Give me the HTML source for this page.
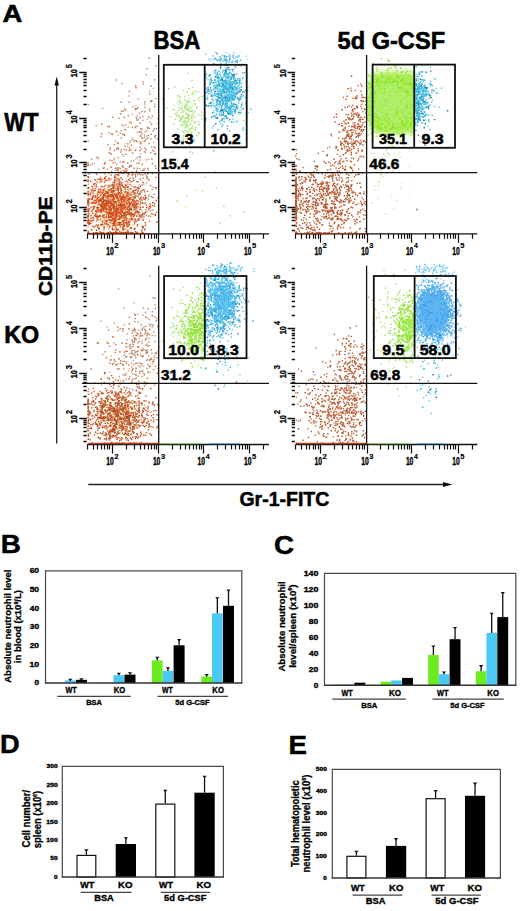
<!DOCTYPE html>
<html><head><meta charset="utf-8"><style>
html,body{margin:0;padding:0;background:#fff;overflow:hidden;}
svg{display:block;}
text{font-family:"Liberation Sans",sans-serif;font-weight:bold;fill:#000;}
</style></head><body>
<svg width="520" height="911" viewBox="0 0 520 911">
<rect width="520" height="911" fill="#fff"/>
<defs><radialGradient id="cr"><stop offset="0" stop-color="#f8e2b0"/><stop offset="0.6" stop-color="#faeccc" stop-opacity="0.8"/><stop offset="1" stop-color="#fff" stop-opacity="0"/></radialGradient></defs>
<ellipse cx="115" cy="207" rx="32" ry="30" fill="url(#cr)"/>
<ellipse cx="118" cy="415" rx="30" ry="26" fill="url(#cr)" opacity="0.55"/>
<filter id="gb" x="-0.5" y="-0.5" width="2" height="2"><feGaussianBlur stdDeviation="3"/></filter>
<clipPath id="c2"><rect x="367.5" y="60" width="46.7" height="100"/></clipPath>
<g clip-path="url(#c2)"><rect x="370" y="73" width="50" height="60" rx="10" fill="#9ce832" filter="url(#gb)"/></g>
<clipPath id="c4"><rect x="415.4" y="270" width="60" height="100"/></clipPath>
<g clip-path="url(#c4)"><ellipse cx="434" cy="312" rx="13" ry="17" fill="#52aaf0" filter="url(#gb)"/></g>
<filter id="bl" x="0" y="0" width="1" height="1"><feGaussianBlur stdDeviation="0.45"/></filter>
<g fill="none" stroke-width="1.4" stroke-linecap="square" filter="url(#bl)"><path stroke="#f0a060" d="M92.2 229.5h0M113.8 210.6h0M87.9 191.6h0M89.1 233h0M113.9 194.8h0M122.6 193.1h0M127 230.5h0M113.4 204h0M127.5 205h0M88.4 221.7h0M128.5 232.7h0M93.2 202.8h0M130.2 208.1h0M98.6 216.4h0M132.9 220.3h0M117.9 232.7h0M114.6 186.4h0M149.4 216.1h0M118.6 223.5h0M126.8 212.8h0M113.3 181.7h0M143.1 219h0M108.9 229.2h0M122.8 215.7h0M125.6 229h0M94.2 185.9h0M104.8 224.2h0M103.6 203.6h0M101.8 181.2h0M118.8 175.5h0M89 213.4h0M130.6 220.6h0M128.9 191.9h0M123.6 210.4h0M111.3 175h0M101.3 232.8h0M107.8 226.8h0M89.2 222.4h0M118.8 185h0M129.6 224.9h0M132.8 203.6h0M116.9 213.4h0M113.6 223.2h0M99.9 199.6h0M119.3 184.1h0M101.6 197.8h0M149.4 206.6h0M119.5 202h0M116.1 186.7h0M105.8 185.1h0M132.7 174h0M88 216.3h0M103.2 198.2h0M127.9 193.2h0M110.2 198.8h0M110.4 195.8h0M115.3 232.7h0M141.9 210.3h0M129.9 206.3h0M96.1 197.6h0M137.1 226.3h0M119.6 185.4h0M104.2 205h0M118.3 171.1h0M132.7 204.7h0M127.8 182.2h0M125.5 222.8h0M111 216.4h0M125.9 206.7h0M108.1 212.3h0M142.2 217.6h0M104.8 220.5h0M101.7 224h0M134.1 224.8h0M132.4 196.6h0M106.3 220.8h0M120.9 193.2h0M115.8 190.2h0M136 205.5h0M111.8 205.6h0M109.5 195.4h0M116.4 196h0M116.9 217.1h0M87.9 227h0M120 205.3h0M96.5 184.2h0M150.8 216.3h0M115.9 210.8h0M124.4 195h0M112.7 217.7h0M103 217.5h0M109.5 217.4h0M123.1 201.4h0M122.4 202.6h0M115.3 195.6h0M101 232.8h0M88.4 194.5h0M136.7 210.2h0M127.5 223.7h0M94.9 232.9h0M133.9 202.5h0M134.5 206.8h0M105.3 211.6h0M112.8 195.3h0M110.5 205.8h0M96.4 203.2h0M137.1 205h0M125.4 203.5h0M99.8 182.5h0M122.2 201.9h0M135.8 188.1h0M113 201.4h0M104.2 190.3h0M104.5 174h0M130.2 192.5h0M102.7 232.5h0M113.2 192.2h0M98.9 210.5h0M103.8 220.3h0M88.1 191.8h0M100.2 177.3h0M296.1 187.3h0M296.5 219.2h0M296.1 195.4h0M295.8 225.8h0M295.7 212h0M296.2 197.2h0M296.1 211.8h0"/><path stroke="#b85a30" d="M135.2 205.2h0M130.5 227.6h0M102.8 198h0M112.5 194.2h0M95.6 196.9h0M127 207.1h0M109.9 231.7h0M88.2 193.2h0M144.6 213h0M119.8 184.4h0M96.6 174.3h0M115.7 220.4h0M125.2 205.8h0M132.4 214.8h0M119.8 192.8h0M128.8 189.5h0M133.9 206.1h0M117.9 219.5h0M114.5 225.5h0M128.3 213h0M128.2 232.5h0M147.5 191.4h0M114.8 221.7h0M94.1 227.3h0M118.6 208.9h0M119.5 216h0M114.8 180h0M135.3 197.8h0M136.6 203.4h0M134.7 214.7h0M117.2 198.8h0M121.7 216.2h0M132.7 201.1h0M88.6 203.3h0M88 176.7h0M99.4 204.5h0M122 198.1h0M111 201.7h0M98.1 211.5h0M95 188.9h0M93.5 233.2h0M111 197h0M133.8 205.1h0M123.9 224.9h0M120.2 186h0M112 212.5h0M93.5 208.9h0M108.5 196.2h0M88 215.6h0M88.3 165.3h0M90.6 181.3h0M128.5 226.1h0M134.2 194h0M99.5 200.1h0M112.3 196.3h0M111.1 213.9h0M104.9 206.8h0M109.7 213.3h0M114.5 218h0M122.8 206.8h0M114.6 210.1h0M127.9 176h0M126.9 191.9h0M125.9 185.2h0M104 217h0M121.5 204.2h0M115.1 215.8h0M144.9 229.2h0M116.7 214.2h0M104.4 209.4h0M126.3 232.6h0M103 201.6h0M116.6 233.2h0M101 205.3h0M124.9 216.6h0M142.5 214.8h0M106.1 222.1h0M101 211.9h0M114.1 198h0M112.7 184.4h0M131.2 208.2h0M113.5 225.1h0M145.1 199.5h0M120.1 213.7h0M105 203.4h0M87.9 165.6h0M125.2 207.1h0M88.5 222.7h0M135.3 231.7h0M118.5 225h0M124.2 217.7h0M97 212.9h0M140.3 204.5h0M122.6 220.7h0M111.3 201.3h0M114.8 221.8h0M111.7 188.8h0M110.4 201.1h0M99.9 231.9h0M116.8 209.4h0M150 203.8h0M130.3 213.8h0M111.5 171.9h0M133.9 191.5h0M132.1 213.6h0M104.1 167.9h0M135.3 208.1h0M110.9 216.5h0M125.2 191.7h0M130.3 198.4h0M114.1 199.5h0M143.9 198.8h0M91.1 190h0M107.9 209.3h0M125.8 172.5h0M116.7 216.7h0M128.1 198.6h0M118.5 175h0M119.5 182.7h0M148.8 209.9h0M89.1 222.9h0M113 190.7h0M90.8 193.3h0M296.1 201.4h0M295.8 189.1h0M296 210.4h0M295.7 218h0M296.3 183.6h0M295.8 218.5h0M296 184.7h0M310.1 392.7h0M363.6 415.3h0M349 385.9h0M354.4 405.7h0M325.5 412.1h0M342.1 429.6h0M341.8 412.6h0M364.6 418.6h0M337 440h0M340.7 429h0M313.3 414.5h0M349.1 381.6h0M343 424.5h0M321.4 419.4h0M338.1 405.7h0M321.2 406.4h0M339.1 415.2h0M353.6 398.6h0M305.2 392.8h0M337.9 424h0M332.9 407.1h0M309.2 394.4h0M335.5 428.6h0M342.6 426h0M333.2 442.7h0M361.3 383h0M352.7 413h0M332.9 380.2h0M355.1 443.7h0M351.6 413.5h0M327.9 433.7h0M308.7 380.2h0M338.4 403.5h0M319.9 427.5h0M351 398.6h0M335 392.9h0M352.3 407.6h0M366.2 369.2h0M348.5 402.7h0M331.3 420.3h0M364.7 364.7h0M318.8 396.3h0M353.8 393.8h0M360.4 413.2h0M297.6 392.7h0M366.4 375.7h0M340.5 417.9h0M358.6 411.6h0M349.1 396.3h0M355.7 398.5h0M365.3 402.8h0M363.4 412.6h0M351.7 431.7h0M328.1 414.4h0M336.9 389.6h0M315.6 404.1h0M351.8 412h0M339.5 440.9h0M341.6 398.2h0M312.7 399.2h0M320.4 443.5h0M352.9 396.3h0M325.1 401.5h0M358.2 392.5h0M312.8 379.4h0M335.4 415.8h0M356.3 399.7h0M352.5 438h0M337.4 432.2h0M336.1 393.5h0M300.9 406.2h0M339.8 397.3h0M326.5 395.6h0M310.6 413.1h0M321 416.3h0M348.7 415.6h0M356.3 382.2h0M353.8 441.4h0M322 402h0M313.5 371.7h0M356.5 435.3h0M344.7 388.2h0M342.5 360.6h0M347.2 365h0M339.3 376h0M358.6 369.5h0M349 393.2h0M354.8 362.8h0M346.1 338.5h0M349.3 367.3h0M349.7 399.4h0M347.1 339.4h0M332.6 355.1h0M363.8 358.6h0M339.8 370.4h0M352.4 353.2h0M334.3 334.5h0M361.9 386h0M342.4 388.8h0M352.8 377.4h0M365.4 365.1h0M346.2 343.5h0M340.3 369.6h0M335.1 373.9h0M344.3 391.8h0M358.2 366.8h0M352.8 376h0M363.5 379.4h0M353.4 373.9h0M344.8 346.6h0M353.9 346.8h0M347.9 369.4h0M351 371.4h0M325.6 382.7h0M358 365.6h0M356.3 326.1h0"/><path stroke="#e8703a" d="M101.1 189.9h0M129.4 213h0M122.2 203.1h0M93.5 207.2h0M128.3 210.8h0M123.7 170.6h0M119.1 232.5h0M96.5 220.8h0M125.4 184.4h0M103.8 195.6h0M113.2 223.5h0M109.2 209.6h0M120.8 212.3h0M111.1 199.5h0M127.6 212.4h0M116.4 213.8h0M133.5 214.8h0M102.6 207.2h0M88.1 220.9h0M95.3 197.6h0M100.9 206.7h0M113.9 187.7h0M130 203.7h0M135.4 212.7h0M121.1 218.6h0M105.5 191.2h0M126 211.8h0M99.6 201.5h0M88.4 184.1h0M100.6 180.8h0M109 212.2h0M96.2 211h0M116.2 219.2h0M125.1 192.6h0M127.7 226.3h0M131 215.9h0M118.1 208.7h0M102.9 208.8h0M113.4 185.3h0M120.7 213h0M97.7 197.1h0M88.4 191.6h0M91.8 190.6h0M120.3 217.2h0M140.6 197.7h0M121.8 210.4h0M116.2 220.8h0M103.7 207.8h0M97.2 195.8h0M99.3 197.4h0M149.6 221.2h0M118.3 222.8h0M123.6 214.7h0M137.2 212.7h0M128.4 221.3h0M88.4 219.4h0M126.1 233.1h0M88.6 232.3h0M94.7 216h0M104.4 215h0M131.9 202.1h0M96.7 220.4h0M101.1 194.5h0M117.4 174.6h0M88.3 204.2h0M141.7 232.9h0M121.6 222.1h0M105.5 200.1h0M129.3 195.1h0M122 232.8h0M127.8 189.2h0M135.3 196.1h0M125.4 169.2h0M131.4 219h0M110.6 215.1h0M118 224.7h0M119.2 207.5h0M93.6 193.5h0M130.3 227.9h0M136.6 232.5h0M88.2 195.6h0M111.9 201.5h0M108.5 200h0M111.9 232.8h0M134 190.1h0M150.4 206.2h0M119 203.9h0M148.4 216.1h0M133.5 199.3h0M104.9 207h0M117.4 188h0M131.3 219.1h0M106.4 223.5h0M105.9 205.3h0M95.3 190.3h0M108.7 187.3h0M94.1 208h0M122.9 197.4h0M124.6 199.1h0M88.3 216.3h0M135.7 202h0M119.3 232.6h0M88.7 214.5h0M107.1 204.7h0M123.6 203.5h0M117.6 194h0M134.6 220h0M128 229.9h0M108.1 205.8h0M113.9 191.5h0M104.2 218.1h0M112.7 214.2h0M144.2 214.6h0M128.6 223.8h0M128.1 207.1h0M123.3 216.3h0M116.6 205.6h0M100 190.7h0M101.6 232.6h0M127 200.7h0M124.8 217.4h0M136.1 233.2h0M119.7 224.9h0M127.8 225.6h0M93.3 190.4h0M111 189h0M124.8 207.4h0M296.3 192h0M296 193.6h0M295.9 181.3h0M295.6 213h0M296.4 207.4h0M296 194.4h0M296 203.5h0"/><path stroke="#e83010" d="M110.9 210.3h0M93.1 220.5h0M94.9 203.2h0M112.9 195.6h0M124.9 213.7h0M119.8 196.3h0M130.7 212.7h0M129.2 203h0M99.6 200.2h0M118.2 209.2h0M145.4 222.7h0M121.3 193.1h0M90.4 220.7h0M101.1 205.5h0M112.4 207.9h0M109.5 227h0M130.8 188.7h0M89.6 223.5h0M133.9 207.6h0M123.5 232.7h0M101.7 206.8h0M119.2 208.8h0M127.1 226.9h0M118.1 229.1h0M135 204.6h0M128.4 206.6h0M102.2 206.3h0M94 190.7h0M112.9 219.8h0M104.4 200.5h0M106.1 206.8h0M136.7 208.1h0M104.1 204.1h0M111.4 232.9h0M104.9 193.8h0M103.1 199h0M145.5 225.3h0M100 210.6h0M101.2 200.8h0M107.4 203.7h0M98.1 225.3h0M106.4 193.1h0M95.7 225.9h0M108.9 213.6h0M130.9 194.8h0M107.3 192.3h0M121.2 196.6h0M128.5 199.7h0M103.6 197h0M97.9 216.4h0M101.9 209.9h0M91 218.2h0M122 209.9h0M120.4 222.7h0M110.3 232.8h0M118.5 211.2h0M114.7 182.8h0M145.5 197.7h0M121.7 211.3h0M102.3 198.5h0M109.7 206.5h0M117.4 197.1h0M88.2 188.3h0M137.6 211.8h0M98.3 207.8h0M96.4 187.1h0M125.3 209.6h0M120.2 213.6h0M93.1 217.7h0M123.4 208h0M142.9 203.3h0M127.2 193.2h0M134.9 207.1h0M108.7 201.9h0M88.1 211.2h0M110.6 217.2h0M116 224.1h0M146.6 207.6h0M110.2 201.4h0M119.1 205.3h0M121.9 212.2h0M108 192.8h0M109.5 209.1h0M130.1 199.6h0M107.9 194.9h0M138.6 212h0M108.8 196.7h0M112.1 203.7h0M124.9 208h0M123.3 208h0M120.2 188h0M108.3 202.9h0M119.1 198.2h0M106.7 233.2h0M116.1 215.9h0M89.1 224.5h0M94.9 183.5h0M107 195.8h0M109 216.7h0M123.5 223.4h0M116.3 212.8h0M128.1 193.2h0M88.5 204.4h0M111.5 202.4h0M110.8 205.4h0M138.2 203.9h0M139.6 216.1h0M115.3 214.3h0M116.5 229.3h0M108.1 232.7h0M106.2 221h0M108.9 178.4h0M111.9 217.5h0M106.2 217.5h0M113.2 207h0M114.8 177.8h0M88.6 220.3h0M93 209.6h0M87.9 202h0M117.5 209.2h0M123.9 232.6h0M127.2 208.8h0M114.4 232.8h0M116.7 209h0M113.4 233h0M99.7 179.4h0M95.3 195.9h0M126.6 232.5h0M101.5 192h0M127.4 193h0M90.6 223.4h0M126.6 195.8h0M122.7 227.1h0M118.8 219.4h0M127 204h0M149 208.4h0M121.1 178h0M138.8 188.3h0M93.9 201.1h0M116.1 196.2h0M118.7 186h0M106.6 180.6h0M113.7 188.7h0M156.4 200.5h0M92.4 197.1h0M104.5 223.1h0M117.8 169.7h0M115.4 218.2h0M295.9 212.5h0M296.2 186.6h0M296.2 203.6h0M296.1 197.8h0M296.4 208.5h0M295.8 214h0M295.7 181h0M295.9 201.9h0"/><path stroke="#f06028" d="M103.1 189.4h0M125.4 232.5h0M152.6 209.9h0M137.4 232.7h0M110.2 222.7h0M99.7 232.9h0M126 216.4h0M141 215.2h0M128.1 232.8h0M105.9 207.5h0M135.8 212.5h0M88.5 199.3h0M132 217.5h0M138.3 196.9h0M115.8 210.8h0M119.5 205.3h0M121.6 232.5h0M134.9 192.8h0M118.6 199.5h0M116.2 194.2h0M114.2 229.4h0M119.7 200.5h0M96.5 225h0M97.7 208.8h0M118.5 213h0M95.9 233h0M108.1 224.6h0M106.1 197.4h0M101.4 207.9h0M154.5 203.5h0M100.5 199.6h0M97.1 201h0M130.5 198.2h0M106.8 196h0M97.9 194.5h0M133.3 201.3h0M92.7 213.3h0M111.5 202.2h0M88.9 194.1h0M146.6 215.1h0M106.6 217.6h0M137.1 210.9h0M121.9 205.7h0M95 179.8h0M131.4 215.1h0M150.6 207.6h0M126.9 193.6h0M125.8 198.5h0M124.2 232.7h0M97 218.3h0M153.4 187.4h0M116.2 212.1h0M123.3 205.6h0M92.7 188.5h0M121.4 211.4h0M152.8 197.5h0M126.7 225.1h0M123.4 208.2h0M110.9 179.1h0M106.2 202.4h0M108.5 203.4h0M109.8 210.4h0M88.4 203.1h0M108.2 185.8h0M102.7 222.2h0M120.9 188.5h0M88.7 220.3h0M107.4 197.5h0M127.4 209.4h0M138.1 206.8h0M104.6 189h0M113.8 206.8h0M105.5 180.3h0M131.3 219.6h0M127.1 200.4h0M134 186.8h0M129.6 205.9h0M103.9 230h0M114.1 232.5h0M116.8 197h0M113.5 191.6h0M116.3 215.9h0M119.2 182h0M124.2 197.5h0M134.3 213.4h0M118.7 202.4h0M96.6 233h0M125.8 214.6h0M109.7 185.4h0M122.1 216.3h0M136.5 221.2h0M88.2 194.1h0M131.2 215.1h0M129.9 194.2h0M120.5 211.2h0M129 202.2h0M112.3 228.5h0M113.1 192.8h0M116.4 178.5h0M100.5 224.5h0M124.5 220.5h0M125.8 217.7h0M132.5 218.9h0M119.7 231.5h0M111.2 167.2h0M130.2 232.6h0M107.5 169.1h0M105.8 197.3h0M98.9 192h0M111.6 221.3h0M108.6 214.5h0M97.3 193.6h0M135.5 211.3h0M88.1 181.2h0M126.1 196.6h0M108.8 203.9h0M128.1 232.9h0M118.1 225h0M97.2 182h0M107.7 205.6h0M116.5 232.5h0M131 216.2h0M104.6 209.4h0M118.2 211.5h0M88.9 210.7h0M110.2 211.9h0M296.1 186.3h0M295.7 213.8h0M295.7 206.8h0M296.3 193.9h0M295.6 195.6h0"/><path stroke="#e85020" d="M120.8 199.3h0M116 215.5h0M123.6 228.2h0M116.6 184.7h0M100.5 195.5h0M97.9 197.6h0M115 202.3h0M98 233.1h0M140.8 198.3h0M88.5 200.4h0M104.2 226.7h0M92.3 198.9h0M106.1 205.8h0M122.5 204.6h0M121.3 199.2h0M95.2 197h0M141.8 216.6h0M123.5 173.4h0M88.2 206.2h0M88.2 210.8h0M98.3 189.4h0M112.5 233.2h0M125.9 222.4h0M118.1 187.3h0M118.9 207.1h0M109 190.4h0M95.8 200.9h0M114.9 176.5h0M128.3 173.2h0M120.5 208.8h0M111.6 195.5h0M89.3 199.2h0M98.7 210.3h0M110.1 213.1h0M143.4 220.3h0M125.9 197.7h0M121.3 224.9h0M110.3 212h0M144 216.6h0M139.9 215.1h0M108.8 192h0M118.4 194.7h0M133.1 203.7h0M109.5 208.7h0M112.2 223.4h0M104.4 204.2h0M120.2 183.9h0M113.9 213.5h0M119.6 207.5h0M118.6 212.3h0M92.1 202.7h0M118.7 189.1h0M127.2 214.2h0M117.6 232.9h0M143.1 182.5h0M98 219.6h0M119.9 207.6h0M114.7 208.6h0M143.4 197.6h0M118.2 179.3h0M112.9 212.7h0M112.6 187h0M135.2 193.4h0M114.4 204.1h0M116 231.7h0M98.5 200h0M91.3 229.8h0M110.4 195.2h0M100.8 179h0M110.8 203.5h0M117.6 189.6h0M113.1 205.5h0M98.1 179h0M103.2 190.8h0M121.5 190.5h0M112.6 199h0M118.2 189.5h0M103.9 210.7h0M121 204.6h0M138.4 188.5h0M88.3 210.1h0M106.1 192.5h0M99.8 215.9h0M136.9 181.8h0M123.9 198.7h0M137.3 193h0M135.5 195.4h0M104.8 177.8h0M88.3 213.9h0M111.7 214.8h0M123.2 194.7h0M102.4 216.4h0M132.4 204.2h0M87.9 222.4h0M102.1 201.8h0M130.9 181.7h0M128.2 198.3h0M121.3 209.5h0M128.1 206.9h0M133.5 192h0M120.5 210.7h0M103.1 203.1h0M111.1 209.7h0M100.5 198.9h0M124.1 225h0M125.4 189.5h0M100.2 204.6h0M104.2 204.7h0M107.3 224h0M111.3 205.1h0M108.8 217.7h0M145.6 212.4h0M140.4 202h0M124.5 201.1h0M133.1 190.9h0M106.2 224.1h0M112.7 200h0M295.8 206.9h0M295.8 225h0M296.3 191.8h0M295.7 201.5h0M295.7 211.4h0M296.3 223h0M296.1 216.7h0M295.8 166.4h0M296.1 209.2h0M295.7 200.3h0"/><path stroke="#e04018" d="M129.4 198h0M114 211.1h0M124.2 226.4h0M142.6 207.1h0M135.3 219.3h0M97.3 198.4h0M102.3 221.4h0M89.4 208.6h0M119.3 172.8h0M94.8 200.3h0M101.9 211.7h0M120 218.4h0M110.6 214.3h0M128 214.3h0M114.6 218.7h0M123.8 229.3h0M132.9 205.7h0M124.6 233h0M106.5 204h0M114.1 202h0M119.6 212.9h0M137.4 200.4h0M136.9 204h0M88 223.2h0M112.6 219.6h0M129 209.7h0M134.4 215.1h0M129.6 204.3h0M104.3 200.5h0M107.7 220.5h0M99.9 215.5h0M106 212h0M123.8 200.5h0M110.7 211h0M87.9 216.5h0M117 214.3h0M112.9 196.1h0M122.5 199.2h0M133.6 205h0M145.2 195.3h0M115.8 225.7h0M123.6 205.3h0M149.7 206.1h0M100.1 192.8h0M114.7 176.1h0M102.5 205.1h0M99.1 228.6h0M116.2 202h0M138 201.2h0M132.6 205.7h0M96.1 185.6h0M109.5 196.3h0M113 213.8h0M88.1 204.3h0M126.3 220.3h0M124 213.3h0M114.7 180.4h0M87.9 201.7h0M110.4 194.7h0M128.7 174.2h0M120.2 194.7h0M104.6 186.1h0M152.6 205.6h0M124.2 218.2h0M124.1 204.7h0M106.6 191.6h0M97.3 217.3h0M102.9 205.5h0M123.8 225.7h0M134.4 229.2h0M134.9 202.3h0M92.1 186.5h0M126.1 185.5h0M107.5 213h0M88.2 203.9h0M130.6 197.9h0M113.8 222.5h0M114.4 223.2h0M130.2 184.4h0M108.9 202.6h0M88.2 211.8h0M115.8 208.3h0M114 219h0M144.6 229.9h0M97.4 207.5h0M126.2 215.6h0M119.5 218h0M100.5 209.9h0M87.9 181.2h0M103.7 201h0M130.3 209.6h0M112.8 219.4h0M113.6 206.2h0M136 206.3h0M116.8 180.9h0M124.1 222.5h0M109.1 172.9h0M88 221.2h0M126.9 203.1h0M113.9 203.7h0M133.9 198.2h0M126.8 222.2h0M92.2 199.3h0M124.5 207.7h0M134.6 203.6h0M88.6 201.6h0M102.5 193.1h0M117.4 208.1h0M104.6 203.8h0M110.8 217.3h0M105.2 203.5h0M93.5 233h0M146.4 205h0M93.3 195.7h0M129.6 222h0M88.3 203.6h0M106.2 202h0M113.7 221.1h0M141.4 230.1h0M123.9 213.6h0M112.8 229.8h0M140.4 179.4h0M135.2 190.3h0M106.6 214.8h0M115.8 195.4h0M134.5 204.2h0M110.7 205.9h0M126.8 224.2h0M115.8 196.8h0M109.3 195.5h0M101.3 224.7h0M124.9 197h0M131.8 214.5h0M142.2 226.5h0M104.7 194.5h0M119.3 184.6h0M120.6 204.8h0M296.4 189.8h0"/><path stroke="#a04818" d="M107.5 198.1h0M156.9 222.2h0M127.4 187.2h0M92.4 192.1h0M95.3 214.1h0M120 216.4h0M116.1 232.6h0M108.4 232.7h0M122.5 209h0M114 223.4h0M112.5 215h0M113 185.4h0M108.2 200.9h0M128.1 186.8h0M111 220.4h0M127.6 200.8h0M125.1 187.3h0M121 232.6h0M103.5 208.4h0M134.8 228.5h0M103.3 210.4h0M119.5 207.7h0M139.9 193.3h0M103.3 233.1h0M95.7 211.3h0M98.5 216.9h0M108.5 206h0M123.2 196.3h0M98.7 228.5h0M88 232.6h0M126.5 223.2h0M101.5 233h0M102.6 224.7h0M125.1 205.9h0M103.1 196.9h0M103.1 215.2h0M103.3 194.8h0M115.1 210.7h0M90.9 215.6h0M143 213.5h0M104.4 200.9h0M129.6 214.5h0M99.8 216.4h0M104 206.9h0M113.8 197.7h0M129.8 208.3h0M139.1 188.4h0M116.3 206.4h0M113.3 196h0M130.5 204.2h0M117.7 198.1h0M110 206.9h0M113.3 190.6h0M96.9 216.3h0M118.2 190.7h0M93.7 184.2h0M116.5 204h0M142.6 232.9h0M134.8 197.3h0M137.6 224.8h0M109 207.1h0M120.9 205.7h0M98.3 192.3h0M106.5 200.9h0M120.3 226.6h0M110.5 220h0M132.6 199.9h0M142.9 228h0M107.7 193.2h0M115.5 201.7h0M88 201.3h0M121.5 207h0M111.8 191.5h0M109.7 213h0M109.4 201.8h0M145.1 203h0M124.4 215.3h0M114.1 201.7h0M112.6 204.8h0M125.1 213h0M111.4 220.4h0M136.8 216h0M96.6 230.3h0M122.9 224.9h0M141.8 215h0M97.7 227h0M106.1 200h0M152.8 202.7h0M122.2 215.7h0M131.5 228h0M111.3 208.2h0M106.2 208.7h0M133.9 180.4h0M128.6 222h0M110.3 210.5h0M126.9 218.7h0M92.2 203h0M111.5 203.8h0M142 200h0M114.4 207.7h0M102.5 201.8h0M140.3 209.2h0M103 198.5h0M119.3 224.2h0M88.2 216.3h0M125 217.4h0M129.2 224.5h0M117.8 208.7h0M123.5 186.9h0M96.2 232.7h0M134.8 209.4h0M125.3 232.6h0M117.2 174.6h0M120.4 205.6h0M105.5 208.2h0M114 211.7h0M131.8 219h0M101.1 200.7h0M139.1 218.8h0M118.6 205.1h0M140.4 186.5h0M131.3 232.4h0M129.4 224.7h0M129.3 206.3h0M117.3 195.9h0M143.6 226.8h0M123.6 220.5h0M128.3 232.8h0M117.5 230h0M119.4 222.5h0M104.8 195.9h0M117.9 200.8h0M144.6 191.9h0M114.8 180.9h0M131 233.1h0M120.4 204h0M103.5 203.3h0M137.3 232.5h0M135.7 187.2h0M113.1 187.9h0M110 189.9h0M107 203.5h0M131.4 209.7h0M88.5 187.7h0M155.3 215.2h0M118.8 192.8h0M122.5 197.1h0M295.9 209.9h0M295.8 194.2h0M296 201.4h0M296.4 200h0M295.7 213.4h0"/><path stroke="#d84818" d="M127.6 212h0M136.2 200.9h0M104.5 182.3h0M113.5 200.4h0M136.6 204.1h0M119.4 219.3h0M123.5 198.4h0M101.3 204h0M121.2 197.4h0M103 202.3h0M102 205h0M119.1 180.2h0M97 207.8h0M108.2 190.1h0M105 204.8h0M117.8 212.7h0M114.5 198.6h0M104.1 195.6h0M127.1 172.7h0M118.6 208.6h0M105.4 178.4h0M118.1 205.7h0M110.9 192.1h0M147.6 173.7h0M134.7 202.6h0M137.6 187.9h0M90.1 194.8h0M98.7 200.8h0M88.7 177.2h0M106.8 211.8h0M120.9 189.5h0M88.1 200.3h0M121.5 185.4h0M109.9 226.1h0M121.5 214.7h0M133.7 216.5h0M123.3 229.6h0M127 180.9h0M113.9 204.8h0M91.2 199.2h0M96.8 199.6h0M125.3 212.8h0M88.1 194.1h0M97.3 232.9h0M134.6 222.8h0M115.3 220.7h0M101.1 186.4h0M117 197.8h0M109.2 180h0M96.3 202.2h0M116.7 208.1h0M113.4 209.4h0M139.6 199h0M95.9 214.7h0M96.2 211.5h0M100.1 189.2h0M118.7 193h0M104.3 205.6h0M109.4 219.7h0M112.2 212.7h0M130.8 213.2h0M107.8 201.5h0M94.6 206.4h0M108.4 215.1h0M100.3 211.9h0M113.8 191.3h0M135.4 174.7h0M114.2 206.1h0M133.4 206.9h0M114.3 224.1h0M128 231.5h0M124.3 232.5h0M114.7 220.3h0M106 176.4h0M137.8 219.8h0M121.3 232.5h0M104.5 178.9h0M113.1 197.1h0M93 203h0M121.4 209.2h0M106.5 216.9h0M122.7 186.3h0M112.1 233.1h0M121.7 232.7h0M93 226.3h0M109.5 207.6h0M121.2 199.3h0M112 184.6h0M124.1 232.9h0M114.2 205.3h0M95.1 203.1h0M91.8 211h0M100.7 210.7h0M124.1 232.5h0M88.4 191.4h0M124.8 201.8h0M134.3 200.7h0M126.5 202.7h0M93.5 206.6h0M118 188.6h0M124.3 232.6h0M128.1 209.8h0M100.7 209.8h0M110.4 189.5h0M103.3 232.7h0M108.9 212.4h0M123.8 186.8h0M118.1 215.8h0M156.6 212.4h0M100.2 209.4h0M155.5 214.4h0M118.3 222.7h0M116.9 209.3h0M106.4 209.7h0M138.4 220.3h0M128.4 232.9h0M125 200h0M129.8 202.8h0M113.3 233h0M103.2 192.1h0M88 202.1h0M112.9 218.4h0M113.5 216h0M112.2 204.4h0M112.5 228.5h0M91.1 207.1h0M296.4 190.1h0M296 232.7h0M295.8 196.4h0M296.1 190.6h0M296.1 201.8h0M295.8 201.3h0"/><path stroke="#c85020" d="M113.7 186.2h0M113.9 190.6h0M117.2 211.3h0M121.9 217.4h0M88.8 202.7h0M92.8 197.2h0M97.5 216.1h0M115.1 221.4h0M123.5 202h0M112.1 191.9h0M111.4 194.5h0M88.2 179.9h0M131.4 214.9h0M104.5 163.8h0M115.6 193.9h0M112.5 226h0M143.2 233h0M114.6 194.6h0M113.7 207.7h0M121.5 182.7h0M140.4 207.3h0M115.9 168.2h0M120.6 224.3h0M101.5 199.7h0M132.9 232.6h0M154.5 206h0M115.3 213.2h0M109.3 203.5h0M118.5 200.3h0M108.4 224.6h0M126.4 218.7h0M116 209h0M100.5 219.5h0M124.5 207.6h0M121 191.4h0M139.4 216h0M102 208.3h0M98.6 202.3h0M116.1 188.9h0M95.3 216h0M122.4 227.9h0M109.1 216.2h0M88.2 231.1h0M104.3 233.1h0M98.5 191.5h0M110.7 209.8h0M129.4 219h0M138.1 191h0M135.2 221.4h0M101.9 209.8h0M136.3 207h0M108.2 209.5h0M100.9 199.6h0M88.5 220.9h0M115.9 230.9h0M108.2 212.9h0M101.6 203.8h0M140.2 194.2h0M111.2 203.2h0M129.5 213.9h0M140.2 216.9h0M115.4 202.2h0M87.8 218.1h0M108.9 200h0M106.5 201.4h0M129.3 213.9h0M114.1 206.2h0M88.2 201.5h0M101 232.4h0M123.2 212.9h0M140.3 207.4h0M105 207.3h0M116.9 211.2h0M89.1 174.1h0M126.8 212.4h0M132.5 174.8h0M129.1 206.4h0M91.6 221.1h0M118 185.6h0M142.2 202.8h0M110.6 232.9h0M121.1 198.8h0M88.5 210.4h0M119.9 181.3h0M113.9 185.4h0M138.7 213.9h0M121.6 206.5h0M137.4 211.8h0M127.4 195.2h0M128.8 201.4h0M113.8 224.1h0M129.4 211.4h0M120.2 208h0M114.2 221.5h0M122.6 212h0M102.9 206.6h0M113.4 196.4h0M115.9 227.6h0M116.4 210.8h0M117.3 232.9h0M98.2 204.5h0M122.8 229.9h0M127.9 196.4h0M115.7 217h0M113.2 215.7h0M88 208.9h0M121.6 200.8h0M134 197.2h0M123.1 221.9h0M88.4 198.7h0M123.8 161.8h0M88.6 199.7h0M116.1 222.9h0M114.8 194h0M131.3 202.9h0M129.3 204.7h0M104.1 228h0M128.7 179.7h0M97.3 209.9h0M121.1 202h0M296.2 226h0M296.5 206.6h0M296.6 232.8h0M296.2 197.1h0"/><path stroke="#d0a080" d="M146.4 182.7h0M145.7 152.5h0M132.3 137.9h0M135.9 159.1h0M115.3 140.9h0M123.6 202.5h0M114 210.4h0M119 198.2h0M147.4 119h0M99.5 231.4h0M109.8 150h0M125.5 124.8h0M127.3 146.4h0M138.3 99h0M139.7 157.4h0M114.2 159.7h0M107.6 126.5h0M135.9 105.9h0M124.2 216.9h0M115.2 162.1h0M118.8 167.8h0M118.9 180.5h0M134.9 140.7h0M129.1 146.9h0M148.6 196.5h0M149.6 91.1h0M154.9 104.3h0M121.8 124.6h0M148.6 159.5h0M123.7 156.4h0M153.6 142.1h0M114.4 158.2h0M155 138h0M124.8 143.9h0M119.4 208.3h0M129.6 122.5h0M117.9 135.4h0M137.6 126.6h0M117.9 147.4h0M132.9 177.5h0M153.5 88.4h0M141 153.9h0M125.6 110.1h0M94.1 163.2h0M98.7 169.2h0M122.3 83.5h0M121.5 110.9h0M118.5 185.2h0M144 184.1h0M127 201.2h0M145.2 168.5h0M107.6 180.2h0M139.8 160.3h0M147.6 207.1h0M140.4 200h0M135.6 187h0M140.9 191.4h0M133 197.3h0M128.6 189.6h0M156.7 173h0M147.2 332.9h0M120.8 380.6h0M129.2 369.1h0M125.9 351.1h0M113.7 337.4h0M144.1 400.8h0M145.1 340.1h0M152.3 363.8h0M140 367.4h0M111.2 355.9h0M134.3 303.1h0M151.2 324.4h0M136.1 368.6h0M137 396h0M131.8 367h0M109.7 372.1h0M143 366.4h0M140 353.9h0M138.6 366h0M139.1 362.8h0M124.4 324.7h0M144.1 326.7h0M138.3 350.7h0M101 321.3h0M128.2 371.1h0M147.7 372h0M136.3 339.5h0M149.2 402.7h0M125.2 375.6h0M149.6 335h0M149.5 334.3h0M144.8 405.5h0M144 350h0M137.7 314.4h0M140.9 365.2h0M126.8 343.7h0M122.9 382.9h0M142.7 370.5h0M124.5 355.2h0M134.9 339.2h0M131.6 347.5h0M107.3 326.9h0M124.3 352.6h0M135 331.7h0M138.4 405.9h0M113.9 395h0M152.4 335.5h0M156.6 351.9h0M118.6 289h0M145.8 330.3h0M132.5 353.6h0M131.2 401.8h0M131.8 350.6h0M146 326h0M101.5 384.9h0M143.3 356.6h0M113.1 385.5h0M133.3 360.5h0M127.3 333.6h0"/><path stroke="#b88060" d="M130 180.5h0M127.8 143.7h0M122.1 165.6h0M146.6 130.9h0M151.7 147.1h0M135.2 127.5h0M130.1 178.2h0M153.2 130.8h0M143.9 172.6h0M147 68.8h0M137.7 107.8h0M88.2 204.2h0M137.1 141.6h0M131.3 166.2h0M101.8 133.7h0M132.1 174.9h0M88.2 202.9h0M158.2 123.2h0M145.8 149.7h0M150.7 152.6h0M139.9 156.5h0M88.1 162.6h0M154.6 106.8h0M121.2 102.3h0M152.4 173.7h0M152.8 150.3h0M109 152.9h0M88.2 104.5h0M142 133.8h0M135.3 150.6h0M102.9 186.5h0M118.9 118.3h0M124.5 135.2h0M130.8 150.4h0M121.2 130.6h0M132.6 153.3h0M123.6 111.1h0M148.6 135.4h0M133.7 160.9h0M147.6 127.3h0M120.9 152h0M123.1 166.9h0M143.2 189.7h0M144.4 189.9h0M126.6 168.4h0M113.7 204.3h0M155.6 153.8h0M142 192.1h0M148.1 168.4h0M137 196.3h0M150.5 185.8h0M138 189h0M145.5 196h0M122.2 184.2h0M88.1 199.2h0M149 194.7h0M117.7 193.2h0M135.5 176.7h0M141.2 215.6h0M158.1 197.8h0M155.8 187.7h0M142.9 178.2h0M132.5 191.4h0M146 198.3h0M107.9 200.4h0M134.1 168.3h0M115.7 174.8h0M139.8 212.4h0M141.3 196.6h0M135.9 368h0M126.2 361.6h0M134 338.4h0M139.9 336.2h0M112.6 336.8h0M157.5 373.1h0M155 298.3h0M134.6 329.3h0M136 335.5h0M149.4 319.6h0M142.8 348.8h0M107.9 343.3h0M146.7 351.3h0M148.9 338.4h0M139.3 393.1h0M142.2 340.9h0M136 351.7h0M142.2 356.6h0M128.8 328.8h0M135.8 358h0M115.8 350h0M115.9 344.8h0M123.1 361.4h0M114 342.9h0M141.1 388.9h0M147.8 364.7h0M145.9 317.4h0M148.4 372h0M132.3 330.5h0M146.4 382.8h0M146.7 360.4h0M118.9 358.5h0M131.3 395.6h0M135.1 338.7h0M147.6 352.2h0M142.2 376.4h0M126.7 363.4h0M150.7 359h0M105.2 351.7h0M132.3 332.8h0M145.6 330.7h0"/><path stroke="#b87a58" d="M156 168.4h0M149.3 58.3h0M136.1 126.4h0M137.9 190.9h0M125 146.1h0M137.5 168.3h0M144.5 137.1h0M149.4 128.3h0M146.3 175.9h0M139.7 131.7h0M148.8 116.7h0M122.5 179.5h0M116.6 131.5h0M98.1 158.2h0M107.9 198.2h0M155.6 135.8h0M141.5 129.2h0M110.3 153.1h0M149.5 110.9h0M135.2 109.6h0M118.3 143.4h0M142.7 174.8h0M112.6 134.2h0M150.6 100.7h0M145.9 139.5h0M150.9 138.9h0M114.4 150.5h0M120.5 113.8h0M116.2 131.1h0M129.6 166h0M135.7 86h0M141.1 149.1h0M117.4 142.9h0M142.2 164.5h0M154.7 153.8h0M117.8 148.9h0M130.3 165.6h0M109.2 126.4h0M110.7 201.9h0M109.7 160.1h0M114.1 144.6h0M140.5 135.8h0M142.5 138.2h0M114.1 185.8h0M153 214.2h0M127.7 163.3h0M124.7 171.2h0M152.3 189.4h0M140.8 174.8h0M110.9 186h0M136.3 141h0M147.9 169.9h0M142.6 170.5h0M151.3 196.5h0M144.1 170.4h0M127.8 195.3h0M153.9 194.4h0M139.1 173.6h0M129.3 211.9h0M134.2 186.7h0M142.2 185h0M134.4 193.3h0M142 231.3h0M125.3 181.6h0M126.8 171h0M145.8 209.9h0M155.5 366.1h0M126.1 343.2h0M138.7 381.5h0M129 401.9h0M155.4 308.5h0M139.9 371.2h0M134.4 350.4h0M153.8 359.7h0M153.5 369.5h0M158.8 347.1h0M149.5 366.7h0M119.8 351.7h0M156.4 320.8h0M119.1 369h0M152.3 315.7h0M139.2 386.8h0M150.2 366.3h0M121 388.9h0M98.4 342.7h0M122.1 343.3h0M151.4 349.8h0M120.4 363.3h0M148.2 308.8h0M117.7 364.1h0M133.3 344.6h0M112.8 377.9h0M105.2 403.3h0M107.2 342.1h0M149.4 345.6h0M129.1 405h0M115.8 395.6h0M136.7 384.7h0M137.2 387.3h0M110.2 403.9h0M134.9 378.8h0M137.7 395.4h0M149.8 329.2h0M156.6 353.4h0M132 353.6h0M133.7 354.5h0M135.5 315.3h0M146.3 345h0M142.1 350.1h0M134.3 328.4h0M109.2 379.2h0M142.5 329.1h0M106.5 357.8h0M141.1 324.8h0M143.4 308.1h0M138.6 376.1h0M149.8 360.9h0M107.5 378h0M130.2 348.6h0"/><path stroke="#c89070" d="M133 106.6h0M87.9 165.3h0M144.4 151.7h0M156.2 65.7h0M143.3 84h0M131.2 123.1h0M145.1 131.9h0M137.3 157.5h0M96.2 125.6h0M87.9 163.7h0M129 96h0M134.1 141.2h0M101.9 187.1h0M148 179.5h0M138.5 119.7h0M128.1 127.1h0M116.7 178h0M146.2 74.7h0M144.6 104h0M136.2 117.4h0M146.9 136.1h0M131.3 165.5h0M117.9 143h0M102.6 108.4h0M150.1 122.5h0M129 102.2h0M128.3 115.7h0M155 147.7h0M139.9 168.6h0M137.5 116h0M123.2 125.7h0M149.6 109h0M137.2 120.2h0M120.2 133.3h0M132.3 113.9h0M142.9 116.6h0M140.1 147.3h0M130.7 140.6h0M136.5 170.2h0M143 81.8h0M137.4 193.8h0M146.8 211.7h0M129 223.8h0M151.5 213.7h0M127 170.1h0M132.1 194.6h0M140.7 215.6h0M153.9 151.2h0M125.5 210.1h0M124 219.1h0M133.8 209.1h0M128.9 195.2h0M143.7 168.9h0M122.7 162h0M150.8 211h0M111.2 175.1h0M127.9 184.1h0M118.4 183.2h0M139.2 338.9h0M152.4 326.7h0M136.2 351.7h0M151.9 353.3h0M135.4 330h0M108.5 343.6h0M148.6 355.9h0M107.4 389.9h0M119.5 376.5h0M126.6 346.9h0M131.4 371.9h0M137.8 355.2h0M129.3 378.6h0M158.2 326.4h0M145.8 407.4h0M136.2 375.2h0M137.8 386.6h0M126.9 356.5h0M138.9 330.3h0M137.8 342.9h0M130.9 357h0M146.9 344.2h0M151.4 358.5h0M141.7 413.7h0M150.3 372.6h0M119.1 408.2h0M143 355.6h0M114.4 323.3h0M132.5 369.5h0M133 368.8h0M145.6 384.2h0M115.2 361.3h0M130.8 357.5h0M153.9 332h0M136.4 377.7h0M142 336.1h0M154.8 355.2h0M132.9 342.9h0M117 394.5h0M126.3 379.5h0M123.1 374.8h0M109.6 346.2h0M131.5 352.2h0M147.4 359.5h0M152.8 361.5h0M140.9 355.6h0M144.6 329.2h0M137.4 354.3h0M118.9 359h0M123 331.2h0M154.9 305h0M132.7 374h0M147.1 383.1h0M139.6 373.2h0M147.6 318.4h0M154.6 385.3h0"/><path stroke="#a89080" d="M143.1 120.4h0M122.7 134.2h0M110.3 148h0M103.1 168.3h0M116 170.3h0M136.6 118.8h0M102.6 204.5h0M156.3 128.8h0M137.5 174.5h0M150.8 118.1h0M102.1 179.2h0M120.2 168.5h0M133.5 210.1h0M152.4 116.3h0M147.7 138.2h0M144.5 135.1h0M101 136.5h0M154.8 136.2h0M144.9 101.8h0M95.5 180.2h0M121.2 138h0M129.1 167.3h0M158 118.6h0M116.4 164.2h0M147.5 128.3h0M137 163.1h0M131.3 161.2h0M114.2 184.2h0M118.2 157.7h0M111.4 154.2h0M152.5 163.7h0M139.5 113.2h0M121.1 149.8h0M154.3 128.8h0M92.3 163.9h0M96.8 157.3h0M93.7 219.3h0M132.9 139.6h0M112.6 186.3h0M135.3 108.5h0M91.6 159.2h0M116.8 183.7h0M148.5 199.1h0M113 182.8h0M117.2 193.7h0M138.3 181.6h0M146.7 197.6h0M133.7 197.4h0M112.5 192.3h0M131.9 192.8h0M134.3 206.2h0M143.2 207.2h0M132.2 206.2h0M132.3 172h0M132.4 181.4h0M122.4 154.7h0M156.1 187.8h0M136.4 189.5h0M137.6 181.5h0M131 357.3h0M145.8 317.1h0M145.8 339.4h0M124.4 355.4h0M155.4 353h0M129.7 376.9h0M127.1 339.9h0M120.2 328.8h0M131.9 363h0M129.5 346.2h0M155 335.7h0M129 379.4h0M128.8 395.6h0M145.1 334.1h0M135.5 363.5h0M130.3 356.9h0M132.7 389.8h0M158.5 350h0M124.9 374.9h0M138.1 322.1h0M136.7 333.1h0M149.3 324.4h0M135.1 353h0M135.8 371.3h0M110.4 360.2h0M114.7 391.9h0M146.2 338.2h0M140.8 335.3h0M152.3 311.7h0M136.2 382.6h0M150 276.1h0M104.8 372.5h0M145.5 350.1h0M141.9 363.6h0M145.4 332.5h0M157.7 326.5h0M129.8 353.6h0M146.1 352.5h0M139.1 411.7h0M143.8 373.2h0M150.3 326h0M137.4 351.6h0M129.9 346.8h0M137.1 384.5h0M129.5 388.8h0M142 330h0M109.5 378.2h0M138.9 384.3h0"/><path stroke="#c87850" d="M154.6 79.9h0M122 185.5h0M144.4 141.4h0M140.4 136.4h0M108 144.8h0M157.5 138.8h0M112.7 117.3h0M129.4 91.3h0M140 123h0M132.3 127.5h0M101.7 124h0M141.8 111.5h0M135.7 150.3h0M111.5 134h0M152 100.6h0M90.6 165.1h0M139.8 117.7h0M136.1 87.8h0M88.5 204.8h0M152 159.3h0M109.2 132.9h0M109 206.8h0M151.1 134.3h0M116.5 149h0M151.6 124.3h0M116.4 80h0M124.3 117.5h0M149.7 93.8h0M158.6 88.8h0M144.9 148.1h0M129.7 148.7h0M136.7 108.7h0M88.1 141.1h0M149 143.6h0M145 111.7h0M116.2 184.4h0M125.1 171.8h0M142.9 190.2h0M101.3 181.7h0M133.4 206.9h0M155.8 188.6h0M111.1 190.3h0M146.8 178.3h0M138.7 163.3h0M134.2 203.1h0M131.4 199.6h0M108.9 187.1h0M145.1 173.7h0M138.8 194.8h0M132.7 379.1h0M148.2 333.9h0M144.3 386h0M127.1 351.4h0M146.6 353.5h0M135.1 355.7h0M142 371.5h0M129.5 393.5h0M132.6 341.1h0M145.4 312.3h0M114.2 359.7h0M155 341.6h0M129.4 323.8h0M115.1 352.4h0M127.2 351.3h0M151 359.3h0M136.9 335.5h0M124.6 361.4h0M153.6 361.5h0M117.8 327h0M148.8 342.1h0M125.8 357.2h0M133.6 364.9h0M124.2 308.1h0M125.9 393.9h0M147.1 335.8h0M122.2 364.5h0M157.1 373.6h0M110 363.2h0M137.9 334h0M123.2 328.7h0M133.4 335.9h0M128.9 365h0M97.4 343.2h0M134.5 342.1h0M153.3 297.7h0M150.9 412h0M120.7 360.8h0M114.2 363.1h0M108.6 330.3h0M142.6 335.1h0M122.8 328.8h0M134.6 314.3h0M132.1 340.2h0M156.7 357.7h0"/><path stroke="#d07840" d="M139.4 173.4h0M117.7 194.1h0M146.2 159.9h0M125.8 154.2h0M154.2 147.3h0M131.5 145.3h0M112 160.5h0M151.1 86h0M126.3 150h0M124.3 149.4h0M155.3 166h0M140.9 142h0M120.3 161.9h0M144.6 141.3h0M137.9 132.4h0M156 98.6h0M142 137.8h0M140 142.1h0M125.2 129.7h0M140.8 143.8h0M118.6 148.9h0M123.1 167h0M105.2 162.5h0M145 107.1h0M136.5 171.8h0M121.6 111.5h0M141 132.1h0M129.1 150.6h0M151.4 101.6h0M147.1 177h0M117.9 168.1h0M131 122.5h0M124.8 109.3h0M121 173h0M121 171.4h0M139.8 150.7h0M133.3 178.6h0M124 134.5h0M109.4 126.8h0M130 142.4h0M141 128.7h0M113.2 162.8h0M155.9 177.4h0M148.9 179.7h0M127.7 199.2h0M134.5 203.7h0M125.2 188.3h0M119.1 179.2h0M139 185.1h0M139.1 194.2h0M131.6 186.1h0M118.2 201.1h0M140.7 190.9h0M131.8 381h0M140.5 333.3h0M134.8 338.2h0M154.1 357.4h0M132.9 346.4h0M101.3 378.9h0M134.9 321.6h0M146 400.7h0M154.8 316.8h0M142.4 350.8h0M123.9 368.9h0M135.4 396.3h0M139.1 341.6h0M141.1 350.1h0M144.4 375h0M129.5 317.3h0M119.2 425.7h0M144.4 382h0M108.3 443.5h0M123.5 365h0M118.3 330.5h0M125.1 351.6h0M110.9 359.7h0M126.4 346.9h0M147.4 349.9h0M113.2 388h0M136.9 363.3h0M142.9 315.1h0M123 413h0M135.3 374.5h0M140.9 363.5h0M135.3 318.6h0M126.2 373.5h0M133.7 330.2h0M117.6 368.7h0M147.2 333.8h0M131.6 357.2h0M138.6 347h0M137.7 346.8h0M149.3 359.9h0M142.2 343.1h0M132.3 370.3h0M131.8 350.4h0M119.6 411h0M158 368.4h0M147.4 378.3h0M156.9 318.5h0M142.4 328.1h0M102.6 354.6h0M130.3 344.7h0M109.1 392.7h0M153.2 325h0M147.1 368.5h0M134.4 340.8h0M147.8 346.3h0"/><path stroke="#98d85c" d="M187.2 117h0M191.7 128.2h0M179 116.3h0M173.9 124.4h0M190.7 136h0M179.8 121.1h0M190.7 108h0M184.8 106.4h0M186.1 125.9h0M183.6 139.8h0M190.9 111.2h0M195.9 127.4h0M186.7 91.6h0M191.5 117.4h0M183.5 111.7h0M180.2 101.8h0M192.4 110.8h0M187.9 114.4h0M198.8 125h0M196.6 135.6h0M168.6 88.8h0M194.1 100.8h0M186 121.9h0M187.5 109.9h0M186.2 123.7h0M182.5 131.5h0M188 114.9h0M198.3 91.6h0M176.6 115.7h0M188.5 110.4h0M193.7 128.3h0M179 110.2h0M189.7 130.7h0M181.9 106.6h0M182.3 125.1h0M179.2 100.6h0M190.6 124.2h0M187.7 131.9h0M198.8 132.7h0M188.8 116.1h0M204.5 99.3h0M177.4 201.2h0M220.2 223.5h0M194.6 316.9h0M200.7 325h0M182.7 303.4h0M184.2 354.2h0M187.9 336h0M201 356.8h0M196.5 315.5h0M183.4 350.5h0M202.6 303h0M180.7 357.1h0M192.7 332.9h0M194.4 317.5h0M196.7 341h0M202.4 320.5h0M188.6 329.2h0M184.6 326h0M186.5 312.8h0M199.1 324.6h0M191.6 334h0M188.9 332.8h0M192.8 342.6h0M191.6 322.4h0M179.7 348.9h0M193.6 332.8h0M185.7 329.1h0M182.1 321.2h0M191.2 363.3h0M172.4 307.5h0M177.1 341.9h0M191.9 336.6h0M202.8 312.3h0M195.1 312.4h0M181.8 326.8h0M184.5 316.4h0M189.6 334.5h0M204.2 356.8h0M202.7 325.3h0M204 359.2h0M194.2 324.4h0M187.4 332.6h0M201.2 358.6h0M201.8 297.4h0M185.6 316.3h0M192.1 339.2h0M198.5 337.9h0M188.4 322.1h0M180 303.5h0M184.2 343.2h0M192.8 302.5h0M200.6 308.5h0M201.7 293.3h0M390.7 309.6h0M410.8 376.8h0M397.7 300.1h0M399.9 298.1h0M397 319.8h0M399 309.8h0M403.5 355.3h0M404.9 348.3h0M376.3 317.7h0M403.1 318h0M374.9 337.4h0M387.9 297.4h0M393.2 307.6h0M409 320.4h0M389.4 342.7h0M368.6 297.3h0M391 324.4h0M403.8 329.8h0M392.4 377.4h0M398.8 340.8h0M387.6 352.6h0M397.7 389.2h0M372.7 324.5h0M393.7 274.6h0M396.7 299.3h0M395.3 383.6h0M387.5 383.7h0M385.5 288.1h0M404.8 349.5h0M399.1 292.7h0M399.4 308.8h0M394.2 329.2h0M390.4 309h0M389.3 343.4h0M388.7 333.3h0M396.3 284.4h0M394.9 328.9h0M396.2 302.4h0M413.9 319.8h0"/><path stroke="#b4e68c" d="M193.9 100.4h0M199.1 122.1h0M182.9 111.5h0M177.6 96.1h0M186.4 102.5h0M187.3 101.3h0M194.2 130.4h0M179.6 120.5h0M180.5 113.4h0M188.6 109.5h0M184.7 124.7h0M185.9 109.6h0M189.2 128.2h0M191.7 134.8h0M199 114.7h0M183.2 135.8h0M192.7 92.7h0M181 119.5h0M177.3 102.5h0M186.9 109.2h0M186.1 107.7h0M183.8 122.5h0M195.7 91.7h0M191.2 134.2h0M194.6 104.2h0M184.7 131.4h0M191.9 120.2h0M191.3 81.1h0M188.6 109.1h0M188.8 108.8h0M191.4 132.3h0M184.8 96.9h0M175.2 119h0M185 108.2h0M188.5 120.1h0M179.3 98.4h0M190.4 129.2h0M199.5 97.4h0M178.3 115h0M192.9 94.6h0M191 136.9h0M182.3 125h0M191.8 133.5h0M175.9 115.1h0M182.2 112h0M184.3 147.6h0M172.6 151.7h0M188 124.6h0M184.2 130.8h0M184 124.9h0M188.9 98.4h0M184.7 107h0M187.3 103.4h0M183.4 90.5h0M183.3 112h0M187.3 131.2h0M182.3 116.4h0M182.4 103.7h0M173.9 109.5h0M166.7 107.7h0M170.3 116.8h0M202.1 119.3h0M204.4 93.4h0M196.6 190.1h0M202.1 191h0M215.2 171.8h0M216.4 187.7h0M189 349.5h0M180.8 300h0M194.8 343.1h0M183.2 287.3h0M180.1 342.5h0M197.2 304.6h0M180.4 329.7h0M181.4 345.4h0M190.9 321.7h0M185 341.8h0M201 296.3h0M199.8 333h0M170.8 327.5h0M176.7 315.7h0M198.1 335h0M190.6 341h0M193 353.7h0M189.2 328.8h0M177.7 310.8h0M181.3 331.4h0M202.7 330.8h0M182.5 330.5h0M196.7 352.5h0M173.4 336.6h0M192.9 333.2h0M201.4 320.3h0M187.7 333.6h0M179.5 339.9h0M195.1 307.1h0M197.9 309.1h0M192 328.8h0M189.4 341.8h0M198.5 348.2h0M188.4 313.1h0M188 342.1h0M199.8 321.7h0M187.4 345.1h0M180.2 317h0M190.6 332.4h0M181.6 325.5h0M195.5 307.7h0M190.2 345.9h0M200.4 338.9h0M198.2 345.6h0M195.1 300.5h0M173.5 323.9h0M191.8 315h0M172.9 332.7h0M180.6 333h0M202.3 302.5h0M204.3 297.9h0M200.3 314.4h0M203.3 314.5h0M203.4 309h0M400 290.8h0M372.7 331.6h0M403.6 346.1h0M403.3 348.9h0M413.6 341.1h0M390.6 330.6h0M398.7 325.1h0M384 305h0M381.1 351.2h0M385.3 327.8h0M404.3 355h0M395.3 333.6h0M408.5 314h0M406.2 337h0M386.8 345.3h0M398.3 331.9h0M386.2 354.2h0M402.1 326.6h0M410.3 301h0M376.3 330.7h0M400 336.8h0M383 355.8h0M387.3 317.5h0M372.4 300.3h0M387.1 354.6h0M385.3 274.2h0M384.1 270.5h0M413.2 332.2h0M389.5 361.5h0M408.4 332.6h0M404.3 321.6h0M398.6 396.3h0"/><path stroke="#a4de6c" d="M179 107.4h0M194.9 111.1h0M188.8 115.4h0M192.1 115.3h0M175.6 113.7h0M181.9 118h0M182.9 116.9h0M187 142.8h0M194.9 117h0M181.4 119h0M188.4 95.1h0M181.2 125.5h0M187.3 131.1h0M192.5 87.4h0M186.3 104.6h0M181.8 109.3h0M174.7 86.8h0M193.9 139h0M179.6 104.1h0M195.1 122.2h0M196.7 106.2h0M187.5 121.5h0M188.5 101.8h0M188.3 133.1h0M195.7 129.5h0M202 96.6h0M183.3 116.1h0M190.1 101.7h0M189.8 111.6h0M187.8 126.2h0M182.1 122.1h0M195 123h0M184.1 122.4h0M186.6 113.2h0M187.8 105.7h0M184.9 99.7h0M184.9 118.2h0M188.9 88.8h0M198.6 133.8h0M180.1 96.4h0M187.8 100.8h0M187.9 109h0M194.5 141.2h0M185.4 118h0M162.2 99.1h0M179.9 117.9h0M192.9 93.1h0M196.9 108.2h0M194.9 103.7h0M186.2 127.2h0M177.2 112.1h0M189.4 115.6h0M201.6 115.1h0M192.8 153.3h0M185 121h0M188.4 73.5h0M178.4 95.8h0M188.7 118.1h0M177.8 128.9h0M174.6 135.3h0M190.3 152h0M186.1 106h0M187.1 196h0M223.9 206h0M230.1 215.7h0M244 212.3h0M204.8 177.4h0M178.1 316.2h0M180.2 290.4h0M199.6 318.3h0M182.7 323.5h0M178 333.4h0M192.5 346.3h0M196.3 333h0M173.6 289h0M192.3 347.6h0M186.1 337.7h0M192.4 312.5h0M173 326.5h0M194.8 361.1h0M194.8 339.7h0M188.5 308.9h0M192.6 335.2h0M184.6 325.6h0M179.7 342.3h0M200.7 317.7h0M178.3 342.7h0M202.5 336.3h0M196.4 335.3h0M195.1 325h0M196 353h0M204.3 303.2h0M203.5 347.5h0M187.5 330.5h0M203.4 333.4h0M194.2 339.4h0M200.8 327.9h0M190.6 351.3h0M179.1 335.4h0M174 326.4h0M202.8 325.2h0M190.5 299.8h0M179.1 354.2h0M182.2 333.6h0M191.6 330.3h0M193 333.5h0M184.3 324.4h0M203.5 316.6h0M196.2 304.1h0M184.4 346.2h0M195.5 353.5h0M191.1 301h0M186.1 320.8h0M194.5 337.3h0M174.2 331.7h0M185.1 312.5h0M186.3 309.7h0M176.9 328.2h0M203.1 295.4h0M199.1 288.3h0M204.7 309.9h0M204.2 313.4h0M204.6 312.9h0M200.4 305.5h0M388 293.6h0M405 269.9h0M395.8 360.5h0M379 312.9h0M387.8 304.3h0M406.5 366.7h0M386.7 299.9h0M381.3 363.6h0M409.2 309.1h0M395.7 335.5h0M384 326.1h0M412.7 354.4h0M382.9 374.9h0M395.9 358h0M397.7 352.4h0M389.7 352.8h0M390.3 333.4h0M402.9 355.6h0M382.7 311.4h0M404.2 312.4h0M389.5 331h0M375.8 309.4h0M404.4 330.6h0M387.8 306.5h0M390.9 317.7h0M380.2 299.8h0M399.3 300.5h0M379.4 317.1h0M385.4 335.3h0M389.6 370.8h0M406.1 386.7h0M409.9 361.8h0M370.3 349.9h0M394.6 354.4h0"/><path stroke="#c0eca0" d="M172.1 110.2h0M184.9 96.2h0M190.2 107h0M194.2 90.9h0M190.8 121.9h0M193.1 128.2h0M189.3 129.7h0M189.7 118.9h0M192 93.5h0M192.8 80.2h0M191.6 115h0M201.7 112.1h0M184.9 104.5h0M183.6 132.8h0M198 121.6h0M193.7 113.2h0M173.8 110.3h0M188.6 121.9h0M184 118.7h0M179.2 107.5h0M188.3 108.9h0M186.8 105.6h0M193.1 112.6h0M185.8 113.7h0M180.6 108.4h0M187.6 137.3h0M192.4 125.8h0M198.3 98.5h0M193.5 121.8h0M183.1 137.7h0M193 105.5h0M188.6 119.9h0M183.7 120.6h0M187.1 118.6h0M185.2 104.8h0M184.2 110.9h0M186.6 104.4h0M192 118.8h0M199.1 100.3h0M192.6 114.6h0M184.9 127.8h0M180.2 102.4h0M174.2 105.2h0M192.7 116.8h0M199.9 100.8h0M185.7 206.8h0M182.2 326.9h0M183.1 313.5h0M195.7 331.5h0M177.6 313.3h0M181.2 342.9h0M178 332.8h0M201.2 328.9h0M198.4 342.4h0M187.6 331.8h0M187.9 319.2h0M203.7 361h0M189.3 320.9h0M193.7 318.2h0M171.7 322.9h0M191.5 329.9h0M183.5 346.7h0M194 349.1h0M185.5 310.3h0M182.3 318h0M202.6 325.8h0M173.6 343.4h0M185.8 344.4h0M176.6 330.1h0M183.5 334.9h0M196.1 334.4h0M191 329.7h0M199.3 308h0M191.2 349.6h0M203.2 342.3h0M189.5 322.9h0M195.4 316.3h0M196.1 306.6h0M174.1 319.7h0M189.4 339.4h0M181.9 323.7h0M172.1 332.9h0M202.2 343.7h0M169.9 358.1h0M170.8 335.1h0M201.7 342.5h0M162.2 341.2h0M199.5 334.6h0M190.2 319.8h0M190.4 321.3h0M193.9 310.7h0M183.6 318.4h0M201 277.6h0M198 290.3h0M201.2 283h0M201.1 305.4h0M201.8 272.6h0M204.6 301.4h0M198.6 295.7h0M201.4 300.3h0M407.9 337.3h0M409.9 290.1h0M381.5 327.3h0M410.2 317.9h0M411.9 357.1h0M403.3 323.8h0M385.2 323.4h0M413.6 337.3h0M388.9 347.9h0M385.8 318.9h0M397.6 345.2h0M387.8 291.2h0M409.4 341.4h0M388.9 331.2h0M380.3 322.4h0M386.4 350.4h0M393.3 368.5h0M398.9 330.2h0M392.7 352.9h0M400.7 335.4h0M381.8 326.6h0M372.7 340h0M393.1 338.9h0M388.2 312h0M412.4 320.7h0M395.9 345.7h0M394.6 316.3h0M398.6 334.7h0M403 348.3h0M406.4 335.9h0M396.6 318.3h0M377.8 350.4h0M389.8 359.3h0M392.9 312.6h0M381.2 378.4h0M393.8 367.1h0"/><path stroke="#28a4cc" d="M205.1 120.9h0M211 82.2h0M221.5 93.5h0M232.3 93.5h0M235.9 84.2h0M216.4 85.1h0M230.1 88.2h0M212.6 112.8h0M227.7 87.6h0M223.9 87h0M233.7 93.1h0M236.3 104.9h0M217 102.1h0M224.9 92.6h0M239.7 98.1h0M239.5 82.7h0M213.8 89.9h0M225.8 103.1h0M227.2 126.1h0M226.6 56.6h0M240.8 113h0M222.8 96.9h0M239.6 89.9h0M235.1 97.1h0M234 92.3h0M236.4 94.4h0M234.5 99.1h0M221.7 95.6h0M220.2 89h0M209.3 103.4h0M239.3 80.2h0M215.9 99.7h0M216 82.7h0M226.4 84.2h0M230.3 98.1h0M219.9 74.5h0M231.9 92.6h0M218.3 93.8h0M226.8 105.2h0M211.6 90.5h0M235.4 61.8h0M231 84.2h0M220.5 104.6h0M230.1 85.7h0M232.8 96.6h0M231.9 95h0M221.9 77.6h0M224.7 105.6h0M216.9 104.8h0M224.3 91h0M228.1 76.9h0M228.9 67.5h0M222.7 85.9h0M214.8 94.9h0M226.3 96h0M218.2 84.9h0M206.7 92.5h0M227.9 98.9h0M233.5 95h0M225.7 60.1h0M230.9 106.3h0M225.9 116h0M230.4 108.9h0M229.6 72.7h0M237.4 97.7h0M229.4 110.5h0M234 87.9h0M225.4 99.2h0M244.5 72.7h0M217.4 94h0M222.9 82.3h0M226.8 102.4h0M233.9 81.7h0M215.2 91.4h0M213.8 63.7h0M225.5 82.5h0M233 98.4h0M225.5 98.9h0M217.4 109.2h0M229.6 69.6h0M221.7 100.4h0M223.1 90.1h0M229.8 92.6h0M228.9 87.9h0M216.5 114.5h0M219.5 91.2h0M217.8 85.9h0M217.7 96.7h0M230.4 101.2h0M231.7 86.3h0M224.3 121.7h0M229.2 108.6h0M228.8 86.8h0M219.2 96.3h0M237.3 88.1h0M226.1 86.4h0M226.1 110h0M245.4 90.1h0M228.9 95h0M232.2 99.6h0M223.1 103.1h0M229.5 130.9h0M210.2 74.8h0M229.2 91.5h0M223.2 70.8h0M231.2 83.8h0M223.2 86.6h0M239.2 99h0M217 104.3h0M214.2 85.7h0M234.9 78.8h0M235.8 109.1h0M424.3 85.8h0M419.8 104.2h0M416.4 97.8h0M421.6 99.4h0M419.4 98.2h0M415.8 83.8h0M417.7 86.9h0M430.8 84.2h0M416.9 91.5h0M428.6 120h0M414.5 85.3h0M415 109.7h0M428.6 108.9h0M418.3 88.4h0M418.5 90h0M434.1 90.7h0M417.3 125.5h0M428.6 93.7h0M420.3 103.2h0M416.3 86h0M415.8 94.9h0M417.3 92.5h0M421.6 106h0M415.8 106.8h0M415.8 130.1h0M421.6 113.1h0M417.1 111.2h0M424.9 80.3h0M423 113.8h0M418.8 112.6h0M419.1 83.8h0M420.9 89.9h0M414.6 108.4h0M418 109.5h0M432.2 85.4h0M417.3 76.2h0M417.7 101.2h0M423.9 88.9h0M419.9 107.2h0M415.8 89.3h0M418.2 92.2h0M414.4 80.9h0M417.2 112.3h0M421.9 99.7h0M416.7 113.8h0M425.6 102h0M423.1 117.4h0M418.6 115h0M414.6 74.9h0M421.3 109h0M417.1 94.7h0M420.3 98h0M426.7 106.8h0M425.6 93.2h0M419.7 84.3h0M419.8 73.7h0M419.6 98h0M416.4 108.4h0M418.5 92.5h0M416.1 96.7h0M422 122.8h0M415.8 95.5h0M420 99.3h0M419.8 86.1h0M416.6 80.8h0M417.9 109.9h0M425 145.2h0M214.6 318.5h0M206.7 319.8h0M207.2 351.5h0M205.6 315.1h0M209.5 333.4h0M213.1 336.5h0M224.1 326.8h0M210 335.7h0M210.5 331.2h0M208.2 334.6h0M206.2 331h0M206.1 368.1h0M217.5 363.5h0M233.3 358.3h0M215.1 385.2h0M219.9 361.4h0M236.7 357.2h0M226.5 351.6h0M235.1 345.1h0M428.4 381.3h0M424 368.8h0M429.4 386.9h0M422.7 361.6h0M436.3 391.2h0M436.2 388.9h0"/><path stroke="#1c7aa0" d="M206.2 105.2h0M230.8 77.6h0M215.8 123.7h0M227.8 96h0M222.1 83.1h0M216.6 118.2h0M227.8 74.6h0M210.9 102.1h0M222.8 85.3h0M228.3 111.6h0M232.8 87.9h0M225.4 71.4h0M232.7 89.2h0M220.4 68.1h0M226.2 104.1h0M233.5 78h0M211.4 96h0M223.3 89h0M217.6 75.3h0M218.7 98.1h0M241.1 90.6h0M211.9 117.3h0M219.2 85.6h0M231.4 78.3h0M221.2 92.2h0M232.5 81.6h0M217 53.5h0M226 88.5h0M207.8 90.9h0M243.1 108.6h0M232.1 74.8h0M221.7 107.3h0M235.6 66.9h0M233.4 75.2h0M226.4 111.4h0M226.5 68.8h0M231.5 93.2h0M233.3 96h0M221.5 83.5h0M222.8 80.8h0M222.1 118.7h0M230.2 113.7h0M233.4 109.3h0M226.1 97.5h0M232.2 76.6h0M218.8 83.2h0M227.7 77.3h0M231.3 82.6h0M225.9 56.9h0M229.6 82.1h0M232.9 115.6h0M233.7 100h0M225.2 100.9h0M227.5 65.1h0M225.3 92.4h0M208.6 89.5h0M238.4 99h0M216.4 86.6h0M227.4 88h0M221.8 80.1h0M221.4 108.9h0M232 82.6h0M236.1 80.7h0M232.4 98.8h0M236.6 107h0M215.7 70.4h0M230 91.4h0M222.6 98.8h0M236.3 93.2h0M235.3 104.6h0M210.5 79.8h0M239.4 88.2h0M222.5 110.9h0M215 93.1h0M223.7 103.2h0M229.7 59h0M212.3 99.3h0M217.6 117.7h0M217.7 65.2h0M226.6 117.9h0M228.6 89.4h0M225.3 80.3h0M233.6 87.6h0M224.6 97.4h0M235.3 97.3h0M220.6 67h0M231.8 103.3h0M233.1 89.8h0M223.5 114.5h0M227.6 67.7h0M227.3 97.7h0M220.8 79.7h0M222.6 102.5h0M234.8 111.4h0M242.8 92.4h0M225.3 86.8h0M225.1 100.7h0M241.7 104.7h0M241.4 94.8h0M220.5 110.5h0M220.9 94.1h0M230.1 80.3h0M232.7 106.1h0M232.4 69.7h0M217.4 109.5h0M237 108.2h0M215.3 80.1h0M222.8 83h0M225.4 96.9h0M226.5 83.5h0M234.9 80.2h0M223.4 112.5h0M217.3 78h0M226.2 85.2h0M228.4 114.1h0M222.4 79.6h0M242.8 78.1h0M222.7 109.9h0M225.2 86.1h0M231.2 107.9h0M229.1 69.9h0M224.5 97.2h0M230.5 84.3h0M237.6 93h0M210.8 105.5h0M228.9 87.8h0M232.7 99.1h0M225.8 71.7h0M229.8 99.1h0M221.3 93.3h0M226.5 80.8h0M208.6 105.8h0M420.6 108h0M422.9 109.5h0M420.5 98.5h0M425.6 91h0M418.4 104.5h0M421.6 96.4h0M414.3 112h0M415 118.4h0M418.9 85.6h0M418.6 105.1h0M414.6 98.3h0M418.8 104.7h0M415.6 123.8h0M421 97.7h0M416.9 105.4h0M424 101.6h0M425.5 87.9h0M416 98.4h0M414.5 111.5h0M423.7 120.2h0M417.9 113.9h0M415.2 110.4h0M447.6 110.8h0M414.5 77h0M419.3 92.1h0M416.7 98.8h0M416.8 111.3h0M418.9 110.2h0M415.9 111.7h0M417.7 94.4h0M418.4 103.9h0M425.2 102.4h0M434.7 119.6h0M418 102.2h0M421.3 85.8h0M417.7 122.4h0M424.3 102.7h0M421.3 89.4h0M424 91.2h0M422.3 94.5h0M418.7 92.5h0M416.4 79.5h0M423.7 94.8h0M428.3 107.8h0M421 103.9h0M423 99.6h0M425.7 88.8h0M422.3 91.5h0M423.1 100.5h0M418.1 107.8h0M422.1 113.5h0M432.1 90.1h0M425.3 123.7h0M430.4 96h0M423.7 120.3h0M416 109.9h0M431.2 97.6h0M429.6 95.3h0M425.6 107.6h0M414.9 109.3h0M428.2 106.5h0M415.2 98h0M426 72.3h0M430.7 71.1h0M426.5 95h0M426.2 87.5h0M414.8 105.1h0M415.4 94.9h0M423.2 96.7h0M420.6 104.4h0M414.9 105.4h0M424.2 127.7h0M416.9 209.5h0M210.7 349.5h0M207.6 319.6h0M206.6 320.9h0M209.8 340.5h0M204.9 326.7h0M210.4 331.2h0M209.7 315.4h0M206 320.4h0M236.5 382.2h0M224.8 356h0M217.2 371.7h0M218.4 389h0M447.7 376h0M428.4 392.2h0M430.8 389h0M428.8 348.5h0M436.2 397.2h0M433.1 374.8h0"/><path stroke="#7ad4ee" d="M207.6 98h0M228.1 88h0M224.9 101.7h0M237.5 83.4h0M226.1 69.1h0M216.4 94.1h0M232.2 110.1h0M225.1 86.4h0M215.1 107.5h0M238.5 84.2h0M220.3 61.4h0M237.7 121.1h0M207.6 89.3h0M224 94.2h0M234.9 78.2h0M228.8 87h0M218.4 103.7h0M216.2 75.1h0M214.1 112.6h0M241.3 110.2h0M217.6 106.2h0M228.9 120.5h0M219.8 120.8h0M226.8 90.7h0M232.2 111.8h0M211 79.9h0M216 107.4h0M238.2 80.6h0M220.4 116.1h0M225.2 95h0M236.7 105.6h0M227.2 92.2h0M207 99.2h0M223 82.3h0M225.7 89.3h0M220.7 99.7h0M226.6 67.8h0M215 58.2h0M224.6 95.2h0M218.2 78.9h0M219.6 71.5h0M221.5 112.1h0M229.6 86.1h0M231.9 93.3h0M216.3 93.7h0M224.6 89h0M225.2 83.9h0M216.5 96.4h0M218 71.3h0M227.9 84.9h0M218.3 80.3h0M227.9 92.3h0M228.5 95.7h0M226.5 83.2h0M219.5 78h0M222.4 87.4h0M229.6 85.6h0M243.8 120.6h0M224.6 90.3h0M232.7 94.3h0M207.1 96.1h0M230.4 91.8h0M226.8 81.5h0M225.8 93.2h0M220.9 111.1h0M225.9 78.8h0M213.4 103h0M234.8 91.7h0M224.1 82.9h0M219.2 82.7h0M247.9 87.6h0M228.8 75.2h0M236.1 74.1h0M228.3 80.8h0M220.4 76.2h0M236.9 109.2h0M233.5 99.5h0M220.7 123.8h0M229.7 76.3h0M241.9 104h0M237.3 79.7h0M235 66.1h0M238.7 65.3h0M242.9 91.6h0M231.1 83.8h0M207.6 87.4h0M236.5 96.5h0M236.6 90.3h0M226.5 104.7h0M239.3 88.3h0M226.7 81.9h0M216.4 75h0M212.9 97h0M233.5 82.5h0M209.5 85.8h0M227.8 106.6h0M218.9 83.8h0M228.7 95.4h0M230.6 93.7h0M232 81.7h0M216.5 113.9h0M225.7 52.6h0M221.3 94.4h0M231 78.9h0M229.8 85.5h0M236.4 88.9h0M220.2 102.7h0M239.1 109.6h0M232 100.7h0M226.8 103.2h0M231.8 84h0M232.9 82.1h0M208.4 75.8h0M229.2 82.5h0M235.1 96h0M231.9 62h0M230.6 101.6h0M214.2 87h0M218.8 71.1h0M238.9 103.4h0M214.8 80.2h0M226.5 90.3h0M228.5 100.5h0M239.8 100.3h0M218.6 77.8h0M226.2 95.6h0M218.9 113.4h0M235.9 94.3h0M231.2 107.5h0M240.7 66.1h0M225.9 75.1h0M242.2 96.6h0M225.5 76.9h0M215.2 93.8h0M213.5 94.7h0M217.1 105.5h0M235.5 112.4h0M223.8 119.3h0M238.9 112.2h0M223.5 84.9h0M221.6 82.9h0M232.8 119.2h0M242.1 102.7h0M233.5 82.8h0M227.2 112.4h0M224 64.6h0M415.8 97.1h0M414.4 100.2h0M414.7 122.1h0M429 93.9h0M415.3 95.5h0M422.3 79.8h0M414.9 100.7h0M414.9 104.3h0M414.2 86.5h0M432.5 89.7h0M416.5 74.2h0M415.1 125.7h0M426.7 93.4h0M415.9 111.4h0M432.5 100h0M422.1 108.9h0M415 102.3h0M414.7 98h0M424.5 80.7h0M414.9 84.6h0M415.6 100.8h0M414.8 110h0M420 101.1h0M416.9 116.2h0M420.7 99.1h0M416.2 102.8h0M417.5 100h0M415.2 117.5h0M414.4 95.3h0M420.7 107.5h0M429.1 83.6h0M422.1 105.5h0M427 99.1h0M424.8 93.9h0M418.8 74.8h0M422.6 106.3h0M421 84.3h0M419.6 141.4h0M416.8 78.7h0M416.6 99.5h0M422.7 106.8h0M416.4 101.7h0M423.3 89.9h0M430.6 67.5h0M421.5 104.3h0M425.8 91.1h0M414.3 86.8h0M415.4 84.7h0M416 122h0M429.1 93.1h0M422.2 65.4h0M425.1 106.1h0M420 102.4h0M420.7 108.7h0M425.9 99.7h0M421.5 89.5h0M418.9 85.8h0M423 90.8h0M415 96.2h0M414.4 80.2h0M419.5 106.8h0M212.1 337.9h0M207.3 354.8h0M206 342.4h0M212.4 313.1h0M210.1 319.9h0M205.4 336.9h0M214.7 349.6h0M213.8 328.7h0M205.9 354.4h0M215 314.4h0M205.7 328.5h0M210.5 330.4h0M204.9 343.9h0M215.3 330.8h0M212.1 329.3h0M224.7 384.9h0M248.3 358h0M223.5 374.9h0M247.7 380.6h0M218.8 356.7h0M216.3 369.8h0M224.1 386.8h0M417.2 390.5h0M435.4 394.3h0M436.1 368.2h0"/><path stroke="#2090b8" d="M234.1 83.1h0M222.3 98.8h0M217 100.6h0M224.6 86.6h0M221.2 58.8h0M232.5 84h0M229.3 99.2h0M225.9 83.8h0M221.3 100.1h0M218.8 101.1h0M226.3 70.7h0M224.1 133.8h0M209.6 91.4h0M224 92h0M229.3 113.4h0M210.1 84.3h0M214 116.3h0M230.8 96h0M234.4 74.5h0M224.8 98h0M218 91.6h0M221.4 86.6h0M228.3 87.6h0M238.3 91.3h0M223.8 89.9h0M225.9 107.1h0M220 101.8h0M218.4 94.7h0M236.5 88.7h0M219.8 59.5h0M231.1 79.3h0M224 109.8h0M232.6 84.6h0M234.6 86.2h0M210.9 103.2h0M223.7 87.7h0M224.8 116.1h0M230.2 77.5h0M229.1 112.9h0M232.5 96.4h0M233.8 74.5h0M220.6 79.8h0M221.5 114.8h0M220.1 103h0M222.1 78.2h0M218 93.9h0M221.5 110.7h0M215.4 91.4h0M231.3 88h0M223.7 85.4h0M236 84.2h0M223.9 74.7h0M220.8 94.2h0M219.4 97.5h0M222.4 90.3h0M209.6 75.7h0M225.8 59.7h0M228.4 94.6h0M216.6 109.4h0M229.9 84.6h0M228 100.1h0M234 76.2h0M230.6 87h0M215.8 76.4h0M205.7 119.7h0M217.6 99.5h0M226.8 105h0M222.9 104.3h0M228.8 85.6h0M228.7 97.5h0M227.1 77.3h0M241.4 87.1h0M222.6 85.4h0M241.1 89.8h0M225.9 107.5h0M231 107.1h0M224.6 82.2h0M223.4 92.1h0M231.4 98.1h0M221.9 90.8h0M224.6 73.3h0M238.9 112.4h0M228 113.1h0M224.9 56.9h0M222.6 83.8h0M218.6 93.8h0M227.4 88h0M234.9 107.1h0M222.7 101.4h0M229.5 96.8h0M229.9 119.4h0M221.9 120.5h0M225.9 72.8h0M215.6 87.7h0M225.4 104.6h0M227.4 118.2h0M237.2 62h0M223.5 85h0M228.2 113.3h0M235.4 93.5h0M217.4 73.5h0M223 92.7h0M225.2 70.2h0M226.4 65.4h0M205.7 75.6h0M224.1 97.6h0M239.8 91.5h0M235.5 110.6h0M218.3 77.2h0M228.1 99.4h0M227.3 90h0M221.3 110.5h0M235.7 83.5h0M221.7 95.2h0M216 59.1h0M207 105.9h0M417.1 114.9h0M415.7 84.9h0M414.6 121.7h0M418.9 116.3h0M418.3 135.3h0M419.5 113.8h0M420.5 120.4h0M427.3 87.7h0M415.5 119.6h0M420.2 88.5h0M418.3 119.5h0M418.7 118.4h0M426.5 102.5h0M424.3 102.4h0M418 100.7h0M420 97.1h0M418.1 103.5h0M414.7 105h0M423.2 93.8h0M416.7 84.5h0M417.8 95.1h0M415.8 99.3h0M424.5 116.1h0M417.2 115.4h0M419.8 119.2h0M416.8 103.2h0M423.9 120.5h0M416.5 97.1h0M420.5 88.2h0M418.9 106.8h0M426.8 88.7h0M418 91.9h0M417.6 112.3h0M417.8 88h0M421.3 111.3h0M421 116.5h0M424.4 87.1h0M418.1 120.8h0M423.1 100.3h0M418.1 103.4h0M423.3 90.4h0M416.7 118.8h0M418.4 89.4h0M419.1 117.2h0M417.4 89.2h0M418.3 102h0M419.8 113.9h0M424.5 87.7h0M424.4 112.1h0M425.5 102.2h0M415.1 88.4h0M420.5 79.3h0M414.4 99h0M414.8 99.4h0M422.1 84h0M424.9 102.9h0M422.2 72.1h0M205 319.6h0M210.4 348.1h0M205.7 331.5h0M205.5 330.8h0M216.4 351.4h0M207.5 337.2h0M205.9 325.9h0M218.2 359.2h0M205.2 340.4h0M205.2 335.1h0M206.9 314.5h0M208.9 321.3h0M210.3 295.9h0M229 357.7h0M225 359.5h0M429.9 390h0M420.8 388.7h0M422.7 407.1h0M419.5 379.7h0M450.9 374.9h0"/><path stroke="#64ccec" d="M231.5 96.5h0M224.6 81.4h0M219.3 83.1h0M229.7 104.1h0M233.6 103.9h0M221.4 91.3h0M230.9 97.5h0M230.3 80.9h0M218.9 96.2h0M212.6 128h0M234.3 98.9h0M220.8 91.3h0M229.7 101.9h0M216.8 74.7h0M220.8 76.3h0M224.3 121.9h0M224.3 95.2h0M235.2 90.2h0M216.7 88.4h0M220.9 113.2h0M220 96.3h0M231.5 98.3h0M224.9 83.1h0M220.3 85.7h0M246.1 104.1h0M239.9 98h0M230.7 100.7h0M211.6 107.1h0M209.8 83.9h0M242.8 73.1h0M228.4 80.8h0M235.1 93.5h0M228.3 96h0M216.3 94.5h0M219.4 94.3h0M206.8 88.7h0M235 89.1h0M238.2 80.1h0M230.6 97.8h0M215.6 96.1h0M226.4 73.4h0M229.9 85.7h0M238 107.4h0M225.4 109.8h0M215.1 80h0M233.5 89.9h0M239.1 113.8h0M237 73.9h0M228.6 93.2h0M236 87.6h0M227.4 96.4h0M233.9 81.9h0M239.2 85.2h0M247.2 89.9h0M234 79.2h0M212.1 94.1h0M228.6 86.4h0M228.3 96.6h0M230.9 81.9h0M230.2 72h0M230 112.5h0M217.4 109.6h0M220.8 89.7h0M226.1 76.9h0M223.4 100.1h0M216.2 86.4h0M248.3 112.9h0M245.8 103h0M228.1 87.7h0M231.9 91.3h0M206.7 78.3h0M233 71.6h0M228.7 79.7h0M228.4 111.2h0M238.5 101.7h0M234.3 93.5h0M213.6 110.9h0M216.7 101.9h0M229.9 96.2h0M221 64.2h0M240.2 83.6h0M226.6 80.4h0M217.6 75.7h0M217.8 82.1h0M228.8 114.8h0M232.2 104.3h0M240 78h0M210.6 89.3h0M207.7 98.9h0M233.4 94.2h0M228 97.1h0M221.5 108.1h0M226.5 95.3h0M245 97.6h0M228.3 97.1h0M220.3 90h0M210.7 83.2h0M242.7 72.8h0M208.2 79.9h0M235.2 97.7h0M226.1 78.9h0M220.5 93.8h0M215.7 117.8h0M232.9 114h0M222.6 89.7h0M230.4 80.2h0M224.4 98.2h0M216.9 89.5h0M209.9 82.2h0M213.6 82.7h0M235.6 84.2h0M212.6 99.5h0M418.3 86.9h0M415 99.3h0M417.3 105.9h0M425.7 102.6h0M417.2 116.7h0M430 98.3h0M422.5 88.8h0M414.6 105.9h0M420.2 99.7h0M416.2 104.8h0M419.1 108.3h0M422.9 93.7h0M417.2 89.7h0M417.2 92.2h0M437.9 93.1h0M436.4 88.4h0M439.2 107h0M420.4 93.1h0M419.1 86.9h0M426.7 115.3h0M415.7 108.8h0M417.7 109h0M414.4 110.7h0M422.5 103.6h0M423.3 109h0M418.3 95.9h0M414.5 104.2h0M417.3 109.8h0M415.2 80.9h0M415 92.6h0M424.2 107.9h0M423.9 96.3h0M427.9 126.3h0M418.9 76.5h0M424.6 95.9h0M426 136.6h0M420.5 91.3h0M419.7 99.9h0M425.2 88.5h0M429 121.7h0M423 87.2h0M422.4 107.8h0M425.7 120.1h0M415.7 92.7h0M431.7 102.3h0M418.4 81.1h0M424.2 90.3h0M425.6 102.6h0M418.5 86.6h0M423.1 92.4h0M415.3 98.1h0M425.1 103.3h0M430.6 86h0M427.7 103.7h0M430 104.8h0M418.8 121.2h0M421.4 104.5h0M417.7 98.9h0M425.2 84.1h0M423.7 94.2h0M420.5 92.6h0M420.3 89.1h0M426.2 107.5h0M208.1 332.3h0M208.8 330.6h0M205.8 337.9h0M206.8 338h0M210.9 323.6h0M207.2 345.7h0M206.2 324h0M205.6 345.5h0M207.4 343h0M217.6 322h0M218.2 315h0M207.7 310h0M210.9 312.7h0M228.3 370h0M222.4 364.6h0M238.3 365h0M425.5 350.6h0M420.3 385.1h0M431.2 413.5h0M426.3 395.6h0M421 388.8h0M438.7 376.5h0"/><path stroke="#38bce4" d="M223.2 102.9h0M217.9 109h0M220 111.7h0M234.6 109.7h0M210.7 87.7h0M250.7 109.3h0M230.5 94.5h0M237.9 86.2h0M236.8 87.5h0M226.4 103.6h0M216.4 118h0M227.3 84.1h0M223 115.4h0M229.6 110.3h0M217.4 100.7h0M228.9 90h0M219.5 77.7h0M222.2 96.2h0M226.6 101.4h0M219.1 86.6h0M230.5 107.9h0M244.4 91.6h0M221.1 105.4h0M233.1 55.9h0M229.4 100h0M226.4 100h0M215.2 73.1h0M206 73.7h0M227.1 82.3h0M213.4 105.6h0M227.4 98.9h0M229.5 110.8h0M225.7 111.4h0M237.7 82.7h0M232 85.8h0M224.9 76.4h0M221.8 97.5h0M225.2 88.7h0M217 102.8h0M240.6 96.7h0M227.2 90.7h0M222 126.5h0M234.9 113.4h0M217.8 111.5h0M220.2 80.3h0M235.3 86.9h0M214 150.7h0M211.5 81.6h0M231.5 106.2h0M231.8 99.1h0M227 108.9h0M228.8 107.5h0M237.1 83.1h0M247.8 90.9h0M218.4 77.1h0M231 105.5h0M214.1 82.6h0M226.2 116.2h0M222.3 72.2h0M221.9 105.8h0M214.5 71.1h0M233.4 87.4h0M226.9 59.9h0M211.5 92.1h0M231.2 77.7h0M232.7 83.7h0M224.4 80.7h0M214.9 88.9h0M241.4 87.3h0M219.9 93.5h0M219.7 115h0M218.6 84.5h0M226.2 62.9h0M229 107.2h0M236.5 81.9h0M223.5 91.5h0M238.1 78.7h0M228 89.1h0M229.1 83.2h0M213.7 125.6h0M222.6 104h0M232.5 85.4h0M230.2 109.5h0M232.2 97.7h0M221.6 97.1h0M219.2 93.9h0M225.9 74.9h0M240.5 98.1h0M213.3 100.9h0M230.4 89.6h0M225.4 86.2h0M220.4 83.9h0M238.9 92.3h0M237.2 92.3h0M225.9 82.2h0M227.7 78.3h0M221.9 100.9h0M232.2 105.5h0M223.6 81.9h0M232.1 96.3h0M232.3 92.2h0M233.4 105h0M227.3 103.2h0M241.3 107.2h0M231.6 90.3h0M220 104.5h0M232 106h0M219.3 84.5h0M227.5 107.5h0M234.3 81.1h0M229.1 97.7h0M235.5 94.3h0M231.4 122.2h0M215 106.2h0M237.2 93.9h0M226.6 92.3h0M215.1 77.2h0M227.1 98.1h0M229.4 106.6h0M232.4 84.4h0M223 124.6h0M234.9 102.9h0M205.7 118.3h0M217.1 111.2h0M242.8 130.2h0M208.2 87.7h0M229.6 84.5h0M223.9 111.3h0M231.7 92.1h0M223.4 88h0M243.2 128h0M239.1 100.5h0M220.8 97.8h0M224.4 55.7h0M226.9 106.9h0M239.7 82.4h0M238 60.4h0M235 96.7h0M214.5 73h0M224.6 75h0M214.8 80.1h0M227.6 99.9h0M419.7 94h0M416.8 89.1h0M420.6 100.2h0M423.8 96.4h0M415.6 91.2h0M420.7 100.3h0M423.7 99h0M420.9 94.4h0M421.2 86.7h0M422.7 99.6h0M426.6 91.4h0M418 114.4h0M415.2 99h0M418.2 91.5h0M419.9 71.9h0M430.8 81.4h0M415.9 90h0M419.5 72.4h0M424.5 115.9h0M414.6 106.3h0M418.3 90.9h0M422.2 79.8h0M419.7 86.5h0M416.2 97.1h0M424.6 95.1h0M416 130.6h0M414.9 100.6h0M432.1 115.4h0M417 118.7h0M418.6 78.9h0M434.6 106.4h0M425.8 93.5h0M427.4 94.9h0M418.4 87.8h0M421.6 95.7h0M422.5 71.4h0M418.3 86.9h0M423.4 81.5h0M416.8 108.5h0M420.5 107.9h0M419.4 74.1h0M418.2 115.7h0M423.5 91.5h0M423.2 97.9h0M430.6 84.2h0M434.8 79h0M416.3 66.7h0M415.5 82.5h0M416.6 90.3h0M418.8 89.7h0M418.6 86.5h0M417.8 91.7h0M425.3 114.2h0M415 101h0M416.9 114.4h0M423 117.1h0M425.7 95.5h0M415 101.6h0M419.1 88.5h0M428.1 91.5h0M414.6 86.9h0M207.5 340.6h0M220.1 312.5h0M205.1 296.6h0M209.9 332.9h0M208.3 312.5h0M210.1 344h0M206 316.2h0M205.4 337.9h0M208.5 321.2h0M213.7 335.6h0M206.2 328.3h0M209.9 299.7h0M205.9 301.3h0M218.8 335.1h0M214.5 319.9h0M208.2 327.7h0M228.2 359h0M225.2 362.3h0M225.5 365.4h0M230.4 367.3h0M435.2 363.4h0M433.9 362.8h0M434.2 360.4h0M441.3 338.1h0M422.7 385.1h0M429.2 400.9h0M422.5 377.4h0M435.4 392.3h0M439.2 376.9h0M436.7 367.7h0"/><path stroke="#48c4ea" d="M222.5 100.2h0M230 107.8h0M231.7 82.6h0M231.1 114.2h0M228.7 76.4h0M208.4 94h0M229.3 84.3h0M220.5 80h0M228.1 98.8h0M228.6 87.9h0M233.3 106.4h0M231.1 73.5h0M228.3 90.8h0M231.3 111h0M228.8 109.7h0M233.6 98.8h0M217.9 129.9h0M233.5 109.1h0M222.4 103.5h0M229.2 101.8h0M222.3 83.4h0M207.4 98.3h0M220.2 81.5h0M234.6 99.2h0M221.1 93.5h0M217.4 72.8h0M231.4 77.5h0M218.5 80.8h0M218.4 89.4h0M222.5 102.6h0M247 76.6h0M224.6 89.1h0M228.5 73.6h0M235.4 96.1h0M233.6 96.7h0M210.2 93.8h0M232.5 90.1h0M240.3 80.2h0M223.8 76.2h0M231.9 76.1h0M210.6 105.6h0M227.8 73.5h0M231.4 114.2h0M226.1 85.6h0M220.1 122.1h0M228.4 87.3h0M224.9 100.1h0M227.6 95h0M227.7 105.7h0M222.8 78h0M215.4 95.4h0M238.5 91h0M219.6 74.4h0M231.5 88.2h0M230 88.6h0M235.5 82.7h0M225.3 105.4h0M216.2 85.3h0M223.8 100.9h0M230.9 106.4h0M224.3 118.1h0M215.7 115.9h0M234.4 104.5h0M230.4 111.7h0M225.2 73.9h0M233.1 122.2h0M226.4 64.4h0M218.2 81.4h0M217.5 93.3h0M234.7 89.9h0M225.8 85.9h0M222.5 93.1h0M233.9 77.2h0M227.1 69.2h0M231.2 82.3h0M240.9 99.2h0M220.7 65.9h0M227.1 94.3h0M216.1 77.4h0M243.3 95.7h0M236.4 121.7h0M231.9 105.6h0M213.9 88.1h0M227.7 100.9h0M228.1 95h0M211.9 80.6h0M226 74.1h0M210.9 78h0M228.7 94.5h0M227 95.2h0M235.4 96.4h0M219.3 104.4h0M234.9 95.3h0M216.5 108.3h0M226 104.7h0M224 87.6h0M237.5 106h0M222.3 89.5h0M226.3 87.1h0M215.1 80.7h0M239.5 81.8h0M231.6 112.4h0M237.9 140.4h0M213 105.1h0M233.3 96.3h0M225.9 87.3h0M212.7 95.8h0M224.2 100.8h0M222.4 91.8h0M215.9 109.7h0M228 101.1h0M232.7 111.8h0M219.8 95.4h0M242 83.1h0M228.2 84.9h0M227.3 94.5h0M227.3 128.8h0M217.8 87.9h0M223.3 86.4h0M221.4 92.4h0M234.1 68.8h0M226.3 84.9h0M227.7 105.5h0M218.7 100h0M224.4 108.3h0M229.7 69.7h0M229.3 74h0M228.1 94.8h0M211.3 79.8h0M219.6 107.1h0M228.2 87.1h0M217.6 91.1h0M212.8 83.3h0M218.2 104.9h0M228.8 83.2h0M214.1 116.1h0M416.7 114.5h0M426.1 104.1h0M417.4 115.8h0M419 98.3h0M416.1 101.9h0M415.4 103.8h0M415.5 87.5h0M417.9 111.1h0M417.9 113.2h0M423.9 104.1h0M415.3 103.2h0M421.6 109.3h0M428.3 115h0M415.8 91.4h0M416 95.1h0M424.2 111.5h0M421.7 87.4h0M414.7 79.5h0M422.5 102.3h0M414.4 70h0M425 86.3h0M424.9 112.1h0M425.4 91.1h0M415.3 100.1h0M417 96.5h0M419.7 118.1h0M429.9 129.4h0M414.8 114.9h0M422.3 98.4h0M415.2 109.5h0M441.6 88.2h0M419 84.4h0M426.2 95.7h0M429.2 105.8h0M419.5 91.9h0M415.2 79.4h0M427.9 102.5h0M422.4 86.8h0M416.4 119.5h0M421.3 88.5h0M429.3 98.4h0M425.7 115.5h0M424.8 104.2h0M415.2 123.7h0M420.6 81.4h0M417.4 110.9h0M424.9 95.3h0M425.4 95.2h0M420.1 114.1h0M419.2 101.4h0M419.3 103h0M419.9 103h0M415.6 91.9h0M417.7 101.4h0M415.4 97.1h0M420.3 82.3h0M418.9 105.3h0M423.5 116.9h0M432 92.8h0M436.2 93.3h0M415.3 118.1h0M420.2 108.6h0M423 79.8h0M421.8 75.8h0M415.3 111.5h0M420.5 100h0M423.1 114.3h0M210.7 324.5h0M206 344.8h0M220 342h0M215.6 308.5h0M204.9 333.8h0M207.5 324.5h0M211 309.7h0M206.4 313.1h0M206.6 320h0M205.3 345h0M205.4 368.8h0M205.5 323.5h0M205.3 309.1h0M208.8 316.5h0M240 374.5h0M226.5 349h0M423.7 397.6h0M439 374.9h0M437.9 378.9h0M430.1 393.5h0"/><path stroke="#58bcec" d="M238.2 56.2h0M232.8 61.1h0M239.2 55.9h0M217.9 60.8h0M205.8 54.1h0M240.8 60.3h0M224.3 60.5h0M232.1 62.2h0M215 58.3h0M219.2 59.7h0M229.4 55h0M237 61.2h0M208.9 58.9h0M226.7 61.4h0M214.8 59h0M215.2 275.3h0M223 270.8h0M225.1 267.8h0M218 267.6h0M205.7 269.4h0M226.5 269h0M223.9 271.4h0M209.2 267.7h0M225.3 273.7h0M231.8 270.8h0M212.4 264.9h0M235.8 270.2h0M230.8 270.7h0M233.2 267.7h0M212.5 270.7h0M227.3 270.9h0M429.3 320.7h0M441.8 325.4h0M415.1 325.2h0M417.9 323.2h0M440.8 299.2h0M424.2 300.4h0M428.1 315.3h0M415.7 318.9h0M430.2 325.9h0M446.9 301.8h0M445.7 302.8h0M437.1 288.2h0M437 286.3h0M420.9 326.4h0M444.7 292.7h0M425.9 299.6h0M436.3 334.8h0M416.5 306.5h0M436.9 324.5h0M439.8 310h0M443.9 324.6h0M428.3 310.7h0M418 324.6h0M435.9 309.6h0M451.4 341.7h0M450.3 317.3h0M431.5 312.7h0M432.2 319.3h0M453.6 318.3h0M431.8 302h0M445 307.8h0M445.9 290.8h0M438.9 294.8h0M418.1 292.3h0M458.6 310.2h0M461.1 314.9h0M432.2 302.9h0M429.5 331.3h0M438.9 342h0M444.2 294.4h0M432.1 343h0M440.7 325.2h0M453.3 315.7h0M442.4 360.1h0M443.9 335.8h0M457.7 354.5h0M441.8 343.9h0M438.8 336.5h0M443.6 271.3h0M452.1 318.4h0M438.8 325.3h0M416 326.1h0M447.2 318.7h0M421.2 316.5h0M435.6 301.5h0M453.4 341.9h0M435.7 309.8h0M424.5 308.4h0M443.6 283.3h0M424.3 298h0M418.2 356.2h0M436.8 341.5h0M438.3 306.6h0M423 329.8h0M440.6 338.9h0M429.2 285.5h0M443.2 327.8h0M429.1 304.2h0M429.9 319.6h0M423.4 308.5h0M423.2 329.8h0M432.7 305.3h0M422.8 349.4h0M429.5 301.7h0M433.5 348.8h0M434.9 294.1h0M444.1 328.9h0M459.3 348.5h0M450.6 335.7h0M439.8 326.9h0M433 301.8h0M433.4 339.5h0M446.3 320.5h0M429.8 314h0M419.7 342.8h0M431.2 307h0M425.2 315.4h0M452 307.1h0M434.5 311.8h0M418 320.5h0M446 306.9h0M437.1 327.1h0M424.3 309.5h0M424.4 317.7h0M427.2 302h0M425.1 312.6h0M447.3 317.1h0M422.5 310.9h0M418.9 326.5h0M444.1 324h0M444.6 348.2h0M421.8 306.9h0M419.6 285.6h0M441.9 348.6h0M421.1 321.5h0M446.1 330.1h0M419.9 297.9h0M442.2 317.7h0M419.8 299.2h0M451.2 332.6h0M420.1 329.1h0M417.4 334.3h0M441.4 308.1h0M428.8 306.9h0M429 320.6h0M427.6 316.5h0M425.5 301.5h0M445.3 271.2h0M443.2 267.7h0M430 269.2h0M416.7 266.5h0M446.9 268.1h0M419.7 266.2h0M424.8 264.5h0M434.2 269.5h0M440.4 272h0M423.1 272h0M448.6 273.5h0M434.1 270.5h0M419.5 268.7h0"/><path stroke="#6cc8f0" d="M226.4 56.9h0M226.5 60.8h0M233.9 52.4h0M225.3 65.1h0M222.4 55.3h0M232.8 57.2h0M233.3 54.8h0M213 55.9h0M216.8 60.4h0M237.4 57.4h0M229 56.6h0M230.2 56.1h0M226.7 56.8h0M220.3 57.1h0M224.5 58.6h0M226.3 62.8h0M226.3 58.9h0M253.9 269h0M230.3 271.8h0M215.2 269.2h0M217.5 271.2h0M231.4 268.2h0M238.8 266.9h0M215.9 269.5h0M229.4 270h0M240.5 270h0M237.2 270h0M223.6 267.4h0M227.8 264.2h0M240.3 270.9h0M237.1 268.7h0M253.9 271.6h0M236.5 269.9h0M212.6 273.6h0M221.8 272.1h0M419.5 300.4h0M437.8 349.2h0M436.9 322.5h0M433.8 302.4h0M433.2 350.7h0M443.3 325.7h0M428.7 328.3h0M449 307.2h0M447.2 321.6h0M433.7 312.7h0M429.2 288.1h0M441.7 320.3h0M438.8 304.8h0M436.6 341h0M431.9 313.5h0M417.2 311h0M420.8 305.5h0M423.2 291.1h0M431.3 310.3h0M427.1 343.5h0M435.4 331.8h0M438.1 315.8h0M425.4 338.9h0M423.5 328.4h0M417.8 325.3h0M417.8 321.6h0M429.8 314.4h0M425.7 316.2h0M421.1 340.3h0M452 296.1h0M430.4 334.2h0M443 292.7h0M418.5 271.8h0M446.7 285.7h0M442 306.9h0M451.6 317.2h0M421.1 320.2h0M433 330.4h0M454.6 330.9h0M426.4 295.9h0M439.9 337h0M435.3 282.8h0M426.6 327.6h0M414.6 344.9h0M437.4 313h0M427.8 330.8h0M438.4 311.6h0M442.4 294.2h0M415.5 309.4h0M421.2 306.6h0M417.1 332.1h0M429 329.7h0M421 366.1h0M446.5 314.3h0M437.3 311.7h0M424.6 328.9h0M432.6 307.6h0M423.1 271.8h0M448.3 295.5h0M419.5 317.1h0M423 329.3h0M444.1 333.1h0M427.6 293.2h0M417 330.8h0M446.8 312.8h0M437.5 337.3h0M433.3 320.7h0M441.3 309.5h0M422.9 294.1h0M427.1 307h0M453.3 311.7h0M433.4 290.1h0M420.9 322.2h0M457.8 312.3h0M417.6 296h0M414.8 321.6h0M428.3 363.8h0M419.9 302.2h0M426.4 305.8h0M422.7 315.1h0M431.9 308h0M443.3 323.6h0M427.1 289h0M424.1 324h0M421 303h0M432.7 292.8h0M453.8 342.8h0M437.7 301.2h0M454.9 327.4h0M457.7 315.3h0M447.8 319.2h0M423.4 368.7h0M435.7 327.4h0M436.9 344.5h0M447.6 310.2h0M430.2 339h0M452.6 291.1h0M427.8 327.5h0M421.1 321.8h0M433.3 281.4h0M420.1 340.9h0M456.7 307.5h0M439.6 305.2h0M435.4 289.2h0M434.3 302.4h0M442.4 318.1h0M454.2 302.1h0M427.8 312.4h0M424.3 335.1h0M425.9 325.2h0M430.8 321.2h0M436.5 270.6h0M435.5 326.9h0M465.7 327.1h0M417.9 317.8h0M452.3 274.4h0M422.8 301.8h0M448.9 293.5h0M435.4 268.7h0M436.7 272.4h0M433.3 271h0M416.4 267.9h0M443.5 265.5h0M426.4 267.5h0M439.6 265h0M453.7 272.3h0M436.2 266.9h0M432.6 273h0M443.5 267.6h0M429.3 271.5h0M442.7 271.5h0M419.5 266.9h0"/><path stroke="#80d0f2" d="M220.5 63h0M211.8 59.2h0M230 57.9h0M209.9 60.3h0M221.5 60h0M235.3 57h0M223.1 60.6h0M219.4 56.7h0M233.8 58.7h0M236.2 60.3h0M215.6 52.4h0M224.2 59.9h0M228.9 60.9h0M230.1 61h0M240.5 268.7h0M213.7 265.3h0M217.4 269h0M234.7 272.1h0M239.3 265.8h0M221 266.7h0M225.9 266.5h0M212.7 272.7h0M220.7 273.8h0M241.3 267.7h0M219.8 270.7h0M225.4 268.9h0M237.9 273.2h0M220.9 266.4h0M242.3 267.3h0M218.8 270.7h0M223.6 268.7h0M238.3 266.3h0M234.2 269.5h0M240.3 269.2h0M221.4 266.9h0M457.8 289.6h0M433.5 342.2h0M415.6 326.6h0M446.8 312.2h0M426.1 326h0M425.2 314.4h0M441.8 301h0M417.7 315.2h0M424.5 360.3h0M428.6 280.6h0M437.3 284.2h0M445.7 303.9h0M418.5 285.9h0M440.9 330.3h0M425.1 310.5h0M444.3 324.5h0M439.5 358.1h0M417.6 269.4h0M428.6 330.8h0M419 308.7h0M435.4 291.1h0M429.8 294.8h0M421.3 292.6h0M420.3 300.9h0M432 318.6h0M430 338.1h0M437.9 331.8h0M420 352.1h0M425 340.8h0M423.3 300.7h0M445.9 292.9h0M415.5 317.5h0M440.7 350h0M431.1 317.4h0M434.1 300h0M423 299.1h0M435.3 308.8h0M424.1 325.2h0M417 298.2h0M429.2 309.9h0M432.4 323.9h0M437.5 364.8h0M436.8 297.8h0M439.5 304.8h0M423.9 303.5h0M442.7 341.8h0M445.5 351.4h0M443.9 306.4h0M439.8 329.4h0M441.9 271.9h0M438.2 317.6h0M427 303.6h0M437.3 300.4h0M452.5 335.8h0M424.3 297.6h0M447.6 348.7h0M437.7 311.1h0M452.6 355.7h0M415.3 316.8h0M421.3 334.6h0M434.4 294.9h0M441.3 340.1h0M425.4 315.6h0M425.6 314.7h0M445.4 305.4h0M424.2 313.8h0M421.1 307.5h0M454.9 328h0M446 324.5h0M428.7 299.1h0M423.9 294.3h0M421.7 301.6h0M447 267.5h0M440.6 300.9h0M426.5 279.2h0M426.7 307.2h0M427.9 299.2h0M437 317.5h0M426.1 336.2h0M439.1 286.1h0M415.3 303.3h0M441.8 313.3h0M419.9 327.6h0M417.4 347.2h0M439.2 325.4h0M425.6 341.3h0M429.3 317.5h0M420.4 319.2h0M427.2 315h0M432.4 298.2h0M446.2 320.9h0M436.1 332.2h0M446.4 310h0M443.7 280.8h0M431.5 304.7h0M439 311.4h0M426.9 309.5h0M437.3 296.9h0M435.8 289.7h0M435.4 288.6h0M436.5 351.3h0M429.1 322.7h0M429.1 325.4h0M432.3 334.8h0M424.9 297.1h0M416.6 314.1h0M438.2 300.1h0M441 354h0M431.8 315.8h0M417.5 326.3h0M421.2 309.2h0M435.6 355h0M426.8 315h0M431 302.9h0M426.8 282.6h0M425.9 316.4h0M437.7 275.6h0M436.2 311.6h0M416.6 342.1h0M444.6 302.9h0M426.6 288.5h0M443.8 330.1h0M424.3 286.5h0M424.6 347.1h0M441.6 337.4h0M429.7 301.7h0M424.6 308.8h0M435.5 319.8h0M428.2 268.3h0M418.9 270.8h0M434.3 264.9h0M429.2 270.7h0M445.2 270.3h0M445.2 270.4h0M425.4 265.9h0M427.6 268.2h0M425.1 270.5h0M421.6 269.9h0M441.5 266.6h0M423.7 269.4h0M432.9 275.3h0"/><path stroke="#90d8f4" d="M221.5 60.5h0M229.7 55.5h0M222.4 56.2h0M228.6 62.3h0M227.6 61.2h0M229.6 61.8h0M247.7 59.4h0M209.5 60.7h0M225.7 57.4h0M236.1 57.3h0M223.1 61h0M217.3 59.6h0M246.3 56.2h0M213.2 59.9h0M209.1 268h0M226.8 271.7h0M230.4 267.8h0M220.9 268.6h0M227 267h0M217.5 268.3h0M221.3 267.3h0M230.1 269h0M235.6 269.1h0M225.8 268.7h0M216.4 271.9h0M219.5 269.7h0M419.9 342.6h0M443.6 320.1h0M429.9 320.9h0M450.4 312.5h0M425.8 321.8h0M428.3 297.3h0M439.8 323.5h0M445.9 268.3h0M425.1 334.9h0M428.1 330.8h0M422.8 346.2h0M454.9 315.4h0M429.1 334.6h0M443.6 303.7h0M445.7 300.2h0M427.2 334.2h0M426.9 313.2h0M423.3 281.9h0M445.3 323.7h0M432.3 286.7h0M442.8 321.4h0M454.9 311h0M419.6 317.5h0M420.3 312.9h0M445.3 325h0M422.9 306h0M426.3 343.4h0M435.4 323.1h0M431.2 305.4h0M415.6 308.4h0M418.4 298.6h0M442 292.7h0M449.9 301.5h0M433.2 311.3h0M450.8 325.6h0M431.6 310.5h0M432.9 324.8h0M422 331.9h0M433.8 306.4h0M433.8 299.3h0M456.2 305.4h0M446.8 330.6h0M437.1 312.5h0M441.3 290.4h0M437 308.3h0M428 288.1h0M439.6 312h0M447.5 337.3h0M433 284.5h0M417.5 327.2h0M432.5 281.1h0M438.7 322.7h0M426.9 292.5h0M431.1 318.7h0M437.2 278.3h0M446.3 303.2h0M430.6 315.1h0M434.9 298.3h0M444 317.8h0M428.5 300.4h0M443.1 316.2h0M450.4 301.3h0M430.1 288.7h0M420.8 302.9h0M418.8 328h0M450.8 315.9h0M422.6 336.2h0M444.2 307.8h0M421.9 309h0M422 342.3h0M422.3 279.4h0M438.9 366.9h0M448.8 322.5h0M418 332h0M418.5 301.5h0M443.8 303.6h0M419 309.8h0M427 336.3h0M433.4 294.6h0M457.8 337h0M449.9 312.7h0M430.9 299.9h0M426.4 312.1h0M439.5 320.4h0M435 306.2h0M442.4 326.2h0M450.2 314.7h0M447.5 343.4h0M443.8 329.2h0M443.7 312.1h0M422.3 342.7h0M436.2 321.3h0M423.8 308.5h0M448.8 304.5h0M441.5 314.7h0M439 310.6h0M422.6 333h0M430.4 336h0M437.9 349.4h0M440.4 278.8h0M436.6 315.6h0M427.3 318.5h0M430.3 302h0M431.6 334.5h0M434.5 316.7h0M445 291.5h0M454.6 312.3h0M436.4 302.9h0M419.2 312.5h0M429.8 294.8h0M418.8 307.8h0M416.8 307.9h0M444.4 293.7h0M430.1 333.9h0M426.2 333.4h0M421.5 331.5h0M424.2 324.1h0M439.3 315.5h0M438.2 332.1h0M422.2 290.5h0M423.5 296.9h0M447 342.6h0M419.6 329.3h0M435.9 313.7h0M427 337.3h0M415 311h0M442 318.2h0M440.9 291.5h0M427.3 316.5h0M415.9 329h0M430.9 332h0M424.3 268.7h0M445.4 271.8h0M435 266.1h0M426.9 270.1h0M424.6 272.5h0M434.1 268.3h0M439.9 268.9h0M431.6 268.4h0M432 267h0M424.3 267.6h0M421.2 272.6h0M419.1 271.2h0M442.2 269.2h0M437.9 265.8h0M443.1 271.3h0M415.6 272.5h0"/><path stroke="#985030" d="M298.2 208.5h0M346 158.1h0M295.6 232.6h0M347.7 193.3h0M310 189.6h0M295.7 203.1h0M337.1 212.6h0M300.1 204.6h0M325.3 216.5h0M332.5 178.4h0M295.9 214h0M312.6 232.4h0M317 194.3h0M365.5 231.6h0M336.3 197.6h0M298.5 196h0M346.4 220.6h0M298 190.3h0M328.9 176.3h0M300.5 208.9h0M362.2 173.1h0M328 194h0M343.6 201.7h0M303.9 181.4h0M365.2 210.8h0M316.5 200.3h0M301.9 176.7h0M341.4 187.2h0M334.3 185.8h0M300 171.1h0M295.7 201.3h0M317.7 203.6h0M345.3 214.7h0M349.4 195.9h0M318.2 205.3h0M296.4 200.6h0M335 207.3h0M324.2 204.8h0M333.4 189.7h0M353 203.2h0M295.8 202.6h0M335 216.4h0M315.4 168.5h0M341.7 214.1h0M349.1 194.6h0M335.5 216.2h0M334.4 194.5h0M296 197.2h0M323.1 190.9h0M337.6 214.3h0M351.8 215.1h0M305.2 177.5h0M337.2 193.3h0M336 188h0M311.2 177.5h0M327.4 219.1h0M296.3 174.2h0M323.7 188.6h0M315.9 203.6h0M326.3 195.8h0M310.1 179.6h0M360.5 193.2h0M321.5 186.1h0M316 213.6h0M303.6 206.1h0M296 212.2h0M339.4 177.5h0M348.6 218.6h0M305.7 201.8h0M330.2 192.7h0M304.6 233.1h0M329.1 218.1h0M298.8 177.9h0M348.2 187.3h0M306.6 212.9h0M302.7 228.4h0M328.2 188.9h0M306.4 224.7h0M328.9 232.5h0M321.9 195.3h0M347.2 189.6h0M314.6 190.1h0M313.7 180.3h0M311.2 233.1h0M359.7 228.9h0M296 190.4h0M328 189.9h0M296.1 226.1h0M351.3 185h0M346.9 199.7h0M340.6 190.2h0M328.6 187.4h0M296.1 206.9h0M363.9 219h0M309.1 200.6h0M325.3 175.1h0M321.4 184.4h0M327.2 182.3h0M315.3 166.1h0M307.9 208.4h0M344.4 195.8h0M325 207.9h0M296.1 194h0M307.8 232.5h0M337.3 219.2h0M297.4 184.6h0M300.5 194.1h0M330.6 226.1h0M325.7 210.9h0M317.6 198.6h0M351.8 190.5h0M331.2 172.7h0M358.6 169.1h0M337.9 227.1h0M295.7 198h0M348.7 118.4h0M345.7 138.1h0M346.3 141.6h0M362.9 145h0M351.3 152.8h0M352 132.5h0M346 124h0M342.2 109.7h0M359.1 135.2h0M351.1 129.9h0M348.1 134.1h0M358 174.6h0M339.7 162h0M362.9 119.2h0M339.3 132.2h0M364.7 126.8h0M352.3 110.6h0M348.5 177.8h0M347.9 151.2h0M345.4 141h0M340.4 141.6h0M365.8 104.9h0M336.6 147.3h0M347.2 135.5h0M340.7 144.2h0M345 130.4h0M359.4 133.3h0M348.5 123.1h0M354.8 108.7h0M358.6 158.9h0M363.8 97.4h0M341.5 143h0M357.5 107.8h0M341.9 149.2h0M353.3 98.4h0M358.2 136.9h0M356.6 114.6h0M358.9 114.7h0M325.7 163.2h0M361.2 126.3h0M362.4 392.6h0M331.6 399.3h0M310.9 403.1h0M317.9 399.2h0M305.2 412.2h0M361.5 414.2h0M356.5 431.6h0M341.7 417.9h0M346.7 390.3h0M339.6 426.6h0M337.6 381.6h0M321.2 426.6h0M344 425.7h0M362.4 401.8h0M355.4 371.1h0M341 415.3h0M345.8 375.8h0M363.3 434.8h0M347.8 418.4h0M341.9 436.4h0M306.2 404.3h0M359.9 384h0M347.6 376.8h0M335.9 421.8h0M330.2 409.2h0M347.9 441.8h0M346.8 379.5h0M334.1 399.7h0M354.4 398.1h0M359.7 423.8h0M332.3 396.5h0M328.7 386.5h0M313 414.2h0M309.8 416.7h0M354.7 398.3h0M341.5 379.8h0M347.5 413.1h0M316.6 413.3h0M352.1 405h0M360.6 398.8h0M298.6 429h0M358.1 419.7h0M348.8 435.4h0M349.5 400h0M346.6 371.3h0M350.1 410.1h0M345.6 393h0M361.4 425.6h0M344.9 397.6h0M340.2 390.2h0M342 417h0M318.5 432.1h0M321 377.2h0M365.5 411.3h0M306 412.7h0M347.4 423.5h0M337.4 366.9h0M355.6 407.9h0M349.5 421.9h0M331.5 416.1h0M346.3 438.7h0M332.7 398.9h0M330.6 365.8h0M318.4 403h0M359.4 422.8h0M340.4 442.7h0M321.9 429h0M352.5 377.2h0M340.2 412.1h0M345.3 363.1h0M363.5 352.5h0M349.9 346h0M349 341.2h0M366.2 376.4h0M350.9 343.7h0M344.6 377.3h0M350 328h0M348.7 345.4h0M363.6 373.4h0M347.1 385.1h0M348.8 353.5h0M354.8 372.2h0M361.9 364.4h0M345.9 362.2h0M364.8 357.8h0M360.6 367.3h0M346.2 375.9h0M342.4 343.1h0M351.1 391h0M361.9 353h0"/><path stroke="#c86030" d="M295.7 232.8h0M325.7 202h0M316.3 219h0M334.7 194.3h0M348.1 216h0M296.1 217.8h0M350.5 167.8h0M333.1 175.1h0M315.4 218.1h0M362.1 205h0M355.4 143.4h0M317.3 186.5h0M327 173h0M299.2 188.2h0M297.5 185h0M328.2 211.9h0M296.3 232.9h0M302.9 198.5h0M296.2 185.7h0M354.4 176.7h0M296.1 208.8h0M341.5 214.1h0M334.6 183.4h0M348.7 190.5h0M325 187.4h0M339.4 225.9h0M318.1 219.8h0M326.1 182.3h0M298.7 194h0M350.4 227.9h0M310.1 179.4h0M295.9 201.5h0M306.4 200.7h0M332.5 200.9h0M295.7 220.8h0M296.3 186.3h0M295.8 210.8h0M296 179.2h0M306.7 207.2h0M334.6 204.5h0M300.2 212.5h0M354.8 192.6h0M310.4 213.7h0M331.9 226.1h0M358.8 172.9h0M336.1 207.8h0M306 198.5h0M362.9 209.3h0M308.1 202.2h0M335 191.1h0M337.5 217.4h0M295.6 182.5h0M333.7 183.6h0M332.3 210.1h0M341.6 202.3h0M317.3 195h0M313.4 205h0M357 219h0M339.8 207.4h0M307.5 202.1h0M322 216.5h0M338.2 192.9h0M312.8 198.2h0M315.9 207.9h0M323.2 193.1h0M344.6 215.1h0M295.7 211.7h0M326.4 200.8h0M311.4 173.6h0M310.4 174.4h0M348.6 208.6h0M330.3 163.1h0M307.1 197.8h0M299.4 176.8h0M315 211.7h0M351 200.3h0M305.3 180.5h0M365.3 215.1h0M328.6 162.1h0M299.3 172.2h0M334.6 201.3h0M328.7 185.8h0M364.2 203.5h0M319.9 222.9h0M295.8 190.9h0M348.9 190.6h0M302.9 203.8h0M340.1 202.1h0M308.2 227.8h0M298.9 194.8h0M354 201.9h0M315.4 202.3h0M337.1 219.3h0M320.6 197.7h0M313.5 176.2h0M296.1 212.5h0M344.9 199.6h0M343.6 204.9h0M301.9 188h0M310.8 196.1h0M332.8 230.4h0M333.8 172.6h0M330.1 210.5h0M333.2 192h0M343.5 227.6h0M362.3 197.9h0M296.3 188.5h0M335.5 186.5h0M329.1 193.9h0M315.3 201.8h0M347.8 209.9h0M338.2 219.6h0M341.8 178h0M296.3 195.2h0M338.9 201.6h0M296.1 170.5h0M321.9 203.3h0M296.4 153.6h0M337 189.4h0M297.3 233.1h0M323.1 151.4h0M342.3 161.6h0M355 126.5h0M340.4 167.2h0M330.9 134.2h0M335.9 161.6h0M351.4 113.2h0M355 125.2h0M346.8 150.6h0M336.1 146.4h0M351.2 154.7h0M342.6 131.1h0M343.8 145h0M342.7 126.1h0M351.7 126.7h0M334.3 117.3h0M365.2 122.1h0M344.9 187.6h0M360.8 106.4h0M348.7 135.8h0M352 129.7h0M354.8 122.8h0M358.6 120.5h0M347.1 134.9h0M351.9 115.1h0M363 111.5h0M350.9 119h0M365.2 98h0M355.6 131.1h0M357 97.5h0M347.5 149.5h0M365.8 109.8h0M341.2 145.5h0M353.3 139.9h0M336.2 178h0M355.4 98.3h0M338.1 164.1h0M357.9 160.5h0M343.7 161.5h0"/><path stroke="#b05028" d="M296.8 218.2h0M359 174.3h0M335.5 198h0M309.7 196.2h0M333.4 212.8h0M323.7 214.1h0M314.2 161.4h0M314.4 177.4h0M295.9 184.4h0M354.8 199.2h0M335 194.3h0M296 216.9h0M302.9 188.4h0M332.5 210.2h0M350.3 166.8h0M346.7 174h0M319.8 184.1h0M296.1 179.2h0M319.6 189.4h0M307.4 209.4h0M341.8 220.1h0M322.4 199.5h0M295.9 204.3h0M337.5 214.2h0M296.3 232.5h0M301.5 188.3h0M324.5 218h0M329.9 211.1h0M335.2 204.4h0M298.5 208.6h0M334.9 198.9h0M296 186.9h0M325.9 208h0M295.8 206.3h0M322.3 173.9h0M356.3 232h0M348.4 194.8h0M313.6 208h0M295.9 202.8h0M300.7 194.8h0M309.9 181h0M351.2 207.3h0M296 182.8h0M317 170h0M329.7 198.6h0M360.8 210.3h0M364 193.7h0M295.7 192.4h0M332.9 202.8h0M322.7 210.9h0M339.3 188.8h0M313 230h0M297.9 196.2h0M316.6 202.3h0M334 213.3h0M326.6 191.3h0M307 232.5h0M316.5 208.9h0M329.8 192.6h0M310.4 228.7h0M295.8 188.9h0M336.6 200.1h0M329.4 223.1h0M295.8 212.5h0M329.1 188.9h0M317.3 167.2h0M322.2 196.5h0M316.5 166h0M316.8 206h0M341 186.1h0M323.8 206.6h0M329.1 217.4h0M350.3 198h0M326.5 213.5h0M340 213.6h0M327 155.7h0M318 211.4h0M357.4 195.5h0M296 203h0M327.7 204.6h0M313.6 202h0M359.9 183.2h0M295.6 211.6h0M340 202.5h0M324.1 161.5h0M338.1 225.9h0M348.7 175.3h0M308.8 201.3h0M312.3 230h0M342.7 210.2h0M302.6 183.3h0M321.7 225.1h0M313.1 175h0M327.8 169.9h0M295.9 165.5h0M302.5 223.5h0M295.7 184.9h0M336.2 199.3h0M324.8 178h0M331.2 176.5h0M352.7 118.7h0M329 177.3h0M365.7 142.1h0M356.9 106.3h0M346.1 114.6h0M350.7 119.8h0M347.1 96.2h0M339.3 124.3h0M350 143.2h0M358.3 123.7h0M348.5 136.2h0M337.3 170.9h0M339.9 192.3h0M342.5 166h0M345.2 107.4h0M361.7 85.7h0M345 123.1h0M342.6 180.5h0M343.6 129.7h0M349.5 138.5h0M365.9 113.3h0M344.4 139h0M354.8 142.2h0M362.4 125h0M327.1 208h0M357 141h0M352.7 170.5h0M356.4 144.9h0M357.4 112.9h0M363.5 101.2h0M360.8 119.5h0M343.6 97.4h0M336 148.3h0M353.6 158.6h0M364.4 117.1h0M358 135.4h0M354.1 130.1h0M358.3 117.3h0M345.2 128.3h0M358.1 85.9h0M331.6 135.9h0M329.3 182.4h0M352 134.4h0M328.6 185.9h0M358.3 135.9h0M358.5 117h0M353.8 142.7h0M363.5 156.7h0M358.2 126.8h0M343.4 154.7h0M349.6 148.2h0"/><path stroke="#b86840" d="M338 216.9h0M310.3 180.8h0M306.4 204.1h0M357.7 214.3h0M303.9 217.7h0M318.2 153.3h0M328.1 195.2h0M338.8 162.5h0M308.7 187.5h0M324.1 217.2h0M352 192.5h0M331.5 203.6h0M344.4 219.7h0M296 177.2h0M340.3 219.4h0M302.5 189.8h0M326.1 199.3h0M308.2 226.5h0M311.9 175.3h0M310.2 191.1h0M357.9 203.9h0M316.8 189.7h0M351.8 180.7h0M334.4 165.9h0M310.3 191.5h0M297.4 209.7h0M363.4 199.6h0M320.6 193.3h0M314.8 230.9h0M345.5 233.1h0M350.1 187.8h0M336.1 197.5h0M326.3 208.5h0M336.2 194.7h0M331.5 214.4h0M337.8 183.9h0M309.1 177.1h0M340.5 199.7h0M314.1 227.3h0M301.1 213.4h0M306.8 194.5h0M300.4 183.8h0M350.9 186.5h0M341.8 212.7h0M331.6 193.5h0M314.5 198.2h0M352.7 196.2h0M315.9 208.5h0M326 204.3h0M305.3 182.1h0M352.6 207.8h0M351.2 232.4h0M324.8 210.9h0M326.4 217.8h0M312.2 206.5h0M357 222.7h0M345 201.8h0M327.1 176.6h0M310.3 206.5h0M332.6 219.6h0M296.1 209.9h0M295.9 202.5h0M325.1 233h0M302.8 209.7h0M305.6 210h0M339.2 180h0M299.1 159.5h0M345 169.3h0M312.1 184.8h0M319.3 198.9h0M314 214.4h0M351.9 185h0M317.7 166.3h0M302 179.1h0M328.5 211.2h0M340 194h0M313.9 171.8h0M315.6 208.6h0M299.4 193h0M363.5 214.8h0M306.2 211.3h0M299.9 206.3h0M307.2 206.5h0M348.7 198.9h0M308.3 204.7h0M306.5 229.4h0M353.5 191.6h0M296.8 158.7h0M328 210.4h0M307.1 222.9h0M348.3 213.6h0M338.1 174.7h0M308.7 200.8h0M331.6 214.8h0M315.7 213.7h0M297.1 211.5h0M298.7 191.3h0M325.3 205.3h0M303 167.5h0M323.7 198.1h0M327.5 193h0M326.6 185.1h0M339 194.4h0M312.2 204.2h0M296.3 166h0M302.1 186.6h0M315 195.6h0M342.8 221.4h0M334 196.6h0M295.8 208h0M365.1 228.7h0M327.2 233h0M345.7 170h0M348.8 202.7h0M332.8 177h0M330.6 175.4h0M328.7 233h0M359.9 156.7h0M333.3 228.4h0M302.3 205.6h0M300.2 171.8h0M353.2 192.7h0M296 197.8h0M336.1 168h0M335.2 197h0M356.2 137.3h0M351.3 136.5h0M330.6 169.2h0M355.5 128.3h0M360.5 144.2h0M338.9 168.6h0M348.4 146.5h0M357.5 127.2h0M359.5 129.3h0M360 135.5h0M352 146h0M360.3 121.8h0M326.3 185.7h0M345.2 127.5h0M343 129.1h0M361.3 133.7h0M338.8 137.9h0M363.8 130h0M355.8 153.1h0M357 95.7h0M362.5 97.4h0M349.4 118.2h0M350 137.1h0M346.6 146.7h0M364.6 109h0M351.6 168.1h0M351.5 107.1h0M356.4 136.6h0M352.7 109.6h0M346.8 178h0M351.6 144.1h0M358.5 133.6h0M361.3 129.9h0M351.7 157.9h0M351.7 149.4h0M360.7 140.5h0M361.6 104.3h0M362 151.3h0M359.9 119.1h0M327.5 148.1h0"/><path stroke="#c04a20" d="M312.6 198.7h0M319.5 229.2h0M299.9 180.1h0M325.1 207h0M295.7 169.3h0M318.4 172.7h0M341.6 219.9h0M296.3 187.6h0M295.7 197.5h0M355.1 232.7h0M322.6 184.1h0M347.9 181.8h0M345.8 185h0M348.4 186.2h0M322.3 196.9h0M308.7 228.3h0M316.4 224.3h0M325.8 206.5h0M328.8 215.1h0M314.7 229.7h0M326.6 206.9h0M309.1 206.6h0M304.7 215.2h0M319.5 187.7h0M313.2 201.7h0M354.4 219.6h0M346.9 212h0M305.8 178.5h0M364.9 201.7h0M360.1 212.2h0M317.2 212.5h0M313 184.3h0M334.4 204.3h0M329.4 225.4h0M351.3 161.6h0M305.9 191.5h0M315.1 181.2h0M317.3 227h0M319.6 191.2h0M356.9 219.9h0M296.1 149.7h0M310 192.4h0M303.9 209.4h0M339.6 214.3h0M304.4 201.5h0M355.4 221.2h0M319.4 232.7h0M346.7 186.3h0M295.6 200.8h0M337.2 197.7h0M333.9 189h0M331.3 208.8h0M338.6 196.1h0M341.7 224.4h0M328 185.2h0M321.8 203.7h0M328 211.6h0M296.4 205.8h0M306.9 188.7h0M317.4 184h0M325.6 205.7h0M361.3 203.4h0M337.4 228.8h0M325.5 204.5h0M311.9 209.4h0M357.2 183.4h0M303.5 220.4h0M332 231.5h0M339 195.1h0M333.3 184.4h0M313 207.1h0M300.8 208h0M338.5 210.4h0M332.1 191.9h0M360 221.7h0M335.4 175h0M355.6 194.3h0M295.7 202.6h0M333.6 211.3h0M326.3 188.7h0M296.6 206h0M356.1 204.8h0M300.7 207.6h0M332.6 175.7h0M323.9 210.2h0M332.5 185.6h0M332.6 180.3h0M306.5 179.6h0M340.8 227.5h0M302.5 194.4h0M322.7 189.5h0M327.2 211.2h0M319.7 211.7h0M321 219.6h0M301.1 227.8h0M324 232.8h0M319.3 232.4h0M341.2 219.9h0M339.9 187.4h0M320.9 232.8h0M347.1 195.3h0M299.3 231.1h0M313.2 190.1h0M336.9 179.7h0M348.2 114.5h0M346 119.7h0M358.1 148.9h0M347.2 131.8h0M341.8 148.3h0M350.7 130.4h0M346.6 136.4h0M341.6 181.7h0M359.3 126.3h0M359.5 119.5h0M341.6 125.6h0M361.1 100.7h0M344.6 169.8h0M358.6 115.1h0M358.6 142.2h0M339.3 171.4h0M347.9 143.3h0M345.5 142.9h0M351.2 136.1h0M353.2 109.4h0M336.4 114.3h0M340.3 163.7h0M364.3 140.9h0M334.8 162.7h0M362.1 150.2h0M353.9 148.3h0M346 141.2h0M350.3 137.1h0M351.5 76.2h0M348.2 144.1h0M348.3 122.8h0M360.8 127.3h0M353.5 114.6h0M358.4 150.7h0M350.8 88.1h0M355.3 133.1h0M348.9 134.1h0M351.5 90.6h0M356.9 133.8h0M342.4 143.5h0M363.2 141.3h0M352.8 105.4h0M353.7 117h0M358.2 124.6h0M352.2 126.1h0M361.3 142.7h0M349.3 150.2h0M353.7 146.6h0"/><path stroke="#a85a30" d="M300.5 195.9h0M352.9 216.9h0M358.2 212.3h0M296.3 172.8h0M351.5 185.5h0M295.9 212.9h0M306.9 189h0M315.7 199.6h0M324.7 188.5h0M337.8 150.3h0M321.6 183.2h0M308 211.2h0M299.9 204.3h0M320.6 186.6h0M305.8 173.1h0M334.8 208.3h0M328.3 194.7h0M347.3 197h0M317.8 203.5h0M331.7 201h0M309.8 222.9h0M315.1 204.8h0M337.1 190h0M346 198.3h0M344.9 233h0M307.8 232.9h0M314.9 210.5h0M340.8 210.8h0M343.9 223.5h0M306.4 212.3h0M307.7 193.5h0M295.8 187h0M323.8 194.8h0M314.2 216.3h0M321.1 202.4h0M330.9 218.4h0M344.4 222.4h0M336.9 197.2h0M319.9 196.4h0M348.4 191.4h0M347 160.7h0M322.6 199.8h0M326.9 189.8h0M296.3 177.6h0M323.5 207h0M338.6 218.7h0M296.1 187.3h0M315.4 180.2h0M327.5 191.8h0M348.5 189.6h0M327.3 154.8h0M332.3 210.1h0M308.2 176.1h0M337.5 211.5h0M346.4 182.6h0M309.7 231.9h0M311.1 229.1h0M296.7 222.9h0M341.7 212.5h0M341.2 200.5h0M301.9 182.6h0M364 191.9h0M298.2 229.2h0M301.3 219.9h0M324.6 188.5h0M317 221.1h0M360.8 187.2h0M331.3 231.8h0M328 212.9h0M304.7 222.7h0M315.7 205.3h0M313.8 188.5h0M322.7 224.6h0M295.6 205.3h0M309.9 217.4h0M329.5 176.2h0M301.3 200.7h0M338.7 175.3h0M337.1 184.8h0M302.3 203.8h0M333.8 192.5h0M327.3 204.3h0M349.7 201.6h0M336.5 216.1h0M351.6 172.8h0M334.2 183.4h0M334.7 222.2h0M331.4 219.6h0M306.8 227.2h0M323.5 183.4h0M311.8 187.5h0M310.6 225.3h0M295.9 210.3h0M316.9 211.7h0M348.8 201.4h0M328.9 212.9h0M318.3 184.6h0M321.8 209.6h0M337.4 200.7h0M300.9 233.1h0M362.3 204.4h0M346.5 211.4h0M299.6 225.2h0M365.8 204.4h0M332.8 217.8h0M334.1 159.2h0M335.4 193.1h0M335.7 186.9h0M359.3 193.1h0M307.9 232.9h0M317.5 218.1h0M327.1 189.4h0M350.8 150.9h0M363.3 129.6h0M366 101.2h0M344.4 141.2h0M355.9 175h0M343.1 168.2h0M347 185.7h0M354.4 124.9h0M353 144.8h0M361.1 91.4h0M361.4 156.1h0M347.9 144.1h0M354.1 143.2h0M360 119.8h0M348.8 119.2h0M361.6 108.5h0M337.5 154.4h0M353.6 126.6h0M355.4 141.3h0M366.5 118.3h0M348.1 88.8h0M351.2 139.3h0M347.2 132.5h0M344.9 146.4h0M352.6 143.9h0M358.5 116.9h0M346 137.7h0M362.1 101.3h0M361 117.2h0M349 126.4h0M346 99.4h0M358.9 114.1h0M357.2 115.6h0M356.5 107.3h0M351.8 116.4h0M351.7 141.9h0M351.6 168.5h0"/><path stroke="#d05a28" d="M322.8 182h0M329.6 211.8h0M340 213.2h0M296.3 209.3h0M345.9 191.7h0M297.7 198.3h0M326.6 216.2h0M317 232.6h0M318.2 232.7h0M322 189.6h0M330.7 207.6h0M297.6 228.4h0M349.5 200.2h0M330.1 210.4h0M317.8 186.2h0M323.1 199.5h0M332.1 207.8h0M341.1 172.7h0M316.3 179.6h0M325.2 193.9h0M348.8 188.6h0M319 193.9h0M295.7 156.1h0M338.8 232.7h0M337.2 191h0M321 189.2h0M319.7 222.8h0M326.2 183h0M349.8 213.1h0M333.9 192.7h0M354.9 223.8h0M348.7 180.9h0M330 197.3h0M349.1 232.6h0M301.1 202.2h0M325.5 232.9h0M359.6 216.9h0M301.3 213.4h0M298.7 200h0M327.4 183.5h0M295.9 231.6h0M330.1 228.9h0M296 181.3h0M295.8 191.6h0M332.8 218.9h0M295.9 232.8h0M321.2 195h0M360.2 228.1h0M338.7 224.7h0M350.3 161.1h0M296.1 210.3h0M332.9 174h0M314.5 191.4h0M332.5 165h0M345.4 220.4h0M296.2 215.8h0M314.6 223.1h0M331.4 210.6h0M330.7 165.9h0M318.5 221.5h0M304 202h0M327.7 187.3h0M296.3 219h0M311.8 227.5h0M341.2 206.3h0M296.2 232.9h0M325.4 193.4h0M340.9 215.7h0M300.5 190.4h0M319.4 200.4h0M322.3 181.5h0M340.9 218.7h0M333 204h0M315.8 182.8h0M309.1 210.1h0M347.3 218.7h0M334.1 223.5h0M356.5 232.6h0M312.5 193.4h0M343.4 184.9h0M330.2 211h0M334.6 206.1h0M343.1 201h0M332.3 211.8h0M313.5 221.1h0M339.6 194.6h0M332 191.9h0M349.2 190.5h0M306.3 219.5h0M323.4 191.2h0M317.1 211.1h0M360.8 201.5h0M320.6 183.5h0M332.8 180.9h0M334.2 183.4h0M344.9 205.3h0M295.8 202.1h0M323.1 187.5h0M326 204h0M330.9 219.9h0M354.4 165h0M351.1 188.7h0M321.2 203.8h0M316.2 232.5h0M352.1 135.2h0M362.1 97.5h0M364.9 109.5h0M361.7 95h0M360.7 83.9h0M329.8 146.9h0M357.4 128.8h0M345.3 153.4h0M339.9 160.4h0M344.5 148.3h0M336.6 117.3h0M335.1 122h0M354.2 127.5h0M356.9 153.1h0M350.2 130.6h0M356.4 98.7h0M354.3 113.7h0M347.9 130.8h0M346 152.5h0M363.1 122.8h0M359.7 143.7h0M347.8 142.1h0M347.6 107h0M341.4 158.9h0M359.5 128.2h0M352.5 132.4h0M352.6 119.3h0M345.4 166.5h0M340.2 156.4h0M355.7 97.3h0M355.7 113.5h0M347.1 150.1h0M347.6 117.4h0M360.9 130.9h0M353 123.1h0M366.6 141.4h0M349.4 105.9h0M344 121.2h0M355.4 90.4h0M342.7 138.6h0M362.5 129.9h0M353.2 111.7h0M362.4 131.6h0M342.1 123.4h0"/><path stroke="#a0ec40" d="M402.1 113.2h0M373.2 126.5h0M390 117h0M386.5 110.8h0M389.8 96.5h0M408.4 105.2h0M383.9 108.9h0M376.9 132.4h0M399.3 99.7h0M376.3 107.3h0M400.6 122.3h0M396.2 129.3h0M396.8 104.4h0M409.3 86.1h0M389 86.6h0M389.1 116.6h0M391.7 92.5h0M390 116.9h0M385.4 97h0M399.7 104.9h0M377.3 87.1h0M395.9 108.2h0M369.1 121.3h0M385.1 102.8h0M375.1 102.9h0M383.9 112.8h0M388 105.4h0M388.5 96.7h0M395.4 89.6h0M397 99.6h0M394.2 120.2h0M384.6 108.8h0M393.2 85.5h0M402.3 87.3h0M381.6 104.2h0M380.3 98.8h0M398.8 111.3h0M386.1 95.9h0M386 113.7h0M390 120.4h0M367.7 107.3h0M398.4 109.7h0M397.6 99.6h0M373.4 113.8h0M387.3 86.6h0M375.3 120.3h0M395.2 99.6h0M380.5 107.9h0M379 108.1h0M389.1 82.3h0M399.9 107.7h0M381.9 108h0M410.8 101.6h0M411.1 118.7h0M403.8 111.2h0M380.7 97.6h0M376.3 96.3h0M411.6 86.8h0M398.3 108.8h0M395.3 119.5h0M397.4 105.4h0M373.1 94h0M389.4 113.6h0M388.2 108.4h0M376.7 89.7h0M378.6 125.1h0M377.3 99.7h0M387 133.6h0M402.5 124.3h0M391 106.9h0M384.1 103.3h0M377.3 95.4h0M410.8 118.1h0M375 112.1h0M403.4 106h0M410.3 96.2h0M409.4 86.9h0M405.8 114h0M406.2 85.8h0M398.3 90.3h0M369.2 107.9h0M405.6 105h0M376.2 98.7h0M411.1 116.2h0M371.7 90.3h0M404.8 104.7h0M396.1 92.9h0M386.3 93.3h0M403.1 97.5h0M374.6 94.1h0M393.1 90h0M398.4 115.4h0M382.2 104.5h0M399 103.2h0M411.5 87.9h0M393.4 92.3h0M391.1 92.3h0M384.6 87.7h0M401.1 74.4h0M375.7 86.1h0M392.2 94h0M382.2 114.6h0M389.3 113.9h0M395 110.9h0M407.1 84.7h0M405.2 128.5h0M394.5 110.5h0M408.6 75.4h0M387.1 109.8h0M391.2 94.6h0M399.5 126.5h0M377.1 71.2h0M368.1 98.6h0M401.6 111.1h0M372 101.3h0M375.8 81.6h0M397.2 80.4h0M395.3 119.9h0M404.5 107.3h0M379.9 122.3h0M388 91.5h0M410.2 89.6h0M397.5 118.4h0M389.2 79.5h0M382.7 112.9h0M397.7 91h0M389.4 90.8h0M372.1 91.2h0M389.6 111.2h0M393.9 116.8h0M403.7 104.3h0M396.3 109.6h0M403.6 93.3h0M392.4 87h0M394 95.5h0M397.5 101.9h0M407.2 91.7h0M378.6 100.6h0M389.7 96.1h0M383.7 116.2h0M403.6 95.5h0M390.9 116.9h0M380 90.1h0M384.1 89.5h0M396.9 92.3h0M408.5 92.7h0M393.9 98.5h0M396.8 115.2h0M411.3 76.6h0M378.3 104.8h0M392.2 112h0M374.4 80.6h0M406.7 99.8h0M388.3 106.2h0M383.8 111.9h0M404.4 93.1h0M408.4 95.9h0M397.4 95.1h0M386.5 101.5h0M371.1 95.2h0M398.1 103.4h0M401.1 82.7h0M379.1 90.3h0M392.3 89.6h0M389.5 119.9h0M391.9 127.2h0M390.9 93.9h0M379.7 97.2h0M413.8 102.8h0M374.7 107.9h0M385.6 73.2h0M367.8 94h0M393.8 116.3h0M398.8 77h0M394.6 99.5h0M382.2 102.1h0M397.9 91.7h0M400.7 108.1h0M367.6 102.9h0M400.1 103.2h0M407.3 104.3h0M406.9 107.6h0M408.7 98.3h0M404.4 89.7h0M381.7 111.7h0M392.3 96.2h0M399.8 101.5h0M390.4 81.9h0M401 119.5h0M383.1 121.4h0M397.4 94.6h0M399.5 97.7h0M401.9 113.1h0M406.5 88.9h0M408.8 104.4h0M389 118.1h0M379 102.8h0M407.1 107.9h0M397.2 127.6h0M399.5 83.2h0M370.8 90.4h0M393.8 119.7h0M414.1 121.2h0M373.6 99h0M385.8 88.4h0M379.5 101.6h0M388.5 94.3h0M394.9 105h0M392.2 104.7h0M394.9 122.5h0M407.7 102.5h0M404 96.3h0M407.3 104h0M392.7 113.1h0M411.4 110.7h0M395.3 110.5h0M379.4 112.5h0M381.3 125.1h0M393.9 105h0M380.9 126.9h0M387.4 103.5h0M392.3 99.5h0M390.4 89.1h0M379.3 109h0M388.4 98h0M383.6 84.9h0M385.4 85.6h0M412.8 106h0M404.7 110.6h0M367.8 109.4h0M400 106h0M391.9 119.3h0M386 118.9h0M391.6 96.3h0M374.7 92.8h0M393.5 100.8h0M370.2 99.8h0M393.6 100.7h0M398.4 113h0M394.7 93.4h0M387.6 131.9h0M377.1 101.4h0M384.8 114.2h0M393.4 116.1h0M400.2 94.8h0M388.1 86.7h0M394.8 103.2h0M385.9 88.7h0M401.9 128.6h0M382.7 115h0M398.3 94.1h0M374 118.4h0M399.5 107.3h0M406.6 94.2h0M398.9 107.4h0M368 117.1h0M398.5 81.9h0M385.5 98.5h0M395.9 64.9h0M395.8 117.6h0M368.3 88.6h0M406.2 117.5h0M392.8 114h0M384.3 77.3h0M389.3 83h0M395.5 95.6h0M384.2 111h0M377.9 126.1h0M402.4 99.9h0M411.1 90.8h0M369.6 113h0M381.7 115.2h0M368.1 100.9h0M404.8 82h0M409.5 118.2h0M387.8 104.9h0M397.2 108.5h0M395.5 97.2h0M411.4 101.7h0M398.1 107.4h0M385.4 124.3h0M404 109.5h0M394.9 96.4h0M386.5 102.3h0M392 102.4h0M374.9 111.2h0M389.3 103.2h0M369.9 107.3h0M376.9 120.4h0M378.2 105.8h0M375.8 92.3h0M409.2 103.7h0M387.6 94.5h0M398.2 103.7h0M375.4 120.9h0M397.4 105.4h0M411.2 98.9h0M402.1 102.4h0M391 105.4h0M395.7 91.8h0M368.9 104.2h0M402.2 98h0M400.6 107.5h0M400.5 91.8h0M406.5 112.7h0M386.2 91.8h0M377.6 91.5h0M410.3 98.3h0M378.2 102.6h0M391.9 86.5h0M409.5 117.1h0M382.8 117.9h0M401.5 87.4h0M406.1 108.5h0M404.5 100h0M392 85.1h0M379.2 128.6h0M399.5 115.4h0M393.5 100.5h0M403.7 116.8h0M395.1 85.5h0M373.7 99.4h0M401 72.1h0M392.8 105.2h0M408.4 83.9h0M398.8 100.1h0M375.3 94.4h0M391.2 127.5h0M381.3 100.6h0M396.5 99h0M377.9 91.2h0M374.9 80.8h0M392.4 124.3h0M404.7 105.3h0M380.9 105.1h0M402.8 103.4h0M383.6 108.6h0M392.2 93.6h0M393.9 121.9h0M389 107h0M393.1 102.2h0M383.6 117.8h0M393.9 73.9h0M404.6 123.3h0M400.9 107.2h0M383.1 126.2h0M392.3 81.9h0M383.6 81.5h0M400 93.2h0M376.7 125.7h0M383.1 86.3h0M398.1 94h0M413.5 109.5h0M404.4 110h0M399.3 92.7h0M378 108.1h0M382.7 129.3h0M371.4 133.5h0M391.2 90.8h0M413.5 103.8h0M401.9 96.6h0M397.1 108.9h0M377.9 119.2h0M391 113h0M388.8 84.7h0M395.1 87.6h0M391.2 108.2h0M379.4 128.4h0M379.8 95.6h0M377.2 107.8h0M405.7 109.7h0M406.2 97.2h0M381.3 99.6h0M405.1 94.7h0M378.3 100.6h0M395.2 114.2h0M407.4 98h0M391.5 90.2h0M385.3 89.4h0M399.3 124h0M389.8 101.8h0M380.3 96.1h0M394.9 99.5h0M392 111.6h0M396.5 108.7h0M393.2 104.2h0M404.9 107.2h0M384.4 118.6h0M375.4 127.2h0M383.3 106.4h0M392.8 104.1h0M402.4 78.9h0M383.9 105.5h0M407.6 116.1h0M393.1 99h0M392.2 84.9h0M398.3 93.3h0M380.8 88.2h0M400.4 134.8h0M382.8 127.4h0M378 109.8h0M392.4 116.7h0M409.7 103.1h0M401.4 106.5h0M399.8 80.7h0M392.3 129h0M399.6 117.7h0M404.1 110.8h0M409.9 94.2h0M387.4 85.2h0M391.5 98.1h0M392.4 113.5h0M391.5 119.5h0M397.3 95.6h0M379.3 87.7h0M407.3 109h0M393.8 103.6h0M391 111.4h0M390.2 109.8h0M383.7 122.4h0M391.5 117.9h0M369.2 107.2h0M382.6 109.4h0M382.6 113.1h0M376.7 126h0M397.4 104.4h0M371.2 129.3h0M386.5 109.7h0M369 100.6h0M407.7 98.6h0M387.2 96.3h0M374.1 98.1h0M401.6 119h0M397.6 86.8h0M383.4 99.9h0M385.5 103.2h0M379 119.9h0M372.4 110h0M400.3 78.6h0M371.7 87.3h0M388.6 115.7h0M371 98.1h0M387.1 100.6h0M382.1 94.1h0M392.1 88.4h0M389.3 107.1h0M389.4 99.8h0M393.7 112.3h0M407.4 101.4h0M400.2 90.8h0M395.1 101.4h0M394.4 111.9h0M396 115h0M398.2 94.2h0M390.7 102.3h0M386.6 91.7h0M370.4 117.9h0M412.5 89.5h0M381.2 92.6h0M393.4 111.9h0M395.7 104.8h0M375.9 106.7h0M413.4 104.3h0M406 104.8h0M394 73.5h0M383 98.5h0M398.4 94.1h0M411.8 124h0M412.4 115.1h0M408.7 96.7h0M398.4 114.4h0M386.4 111h0M404.6 92h0M408.5 92.9h0M382.7 93h0M371.4 105.4h0M396.4 98.2h0M385.7 93.7h0M383.3 117.4h0M401.4 94.9h0M397.1 111.2h0M397 111.1h0M410.5 94.8h0M385.9 97h0M399.2 107.1h0M395 124.5h0M390.8 102.6h0M391.6 124h0M395.2 91h0M380.4 89.2h0M390.1 68.2h0M406.3 85.5h0M394.7 85.2h0M406.1 94.2h0M397.3 70.3h0M409.6 105.4h0M399.7 97.1h0M407.5 115.3h0M404.3 94.1h0M409.9 104.6h0M384.2 103.6h0M395 111.4h0M394.1 102.8h0M377.1 93.7h0M368.2 101.1h0M399.3 97h0M408.7 107.9h0M367.7 103.5h0M398.8 86.4h0M388.3 114h0M372.2 89.8h0M401.8 104.4h0M388.6 100h0M394.2 87.8h0M390.8 101.1h0M382 105.3h0M392 93.4h0M384.3 108.1h0M398.3 95.3h0M396.2 90h0M394.2 119.6h0M391.1 87h0M371 118.3h0M383.6 87.5h0M403.1 92.2h0M377.2 106.6h0M403.8 79.1h0M382.2 79.8h0M385.5 103.7h0M377 122.5h0M395.2 96.9h0M401.7 104.8h0M394.4 109.9h0M390.8 96.7h0M393.3 121.8h0M409.7 88.1h0M385.1 122.5h0M401.4 91.4h0M408.9 86.9h0M400.5 84.6h0M397.1 98.6h0M402.1 102.8h0M388.4 80.9h0M379 109.3h0M375 104.4h0M401.2 109.8h0M398.7 86.6h0M394.3 82.4h0M402.6 118h0M388.8 110.8h0M369.9 93.5h0M379.7 112.4h0M368.1 115.2h0M370.9 83.8h0M375.7 113.8h0M391.9 94h0M401 106h0M393.4 96.1h0M399.6 97.9h0M387.6 103.8h0M407.2 99h0M396.6 109.3h0M408.1 102h0M394.9 95.7h0M406.7 75.3h0M412.8 100.8h0M383.7 108.4h0M388.5 104.4h0M400.6 126.4h0M411.7 132.5h0M403.5 105h0M371 114h0M368.6 120.2h0M379.4 123h0M400.5 88.4h0M390.7 103.5h0M386.4 127.8h0M385.1 92.5h0M394.1 73.1h0M388.2 98h0M396.3 108.9h0M387.3 100.3h0M375.6 102.8h0M398.4 91.9h0M407.2 108.9h0M381.3 101h0M384 122.2h0M374.4 89.4h0M401.3 131.1h0M387.7 88.3h0M398.6 85.7h0M404.5 133.6h0M388 88.5h0M374.2 84.4h0M371.7 94.6h0M409.5 97.2h0M409.5 123.2h0M383.9 89.6h0M375.1 90.2h0M390 109.3h0M388.4 116.9h0M404.3 90h0M396.2 67.7h0M396.6 108.2h0M380.8 79.8h0M388.5 107.3h0M387.7 69.9h0M384.3 97.9h0M388.2 100.6h0M370.2 124.9h0M385.6 125.6h0M383.1 90.3h0M388.7 107.7h0M400.7 104.7h0M399.5 99.5h0M391 115.9h0M387.3 83.7h0M380.4 102.6h0M405.5 94h0M408.9 108.3h0M375.5 106.6h0M379.9 119.9h0M401.6 97.5h0M383 92.9h0M404.3 115.7h0M388.8 87.3h0M413 98h0M400.3 105.3h0M393.4 85.5h0M400.9 110.8h0M383.1 99.2h0M369.3 103.9h0M392.5 100.4h0M369.7 92.6h0M399.1 105.2h0M400 94h0M414.2 117h0M377.7 88.5h0M388.8 103.4h0M367.8 96.5h0M395.4 81.3h0M377.6 92.5h0M382.1 101.3h0M395.9 115h0M376.3 94h0M406.2 90.1h0M386.2 123.7h0M397.7 108.3h0M380.2 110.2h0M375.9 115.2h0M382.8 90.8h0M393.1 112.8h0M376.2 96.4h0M400.5 77.2h0M401.6 93.5h0M381.9 98.9h0M399.8 95.3h0M394.9 96.3h0M381.1 106.7h0M396.3 107h0M396.4 122.6h0M378.2 92.6h0M389.9 117h0M377.4 101.1h0M391.4 96.3h0M372.7 90.1h0M405.2 86.9h0M383.9 95.7h0M381.7 93.4h0M389.6 99h0M413.2 93.7h0M385 91.5h0M376.5 104.9h0M402.9 93h0M396 96h0M381 122.4h0"/><path stroke="#92e82c" d="M378 112.4h0M404.7 97.8h0M386 102.7h0M377.6 81.5h0M400.1 112.8h0M409.9 78h0M397.7 75.5h0M393.7 98.5h0M374.2 78.1h0M372.7 127.7h0M389.7 114.8h0M394.5 85.4h0M388.6 113.9h0M388.4 96.2h0M387.1 101.9h0M383.6 104.8h0M371.3 108.9h0M400.7 109.1h0M408.8 101.3h0M396.8 120.5h0M405.2 99.1h0M373 106.6h0M388 124.1h0M388.6 92.9h0M382 95h0M402.3 90h0M392.8 94.7h0M383.2 93.5h0M412.4 98.6h0M409 91.5h0M396.7 96.8h0M401.3 98.3h0M388.8 118.9h0M389.4 119.6h0M394.4 87.5h0M409 106.4h0M392.3 102.4h0M391.3 117.5h0M413.2 100.5h0M395 95.5h0M389.2 119.6h0M393.7 89.9h0M391.7 92.6h0M388.7 98.3h0M379.9 84.9h0M375.9 117.2h0M406.3 122.1h0M376.7 104.6h0M373.4 98.8h0M375.5 103.6h0M373 116.1h0M388.4 116.3h0M380.9 88.1h0M411.2 106.1h0M368.3 104.5h0M405 107h0M369.4 112.6h0M393.5 101.8h0M405 91.8h0M409.8 113.5h0M386.7 101.1h0M373.4 111h0M382.2 107.9h0M400.2 92.1h0M382.7 108.3h0M391.8 79.2h0M384.8 117.8h0M389.3 95.8h0M372.9 113.8h0M404.1 104.4h0M382.1 104.8h0M377 127.4h0M397.9 113.8h0M403.1 110.8h0M383.8 107.6h0M413.6 105.9h0M391.5 118.9h0M384 98.5h0M407.3 104.6h0M378.1 129.5h0M400.4 111.9h0M393 105h0M397 92.4h0M375.8 80.4h0M408.7 124.3h0M412.3 92.5h0M373.1 96.9h0M368.6 104.5h0M412.5 99.6h0M391.4 81.3h0M395.8 106.2h0M372.4 99.3h0M376.9 109.4h0M378 96.3h0M411.1 85.7h0M388.4 90h0M388.2 117.9h0M374.8 104h0M385 95.5h0M400.9 72.1h0M403.3 103.6h0M368.6 115.7h0M379 105.2h0M384.4 109.2h0M388 88.1h0M391.9 102h0M398.8 76.5h0M396.6 104.7h0M396.7 76.4h0M389 118.2h0M399 86.7h0M406.8 101.9h0M398.2 119.8h0M403.3 83.7h0M373.8 96.1h0M393.3 106.8h0M396 109.7h0M381.3 87.4h0M408.3 91.7h0M393.3 110.6h0M408.6 104.7h0M389.5 106.1h0M413.2 86.7h0M378.8 87.1h0M388.6 106.9h0M392.3 84.8h0M413.1 106.6h0M379.7 100.1h0M376.6 81.8h0M403 113.9h0M392.3 83.7h0M403.3 111.5h0M395.1 109h0M393.9 113.3h0M382.6 127.3h0M384.6 87h0M380.1 98h0M387.8 97.9h0M397.8 91.6h0M370.7 111.3h0M385.6 79.8h0M384.5 109h0M396.3 108.7h0M402.5 107.4h0M391.6 104.4h0M376.2 105.9h0M380.3 110.2h0M382.7 91.3h0M390.8 90.4h0M402.5 108.5h0M394.7 89.8h0M376.9 67.5h0M404.8 86.9h0M383.1 111.7h0M401 75.7h0M387.1 104.4h0M378.8 118.3h0M401.1 103.1h0M400.2 102.9h0M384.2 92.3h0M377 96.9h0M374.3 99.7h0M368.3 116.1h0M374 113.3h0M402.6 122.9h0M382.5 93.3h0M392.5 111.8h0M370.9 103.1h0M390.4 88.5h0M390.4 88.1h0M380.4 96.6h0M380.5 108.5h0M385.1 111.9h0M401.4 115.5h0M369 84h0M403.8 125.9h0M389.9 88.7h0M384.6 123.4h0M368.1 119.2h0M390.2 92.5h0M398.7 91.5h0M385.2 81.5h0M392.6 90.6h0M404.8 89.4h0M396.1 100.3h0M382.6 104.7h0M396.4 93.7h0M389.1 92.1h0M381.1 111.4h0M385.2 103.4h0M379.5 88h0M381.4 91.1h0M406.3 97.1h0M407.9 84.7h0M389.7 104.5h0M403.6 91.5h0M376.5 100.9h0M387.7 81.1h0M400.5 118.6h0M396.6 96.6h0M398.8 110.9h0M387.6 94.3h0M405.9 109.6h0M397.7 130.2h0M393.4 122h0M383.6 115.2h0M394.3 88.5h0M392.2 99h0M405.3 87.1h0M390.3 111.4h0M396.5 75.1h0M376.1 111.9h0M389.6 95.9h0M385.6 114.3h0M383.7 113.4h0M401.3 95.6h0M392.8 116.5h0M393.8 95.9h0M376.6 100.6h0M369.9 102.7h0M396.4 124.7h0M390.8 96.5h0M399.3 110.8h0M379.2 100.1h0M396.3 95.3h0M404.2 108.6h0M374.9 120.3h0M380 100.7h0M373.1 108.3h0M381.2 107.1h0M396.1 121.4h0M381.2 95.7h0M379.3 118.5h0M388.5 95.3h0M402.7 81.6h0M381 91.6h0M382.2 90h0M390.7 90.1h0M394.3 90.9h0M386.4 106.7h0M391.9 107.5h0M388.4 91h0M392.1 104.1h0M380.7 104h0M392.2 123.2h0M400.5 83.6h0M369 87.6h0M382.7 103.7h0M371.5 107.5h0M389.5 103.6h0M402.1 115.2h0M379.1 97.8h0M387.9 85.5h0M399.9 102.9h0M410.4 102.1h0M367.8 90.5h0M389.7 104.2h0M395.6 103.2h0M403.4 80.5h0M370.5 111.6h0M401.8 111h0M402.7 132.6h0M413.2 71.9h0M398.7 97.8h0M394.6 88.7h0M403.5 104h0M380.3 101.3h0M396.7 89.6h0M388.8 101.7h0M392.8 98.1h0M408.3 104h0M373.7 110.5h0M395.1 108.5h0M386.7 86.3h0M380.8 105.6h0M413.3 101.5h0M371.5 93.1h0M378.4 99.1h0M388.2 68.5h0M397.9 112.9h0M390.7 79.2h0M403.6 104.9h0M398.2 101.7h0M378.7 111.5h0M398.2 100.6h0M398.8 98.3h0M377.2 121.4h0M373.2 96.9h0M383.5 103.5h0M394.8 103.9h0M387.9 97.9h0M394.6 122.9h0M380.6 113.6h0M406.5 103h0M391.5 90.9h0M394.6 122.6h0M376.2 75.8h0M396.1 105.5h0M409.6 106.1h0M377.2 98.8h0M373.9 81.5h0M388.9 76.3h0M406.4 111.8h0M381.3 110.1h0M382.3 113.8h0M370.2 103h0M384.5 91.2h0M410 99.3h0M407.7 111.2h0M386.6 104.8h0M399.3 99.1h0M385.9 109.8h0M390.8 116.4h0M391.9 104.7h0M391.1 102.4h0M405.8 108.6h0M397.9 107h0M401.7 95.5h0M395.5 95.5h0M374.3 117h0M405.2 111.1h0M395.8 81.4h0M383.4 99.8h0M378.1 92.6h0M371 111.4h0M411.6 94h0M402 89.9h0M375 113.1h0M397.8 123.2h0M388.7 105.7h0M374.3 101.5h0M408.6 114.3h0M398 93.6h0M398.4 109.9h0M399 88h0M374.4 109.2h0M377.6 102.8h0M377.3 125h0M408.3 118.8h0M396.8 102.5h0M391.6 102.9h0M401.8 80.8h0M384.1 115.2h0M372.9 114.8h0M384.8 93.2h0M401.3 109h0M403.5 97.7h0M390.8 108.1h0M389.7 89.8h0M399.8 94.4h0M395.1 88.1h0M405.9 107h0M400.7 107.6h0M392.1 108.8h0M380.6 79.5h0M406.5 91.2h0M386.7 139.6h0M398.2 105.1h0M397 127.3h0M394.8 95.1h0M398.3 86.4h0M383.4 96.1h0M394.8 116.7h0M387.8 129h0M403.3 104.5h0M392.9 100.8h0M396.5 107.4h0M410.6 96.8h0M396.4 99.4h0M382.3 86.4h0M367.6 100.2h0M389.4 85.1h0M379.6 94h0M370.5 98.2h0M383.1 98.1h0M404.8 109.1h0M385.9 113h0M377 98.5h0M412.4 100.5h0M381.9 72.6h0M374.7 122.2h0M412.3 93.5h0M376.4 136.5h0M406 95.4h0M378.6 114.7h0M388.8 79.9h0M391.4 114.1h0M375.9 113.7h0M397.4 112.4h0M385.1 92.9h0M387.2 99.3h0M394.3 104h0M397.4 115.1h0M379.8 102.2h0M377.5 117.6h0M398.3 82.9h0M386.8 107.5h0M399.3 99.8h0M382.2 89.5h0M397.2 109.1h0M379.3 94.5h0M385.9 131.3h0M394.2 97.1h0M371.5 97h0M392.1 90.6h0M412 91.3h0M405.9 122h0M399.6 115.5h0M391.7 94.4h0M396.7 107.9h0M391.1 99.9h0M391.8 129.4h0M390.9 107.9h0M391.6 84.6h0M390.5 103.7h0M401.4 107.4h0M395.9 92.9h0M395.8 83.1h0M382.7 82.3h0M394 106.4h0M400.3 105.2h0M403.9 118.3h0M397.7 102.3h0M395.2 89.4h0M381.6 103.9h0M397.3 101.8h0M412.3 118.9h0M395.7 100.1h0M400.6 111.2h0M384.7 119.3h0M387.9 115.1h0M393.5 108.3h0M392.6 104.7h0M377.4 80.2h0M391.5 116.5h0M397.7 88.9h0M413 97.9h0M396.2 102.9h0M401.2 122.9h0M406.2 92.6h0M381.1 89.6h0M405.5 100.7h0M370 98.8h0M406.6 101.5h0M398.4 122.9h0M389.1 85.1h0M391.4 115.7h0M380.7 79.7h0M369.3 108.4h0M381.3 73.5h0M379.6 88.4h0M374.1 110.5h0M406.8 109.5h0M398.6 111h0M394.4 108h0M401.8 111.7h0M402.9 83.1h0M378.7 116.3h0M377.3 115.7h0M391.8 95.1h0M405.5 88.7h0M374.7 101.2h0M380.8 90.4h0M390.6 93.7h0M393.7 99h0M393.5 115.8h0M392.9 100.4h0M373.4 63.1h0M406 108.1h0M396.5 104.7h0M381.5 88.4h0M397.6 104.8h0M397.9 101.8h0M404.2 118.1h0M399.5 101.2h0M395.9 110.5h0M410.2 121h0M389.6 97.8h0M405.2 99.2h0M374.6 101.3h0M382.5 122.3h0M380.5 97.1h0M405.8 85.1h0M395.2 100.3h0M383.5 108.2h0M401.2 92.9h0M401.9 92.6h0M391.2 116.1h0M383.1 114.2h0M386.8 99.5h0M407.3 121.8h0M393.4 93.3h0M397.9 102.2h0M402.5 115.6h0M374.6 111.3h0M386.2 109.6h0M387.5 109.6h0M369.3 94.9h0M374.3 108.3h0M397 92.6h0M371.8 93.4h0M400.7 82.3h0M391.2 95.2h0M401.8 112.2h0M387.1 113.4h0M400.9 96.5h0M395.2 85.1h0M403.7 104.1h0M380.7 98.5h0M400.7 110.8h0M397.3 110.4h0M389.1 103.3h0M384.2 84.7h0M395.3 95.8h0M388 95.5h0M388.3 109.7h0M397.2 96.3h0M383.3 94.5h0M387.6 124.4h0M391.4 76.8h0M398 99.3h0M383.2 80.8h0M401.8 121.1h0M382.7 101.4h0M409.4 104.3h0M368 107.6h0M394 110.9h0M406.2 111h0M387 84.9h0M387.5 107h0M396.7 87.5h0M390.4 113.6h0M389.9 90h0M391.3 88.6h0M396.3 105.6h0M376.3 82.4h0M379.9 110.3h0M398.7 103.7h0M382.8 120.8h0M395.6 76.7h0M388.9 93.2h0M392.4 79.2h0M387.3 111h0M382.5 123.2h0M393.7 128.7h0M376 112.5h0M397.9 85.5h0M400.4 89h0M403.4 109.3h0M387 86.4h0M394.4 109.9h0M404.3 111.3h0M408.1 102.6h0M398.2 117.6h0M386.7 106.6h0M385.3 97h0M392.5 95.1h0M406.6 83.8h0M397.6 114.6h0M376.5 108.1h0M379.9 97.2h0M382.8 100.3h0M412.6 99.9h0M389.2 91.5h0M384.2 104h0M379.5 86.2h0M395.1 96.8h0M402.2 95h0M409.2 113.5h0M402.2 118.3h0M385.1 105.4h0M387.1 90.8h0M380.9 86.5h0M403.5 87.9h0M393.7 146.7h0M389.4 88.8h0M405.8 93h0M404.5 116.8h0M403.3 113.6h0M401.5 104h0M411.9 111h0M398 90h0M410.8 87.4h0M403.8 89.9h0M400 103.5h0M376.2 102h0M376.4 111.5h0M385.9 102.3h0M369.8 107.7h0M399.1 79.5h0M387.1 103.8h0M392.8 104.6h0M384.3 117.4h0M376.1 106.1h0M367.5 102.8h0M382.1 101h0M376.4 99h0M405.7 102.7h0M380.8 80.5h0M388.7 90.6h0M380.4 109.9h0M371.2 92.2h0M383.5 79.1h0M387.8 89h0M412.5 97h0M398.7 107.6h0M401.5 123.9h0M389 107h0M408.3 101h0M394.5 86.4h0M394.4 105.2h0M382.8 95.4h0M393.4 90.5h0M403.1 104.4h0M387.5 102.4h0M390.9 112h0M394.3 95.2h0M383.6 89.2h0M379.5 99.1h0M401.3 120.5h0M390.6 102h0M393.4 109.7h0M376.4 105.3h0M399.5 110.1h0M405.6 109.7h0M395.6 117.1h0M383.1 97h0M399.9 112.5h0M381.3 86h0M374.8 98.5h0M374.7 75.3h0M411.4 112.5h0M394.5 112.9h0M399.8 103.9h0M395.6 104.6h0M406.8 111.2h0M395.4 106.7h0M406.3 104.9h0M385 92.5h0M398.1 112.2h0M392.5 85.5h0M396.7 100.3h0M397.5 102.7h0M373.9 98.9h0M376.1 88.1h0M383 90.4h0M395 100.3h0M405.8 96.3h0M398.1 93.6h0M385.5 90h0M392.1 117h0M396.5 99.2h0M410.5 93.9h0M410.3 109.2h0M389.8 106.8h0M388.8 101.6h0M405.5 96.3h0M389.4 112.8h0M393.4 104h0M406.8 91.4h0M375.1 93.3h0M386.8 84.7h0M395 109.1h0M382.9 114.7h0M394.3 80.7h0M382.2 99.8h0M391.3 120.8h0M385.4 105.9h0M393.8 132.4h0M406 98.6h0M389.5 86h0M399.6 111h0M392.4 108.2h0M387.2 113.1h0M391.1 109h0M394.9 102.9h0M384.7 102.3h0M398.2 125.1h0M390 130h0M389.9 102.3h0M368.3 97.5h0M395.6 118.1h0M374.6 107.4h0M399.9 120.6h0M391.5 102.3h0M367.7 107.9h0M408 129.1h0M383 113.8h0M377.7 101.4h0M398.1 90.9h0M389.4 117.5h0M378.4 81.9h0M394 95.1h0M377.6 105.9h0M378.2 104.5h0M376 114.4h0M383 95.2h0M388.4 101.5h0M396.4 80.1h0M407.7 105.4h0M394.9 86.8h0M405.7 87.3h0M413.9 113.7h0M381.9 100.3h0M413.9 117.6h0"/><path stroke="#88e024" d="M389.3 96.3h0M379.5 87.9h0M399.4 96h0M379.1 94.9h0M389.4 98.5h0M379.5 106.1h0M409.9 97.7h0M374 94h0M391.7 105.4h0M391.5 110.2h0M377.6 111.8h0M398.3 99.3h0M411.3 94.5h0M399.3 99.7h0M392.2 90.2h0M414 75h0M392.8 98.6h0M378.6 89.6h0M404.7 82.7h0M377.5 93.2h0M396.7 108.6h0M384.2 83.2h0M394.7 115h0M394 104.6h0M388.9 120.3h0M411.4 105.4h0M398.7 94.5h0M388.9 115.9h0M374.1 103.2h0M391.3 108.4h0M396.2 120.7h0M385.5 89.2h0M374.8 112.3h0M406.1 96.9h0M404.8 110.9h0M380 110.9h0M389.6 111.3h0M407.4 89.3h0M373.8 107.7h0M400.2 92.7h0M397 95.8h0M391.1 92.7h0M400.2 99h0M387.9 86.1h0M375.6 109.4h0M391.8 98.3h0M390.8 128h0M409.7 96.7h0M390.2 107.7h0M385.8 110.8h0M403.7 76.1h0M372.1 84.5h0M391.8 111.8h0M393.9 104.9h0M410 93.8h0M400.4 92.3h0M397.4 96h0M401.3 106.5h0M388.8 99.2h0M380.9 83.9h0M380.9 76.6h0M396.8 81.1h0M389.9 112.2h0M390.5 91.9h0M393.8 87h0M407 71.3h0M371.4 95.5h0M375.2 100.7h0M396.6 96.9h0M379.4 95.5h0M368.2 107.5h0M378.1 100h0M397.8 101.9h0M384.1 96.8h0M400 89.3h0M400.5 68.1h0M386.5 108.5h0M381.2 112.3h0M381.3 128.9h0M397.2 111.3h0M408.5 81.8h0M397.8 102.6h0M410.8 100.5h0M375.5 108.2h0M383.9 79.4h0M398.3 124.4h0M407.8 97.5h0M369.3 98.7h0M405.8 110h0M393 100.1h0M402.5 102.8h0M398.1 103.7h0M401 102.3h0M392.6 117.1h0M377.8 100.7h0M398.5 112.3h0M393.3 89.6h0M395.5 117.4h0M385.4 77.7h0M389.1 108.3h0M410.4 104.2h0M410.1 118h0M378.7 124h0M392.7 125.4h0M377.3 96h0M396.6 100h0M399.1 87.9h0M394.9 111.3h0M369.9 98.9h0M380.2 93.3h0M391.4 102.7h0M405.6 120.9h0M395.7 113h0M389.5 79.4h0M389.1 89.6h0M399.1 111.3h0M398.7 108.2h0M398.3 106.5h0M369.6 110.3h0M403.9 92h0M391.7 116.4h0M402.8 110.1h0M369.3 115.2h0M400.5 87.2h0M391.9 100.4h0M412 105.5h0M391.1 114.4h0M410.3 102.8h0M392.1 95.9h0M411.9 83.3h0M375.1 95h0M377.4 101.3h0M390.4 89.6h0M384.2 86.5h0M378.1 109.1h0M410.5 101.2h0M410.1 84.8h0M396.6 87.2h0M409 105.9h0M382.6 76.1h0M384.8 111.4h0M401.1 102.8h0M407 105.8h0M410.4 104.6h0M373.2 83.3h0M394.1 95.8h0M373 107.1h0M403.9 114.3h0M392.5 106.2h0M378.6 83.9h0M371.3 84.7h0M394.3 133.7h0M400 97.2h0M406.7 84.4h0M387.9 85.5h0M410.8 112.5h0M392.9 106.3h0M388.4 86.8h0M384.3 97.4h0M375.3 93.6h0M405.8 102.1h0M377.8 123.6h0M377.2 69.6h0M382.8 78.9h0M387.7 117h0M410.7 123.6h0M386 116.5h0M388.2 109.2h0M376.3 109.8h0M400.8 107.3h0M369.7 102.4h0M377.3 94.8h0M392.3 115.6h0M368.8 83.8h0M387.7 96.6h0M404.1 85.8h0M387.9 95.6h0M387.8 111.7h0M376.6 108.5h0M399.5 118.5h0M400.2 104.5h0M407.7 111.8h0M391.3 87.1h0M389.3 97.6h0M388.9 93.5h0M408.3 108.5h0M408.7 115.1h0M372.4 95.6h0M380.7 131.1h0M388.8 105.9h0M390.6 94.9h0M370.5 95.9h0M392.5 96.1h0M410.9 95.9h0M392 84.5h0M401.7 103.4h0M398.4 112.2h0M394.1 81.4h0M392.1 129.1h0M390.7 111.6h0M393.7 101.9h0M398.9 84.2h0M380.4 97.8h0M410.9 117.9h0M393.6 111.2h0M370 93.9h0M413.9 93.6h0M388.8 109.3h0M385.5 126.9h0M378.9 101.5h0M395.1 99.5h0M409.3 94.6h0M397.2 109.1h0M402.7 122.9h0M398.5 87.4h0M406.7 112.2h0M404.4 122.9h0M402.8 110h0M377.7 95.3h0M392.1 89.4h0M412.6 118h0M399.2 87.2h0M387.1 92.6h0M391.7 105.7h0M383.6 89.6h0M389.8 81.9h0M403.3 110.6h0M390.4 96.5h0M377.1 117.4h0M387 112h0M381 106.9h0M382.3 120.8h0M374.7 92.9h0M370.8 105.4h0M402.6 101.6h0M378 103.7h0M402 93.1h0M385.3 105.6h0M397.6 93.2h0M399.6 116.9h0M397.3 132.9h0M408.4 91.7h0M384.9 112.1h0M410.6 94.8h0M388.5 104.1h0M389.6 112.3h0M377.6 89.8h0M401.1 78.3h0M394.9 130.9h0M394.1 103.5h0M401.8 103h0M399 119.9h0M377.3 97h0M390.8 87.6h0M379.6 104.6h0M396.4 72.3h0M372.1 91.5h0M387.9 84.3h0M400.3 112.4h0M381.2 95h0M397.4 99.8h0M402.2 109.6h0M398 106.7h0M409.7 90.4h0M398.9 87.3h0M378.4 113.1h0M398.2 102.6h0M385 103.3h0M405.4 116.9h0M394.1 64.6h0M391.5 90.8h0M394.9 114.4h0M396.3 80h0M379.2 103h0M393.6 127.5h0M385.9 80.8h0M402.5 93h0M406.6 116.7h0M386.1 101.8h0M398 93.3h0M391.1 115.5h0M392.3 125.9h0M388.1 60.3h0M384.5 118h0M386.4 114.7h0M393 100.8h0M380.2 79.7h0M406.5 109.9h0M403.4 101.8h0M390.9 83.7h0M394 84.5h0M377.8 111.2h0M402.3 109.1h0M387.6 87.6h0M386.2 83h0M410.6 83.8h0M394.6 89.8h0M381.3 85.4h0M386.3 91.4h0M401 115.9h0M382 92.9h0M386.6 110.7h0M400.5 95.1h0M409.1 74.9h0M400.2 101.8h0M403 107.7h0M387.3 98.1h0M409.6 125.9h0M394.1 97.5h0M405.9 72.4h0M408.3 93.9h0M411.2 102.4h0M395.4 112.3h0M379.4 112.6h0M390.5 89.8h0M399.3 111.4h0M406.9 82.1h0M393.2 99.3h0M397 106.6h0M380.6 126.4h0M397.4 95.6h0M371.1 76.7h0M394.1 91.4h0M371.5 115.1h0M403.8 125.3h0M383 104.6h0M411.4 97.1h0M376.7 103.3h0M385 95h0M392.4 89.9h0M397.2 83.5h0M371 96h0M398.5 125.8h0M388.3 90.3h0M396.1 108h0M393.1 105h0M390.5 108.5h0M396.9 93h0M395.5 106.5h0M411.6 103.7h0M378.9 97.9h0M382.7 106.7h0M389.5 107.2h0M403.6 95h0M403.1 116.3h0M387.9 98h0M391.2 108.7h0M402 72.4h0M392.1 105.7h0M383 96h0M375.2 106.9h0M383.6 108.4h0M410 125.7h0M398.4 95.4h0M384.4 119.5h0M385 100.2h0M381 124.8h0M387.7 103.5h0M389 108.8h0M395 124.8h0M389 61.2h0M369 100.4h0M389.6 113.1h0M395 127.6h0M381.4 107.3h0M396.2 101.3h0M386.6 113.8h0M368.1 103.5h0M401.8 98.3h0M404.2 101.4h0M384.7 88.9h0M404.7 91h0M391.7 103.4h0M385.4 79.5h0M390.4 101h0M378.5 89.5h0M385 108.5h0M383.7 116h0M386.6 82.1h0M387.4 104.1h0M379.5 128.4h0M391.5 101.6h0M397 99.5h0M383.9 96.6h0M408 101.6h0M404.9 110.9h0M401.7 113.6h0M393.2 82h0M373.7 100.4h0M403.1 98.8h0M379.4 108.4h0M408.2 112.9h0M382.4 95.6h0M385.1 123.9h0M388.4 89.3h0M395.2 66.5h0M398.9 133.6h0M406 126.6h0M391.5 125.4h0M390.7 102.2h0M394.5 95.3h0M382.1 99.5h0M377.7 96.7h0M402.2 103.4h0M390.8 105.8h0M369.5 83h0M394.2 94.4h0M413.4 88.7h0M384.4 111.7h0M398.7 97.4h0M384.3 111.2h0M398.7 125.5h0M379.6 107.2h0M398 92.6h0M383.9 100.6h0M387.2 113h0M385.6 118.8h0M385 94.6h0M396.5 101.2h0M394 97.3h0M375.1 100.6h0M389.6 123.6h0M381.5 101.3h0M391.7 89.9h0M385.5 108.1h0M410.5 83.1h0M403.8 101.2h0M396.2 94.5h0M389.4 116.8h0M401.4 104.4h0M402.8 91.6h0M378.8 103h0M373.2 117.2h0M413.3 79.6h0M411.6 97.5h0M390.3 105.6h0M405.7 121.6h0M377.4 107.1h0M395.4 97.6h0M396.9 95.1h0M413.1 132h0M385.4 124h0M410.5 108h0M387.7 115h0M391.3 111.4h0M392.2 76.1h0M388.8 108.5h0M389.4 121.4h0M383.5 97.3h0M392 101.4h0M407.9 100.9h0M389.7 107.6h0M405.9 107.9h0M399.7 95.7h0M388.2 101.7h0M372.8 132h0M401.4 133.7h0M391.5 84.7h0M390.1 111.9h0M372.8 97.6h0M393.9 105.9h0M399.2 118.3h0M385.2 110.5h0M407.4 101.8h0M373.2 91.5h0M384.9 111.8h0M405.4 110.5h0M397.4 97.6h0M369.8 87.8h0M385.4 91.7h0M405.4 99.2h0M400.5 80.3h0M404.4 110.2h0M385.6 114.2h0M386.6 116.4h0M382.1 90.7h0M396.8 91.1h0M397.2 98.7h0M381.3 108.7h0M379 117.9h0M385.8 98.5h0M391.3 112.1h0M398.4 93.9h0M378.1 119.5h0M403.7 92.3h0M374.6 104.9h0M393.5 121.4h0M385.1 105.9h0M386.4 101.3h0M385.7 91.4h0M394.7 109.8h0M392.1 124.9h0M407.8 89.7h0M403 83h0M390.5 104.8h0M378 86.3h0M391 106.2h0M395.8 114.9h0M411.8 91h0M406.2 74.6h0M407.8 78.3h0M407.6 91.8h0M390.8 104.3h0M390 107.5h0M393.2 112.1h0M376.4 106h0M389.3 115.8h0M403 84.9h0M389 98.9h0M390.7 98h0M389.3 82.9h0M388 110.7h0M393.2 102.5h0M383.2 97.1h0M390.5 106.9h0M377.1 103.6h0M380.6 106.9h0M401.4 111.3h0M376.4 99.7h0M413.6 91.7h0M381.5 58.9h0M374.9 94.4h0M391.9 103.3h0M373.7 88.5h0M403.5 112.2h0M372.2 116.8h0M392.8 81.8h0M410.7 98.1h0M393.1 93.7h0M400.8 68.2h0M380.8 92.1h0M398.8 98.6h0M393.8 121.5h0M379.6 121.4h0M381.2 80.7h0M402.9 122.9h0M383.7 89.9h0M376.8 80.1h0M396.8 94.6h0M382.4 101.7h0M388.5 104.8h0M370.7 101.7h0M407.3 104.5h0M370.9 121.9h0M382.2 94.6h0M395.6 96h0M409.3 101.1h0M390.8 83.4h0M385.1 114h0M404.3 113.8h0M397.6 106.1h0M381.2 120.1h0M387 109.7h0M395.9 96.9h0M369.4 97.3h0M388.3 116.1h0M412.5 94.7h0M378.7 109h0M369.5 113.4h0M398.3 87.1h0M389.7 99.5h0M393.5 88.8h0M389.1 96.7h0M385.3 79.4h0M382.2 95.8h0M399.7 103h0M396.3 89.3h0M406.3 111.1h0M397.8 107h0M394.3 101.5h0M413.5 84.3h0M404.8 98.5h0M386.7 111.4h0M413.6 111h0M394.9 102.2h0M411.1 105.7h0M385.4 101.2h0M383.3 99.8h0M371 86.3h0M400.3 106.9h0M389.1 128.1h0M381.9 84.1h0M388.1 95.6h0M402 95h0M379.4 106.9h0M388.8 89.9h0M382.9 120.7h0M403.5 91h0M378.6 100.1h0M401.1 111.2h0M400.6 120.9h0M400.9 100.1h0M398.7 109.7h0M391.9 97.4h0M386.4 113.4h0M393.8 110.3h0M380.9 90.7h0M382.4 93.9h0M383.8 100h0M372.3 85.7h0M389.8 93.6h0M412 105h0M384.8 92.9h0M377.9 104h0M404.9 90.8h0M396.3 95h0M384.7 98.5h0M379.1 84.5h0M381.5 95.3h0M392.9 93.4h0M399.5 115.4h0M390.1 116.3h0M392.7 83.4h0M390.1 94.3h0M379.8 114.1h0M397.1 106.2h0M394.3 120.3h0M407 90.2h0M395.1 77.2h0M385.9 89.3h0M388.2 88.5h0M379.4 80.2h0M404 103.1h0M400.3 101.5h0M397.9 123.9h0M393.8 96.3h0M401.6 83.5h0M390.5 96.6h0M401.2 95h0M403.9 95h0M383.4 108h0M404.1 82.7h0M382.5 90.5h0M396.3 88.9h0M390.2 98.4h0M399.8 94.4h0M387.6 119.6h0M385.7 113.8h0M392.9 94.9h0M382.3 116.9h0M403 84h0M378.4 127h0M412.4 111.7h0M370.2 113.7h0M372.3 95h0M411.6 102.7h0M385 130.8h0M408.2 105.1h0M396.1 104.1h0M376.9 81.9h0M397 83h0M377.8 96.8h0M397.7 78.9h0M398.8 95.5h0M398.5 97.3h0M394.8 104.2h0M403.6 117.7h0M387.4 80.9h0M378.1 108.6h0M411 91h0M381 87.1h0M405.7 87h0M410.8 106.2h0M388 72.1h0M398.6 90.6h0M392.6 128.2h0M381.8 94.4h0M375.4 87.3h0M391.7 82.1h0M380.8 116.2h0M403.7 109.7h0M402.5 87h0M396.6 105.4h0M406.6 93.1h0M380.6 119.6h0M380.7 112.7h0M385.7 121.4h0M406.9 90h0M391.1 94.2h0M396.9 91.5h0M382 79.6h0M393.4 111.8h0M392.7 93.4h0M386.1 88.5h0M396.7 105.6h0M374.3 102.2h0M405.2 89.6h0M399.5 93.4h0M395.6 99.6h0M400.7 106.4h0M390 107.3h0M392.3 103.6h0M402.5 101.6h0M385 110.9h0M385.7 111.3h0M408 111.6h0M398 96.6h0M398.5 100.5h0M413.6 105.6h0M384.2 102.3h0M375 113.3h0M376.5 82.5h0M386.6 103.6h0M402.8 114h0M399.7 91h0M397.7 95h0M398 77.2h0M371.4 106.5h0M384.9 102.6h0M392.2 118.7h0M383.1 111.4h0M392.5 125.2h0M368.5 105.2h0M391.2 108.3h0"/><path stroke="#bcf280" d="M397 95h0M394.1 91.8h0M397.4 109.3h0M404 101.6h0M390.5 80.9h0M407.8 99h0M412.5 99.7h0M377.9 124.1h0M390.8 118.8h0M392.5 91.9h0M393.9 104.2h0M394.2 113.6h0M395.6 97.8h0M380.9 118h0M394 111.3h0M409.9 102.3h0M380.8 108.3h0M391.9 113.5h0M388.1 105.9h0M401.4 133.4h0M409.1 88h0M372.4 126.3h0M413.4 116.1h0M398.5 115.8h0M406.2 127.8h0M379.9 120.7h0M368.1 112h0M377.8 113.2h0M392.8 97.7h0M400.1 115.6h0M397.1 89.1h0M375.4 100.1h0M395.6 98h0M408.7 101.1h0M407.8 114.1h0M393.2 97.4h0M395.9 117.7h0M405.6 87.2h0M379.5 77.9h0M402.7 92.2h0M400.2 78.2h0M379.4 104.6h0M400.4 107.4h0M390.5 107.8h0M408.3 88.1h0M403.4 102.1h0M400 105.4h0M380.1 93.7h0M384.3 121.8h0M400.2 104h0M393.1 100.5h0M404.3 111.2h0M405.6 86.4h0M383.4 111.1h0M404.6 81.1h0M406.5 99.6h0M391.9 91.3h0M381.9 115h0M387.2 93.9h0M405 105.5h0M398.6 104h0M370.3 103.3h0M398.9 101h0M388.1 99.4h0M394.5 119.1h0M367.8 99.4h0M405.1 107.8h0M379.3 76.3h0M387.5 112.6h0M387.6 101.4h0M390.6 117.9h0M387.8 93.4h0M383.9 115.7h0M390.2 102.5h0M394.5 84h0M413 111.8h0M391.1 107h0M375.3 80.6h0M403.7 114.8h0M389.7 72.5h0M374.3 84.9h0M389.2 89.9h0M388.8 104.7h0M404.6 99h0M378.9 114.9h0M403.2 105.7h0M412.7 103.1h0M393.7 115.6h0M394.2 95.3h0M396.5 97.5h0M386.2 108.8h0M400.5 113h0M403 107.9h0M402.3 96.2h0M383.9 104.3h0M380.6 111h0M381.1 117.2h0M382.4 104.2h0M401.2 140.8h0M371.4 110.4h0M381 125h0M378.5 89.9h0M401.4 98h0M400.5 77.4h0M382.5 114.8h0M385.3 107.4h0M370.3 109.7h0M375.6 107.6h0M381.8 112.5h0M398.5 119.9h0M405.7 110.6h0M390.3 110.8h0M388.2 102.2h0M394.3 87.7h0M376.4 86.1h0M373.8 108.9h0M398.2 104.9h0M379.4 106.1h0M376.1 111.5h0M399.2 104.8h0M399.1 114h0M411.5 97.4h0M405.4 102h0M387.3 88.4h0M396.8 125.4h0M387.5 111.4h0M376.7 103.4h0M400.8 105.1h0M390 101.8h0M390.1 89.7h0M398.5 124.1h0M401.9 116.5h0M401.2 116h0M369.5 116.6h0M370.1 88.5h0M390.5 100.6h0M380.7 115.4h0M382.4 118.5h0M381.3 95.5h0M391.7 100.5h0M386.9 91.3h0M400.3 99.2h0M373.1 99.7h0M382.5 89.2h0M411.3 100.6h0M410 92.5h0M405.5 113.6h0M379.6 112.7h0M379.6 105.4h0M402.1 102.2h0M385.4 107.8h0M399.9 113.2h0M388.9 108.5h0M407.2 86.8h0M402.1 115.7h0M413.3 105h0M412.2 93.1h0M378.2 109.2h0M403 95.2h0M383.9 79.2h0M397 104.7h0M412.8 77.6h0M378.3 94.6h0M372.5 112.7h0M371.2 98.8h0M391.1 118.5h0M383.4 102.4h0M389.8 98h0M379.4 94.5h0M414.2 101.8h0M398 120.6h0M411 105.7h0M412.8 103.8h0M407.9 125.5h0M379 97.4h0M380.1 98h0M379.5 110.4h0M386 113.4h0M381.3 79.7h0M398.6 114.9h0M373.3 112.8h0M407 75.5h0M376.3 97.3h0M397.9 124.6h0M402.6 106.2h0M402.8 99.3h0M395.2 111.7h0M383.2 84h0M389.1 96.5h0M394.5 117h0M386 102.5h0M394.4 105.2h0M406 114.4h0M387.7 88.1h0M392.3 103.9h0M388.2 104.6h0M391.2 100.8h0M374.8 99.3h0M402.3 93h0M387.1 112.3h0M403.6 85.7h0M403.3 94.3h0M389.9 113h0M393.3 99.3h0M401.5 96.3h0M385.9 98.8h0M393.7 88.1h0M383.7 108.6h0M407.1 96.9h0M384.6 95.8h0M371.1 104.8h0M376.5 105.2h0M396.9 79.7h0M397.8 93.2h0M393.3 101.3h0M401.2 116.8h0M383.9 131.5h0M400.7 96.9h0M392.2 103.5h0M390 74.7h0M388.6 96.7h0M384.4 107.5h0M388.3 113.6h0M382.6 126.8h0M381.7 105.6h0M390.3 111.4h0M403 130.8h0M388.8 109.2h0M402.7 100.2h0M379.7 98.5h0M409.2 110.5h0M404.7 100.8h0M394.8 104.4h0M380 90.3h0M394.7 120.8h0M414 127.9h0M405.3 116.1h0M388.4 90.2h0M409.4 91.4h0M404.9 78.6h0M410.1 103.1h0M395.6 100.7h0M370.9 107.7h0M395.1 123.2h0M380.4 86.6h0M397.7 96.9h0M378.3 101.7h0M384.8 77.7h0M394.7 96.3h0M386.1 97h0M403.3 86.4h0M395.4 107h0M390.2 100.1h0M404.3 101.7h0M388 102.2h0M385.1 105.9h0M396.5 100.2h0M404 94.8h0M396.4 102.7h0M412.5 109.5h0M381.1 86.3h0M398.6 132.5h0M387.5 96.9h0M396.9 119.5h0M380.4 114.1h0M407.8 80.5h0M414 83.7h0M388.5 114.8h0M371.8 90.5h0M411.8 108.2h0M373.3 87.7h0M390.6 88.8h0M389.8 107.3h0M399.8 98.4h0M397 90.1h0M394.6 103.3h0M402.9 86.1h0M405.9 68.2h0M400 99.3h0M391.1 92.5h0M400.3 83.5h0M396.3 84.1h0M410.2 119.8h0M394 92.3h0M394.7 132.7h0M400.5 73h0M399.1 97h0M387.8 115.5h0M384.1 114.2h0M395.1 116.5h0M398.7 102.6h0M382.8 126.4h0M394.3 65.1h0M403.7 90.5h0M408.7 98h0M408.2 107h0M412.5 102h0M392 118.1h0M394.1 111.4h0M383.5 126.5h0M409 94.4h0M405.2 87.3h0M395 126.6h0M399.8 110.1h0M381.6 115.3h0M396.4 97.9h0M388 90.8h0M370.7 115.1h0M386.6 104.5h0M383.6 94.6h0M380.7 96h0M377.2 97.9h0M367.4 108.7h0M394.5 98.7h0M393.9 78.4h0M389.1 108h0M371.5 126.4h0M380.4 92.4h0M383.8 124.9h0M383.2 109.9h0M382 96.4h0M370.4 96.1h0M376.4 102.4h0M407.4 111.1h0M393 112.8h0M380.7 115.2h0M387.1 97.9h0M400.7 113.7h0M388.1 109.4h0M377.1 91.4h0M379.6 96.3h0M391.9 103.7h0M379.8 80.3h0M373 89.5h0M388.5 125.6h0M392.6 77.2h0M379.8 96.1h0M413.4 123.5h0M368.6 109.3h0M398.7 91.1h0M382.7 91.3h0M399.6 102.6h0M404.6 75.1h0M377.9 109.9h0M387.5 116.6h0M409.2 128.7h0M410.4 103h0M394.3 111.1h0M408.9 114.9h0M389.6 86h0M397.2 88.9h0M389 87.7h0M400.3 123h0M408.6 89.9h0M387.6 86.8h0M404.1 135.5h0M392.7 110.4h0M386.8 106.3h0M385.7 111.8h0M378.1 116.1h0M387.5 93h0M373.5 73h0M377.9 102h0M373.7 87.5h0M377.2 104.2h0M393.4 119.1h0M382.1 96.7h0M403.3 106.3h0M395.2 92.8h0M398.8 124.9h0M404.5 104.6h0M382 89.4h0M410.7 100.2h0M394 106.6h0M411.6 115.4h0M386.9 87.5h0M385 96.8h0M388.1 104.3h0M397 124.9h0M395.1 96.8h0M399.3 83.9h0M388.6 93.8h0M378.2 101.1h0M390.9 90.5h0M382.4 94.2h0M409.7 87.8h0M405.1 120.6h0M374.4 85.1h0M397.6 93.4h0M397.7 98.1h0M374.1 115.4h0M393.9 121.4h0M397.2 79.4h0M406.7 100h0M388.6 116.3h0M409.9 114.9h0M403.3 118.7h0M389.3 91h0M379.8 122h0M382.1 92.3h0M400.1 111.5h0M375.8 105h0M382.4 100.3h0M367.5 105.2h0M396.9 94.9h0M396.3 103.7h0M413.3 97.1h0M400.8 130.7h0M394.9 118.4h0M402.5 106h0M390.7 94.8h0M383 102.4h0M385.1 116h0M408.4 97h0M399.9 117.9h0M381.3 101.6h0M392.6 118.4h0M398.3 121.9h0M398.2 104.8h0M405.6 88.9h0M377.5 109.2h0M397.6 85.9h0M380.5 75.5h0M387.4 107.5h0M388 95.1h0M411.5 108.8h0M410 98.3h0M370 98.5h0M368.9 96h0M398.8 128.6h0M398 110.5h0M392.9 96h0M388.9 102h0M373.9 97.4h0M392.2 93.6h0M392.4 110.6h0M402.4 110h0M400.6 98.4h0M371.8 110.7h0M386.2 125.3h0M413.4 126.2h0M403.2 115.8h0M383.4 86.4h0M397.4 97.6h0M368.6 106.5h0M401.5 92.6h0M402.1 96.9h0M380.7 100.2h0M393.9 108.5h0M402.2 116.7h0M392.1 117.7h0M410.7 118.8h0M394.5 107.8h0M372.6 120.7h0M369 99.4h0M386.3 94.9h0M378.5 87.7h0M391 94.1h0M392.3 112.4h0M407.6 102.4h0M387.3 139.5h0M382.9 78.8h0M386.8 95.5h0M380.8 97.9h0M413.4 118.4h0M382.5 118.8h0M388.7 127h0M392.4 86.7h0M412.2 94h0M396.7 94.2h0M369.2 75.9h0M394.1 98.4h0M404 112.5h0M389.3 113.5h0M403.7 112.6h0M379.8 108h0M379.8 83.4h0M373.2 113.5h0M395.5 87h0M399.7 86.4h0M408 104.1h0M381.9 102.7h0M392.3 111.3h0M410.2 104.3h0M389.6 105.4h0M378.3 97.7h0M380 83.9h0M400.4 89.7h0M413.9 118h0M386.6 89.7h0M393.9 99h0M372.1 92.2h0M395.5 98.6h0M404.5 128.4h0M367.8 110.9h0M409.8 81.9h0M405.6 102.6h0M385 99h0M410.5 96.4h0M384.3 103.4h0M379.7 114.7h0M391.9 91.8h0M385.3 109.4h0M389.5 108.5h0M406.8 114.2h0M376.2 119.2h0M394.5 87.8h0M384.5 123h0M383.8 89.6h0M382 110.6h0M402.7 105.9h0M391 101.5h0M395.3 131.3h0M404.1 81.8h0M393.9 91.5h0M387.9 91h0M388.9 98.4h0M398.5 114.2h0M382.2 119.2h0M399.1 107.8h0M374.1 82.8h0M378.3 105.4h0M381.3 106.4h0M399 107.5h0M407.2 103.9h0M394.9 89.1h0M396.3 104.1h0M388.9 107h0M394.1 129.9h0M388.4 94.6h0M409.2 97.3h0M385.6 98.7h0M405.7 95h0M393.9 109.8h0M391 107.1h0M391 91h0M387.4 128.8h0M411.2 131.1h0M386.7 93.1h0M369.6 93h0M384.7 110.3h0M408.7 74.1h0M382.4 110.6h0M392.1 104.8h0M373.7 97.9h0M399.1 98.9h0M394.4 94h0M386.4 123.1h0M380.4 116.5h0M399.7 109.6h0M370 100.1h0M389.2 120.5h0M370.5 112.7h0M381.1 110h0M388.4 91.1h0M371.4 102.1h0M372.3 120.1h0M392.7 71.8h0M375.5 108.7h0M390.5 91.8h0M408.6 116.7h0M377 92.7h0M399.1 79.8h0M406.7 109.9h0M381.6 100.3h0M368.8 94.1h0M385.5 102.7h0M400 102.4h0M404.6 95.1h0M399.4 106.7h0M388.1 88.5h0M396.7 87.3h0M385.1 108.9h0M385.4 107.8h0M412.3 80.6h0M399.7 109.9h0M402.7 76h0M400.3 120.9h0M397.5 107.8h0M401.2 93h0M407.7 111.6h0M399.5 93.1h0M383.8 90.5h0M384.7 123.1h0M383.4 84.7h0M376.5 101.4h0M409.5 106.7h0M383.6 99.1h0M402.9 119.3h0M392.4 102.7h0M389.5 113.9h0M405.7 109.7h0M394.1 95.3h0M391.8 108.1h0M392 110.5h0M394.2 91.9h0M406.1 114.1h0M385.1 111.1h0M385.4 93.9h0M389.2 128.3h0M408.4 126.4h0M408.6 123.3h0M410.4 88.1h0M388.6 75.3h0M378.5 118.7h0M381.3 122.2h0M387.6 83.4h0M391.6 125.7h0M398.2 103.7h0M380.8 131.8h0M391.1 86.5h0M391.4 93.3h0M394.3 94.3h0M392.9 107.8h0M391.6 74.2h0M370 116.8h0M401.1 106.8h0M402.4 103.8h0M384.9 86.7h0M378.8 93.6h0M395.9 89.7h0M388.1 95.8h0M401.6 115.1h0M393.2 90.3h0M383 81.4h0M391.1 113h0M395.2 75.1h0M391.4 120.4h0M388.2 112.3h0M395.2 98.4h0M407.3 79.6h0M405.6 113.8h0M368.8 103.1h0M385 90.6h0M375.3 109.8h0M402.8 102.6h0M390.2 115.4h0M400.4 106.4h0M399.8 99.2h0M394.9 93.7h0M404.5 123h0M375.9 113.8h0M397.1 99.6h0M411.8 112.3h0M413.8 95.8h0M409.8 91.9h0M402.7 108.5h0M390.2 101h0M383.8 117.5h0M400.6 105.5h0M385.5 93.3h0M392 79.8h0M410 116.4h0M413.6 100.4h0M406.4 94.7h0M382 118.5h0M378.6 99.8h0M387.4 90.9h0M408.4 99.8h0M395.3 77h0M396.5 88.9h0M399.7 89.6h0M399.7 109.4h0M380.8 97.9h0M373 126.1h0M398 100.3h0M395.5 122.3h0M399.4 83.5h0M393.3 99.6h0M374.6 100h0M395.8 87.8h0M379.3 102.8h0M388 102.4h0M385.8 86.9h0M371.6 113.9h0M402.1 105.3h0M383.3 121.9h0M399.9 93.2h0M398.5 92.6h0M386.5 89.3h0M375 118.4h0M407.8 86.4h0M412.3 113.1h0M370.9 117.2h0M393.6 100.6h0M392.8 94.3h0M390.8 104.7h0M369.8 98.6h0M401.5 106.5h0M395.4 99.5h0M373.3 72.3h0M403.6 95.4h0M411 111h0M385.6 87.2h0M403.2 115.9h0M395.2 119.5h0M391.2 119h0M387.6 109h0M409.1 108.1h0M399.8 105.9h0M385.5 97.3h0M397.7 101.6h0M408 99.6h0M404.5 121.6h0M387.6 88.7h0M372.4 85.5h0M387.5 99.1h0M380.8 86.7h0M398.3 98.4h0M371.6 94.2h0M376.7 107.6h0M399.4 74.4h0M386.4 97.5h0M377 86.7h0M388.2 84.9h0M379.5 113.4h0M388.2 101.9h0M381.8 84.4h0"/><path stroke="#b0ee68" d="M393.5 99.9h0M374.3 99.2h0M397.3 102.5h0M385.6 92.9h0M404.1 95.4h0M413.5 120.7h0M372.6 109.6h0M393.7 108.2h0M397.4 108.8h0M413.1 95.4h0M399.1 99.6h0M390.5 92.8h0M384.4 111.6h0M387.5 102.8h0M392.3 96.4h0M407.2 88.4h0M399.3 90.1h0M382.4 104.9h0M371.4 96.6h0M402.7 106.1h0M374.9 112.2h0M387.1 90.3h0M402 108.1h0M367.5 102.1h0M388.9 99.1h0M404.3 97.9h0M409.4 87.6h0M379.8 95.5h0M387.4 108.8h0M394.6 84.8h0M404.6 94h0M387.7 98.2h0M395.4 91.1h0M403.2 86.4h0M374.8 132.3h0M374.9 109.5h0M389.9 117h0M396.9 117.4h0M402.4 94.9h0M382.3 114.9h0M391.9 89.8h0M383.9 109.6h0M398.2 117.6h0M405.2 80.3h0M386 119.8h0M390 90.2h0M390.2 111.2h0M387.7 117.2h0M394.2 120.1h0M392.1 83.8h0M405.5 92.8h0M401.1 82.9h0M399.9 102.9h0M389.8 98.3h0M375.5 107.7h0M403.4 110.3h0M400.4 124.1h0M387.9 95.5h0M384.4 112.9h0M400.9 104.7h0M407.9 99.3h0M403.1 84.9h0M395.6 105.8h0M399.1 94.5h0M383.4 128.1h0M393 90.9h0M381.9 115.8h0M370.3 119.9h0M379.1 101.1h0M377 101h0M398.5 103.1h0M412.8 72.4h0M391.4 122.6h0M377.9 113.9h0M390.3 101.6h0M378.5 112.7h0M401.8 91.3h0M390.5 108.2h0M376.9 106.4h0M395.6 108.8h0M397.2 110.3h0M408.4 110.5h0M413 119.6h0M396.1 82.4h0M407.5 98.8h0M379.3 104.3h0M398.8 114.9h0M383.2 106.6h0M409.4 93.5h0M400.1 96.3h0M398.7 100.8h0M394.9 93.5h0M386.8 93h0M381.5 98h0M405.1 121.1h0M374 111.4h0M370 93.2h0M393.8 122.1h0M395.3 124.4h0M395 125.5h0M395.9 102.4h0M409.9 112h0M395.7 101.5h0M397 116.4h0M369.2 86.3h0M379.8 100.4h0M395 78.5h0M401 113.7h0M401.9 94.2h0M374.3 93.9h0M398.1 116.5h0M368 103.6h0M387.2 100.4h0M373.1 90.8h0M386.5 101.6h0M388.7 123.1h0M397.1 109.6h0M408.4 98.7h0M408.6 119.3h0M402.6 87.9h0M396.6 130.4h0M391.5 67.7h0M412.9 126.1h0M385.8 104.5h0M386.7 84.1h0M385.4 92.8h0M381.1 106.6h0M385.4 115.9h0M400.6 100.2h0M375.4 111.1h0M408.4 109.4h0M403.8 96.3h0M398.9 98.5h0M394.2 88h0M387.7 110.3h0M386.3 95.3h0M379 108.3h0M404.9 98.8h0M409.1 71.2h0M383.9 78.9h0M391.2 80.5h0M395 83.1h0M381 107.3h0M393.5 107.5h0M399.3 101h0M388.5 90.3h0M404.9 117.7h0M387 116.1h0M389.6 99.4h0M410.9 102.8h0M383.6 118.3h0M387.1 94.4h0M404.7 113h0M389.7 96.9h0M391 85.3h0M386.3 112.5h0M398.2 100.2h0M388.5 96.3h0M381.1 97.7h0M379.8 108.3h0M391.6 97.3h0M397.8 96.4h0M387.6 99.3h0M409.1 96.7h0M394.5 123.7h0M402.1 85.3h0M383.2 107.7h0M390.5 103.2h0M384 113.1h0M379.2 110.1h0M405.1 88.3h0M397.1 89h0M404.8 108.7h0M408.6 90h0M372.2 102.8h0M390.4 126.8h0M391.6 118.6h0M387.7 105.5h0M380.4 102.3h0M382.4 120h0M381 104.3h0M390.4 96.7h0M376.6 112.2h0M403.7 99.9h0M391.1 98.2h0M388.6 112.4h0M370.8 95.8h0M380.8 101.8h0M403 111.5h0M383.2 113.5h0M386.4 106h0M384.4 91.1h0M376 105.8h0M373.8 79.8h0M392.7 113.7h0M377.9 108h0M388.5 103.4h0M413.1 102h0M387.9 73.5h0M408.9 122.9h0M375 89.6h0M382.3 87.5h0M369 89.6h0M400.6 125.8h0M396.6 119.1h0M381.8 113.2h0M402.6 88.6h0M396.5 78.5h0M408 78.3h0M368.7 75.1h0M408.6 114.7h0M407.9 102.6h0M400.4 123.5h0M399.8 112.1h0M392.4 77.4h0M387.1 105.6h0M410.5 90.9h0M373.2 117.7h0M385.5 117.7h0M373.4 103.3h0M387.4 81.5h0M388.1 90.6h0M394.6 113.3h0M390.6 85.6h0M384.2 100h0M390.5 87.5h0M405.1 119.6h0M410.7 119.3h0M389.9 112.7h0M379.8 91.4h0M393.8 85.5h0M375.4 122.4h0M413.5 105.1h0M392.2 91.9h0M402.6 105.1h0M376 91.9h0M409.8 100.7h0M392.8 104.6h0M411.8 77.9h0M373.2 115.5h0M377.7 94.3h0M382.2 98.2h0M375.9 106.4h0M393.5 97.1h0M385.2 86.5h0M381.6 100.3h0M403.2 100.1h0M406.6 82.9h0M390.4 94.3h0M379 105.8h0M402.8 71.3h0M375 88.5h0M392.4 89.1h0M401.2 98.6h0M386.4 70.5h0M399.9 108h0M376.7 124h0M383.9 123.6h0M411 92.1h0M412.1 80.5h0M410.8 94.7h0M383.7 96.8h0M391.2 103h0M379.3 84.1h0M406.2 112.3h0M381.2 90.6h0M378.5 109.8h0M374.6 104.8h0M404.4 115.5h0M389 98.1h0M395.2 90.5h0M382.7 106.5h0M393.7 105.4h0M392 103.9h0M396.1 101.9h0M379.1 106.1h0M400.5 113.2h0M400.6 103.3h0M388 108.8h0M388.7 91h0M407.8 112.2h0M380.2 110.3h0M390.3 121.9h0M394.2 96.7h0M386.6 107.2h0M383.3 86.7h0M411.7 98.7h0M399.1 122.6h0M396.7 134h0M409.7 109.2h0M381.1 98h0M386.9 95.9h0M388 105.8h0M402.8 106.8h0M400.5 108.2h0M398 91.8h0M380.6 100.1h0M404.4 123.5h0M372.4 104.3h0M391.2 93.6h0M376.6 111.3h0M395.5 132.5h0M398.4 110.3h0M410.2 88.7h0M373.2 105.5h0M380 117h0M408.8 86.5h0M398.6 118.1h0M403.5 86.5h0M373.7 93.1h0M414.1 123.9h0M404.4 93.3h0M402.7 111.4h0M391.8 94.3h0M409.9 101h0M384.4 81.4h0M400.6 90.2h0M375.4 122.2h0M403 76h0M397.1 110.3h0M383.1 85.8h0M392.7 117h0M378.9 102.7h0M388.6 115.9h0M404.9 107.6h0M396.4 120.7h0M400.6 83.1h0M403.1 95.5h0M372.6 103.4h0M395.4 95.7h0M400.6 95.1h0M391.5 98.9h0M394.7 100.9h0M408 83.5h0M400.5 111.8h0M378.8 92.1h0M392.6 98.4h0M407.6 112.9h0M408.6 100.8h0M375 86.8h0M389.4 96.3h0M399.5 96.7h0M374.3 99.1h0M388.8 116.8h0M409.2 86.4h0M392.1 99.3h0M386.6 106.2h0M376.7 89.9h0M392.1 100.7h0M393.9 98.7h0M381.6 96.6h0M392.6 145.2h0M397.2 119.2h0M387 109.7h0M388.9 83.9h0M396.1 120.2h0M401.5 118.8h0M390 83.7h0M384.9 79h0M413.5 77.5h0M370.5 106.6h0M405.3 93.2h0M383.3 100.1h0M380.3 86.3h0M398.5 80.7h0M383.7 104h0M378.4 89.7h0M388.2 101.7h0M370 113.1h0M394.6 102.8h0M368.1 135h0M406.2 89.4h0M403.7 121.2h0M412.6 90.5h0M384.5 111h0M401.6 108.1h0M393.8 114.6h0M379.8 96.7h0M411.6 100h0M389.3 112h0M378.4 106h0M388.3 80.3h0M375.9 96.7h0M395.6 100.7h0M394.1 105.7h0M385.6 83.9h0M391.5 95.1h0M397.2 101.9h0M382.7 101.9h0M393 115.4h0M404.8 123.1h0M410.8 105.1h0M407 117.3h0M383.3 108h0M387.5 110.1h0M390.3 119.4h0M376.7 96.6h0M393.1 87.2h0M385.5 84h0M392 106.4h0M410.3 98.7h0M399.7 121h0M385.7 108.3h0M409.1 112.4h0M367.8 82.5h0M390.7 122.9h0M400.8 94.9h0M401.3 74.5h0M388.5 98.1h0M401.8 108.4h0M391.1 105.8h0M392.7 108.5h0M373.5 108.3h0M391.7 89.1h0M372.2 140.1h0M404.2 75.4h0M374.2 98.9h0M392.3 95.9h0M400.3 124.5h0M390.8 99.7h0M385.1 103.2h0M376.8 115.6h0M386.3 98.1h0M376.8 88.4h0M385.6 95.8h0M383.9 106.6h0M377.4 108.7h0M396.9 126.5h0M394.1 99.6h0M381.5 107.2h0M390.5 127.4h0M373.8 102.9h0M396.6 119.3h0M384.6 103.8h0M388.8 108.2h0M396.5 97h0M387.5 103.2h0M374.6 95.4h0M392.7 102.8h0M383.6 98.4h0M402.9 113.5h0M395.9 119.7h0M377.4 102.4h0M395.8 77.9h0M393.3 105.7h0M409.4 99.4h0M387.1 107.5h0M391.6 115.7h0M373.2 121.8h0M377.9 103.6h0M381.5 101.9h0M411.6 90.9h0M405.6 93.3h0M402.9 83.8h0M408.5 109.3h0M386.5 109.7h0M387.7 87.8h0M396.2 108.7h0M382.4 115.6h0M387.5 109.9h0M397.6 120h0M385.9 93.1h0M379.5 111.7h0M396.9 71.7h0M382 86.5h0M371.7 100.7h0M392.6 115.4h0M400.4 85.4h0M400.3 108.6h0M386.4 131.5h0M380.7 86.3h0M388.1 97.9h0M371.4 85.1h0M390.4 101.3h0M382.4 106.2h0M387.4 86.7h0M391 91.7h0M385.7 99.4h0M388.7 99.8h0M379.6 107h0M381.3 112.5h0M394.6 116.7h0M409.5 107.2h0M389.6 114.8h0M383.3 85.1h0M411.4 82h0M391.5 95.8h0M390.4 101.9h0M383.7 102h0M388 107.2h0M372.9 83.8h0M391.2 87.6h0M377 99.9h0M367.5 91.5h0M394.9 93.9h0M399.1 104.4h0M394.7 102.1h0M368.4 112.5h0M373.1 117.9h0M375.4 96.3h0M391.5 111.4h0M411.3 134.7h0M389.1 113.7h0M390.2 116.4h0M394.2 85.2h0M410.9 71h0M413.7 99.6h0M395.3 104.9h0M394.9 90.2h0M412.8 95.7h0M376.5 104.4h0M411.6 78.2h0M392.1 103.1h0M392.5 119.5h0M388.9 75.5h0M393.4 133.2h0M386 92.9h0M385.3 111.2h0M378.5 96.2h0M394.5 109.4h0M378.1 83.7h0M402.1 111h0M386.7 87.6h0M389.2 105.7h0M397.6 96.5h0M373.3 102.8h0M404.7 115.2h0M398.4 94.3h0M377.6 113.4h0M411.6 89.8h0M379 110.2h0M391.1 93.1h0M385.9 117.9h0M403.1 95.5h0M391 87.6h0M397 106.8h0M400.6 96.8h0M381.2 104.3h0M403.4 111.4h0M404.4 103.6h0M414.1 115.1h0M412.8 123h0M407.6 77.1h0M390.7 92.1h0M375.9 96.7h0M402.6 92.5h0M394 84.4h0M389.2 92.8h0M382.4 95.7h0M387 85.7h0M398.2 93.5h0M398.1 107.1h0M387.1 89.5h0M375.9 102.6h0M409.2 77.8h0M383.6 100.7h0M392.4 110.9h0M377.2 95h0M404.5 108.6h0M413.2 100.2h0M387.5 107.7h0M393.4 96.9h0M391.3 96.4h0M369.2 81.7h0M378.1 112h0M405.4 97.8h0M387 96h0M390.8 114.5h0M399.4 114.1h0M410.1 99.8h0M394.6 93.9h0M382.8 102.7h0M409.4 112.2h0M386 101.2h0M392.2 97.8h0M391.4 119.5h0M394.8 87.7h0M380.8 108.6h0M394.6 87.5h0M387.2 89.5h0M377.1 116.1h0M369.4 89.1h0M389 109.8h0M384.9 97.9h0M400.1 110h0M398.7 95.1h0M399.5 114.3h0M408.9 116.7h0M368.1 119.1h0M376.1 94.6h0M396.5 104.7h0M388.5 125.3h0M414.2 109.9h0M384.6 97.7h0M390.8 97.4h0M378.2 83.7h0M401.3 82.5h0M405.6 99.5h0M396.2 87.1h0M401.7 97.7h0M394.8 88.4h0M411.1 93.4h0M402.6 105.4h0M394.6 92.1h0M402.3 96.6h0M404.3 112.8h0M390.3 111.6h0M384.4 104.7h0M384.1 108.9h0M400.1 105.1h0M410.7 121.2h0M387.6 119.6h0M393.2 102.1h0M402.8 116h0M412.3 96h0M385.3 120.1h0M407.1 114h0M403.8 107.3h0M374.4 123.4h0M393.4 122.3h0M404.9 101.4h0M379.1 112.1h0M395.2 115.1h0M394.6 98.7h0M389.5 102.9h0M379.1 100.4h0M385.4 115.6h0M391.8 110.4h0M404.1 89.7h0M396.8 91.1h0M401.2 103.4h0M371.6 89.8h0M393.8 110.1h0M406.8 102.6h0M392.3 121.1h0M384.7 80.3h0M386.6 88.4h0M385.6 113.1h0M397.3 101.4h0M382.3 83.9h0M388.3 122.5h0M396 121.7h0M395.3 82.8h0M395 93.1h0M396.2 102.6h0M399.3 102.5h0M387.1 104.9h0M391.1 81.5h0M395.4 99h0M371.2 123.7h0M410.5 85.7h0M407.5 102.2h0M400.7 105.3h0M370.8 99.3h0M383.6 96.2h0M407.9 103.9h0M412.4 90.1h0M391.1 97.9h0M413.8 95.5h0M401.6 98.6h0M408 89.3h0M392.6 84.2h0M386.8 106.1h0M369.6 74.5h0M386.8 95.6h0M409.1 105.4h0M393.6 108.8h0M384.1 120.4h0M368.5 76.5h0M384.6 123h0M398.3 120.3h0M378 95.2h0M375.8 88.5h0M395.7 108.8h0M397.6 126.2h0M406.1 110.2h0M403 94.5h0M390 98.7h0M407.9 89.5h0M404.2 111.4h0M413.8 91.8h0M391 123.4h0M395 124.4h0M391.1 116.5h0M395.5 104.9h0M373.5 106.4h0M398.1 98.7h0M405.5 119.8h0M374.3 97.3h0M369 110.1h0M384.6 95.2h0M367.8 86.5h0M398.8 112.9h0M393.7 103.9h0M373.7 125.4h0M397.4 90.7h0M369.1 104.4h0M401.8 98.5h0M389.5 108.1h0M387.4 112.8h0M374.3 78h0M408.7 80.5h0M394.3 119.8h0M382.6 114h0M399.1 114.1h0M406.6 109.1h0M377.6 69.7h0M378.5 112h0M392.4 76.1h0M377.7 98.4h0M399.4 89.5h0M394.1 99.8h0M404.6 96.5h0M391.7 115.4h0M400.4 95.3h0M392.9 128.9h0M375.6 84h0M393.5 104.3h0M401.5 97.4h0M385.8 129.2h0"/><path stroke="#d4f0b8" d="M401.8 183.1h0M396.5 142.6h0M381.8 165.4h0M390.8 134.4h0M379.8 159h0M383.2 154.3h0M387 149.4h0M400.7 157.2h0M410.1 194.9h0M372.2 140.8h0M377.4 166.4h0M380.1 161.6h0M380.2 178.4h0M374.6 185.7h0M408.4 184h0M390 198.3h0M395 154.3h0M385.1 213.4h0M374.1 157.2h0M388.1 143.5h0M386.4 174.2h0M380.1 144h0M390 163.7h0M409.6 166.5h0M401.8 189.7h0M387.9 156.1h0M389.4 166h0M394.2 163.8h0"/><path stroke="#c8eca8" d="M372.5 202.8h0M381.6 174.8h0M378.3 180.7h0M371.2 152.6h0M403.4 146.7h0M400.9 187.3h0M393.6 208.5h0M386.4 150.3h0M378.4 185.7h0M378.9 113.6h0M390.7 195.1h0M391.1 124.5h0M383.1 176.9h0M403.1 144.1h0M367.3 192.1h0M388.1 152.6h0M382.4 158.2h0M389.2 172.3h0M373.7 153.2h0M375.6 190.6h0M384.1 154.2h0M398.8 153.4h0M388 213.9h0M378.3 197.9h0M375.8 171.9h0M392.4 171h0M388.4 153.8h0"/><path stroke="#bce89a" d="M381.6 169.8h0M394.2 140.8h0M377.3 172.4h0M392 164.7h0M380.5 174.8h0M388.4 146.8h0M379.5 181.8h0M389.4 154.8h0M390.6 146.6h0M403 148.1h0M376.8 164.2h0M396.7 200.5h0"/><path stroke="#e04818" d="M121.1 439.7h0M130.6 434.5h0M128.2 433.8h0M118.4 401.5h0M91.6 415.9h0M119.3 411.9h0M116.9 409.4h0M111.8 421.9h0M138.6 411.2h0M95.6 402.6h0M128.7 415.4h0M135.6 425.6h0M108.3 443.6h0M120 416.5h0M111 386.4h0M140.5 436.3h0M132.7 417.5h0M139 415.6h0M115.9 403.4h0M117.4 407.8h0M116.8 433.3h0M125.4 402.6h0M129.5 402.3h0M115.1 435.4h0M144.4 409h0M107.9 427.3h0M89.8 428.6h0M113.5 381.7h0M116 392.2h0M91.7 443.4h0M133.4 415.4h0M124.1 419.8h0M139.1 407.5h0M107.9 431.1h0M104.3 406.5h0M131.1 415.6h0M94.6 383h0M105.4 410.4h0M98.9 395h0M112.5 420h0M126.1 431h0M142.5 422.5h0M119.8 422.1h0M147 422.9h0M110.2 435.6h0M146.4 425.4h0M122.1 428.8h0M112.2 417.9h0M111.4 415.3h0M114.9 396.1h0M153.9 411h0M117.9 403.1h0M143.9 435h0M98.2 437.7h0M103.3 404.8h0M88.5 389.1h0M132.4 429.7h0M115.3 425.7h0M148.5 429.8h0M109.8 384.6h0M111.9 393.4h0M120.9 428.1h0M115.4 424.3h0M104.9 373h0M125.6 390.5h0M142.2 417h0M146.5 432.9h0M144 421.9h0M119.2 443.2h0M105.9 412.9h0M120 418.2h0M117.3 411.9h0M144.2 426.4h0M120.5 408.2h0M89.8 412h0M126.9 411.3h0M127.3 427.3h0M102.8 413.4h0M153.8 419.9h0M137.6 434.7h0M134.2 442.8h0M113.8 400.4h0M112.5 408.3h0M104.2 426.2h0M131.1 413.4h0M157.7 404.5h0M112.4 437h0M127.1 420.4h0M118.3 413.4h0M126 402.5h0M129.1 418.9h0M116.3 436.5h0M138 420.9h0M102.5 406.2h0M99.5 423.4h0M110 431.5h0M122.4 426.2h0M103 413.1h0M110.9 425h0M114.5 430h0M124.8 411.7h0M120.3 413.4h0M123.5 426.8h0M131.6 439.4h0M114.3 429h0M144.2 401.1h0M90 428.6h0M130 423.1h0M122.4 398.2h0M109.6 404.9h0M135.4 413.1h0M124.7 424.1h0M129.5 421.9h0M144.3 419.4h0M110.6 391.1h0M90.3 439.9h0M126.8 387.9h0M115.9 427.5h0M126 421.6h0M124.1 387.5h0M104.8 401.5h0M91.6 393.3h0M122.3 426.8h0M115.9 421.6h0M118.8 386.2h0M102 392.5h0M113.2 428.9h0M149.1 423.7h0M129.4 415.8h0M103.1 413.6h0M145.2 419.1h0M125.4 407h0M120.8 409.3h0M124.8 420.9h0M134.8 417.7h0M106.6 439.8h0"/><path stroke="#d86030" d="M132.5 432.1h0M123.7 413.9h0M104.7 410h0M114.4 410.7h0M111.1 402.9h0M117.8 404.7h0M142.7 422h0M88.6 419.5h0M110.6 420.3h0M91.8 407.7h0M139.9 402.5h0M118.8 394.8h0M114.3 400.2h0M120.8 405.8h0M132.7 408.6h0M126.3 412.3h0M103.7 413.8h0M138.7 408.4h0M96.8 407.3h0M124.9 434.6h0M121.5 399.8h0M122.6 425.7h0M92.8 424.5h0M108.6 438.5h0M103.9 414.4h0M96.7 396.7h0M126.4 416.8h0M109.6 402.9h0M116.9 409.5h0M138 411.8h0M119.1 443.7h0M141 419.5h0M99.5 418h0M103.8 443.5h0M138 417.5h0M115.6 424.1h0M110.2 413.2h0M97.7 408.6h0M101.8 411.1h0M147.8 408.7h0M123.2 408.3h0M107.1 434.7h0M150.7 443.6h0M110 410.6h0M129.5 417.5h0M99.9 439.1h0M94.3 410.3h0M103.8 407h0M103.4 393.5h0M108.7 418.8h0M95.3 422.6h0M147 411.9h0M152.5 404.3h0M116.5 411.9h0M111.7 406.3h0M101 403.5h0M118.1 437.6h0M115.8 416.6h0M130.8 425.9h0M135.1 424.8h0M106.3 434h0M92.5 404.8h0M138.7 416.7h0M105.8 435.7h0M126.9 414.5h0M98.1 417.8h0M122.7 411.3h0M117.9 418.6h0M131.2 438.9h0M104.4 405.1h0M120 392h0M91.5 428.6h0M130.7 392.7h0M107.3 393h0M103.2 405.7h0M131.2 429.9h0M115.7 406.4h0M126.6 409.1h0M94.1 391.5h0M115.7 394.9h0M92.8 418.6h0M117.5 408.1h0M134.3 407h0M157.4 426.5h0M103.1 403.5h0M106.9 429.4h0M105.7 409.9h0M100.6 414.1h0M105.3 433.7h0M95.7 399h0M116.6 422.7h0M122.6 417.9h0M124.1 392.8h0M104.5 373.8h0M101.2 393.5h0M121.7 427.1h0M119.6 396.3h0M140.6 425.6h0M147 422.5h0M93.4 400.7h0M132.6 416.9h0M113 436h0M122 427.2h0M91.2 369h0M107.8 413.8h0M127.3 416.7h0M115.3 419.5h0M127 414.6h0M130.5 428h0M128.1 421.5h0M104.6 404.3h0M107.9 392.4h0M117.4 431.9h0M121.5 403.6h0M130.3 392.6h0M125.4 443.7h0M141.2 433h0M97.8 430.3h0M124.7 397.2h0M101 421.1h0M136.7 405.4h0M128.7 400.6h0M88.6 435.7h0M134.2 424.8h0M110 405.1h0M124.1 399.8h0M89.8 414h0M135.4 436.7h0M94.7 417h0M140.5 443.3h0M100 402.6h0M113.7 409.5h0M113.4 427.4h0M142.1 404.8h0M96.5 420.3h0M115.6 379.9h0M97.8 417.4h0M126.3 397.9h0M106.3 390.8h0M106 417.5h0M127.2 412.4h0M111.9 430.8h0M122.6 438.5h0M117.8 411.1h0M154.5 405.2h0M122.4 443.5h0"/><path stroke="#c87040" d="M88.1 391.6h0M102.7 407.6h0M113.8 409h0M113.9 436.5h0M87.9 418.1h0M122.8 403.6h0M102 417.4h0M101.5 399h0M102.6 402.9h0M137.5 401.9h0M100.6 416.3h0M118.3 416.5h0M124.2 408.7h0M137 414.2h0M124.1 421.3h0M138.5 422.1h0M88.3 433.9h0M104.2 427.7h0M123.6 410.2h0M89 415.5h0M117.3 394.2h0M123.3 409.7h0M125.2 399h0M127.8 396.6h0M104 417.2h0M101.5 405.8h0M111.9 409.2h0M101.8 410h0M95.1 396.1h0M117 420.2h0M129.2 423.9h0M139.5 407.8h0M118.9 430.4h0M107.4 422.9h0M137.4 428.3h0M128.1 420.5h0M114.2 412.2h0M108.6 420.6h0M96.8 409.3h0M141.5 422.4h0M135.2 416.8h0M125.3 419.1h0M107.8 417.2h0M97.4 433.5h0M114.4 395.9h0M114.9 399.7h0M139.1 426.3h0M125.7 405.9h0M127.8 418.1h0M89.7 404.2h0M136.7 410.6h0M115.9 410.6h0M121.2 409.5h0M129.1 412.2h0M88.6 421.3h0M105.9 411.8h0M123.4 380.7h0M136.1 443h0M120.5 426.2h0M119.2 425h0M118.9 410h0M127.6 438.8h0M139.1 426.9h0M126 408.1h0M126.4 439.9h0M119.7 427.8h0M106.2 435h0M105.8 397.6h0M142.9 425.5h0M113.9 410.1h0M112.1 420.5h0M130.9 422.9h0M115.3 437.1h0M94.2 404.9h0M103.9 400.8h0M132 420.9h0M121.8 443.3h0M94.5 434.7h0M88.5 421.8h0M127.1 429.2h0M122.6 397.4h0M110.4 433.3h0M110.8 419.3h0M118.5 431.9h0M118.1 414.7h0M116.8 443.7h0M114.8 408h0M107.7 416.3h0M136.1 403.5h0M135.2 412.1h0M136.6 425.1h0M147.5 418.6h0M95.2 403.6h0M89.9 419.2h0M125.9 405.1h0M122.4 406.7h0M129.3 416.2h0M107.4 411.6h0M123.6 429.3h0M121.9 421.8h0M126.5 416.2h0M128.1 432h0M157.1 427.8h0M88.8 410.8h0M116.9 413.6h0M145.6 435.4h0M124.8 403.8h0M143.8 422.2h0M153.4 414.5h0M93.6 423.6h0M117.9 417.5h0M132.5 400.6h0M146.6 423.2h0M151.1 420.3h0M119 423.1h0M137.6 437.6h0M131.8 382.7h0M124.3 412.3h0M113.9 443.6h0M99.9 411.7h0M97.9 411.8h0M126.9 431.1h0M136.5 427.1h0M127.6 392.6h0M128.5 419.5h0M107.5 418.3h0M88.1 417.2h0M100.8 411.2h0M105.6 432.6h0M110.9 410.3h0M115.3 402.6h0M88.4 394.3h0M107.7 405.1h0M102.8 420.2h0M100 391.5h0M129.8 425.8h0M102.5 426.4h0M130.5 407.6h0M110.7 429.6h0M115.6 409.9h0M117.5 437.7h0M117.9 419.6h0"/><path stroke="#c84a20" d="M104.5 439h0M113.9 418.4h0M90.6 419.7h0M114.7 414.6h0M115.9 443h0M116.2 415.7h0M111.6 375.6h0M120.7 413.8h0M115.9 396.6h0M111.2 431.8h0M113 435.7h0M88.3 439.1h0M139.2 388.3h0M121.3 409.5h0M116.6 403.1h0M133.5 433.2h0M97.7 419.1h0M133.7 426.4h0M137.7 437.9h0M108.1 399.3h0M109.7 434.8h0M102.4 427.5h0M103.4 412.6h0M123 427.7h0M126 426.4h0M150 433.7h0M101.3 422.8h0M121.4 430.8h0M108.8 434.6h0M112.4 428.8h0M134.6 405.8h0M93.6 401.7h0M92.3 401.8h0M124 407.3h0M136.8 420.6h0M108.1 423.6h0M97.2 411.5h0M110.6 407.9h0M120.5 425.2h0M115.5 412.3h0M117.2 414.4h0M108.7 420.2h0M116 413.9h0M120.2 392h0M117.9 413.8h0M118.5 403h0M97.7 411.6h0M157.2 419.9h0M133.4 412.6h0M127.3 406.8h0M111.1 405.9h0M106.9 407.4h0M150.9 443.6h0M109.3 431.1h0M91.1 403.5h0M108.4 409.3h0M107.4 398.9h0M101.4 398.5h0M118 443.5h0M114.2 430.7h0M119.4 400.9h0M102.6 433.5h0M113.7 411.5h0M127.4 404.9h0M130.9 407h0M123.8 426.8h0M118.2 380.6h0M128.5 395.8h0M101.1 379.4h0M141 442.6h0M99.2 401.8h0M121.7 404.2h0M98.4 393.8h0M153.5 421.9h0M117.4 395.9h0M87.9 428.8h0M109.8 415.9h0M110.3 443.6h0M157 414.7h0M135.6 414.8h0M143.4 411.3h0M103.7 420.8h0M118.6 415.7h0M126.2 413.3h0M130.1 394.4h0M108.4 419.7h0M88.2 436h0M127.8 402.8h0M88.4 411.8h0M150.8 388.5h0M121.7 419.1h0M140.6 432.1h0M88 401.2h0M103.5 420.8h0M110.7 422.8h0M130.2 415.9h0M95.7 422.1h0M89.1 423.6h0M124.9 408.2h0M148 415.4h0M118.1 421h0M128.8 413.8h0M95.6 415h0M135 401.9h0M128.5 424.5h0M98 409.6h0M133.9 417.2h0M87.8 404.1h0M137.6 437.7h0M122.6 433.5h0M129 431h0M104.8 443.3h0M126.9 417.9h0M141 434.9h0M103.9 416.5h0M130.5 414.9h0M88 425.9h0M114.3 411.7h0M124.9 432.9h0M122.7 443.1h0M105.7 410.8h0M114.4 420.4h0M144 420.4h0M128 412h0M125.8 409.9h0M121.7 409.6h0M126.7 412.8h0M123.3 418.9h0M114.9 409.5h0M125.3 400.9h0M128.9 416.2h0M138.9 420.5h0M114.4 418.8h0M151.5 435.3h0M101 414.5h0M116.3 421.8h0M115.6 426.5h0M131.7 409.2h0M146.7 414.5h0M110.4 410.2h0M88.6 426.1h0M116.5 410.5h0M100.1 410.1h0M110.6 426.6h0"/><path stroke="#b06030" d="M151.4 415.7h0M124.7 417.5h0M128.9 419h0M113.1 413.9h0M99.5 427.6h0M101.1 401.9h0M112.1 391h0M115 425.1h0M120.9 402.6h0M135.8 420.7h0M128.3 406.7h0M105.9 427.9h0M110.7 405.2h0M110.6 402.9h0M132.8 412.5h0M108.9 407.8h0M98.2 437.1h0M156.3 410.6h0M129.6 423.3h0M133 428.5h0M107.8 410.4h0M121.1 391.2h0M100.4 415.6h0M134.4 429h0M106.4 398.5h0M88.5 409.9h0M131.5 434.1h0M93.3 388.4h0M88.2 415.1h0M139.1 398.4h0M93.8 411.6h0M145.7 418.1h0M95.4 407.3h0M108.9 438.5h0M104.8 418.7h0M124.7 401h0M87.8 383.2h0M134.8 402.2h0M126.7 402.6h0M112.5 399.1h0M156 397.8h0M125.6 426.4h0M121.6 392.9h0M134.3 427.2h0M146 395.9h0M110.7 425.6h0M131.3 443.8h0M139.6 415.4h0M112.2 443.4h0M132.6 426.8h0M128.6 408.7h0M122.2 398.2h0M102.3 433.7h0M102.9 407.3h0M87.8 411.2h0M110.6 438.1h0M127.8 423.4h0M128.9 435.4h0M105.7 403.1h0M148.1 411.4h0M108.3 413.9h0M99.5 401.6h0M112.5 443.7h0M90.9 424.7h0M125 419.5h0M112.5 400.3h0M128 410.9h0M138.9 403.5h0M106.4 433.9h0M110.1 397h0M127 424.4h0M133.3 420.3h0M104 418h0M148.6 427h0M132.8 403.5h0M112.5 364.3h0M133 422.8h0M121.9 423h0M88 408h0M107 420h0M110.1 443.5h0M112.9 423.8h0M117.4 410.9h0M114.9 411.3h0M112.7 407h0M108.7 418.3h0M128.7 411.5h0M109.6 409.3h0M143.8 417.9h0M105.5 388.4h0M121.1 418h0M125.2 430.3h0M109.8 414.1h0M124.3 423.9h0M100.2 405.9h0M113.3 443.2h0M102.3 393.5h0M139.5 425.9h0M135.3 438.5h0M139.3 405.3h0M105.1 421.1h0M120.3 397.5h0M123.1 409h0M110.9 429.9h0M117.3 428.9h0M98 393.6h0M97.7 413.8h0M140.7 393h0M151.1 426.9h0M142.8 412.4h0M145 426.7h0M113 416.6h0M107.1 396.8h0M102.8 418.9h0M117.8 415.3h0M88.3 400.1h0M105.4 402.7h0M106.9 405.1h0M118.7 410.7h0M136.3 422.9h0M102.4 409.9h0M115 417.4h0M106.3 438.6h0M122.8 396.3h0M93 415.9h0M138.5 425h0M116.9 420.7h0M109 432.8h0M109.6 413h0M126.5 433.9h0M101.8 400.7h0M114.8 429.7h0M121.1 414.3h0M93.7 401h0M116.9 420.9h0M152.7 402.3h0M119.1 427.6h0M130.8 403h0M97.2 408.1h0M124.3 405.9h0M97.7 395.9h0M125.8 438.1h0M120.2 383.9h0"/><path stroke="#b85028" d="M112.8 429.6h0M117.8 404.3h0M123.2 397.7h0M119.7 440.8h0M88 414.1h0M107.5 396.9h0M121.7 406h0M122.8 411.4h0M116 427.6h0M107.7 400.2h0M117.6 414.6h0M96 414.8h0M111.3 399h0M153.2 427.1h0M107.6 401.3h0M123.3 407.6h0M106.1 425.7h0M123.1 398.5h0M104.6 401.3h0M100.6 424.4h0M138.6 436.9h0M122.3 429.7h0M109.8 410.5h0M107.6 415h0M118.7 433.4h0M127.1 424.4h0M122.3 423.6h0M116.3 364.7h0M88.2 400.6h0M96.7 424h0M100.3 433.2h0M109.5 407.1h0M101 416.4h0M127 435.1h0M100.1 424.7h0M101.8 399.1h0M118.5 394.2h0M112.8 431.8h0M124 443.2h0M130.3 437.9h0M101.8 412.9h0M102.1 408.2h0M133.3 414.1h0M90.1 433.3h0M129 419.2h0M113.8 409.2h0M132.1 408.3h0M117.9 403.5h0M111.4 417.1h0M128.3 440.5h0M122.5 397.4h0M110.3 419.8h0M95.5 432.2h0M122.2 410.4h0M114.5 420.1h0M145.9 410.4h0M138.6 398.2h0M100.2 418.4h0M116.6 398.1h0M121.7 424.9h0M102.1 411.6h0M105.1 417.2h0M115.3 425.3h0M108.9 414.4h0M102.3 406.7h0M106.3 426.4h0M143.3 408.3h0M109.8 439.9h0M108.9 432.8h0M121.2 421.3h0M118.2 397.4h0M134.2 432.4h0M135.3 408.9h0M104.3 383.1h0M148.4 421.2h0M101.5 418.9h0M113.4 426.5h0M149.1 424.7h0M136.3 390.5h0M106.5 438h0M88.2 406.2h0M126.5 415.9h0M121.9 400.3h0M109.9 413.3h0M118.2 433.8h0M105.5 401h0M153.9 405.1h0M129.5 420.7h0M111.5 442.4h0M134.2 401.8h0M116.9 439.2h0M136.7 413.8h0M139.3 412.6h0M119.3 397.9h0M96.1 424.4h0M114.1 425.9h0M89.2 413.8h0M118.2 415h0M131.3 412.6h0M115.5 428.1h0M113.9 423.3h0M113.2 435.1h0M123.2 414.7h0M100.7 403.6h0M123.9 416.1h0M138.4 410h0M88.2 399.2h0M125.7 414.9h0M141.9 403.1h0M142.8 423.1h0M144.7 443.9h0M102.2 417.5h0M132.7 437h0M107.8 420.4h0M100 425.2h0M88.4 413.6h0M104.1 435.4h0M120.4 413.3h0M104.3 382.8h0M152.9 403.1h0M92.8 397.9h0M108.6 395.4h0M123.8 428.8h0M88.3 420.7h0M110.2 416.3h0M115.5 411.2h0M123.5 422.6h0M126 428.5h0M128 405.3h0M122 410h0M113.6 428.9h0M109.9 437.7h0M127.8 434.5h0M122.3 426.1h0M139 392.1h0M128.6 443.3h0M132.9 431.3h0M119.8 433.2h0M117.3 416.1h0M88.4 407.8h0M133.4 415.3h0M120.2 383.3h0M108.2 395.6h0M106.1 417.2h0M130.6 442.9h0M134.9 418.2h0M139.2 400.9h0M136.6 416.5h0M118.3 398.5h0"/><path stroke="#a04820" d="M136.3 436.8h0M109.6 425.8h0M111 436.4h0M103.6 417.7h0M95.8 423.9h0M137.8 422.4h0M103.3 418.3h0M117.1 434.8h0M118 415.9h0M96.8 415.6h0M98.6 421.7h0M126.4 420.9h0M130.1 424.4h0M113.9 384.7h0M120 406.9h0M142.7 410.4h0M114.7 430.2h0M115.2 432.1h0M119.4 403.4h0M105.5 405.2h0M118.4 393.2h0M98.2 428.2h0M142.2 415.8h0M121.5 389.6h0M88.1 402.7h0M127.6 443.9h0M119.7 419.5h0M117.4 443.4h0M88 403.7h0M158.7 405.9h0M120.1 418.1h0M122.3 404.5h0M126.1 416.9h0M97.6 424.8h0M149.6 425.9h0M135 421.6h0M125.9 437.4h0M112.8 410.8h0M117.7 405.1h0M100.5 418.3h0M121.6 437.9h0M130.2 431.1h0M102.2 411.7h0M136.9 433.8h0M91.3 427.5h0M117.7 412.3h0M125.3 405.1h0M114 429.8h0M114 408.3h0M101.1 412.2h0M127.1 416.7h0M114.5 420h0M117 424.2h0M88.2 423.4h0M115.3 404h0M111.5 415.7h0M136.4 419.6h0M125.7 433.2h0M101.9 418.1h0M90.5 412.9h0M100.3 438h0M134.3 417.2h0M112.1 411.5h0M134.3 443.6h0M116.8 422.2h0M128.2 417.6h0M130.5 415.8h0M115.8 426.7h0M125.8 413.5h0M110.1 436.7h0M121.3 418.8h0M123.3 419h0M124 434.6h0M116.2 416.1h0M134.2 419.7h0M126.4 418.5h0M127.1 401.9h0M127.3 417.9h0M130.5 428.1h0M111.1 418h0M88.5 435.1h0M88 430.7h0M127.7 414.2h0M110.4 431.4h0M149.1 402.1h0M105.3 423.4h0M115.5 413.6h0M114.5 432.5h0M110.8 406h0M120.6 419.1h0M101.6 405.6h0M117.3 399.6h0M139.5 393.3h0M115.8 421h0M112.7 430.8h0M141.9 415.2h0M129.9 422.8h0M119.4 405.1h0M148.2 407h0M119 400.8h0M114.6 432.7h0M92.3 443.1h0M126.3 399.7h0M116.8 406.5h0M112.1 392.7h0M128 422.6h0M132.3 408.3h0M88.5 439.1h0M123.3 409.2h0M88.2 404h0M119.8 409.1h0M130.9 423.7h0M120.2 418.4h0M142.7 388.7h0M116.5 420.9h0M114.3 426.4h0M110.9 408.3h0M99.1 417.5h0M141.6 403.4h0M116.2 423.8h0M129.2 391.6h0M133.3 427h0M101.1 407.7h0M103.3 431.9h0M115.5 393.5h0M139.2 410h0M97.5 426.2h0M153 417.6h0M119.8 438.1h0M121.1 414.1h0"/><path stroke="#84dc20" d="M198.8 323.7h0M203 319.7h0M192.7 345.1h0M196.4 329.7h0M189.6 333.9h0M182.3 360.5h0M195.9 347.3h0M182.6 321.8h0M198.6 323.7h0M198.9 323.5h0M200.6 316.1h0M204.6 346.4h0M201.1 313.2h0M192.5 339.3h0M192.2 366.8h0M187 310.5h0M193.9 334.9h0M186 330.7h0M199.4 323.5h0M194.9 323.8h0M200.6 303.7h0M195.4 338.7h0M193.4 344.7h0M199.6 344.7h0M200.1 324.4h0M190.5 305.9h0M184 337.7h0M202.4 310.1h0M190.7 329.4h0M197.1 326.5h0M194.2 333.7h0M190.2 337.7h0M198.6 330.7h0M197.6 320.9h0M200.4 332.2h0M197.1 306.1h0M199.3 341h0M196.6 323h0M198.3 329.6h0M198.4 299.7h0M191 341.4h0M196.3 350.7h0M195.7 326.5h0M183.7 348h0M179.9 321.4h0M194.9 332.4h0M202.8 305.5h0M203.9 312.1h0M192.9 322h0M199.6 335.8h0M203.8 349.5h0M198.8 298.4h0M197.7 317.4h0M203.4 337.9h0M203.4 306.2h0M181 319.9h0M199.7 328.3h0M194.8 329.6h0M193.3 315.8h0M200.4 316.8h0M202 332.6h0M201.5 359.3h0M193 323.7h0M202.5 348.4h0M192 297.6h0M200.9 367.8h0M185.7 331.3h0M199.1 330.3h0M199.4 329.7h0M194.8 320.2h0M203.2 325h0M188.6 307h0M194.9 316.1h0M190.1 325.4h0M184 336.6h0M196.9 321.4h0M199.5 315h0M195.8 325.9h0M195 331.2h0M196.8 302.1h0M201.5 325.1h0M192.2 352h0M193.3 324.6h0M202.3 359.8h0M204.4 311.3h0M173.9 317.6h0M203.7 336h0M405 321.8h0M405.4 329.5h0M405.7 319.6h0M408.2 346.1h0M408.6 331h0M410.9 327.1h0M403.2 329.2h0M393.7 316.2h0M399.5 348.6h0M397.7 336.3h0M398.3 341.8h0M400.3 343.2h0M413.8 324.5h0M406 350.8h0M409.4 340.8h0M394.5 333.1h0M401.6 305.5h0M404.7 341.2h0M406.1 332.5h0M410.1 337.1h0M405 351.2h0M413.6 332.1h0M407.1 319.3h0M413.5 346.3h0M401.9 337h0M402.7 322.4h0M402 339.5h0M409.6 290.7h0M399.2 323.3h0M399.2 317.3h0M403.9 320.1h0M413.4 315h0M403.9 323.9h0M414.2 320.5h0M405.7 334.9h0M399 335.3h0M399.7 326.9h0M413.5 327.1h0M409.4 332.6h0M414.5 322.9h0M397.8 313h0M410.9 310.9h0M402.8 336.2h0M409.7 329.4h0M409.9 306.7h0M412.3 324.3h0M412.8 335.5h0M414.4 322.7h0M408.9 319.3h0M414.2 313.1h0M398.9 313.4h0M408.6 301.8h0M406.5 347h0M403.9 306.2h0M411.3 313.9h0M393 334.9h0M409.2 338.8h0M406.9 324.1h0M408.6 316.9h0M406.3 308.6h0M402.8 305.1h0M405.3 312.6h0M407.8 307.3h0M405.3 302.4h0M407.4 339.2h0M404.5 311h0M385.9 317h0M408.6 323.7h0M408 296.7h0M411.2 333.1h0M412.9 317.2h0M402.6 321.5h0M403.7 295.4h0M407.7 310.7h0M396.1 315.2h0M409.8 331.7h0M413.4 332.1h0M402.9 325.7h0M410.3 338.6h0M407.3 335.1h0M407.6 347.9h0M402.7 339.8h0M403.9 359.8h0M403.1 336.1h0M407 329.3h0M403.8 334.8h0M408.8 333.5h0M410.8 322.5h0M400.7 316.1h0M413.4 316.1h0M399 326.1h0M407.9 347.7h0M409.5 336.2h0M401.8 327.9h0M408.7 306.7h0M400.7 312.9h0M407.4 323.9h0M403.9 350.7h0M390.2 341.4h0M400.3 318.5h0M403 321.1h0M401 311.1h0M409.5 337.8h0M414.3 337.3h0M408.4 335h0M406.8 338.7h0M402.8 346.7h0"/><path stroke="#9aea3c" d="M197 332.7h0M189.2 304.1h0M191.8 332h0M192.3 317.5h0M184.7 328h0M189.5 336.7h0M193.6 329.4h0M203.9 318.6h0M199.6 313.5h0M189.1 344.4h0M191.7 317.8h0M198 325.4h0M195.5 336.1h0M188.3 319.1h0M185.4 335.1h0M198.4 330.2h0M192.3 310.1h0M196.9 287.3h0M196.1 339.2h0M189.5 332.1h0M197 336.1h0M190.9 330.2h0M200.3 334.2h0M189.6 325.3h0M193.4 320.4h0M193.6 327.4h0M192.2 353.4h0M203.7 320.9h0M198.3 330.2h0M191.6 320.6h0M202.6 324.9h0M202.5 300.1h0M194.4 341.6h0M200.3 329.3h0M193.6 311.7h0M188.2 335.4h0M203 333.1h0M189.8 323.5h0M203.9 341.5h0M201.1 345.6h0M192.7 317.5h0M195.9 330.7h0M186.2 344h0M185.1 304.8h0M191.4 326.4h0M189.7 348.1h0M186.5 334.4h0M189.9 325.5h0M188.5 348.4h0M197.4 332.9h0M191.3 340.2h0M193.5 318.9h0M201.4 327h0M184.1 326.3h0M198.3 353.8h0M202.2 326.2h0M202.4 342.3h0M186.7 295.3h0M194.3 320.6h0M195.1 333.4h0M188.2 325.9h0M194 331.4h0M198.5 347.2h0M197.5 317.9h0M188.9 339.1h0M191.5 342.8h0M199.5 316.3h0M189.8 304.1h0M201.3 332h0M200.4 344.9h0M196.9 330.7h0M194.6 308.6h0M195.1 327h0M192.6 340.9h0M197.3 332.8h0M202.2 331.6h0M181.9 332.6h0M203.5 336.3h0M199.9 293.5h0M198.9 319.5h0M194.1 316h0M198.6 346.5h0M198.5 309.9h0M188.6 340.1h0M198.9 330.6h0M413.2 362.6h0M404.2 317.9h0M412.5 303.2h0M399.8 345h0M407.2 308.6h0M408.9 301.6h0M400.9 309.8h0M391.9 298.9h0M402.5 314.5h0M398.2 355.3h0M401.6 318.9h0M406.4 331.6h0M409.7 329.9h0M411.4 332.5h0M403.5 303h0M410.6 323.8h0M405.3 320.8h0M411.4 346.6h0M404.7 305h0M400.8 325.4h0M405.8 333.8h0M400.8 321.1h0M412.4 300h0M407.8 305.3h0M403.2 327.9h0M397.4 294.7h0M405.5 333.2h0M406.7 316.4h0M402.4 308.2h0M411.5 330.9h0M412.9 325.7h0M409.2 332.3h0M399.8 312.9h0M410.2 335.1h0M410.1 317.8h0M402.4 299.7h0M408 337.3h0M409.3 316.1h0M411.8 305.7h0M404 325.5h0M399 331.9h0M403.5 305h0M414.4 323.3h0M408.8 328.3h0M409.1 343.5h0M402.6 309.3h0M407 316.1h0M403.3 327.4h0M412 360.6h0M408.9 325.8h0M410.2 319.9h0M410 335.7h0M412.5 321.3h0M404.5 313.8h0M401.1 339.3h0M408.1 320.6h0M392.8 345.7h0M402.3 336.8h0M393 315.5h0M400.9 313.2h0M408.2 341.4h0M401 320h0M405.7 330.5h0M399.3 326.1h0M413.2 307.9h0M408 349.6h0M414.4 324.5h0M409.8 338h0M409.3 345.9h0M414.2 337h0M406.2 324.5h0M414 334.7h0M404 305.7h0M413.7 312.4h0M403.1 330.7h0M406.1 342.6h0M404.3 334.2h0M411.5 334.1h0M405.4 337.2h0M404.3 345.5h0M400.7 312h0M407.4 349h0M397.6 325.2h0M398.3 327.5h0M408.8 340.2h0M414 300.1h0M407.1 320.7h0M406.4 321.9h0M403 340.7h0M398.9 320.9h0M412.1 323.8h0M403.6 354.6h0M406.2 322.5h0M413.7 350.6h0M404.6 341.3h0M412.1 319.4h0M406.9 322.1h0M405.7 322.7h0M405.3 335.4h0M410.5 312.2h0M408.3 320.3h0M400.6 328.5h0M407.6 342.3h0M399 337.3h0M407.4 328.7h0M398.5 325h0M398.7 323.2h0M410.2 327.2h0M412.1 328h0M401.3 335.6h0M399.2 325.2h0M394.6 298.8h0"/><path stroke="#a8ec60" d="M197.8 333.1h0M189.8 347.1h0M203.1 293.5h0M191.1 343.3h0M193.3 333.7h0M199.8 321.1h0M199.7 338.1h0M202.2 335.1h0M192 343.6h0M198.9 316.6h0M194.1 317.6h0M198 365.1h0M192.8 335.1h0M194.7 323.8h0M192.9 329.4h0M184.1 335.1h0M193.6 325.8h0M183.9 338.5h0M194.5 333.3h0M184.9 333h0M203.9 326.5h0M191.4 340.4h0M203.3 328.5h0M200.2 337.1h0M196.6 321h0M187.8 335.3h0M199.7 337.7h0M188.4 316.9h0M183.8 322.2h0M201.5 338.3h0M196.6 345.2h0M199.5 316.1h0M184.9 330.9h0M204.7 311h0M195.2 332.2h0M199.1 309.2h0M201.6 346.1h0M188 329h0M202.6 356.5h0M199.6 345.3h0M195.9 352.7h0M202.7 351.6h0M196 332.2h0M200.6 324.3h0M196.8 314.9h0M203 325.4h0M191.5 324.2h0M199 339.1h0M198.7 339.5h0M189.8 327.1h0M198.7 317.9h0M202.4 327.8h0M201.4 353.4h0M191.6 328.4h0M180.7 343h0M199.9 345.3h0M195.1 347h0M201.2 327.2h0M200.2 324.1h0M197 346.6h0M192.8 344.2h0M193.8 325.6h0M199.9 332.6h0M196.8 311.1h0M195.6 312.8h0M193.5 334.9h0M200.9 333h0M193.3 331.1h0M200.9 306.3h0M191.1 297.5h0M192.8 344.8h0M199.1 331.9h0M202.3 333h0M189.6 347h0M196.3 342.8h0M197.8 317h0M201.7 315.4h0M187.1 317.9h0M190.1 349.1h0M191.7 341.5h0M190.9 349.1h0M191.2 331.6h0M195.9 321.9h0M204.4 336h0M196 337.5h0M199.6 326.1h0M204.4 316.1h0M198.4 332.5h0M201.1 342.1h0M198 319.6h0M202.7 341.9h0M204.7 322.9h0M192.5 335.3h0M190.5 328.6h0M190.8 336h0M394.1 321.9h0M412.5 331h0M398.5 337.9h0M413.2 339.8h0M409 325.3h0M412.2 360.3h0M410.1 356.1h0M394.6 321.1h0M408.4 321.8h0M409.9 304.7h0M410.3 313.4h0M409.6 359.9h0M405.6 319.8h0M407.4 351.1h0M405.4 361.2h0M397.5 339h0M394.6 277h0M407.2 340.6h0M408.3 320.6h0M414.2 327.1h0M411.1 343h0M401.2 336.2h0M407.9 330.9h0M412.2 313.1h0M409.5 333h0M412 322.4h0M403.6 331.3h0M410 331.1h0M403.1 326h0M410.4 336.5h0M396.1 323.2h0M405.5 329.2h0M413.1 309.1h0M406.4 330.5h0M400 330.4h0M414.1 328.6h0M413.4 321.7h0M403.7 331.2h0M412.7 326.1h0M412.3 302.7h0M404.7 323.2h0M400.5 354.7h0M405 329h0M407.6 341.7h0M398.6 323.2h0M411.5 335.8h0M404.7 335.1h0M412.5 321.5h0M411.4 335h0M413.3 344.2h0M407.4 341.9h0M405.3 327.6h0M411.8 336h0M408.8 347.8h0M405.3 316.4h0M407.8 316.8h0M409 311.5h0M403.7 306.3h0M412.4 329.6h0M402.1 338h0M394.7 356.3h0M407.1 324.7h0M397.4 335.4h0M409.4 302.4h0M412.5 348.4h0M410.6 318.4h0M404.2 327.1h0M408.8 330.5h0M412.3 324.5h0M412.1 335.2h0M403.1 346.1h0M407.7 295.7h0M412.7 342.7h0M408.4 344.4h0M406.8 308.7h0M405.5 341.7h0M394.3 321h0M408.4 332.3h0M401.9 328h0M390.6 327.7h0M411.4 305.5h0M407 328.9h0M414.5 326.1h0M399.8 326.7h0M409.1 328.1h0M409.4 310.7h0M411.9 355.5h0M401.4 328.9h0M404.2 325.4h0M403.1 344.8h0M399.5 327.9h0M412.6 320.5h0M412.3 317.2h0M413.2 330.1h0M400.7 309.7h0M413.6 332.2h0"/><path stroke="#8ee428" d="M184.8 337.9h0M200.9 317.6h0M191.8 344.4h0M201.2 335h0M192.5 292.7h0M198.9 342.3h0M190.5 328.9h0M198.9 318.5h0M194.5 324.9h0M195.7 352.3h0M178.6 331.6h0M192.4 339.9h0M192.2 334.5h0M195.8 327.5h0M194.2 342.4h0M198.5 312.5h0M200.3 334.3h0M201.9 328.4h0M194.4 329.4h0M198 305.6h0M197.5 327.7h0M201.2 318.6h0M191.3 338.2h0M204.3 307.6h0M200.1 337.5h0M197.2 332h0M202.4 309.1h0M197.5 340.7h0M200.4 330.4h0M204.1 324.1h0M190.8 317.4h0M183.6 337.9h0M195.5 326.7h0M191.5 332.6h0M199.4 329.3h0M192.7 307.6h0M200 344.2h0M193.4 332.4h0M195.8 349.8h0M204.6 319.8h0M190.4 320.4h0M194.2 327.2h0M191.1 338.9h0M197.6 326.2h0M202.5 339.6h0M188 343.2h0M185.7 311.6h0M190.3 349.3h0M192.3 325h0M183.6 329.1h0M203.1 320.9h0M195.7 330.3h0M203.5 341.1h0M189.5 320.1h0M195.4 336.9h0M195.7 334h0M190.8 340.6h0M194.8 351h0M201.9 323.4h0M196.6 352.5h0M191.2 333.8h0M190.3 336h0M190.3 321.5h0M187.5 345.5h0M175.7 329.1h0M191.5 341.7h0M201 324.8h0M184.4 333.1h0M190.8 374.5h0M202.2 341.6h0M198.6 329.4h0M188.8 323h0M188.4 333.7h0M203.7 321.5h0M186.4 313.6h0M196.4 331.6h0M195.6 324h0M189 343.3h0M201.1 350.1h0M188.4 328.7h0M176.9 325.6h0M192.8 330h0M203.1 350.5h0M202.2 332.6h0M189.5 340.1h0M201.1 323.3h0M199.6 347.7h0M189 316.9h0M200.4 328.4h0M395 343.7h0M400.7 342.1h0M408.2 321.9h0M402.7 329.3h0M414.4 316.2h0M397.9 336.1h0M403.2 335.3h0M399.3 327.4h0M409.9 316.1h0M411.8 297.3h0M408.3 317h0M411.2 311.5h0M400.4 308.1h0M396.9 341.8h0M408.1 309.4h0M399.7 359.9h0M413.8 297.2h0M411.7 337.2h0M411.1 351.9h0M413.3 319h0M410.8 327.2h0M406.9 335.1h0M411.2 335.9h0M413.2 335.4h0M403.7 309.8h0M411.4 327.4h0M411.8 335.7h0M410.2 325.3h0M399.2 339.5h0M409.8 321.2h0M411.8 344.7h0M410.4 294.7h0M413.6 298.1h0M399.5 307.1h0M409.9 323.3h0M411.3 328h0M410.1 326h0M399.7 323.1h0M410.4 320.2h0M395.5 345.3h0M409.2 295.2h0M402.1 319.2h0M404.6 322.5h0M399 321.9h0M406.3 342.2h0M414.6 305.6h0M404.6 305.3h0M401.1 314.1h0M392.2 340.1h0M411.6 313.9h0M408.5 321.4h0M408.2 333.9h0M402.1 317.5h0M409.3 349.4h0M413.4 326.4h0M398.9 332h0M399.6 335.6h0M405.5 298h0M410.9 327.6h0M414 345.3h0M409.5 339.8h0M405.5 326.7h0M406.6 362.2h0M407.7 337.8h0M404.4 337.9h0M401 318.8h0M411 335.8h0M405.1 357.4h0M410.2 336.8h0M406.8 327.5h0M412.1 300.7h0M413.8 344.7h0M413.9 340.4h0M404.9 349.8h0M409.4 340.1h0M402.1 323h0M410.9 320.4h0M405.8 322.9h0M403.8 309.4h0M400.7 345.2h0M411.1 338.2h0M407.4 342.3h0M399.6 324.5h0M396 323h0M407.3 336.4h0M412.5 315h0M406 309.7h0M408.3 347.3h0M408.8 325.7h0M413.2 324.6h0M406.5 293.6h0"/><path stroke="#3a9ad0" d="M228.2 296.8h0M222 289.2h0M213.3 308.7h0M227.3 275.3h0M230.6 313.1h0M228.7 300.5h0M236.2 297.9h0M222.3 319.3h0M222.8 290.8h0M228.1 316h0M205.5 321.8h0M228.3 307h0M223.9 299.8h0M246.5 310.4h0M222.9 328.3h0M218.3 302.7h0M224.7 297.4h0M215.7 285.9h0M228.8 282.9h0M217.9 308.3h0M221.9 309h0M226.7 295.3h0M224 312.9h0M223 326.5h0M234.1 284.8h0M239.3 304.3h0M225.6 278.9h0M217.5 299.7h0M224.3 319.1h0M227.7 312.4h0M230.6 310.4h0M218.1 286.9h0M226 269.8h0M215.9 293.7h0M223.1 292.9h0M221.1 265.5h0M222 333.1h0M226 292.6h0M212.7 283.6h0M227.1 295.8h0M229.7 285.8h0M221 299.1h0M224.6 300.9h0M223.4 295.1h0M220.3 287.1h0M223.3 317.8h0M210.2 313h0M224.7 266.2h0M208.4 305.7h0M245.6 301.4h0M223.5 303.1h0M235.6 304.5h0M211.4 311.8h0M217.7 297.4h0M215.5 316.4h0M220.6 289.2h0M229.8 304.2h0M234.3 315.1h0M217 274.7h0M239.8 326.4h0M213.5 305.2h0M221.4 296.5h0M228.1 315.2h0M232.1 311.6h0M223.8 325.6h0M233.6 303.2h0M216.5 304.9h0M216.4 282.4h0M233.9 301.4h0M253 321h0M222.5 302.5h0M225.2 290.4h0M215.9 311h0M219.1 289.2h0M208 296.2h0M220.4 327.5h0M237.2 290.9h0M225.4 324.6h0M246.2 303.4h0M224 299.3h0M211.1 299.2h0M225.2 319.2h0M235.1 318.5h0M224 291.2h0M237.4 302.7h0M234.7 279.5h0M225.2 309.4h0M222.9 307.3h0M230.5 287.2h0M232.5 303.3h0M218.2 273.5h0M219.5 297.6h0M227.7 289.8h0M220.1 300.1h0M238 333.7h0M221.9 286.7h0M229.6 303h0M219.5 287.2h0M232.6 288.4h0M214.3 290h0M208.6 291.9h0M239.4 298.3h0M232.1 296.4h0M206.2 308.3h0M231.3 302.1h0M246.9 313.4h0M208.4 270.6h0M212.2 312.8h0M219.1 310.6h0M218.3 320.1h0M226.8 303.5h0M228.1 318.7h0M214.6 280.5h0M233.6 303.6h0M230.6 283.5h0M229.5 312.6h0M239.4 303.2h0M223.9 294.2h0M235 298.7h0M224 295.9h0M243.7 288.3h0M225.7 333.3h0M220.7 316.2h0M219.5 296.1h0M224 273.2h0M231.4 333.9h0M213.1 286.3h0M228.3 288.7h0M217.7 302.7h0M220.5 284.3h0M224.4 295.3h0M222.1 315.8h0M205.7 321.4h0M232.3 313h0M221.6 316.9h0M228 304.9h0M234.6 304.2h0M238.6 321.1h0M229.7 287.1h0M231.9 307.6h0M219.9 286.1h0M223 318.3h0M212.2 331.4h0M216 309.8h0M233.9 288.9h0M233.1 306h0M223.6 296.2h0M217.1 265.9h0M229.5 313.8h0M228.8 292.8h0M227.3 287h0M214.8 288.2h0M223.6 303.8h0M219.2 283.1h0M227.3 295.5h0M228.8 297.7h0M236.6 295.5h0M211.7 300.7h0M226.8 279.6h0M210.9 312.6h0M236.3 304.2h0M218.4 306.3h0M209.1 310.2h0M209.7 288h0M223.1 294h0M215.3 312h0M223.3 322.2h0M211.3 297.2h0M214.6 309.8h0M218.6 309.6h0M239.7 315.5h0M238.7 295.3h0M224 329.5h0M230.9 295.3h0M226.3 292.2h0M225.8 285.8h0M217.9 291h0M211 295.9h0M224.2 269.7h0M216.8 332.6h0M232.5 304.6h0M210 282.7h0M212 314h0M222.3 308h0M211.8 278.5h0M212.1 314.6h0M229.4 296.6h0M222.5 307h0M231.3 292.2h0M232 298.3h0M226 320.3h0M226.5 280.9h0M211.9 309.8h0M224.8 298.2h0M233.1 272.9h0M219.3 296.3h0M231.3 304.6h0M217.8 318.9h0M225.5 311.3h0M222.1 307.7h0M206.3 308.3h0M225 311.5h0M227.9 289.9h0M214.7 291.7h0M207.3 305.7h0M242.6 294.3h0M227.7 314.9h0M229.1 289h0M222.6 276.1h0M221.5 315.9h0M227.5 312.5h0M214.7 304.5h0M222 305.6h0M229 306.3h0M229.4 318.3h0M206.6 326h0M216.9 327.2h0M213.5 294.9h0M210.4 293.8h0M220.8 301h0M233 315.1h0M227 280h0M217.8 289.3h0M227.6 280.5h0"/><path stroke="#3cb2ec" d="M210.3 297.2h0M221 303.9h0M227.8 296.8h0M209 316h0M221.8 320.6h0M233.8 308.4h0M211.4 282.8h0M210.8 291.5h0M210.7 289.4h0M228.7 292.5h0M217.8 305.2h0M228.3 298.8h0M242 295.8h0M228.2 312.4h0M212.9 265.4h0M226.2 283.6h0M219.2 282.1h0M225.6 285.7h0M244.9 299.8h0M231.5 296.2h0M220 289.6h0M221.3 305.5h0M219.4 306.7h0M229.5 310h0M217.6 326.1h0M224.6 293.7h0M224.1 296.7h0M232.9 307.3h0M220 330h0M227.4 303.2h0M224.4 325.5h0M223.5 303.7h0M225 285.6h0M230 289.1h0M213.2 340h0M216.8 313h0M210.9 285.9h0M223 293.3h0M213.9 292.5h0M233.7 313.6h0M216.7 292.3h0M237.3 320h0M215.7 308h0M224.1 300.6h0M226.4 300h0M214.8 295.3h0M230.5 310h0M226.1 285.1h0M218.8 328.3h0M225.9 272.1h0M233 324.1h0M216.2 287h0M226.8 297h0M221.3 275.9h0M219.6 331.9h0M212.6 288h0M216.8 307.1h0M221.1 314.1h0M220.3 318.8h0M226.1 271.4h0M211.6 286.1h0M224.6 291.6h0M225.2 301.4h0M232.9 307.3h0M227.5 296h0M209.9 307.5h0M217.7 295.1h0M216.2 298.7h0M220.6 301.4h0M220.7 308.8h0M224.9 310h0M213.1 280h0M225.7 303.8h0M208.3 312.2h0M223.2 323.5h0M230.6 322.1h0M225 290.8h0M235 299h0M225.6 286h0M216.1 322.3h0M233.2 314.5h0M217.6 297.8h0M208.1 286.7h0M209.3 291.9h0M217.4 288.8h0M222.5 303.3h0M210.9 308.8h0M243.5 297.9h0M206.1 309.8h0M221.7 286.3h0M231.4 296.1h0M214.8 314.9h0M218 315.7h0M221.9 307.4h0M225.3 316.8h0M223.2 308h0M229.4 311.5h0M238.9 320.9h0M231 299.8h0M221.7 275.1h0M206 325.5h0M232.5 312.4h0M225.3 305.5h0M219.4 337.2h0M228.5 292.1h0M221 299.3h0M220.1 315.2h0M225.8 304.2h0M227.3 304.5h0M232.8 293.7h0M225.9 311.1h0M233.9 304h0M225.2 300.3h0M239.5 320.5h0M220.6 321h0M235.1 301.3h0M221 322.5h0M211.2 300.3h0M214.7 315.9h0M240.2 276.2h0M224.6 313.9h0M222.6 307.4h0M221.7 306.3h0M222.7 331.3h0M227.9 314.9h0M226 310.6h0M219.7 317.6h0M219.9 322.9h0M224.3 287h0M214.8 308.5h0M229 299.4h0M230.1 262.8h0M215.4 291.4h0M236.5 282.9h0M232.1 307.9h0M213.8 293h0M218.9 294.9h0M206.3 279.5h0M215.5 277.7h0M214 301.9h0M217.6 294.1h0M233.1 321.8h0M211.2 322.8h0M206.9 296.1h0M230.9 292.9h0M209.1 284.5h0M229.5 306.1h0M229.3 311.1h0M214.2 291.1h0M221.5 328.1h0M220.9 319h0M224.2 309.6h0M220.3 308.8h0M227.4 309.9h0M229.2 313h0M230.9 310.2h0M222.1 306.1h0M228 304.1h0M222.9 282.8h0M219.3 286.3h0M217.1 295.7h0M212.1 309.3h0M223.9 311.8h0M217.8 295.1h0M227.2 275.5h0M222.9 314.1h0M220.7 289h0M214.4 293.4h0M223.6 287.2h0M218.3 314.2h0M206.2 294.5h0M215.8 321.8h0M227.7 295.4h0M219.2 288.1h0M221.5 288.6h0M225.7 299.5h0M239.3 285.6h0M226.6 276.4h0M229.1 293.7h0M225.9 278.3h0M226.9 308.5h0M238.6 290.6h0M214.5 279h0M210.5 270.5h0M220.4 267.4h0M226.4 316.8h0M219.4 283.8h0M217.2 292.4h0M222.2 286.8h0M230.6 284.1h0M219.8 282.2h0M219.7 336.9h0M229.3 291.8h0M220.4 321.2h0M220.2 292.2h0M227.1 316.7h0M209.7 324.7h0M231 284.8h0M212.4 327.7h0M226.7 300.8h0M229.6 329h0M214.9 308.9h0M222.1 334.8h0M218.9 301.5h0M225.1 292.2h0M230.1 294.8h0M225.5 295.4h0M219.3 332.1h0M227 288.5h0M220.5 289.3h0M230.9 263.3h0M224.2 287.4h0M225.9 300.9h0M214.1 298.2h0M217.3 296.9h0M214.2 303h0M220.5 299h0M214.7 300.3h0M232.2 290.9h0M220.4 290.8h0M216.8 327.8h0M221.9 288.5h0M234.3 301.9h0M226.2 304.8h0M208 314.5h0M226.2 302h0"/><path stroke="#2ea4dc" d="M219.2 298.3h0M224.7 276.3h0M229.2 305.5h0M223.9 289.9h0M214.7 317.3h0M219.1 287.1h0M230.7 314.6h0M215.1 283.8h0M233.8 302.7h0M245.8 288.3h0M234.7 306.3h0M221 294.8h0M222.7 286.1h0M216.7 295.7h0M215.6 295.1h0M217.8 297.2h0M218 321h0M219.4 313.8h0M248.3 301.5h0M216.1 321.1h0M233 295.9h0M215.6 298.6h0M224.9 328.7h0M222.2 296.9h0M211.2 294.4h0M242.2 307.4h0M223.6 331.6h0M237.1 311.1h0M218.4 279.2h0M224.7 316.7h0M229.9 291.9h0M224.1 301.8h0M215.4 280.2h0M215.5 300.4h0M218.2 304.6h0M234.9 287.6h0M222.4 298.6h0M215.9 316.4h0M222.4 264.8h0M220.6 307.3h0M239 310.6h0M233.3 304.4h0M233.9 322.4h0M247 288.6h0M224.8 317.3h0M244.5 319.1h0M222.1 308.3h0M210.6 297.3h0M219.3 321.3h0M224.9 292.9h0M227.3 278.7h0M215.9 304.8h0M229.8 285.3h0M232.1 304.4h0M210.8 289.8h0M218.9 312.5h0M230.8 281h0M225.2 324h0M212.5 316.5h0M221 329.3h0M221.3 306h0M224.3 276.5h0M227.3 300h0M216.5 289.2h0M228.3 302.2h0M208.5 290.1h0M210.9 293.3h0M229.9 293.9h0M232.8 317.3h0M228.1 310.7h0M241.6 302.1h0M224.3 282.8h0M234 319.8h0M216.5 318.1h0M212.5 295.3h0M221.8 296.2h0M228.3 299.9h0M221.9 296.9h0M206.7 282.3h0M207 285.5h0M228.7 317.7h0M236.1 303.8h0M238.9 296.6h0M225.3 316.9h0M225.1 296.2h0M220.2 307.7h0M243.5 290.4h0M235.1 324.6h0M239 287.7h0M212.7 315.2h0M220.8 293.8h0M219.7 295.9h0M225.6 319.4h0M224 311.1h0M222.4 306.8h0M229.4 305h0M208.7 297.1h0M218.7 308.5h0M223.9 323.2h0M210.1 290.4h0M211.4 314.9h0M234.2 291.6h0M229.6 266.5h0M230.2 295.9h0M215.4 289.8h0M225.4 308.2h0M235.7 301.6h0M222.2 289.8h0M219.7 305.2h0M216.1 306.8h0M226.4 269.6h0M231.6 314.2h0M215.4 302.8h0M222.1 289h0M231.1 306.2h0M218 316.1h0M218.8 306.5h0M218.5 304.2h0M226.2 300.1h0M221.5 292.8h0M218.6 305h0M230.8 313.8h0M224.3 306h0M224.6 298.9h0M234.2 311.3h0M211.9 314.4h0M219.1 299.6h0M225.6 315.6h0M215.4 324.6h0M216.6 271.9h0M212.7 324h0M223.7 290.7h0M211.8 298h0M216.2 315.4h0M227.6 292.7h0M217.1 336.4h0M214.2 311.4h0M219.8 315h0M229.8 288.4h0M223.4 301.5h0M218.3 283.5h0M210.5 304.6h0M217.3 305.3h0M226.8 317.7h0M217 327.8h0M235.5 297.3h0M234.7 272.6h0M226.6 299.6h0M225.5 308.3h0M224.7 292.5h0M217.1 282.4h0M240 321.8h0M225.9 289h0M233.9 301.4h0M223.8 291.4h0M210 277.2h0M230.1 311.3h0M226.4 272.7h0M233.6 277.7h0M231.7 302.6h0M216.7 272.5h0M214.3 304.8h0M208.5 303h0M230.5 291h0M228.4 321.6h0M232.5 322.8h0M217.3 330.4h0M228.9 316.6h0M222 309.1h0M221.7 308.3h0M208 325.7h0M217.9 278.9h0M237.8 310.8h0M230.2 310.4h0M229.6 302.7h0M214.8 294h0M232.3 273.9h0M231.2 292.2h0M236.9 295.9h0M212.8 310.7h0M231.6 283.1h0M225.9 297.7h0M234.2 296.4h0M214.4 329h0M231.6 272.8h0M235.2 277.6h0M219.8 270.9h0M218.1 316.5h0M221.9 308h0M235.1 316.9h0M223.5 307.9h0M214.2 299.6h0M222.8 322.5h0M217 295.9h0M232.6 284.6h0M216.9 309.4h0M221.3 309h0M229.4 302.8h0M235.2 303.5h0M226.6 319.3h0M225.7 293.9h0M234.8 288.3h0M231.6 317h0M215.5 278.8h0M228.9 289.6h0M219.3 314.3h0M217.4 320.6h0M212.2 320.4h0M221 335h0M222.8 330.5h0M223.1 298.4h0M213.9 284.9h0M233.5 310.4h0M228.9 301.5h0M210.3 311.9h0M222.7 282.8h0M220.8 318.6h0M215.4 296.4h0M226.7 308.8h0M226.4 307.4h0M214.6 310.2h0M223.6 318.1h0M228 286.2h0M220.8 328.9h0M230 302.5h0M228.3 303h0M220.7 313.1h0M225.9 298.2h0M222.3 298.3h0M217 323.8h0M219.1 299.1h0M220.9 299.6h0M223.1 327.3h0M227.8 285.8h0M226.1 314.7h0M238.9 288h0M225.2 296h0M218.8 303.3h0M229.1 306.9h0M223.4 318.7h0M230.2 310.3h0M216.6 300.1h0M227.8 289.5h0M212.8 310.3h0M218.4 302.8h0M222.3 303.5h0M210.1 308.4h0M222.1 291.8h0M228.1 302.9h0M224.9 292.6h0M222.8 318.3h0M226.6 283.9h0M226.9 288.7h0M206.2 296.1h0M228.3 318h0M216 319.7h0M214.3 279.6h0M217.5 301.5h0M225.8 297.6h0M218.9 304.9h0M220.5 270.8h0M224.6 277.2h0M217.4 274.3h0"/><path stroke="#48bcf0" d="M222.8 299.4h0M214.4 296.5h0M222.2 298.7h0M214.4 275.5h0M221.1 301.3h0M223.9 323.8h0M236.8 292.5h0M224.2 300.8h0M226.4 333.6h0M226.2 297.9h0M223.7 278.1h0M220.2 323.4h0M225.9 314.7h0M233.8 274.1h0M217.8 303h0M209.1 299.2h0M225.6 286h0M224.7 303.8h0M221.9 301.5h0M232.7 301.5h0M227.3 282.8h0M214.8 290.5h0M230 312.2h0M233.7 303.6h0M220.7 292.4h0M234.8 298.8h0M217.3 303.4h0M212.8 290.5h0M216.2 292.8h0M221.3 282.5h0M232.5 296h0M232.9 287h0M226 286.8h0M235.5 297.9h0M216.9 305.3h0M216.3 301.1h0M225.6 283.6h0M215.8 269h0M218.8 284.7h0M210.8 279.3h0M224 297.1h0M230.7 298.5h0M224 282.5h0M205.3 278.5h0M229 275.7h0M227.8 310.3h0M216.5 315.7h0M217 317.3h0M226.9 330.8h0M210.7 296.7h0M221.9 288.6h0M230 294h0M225.1 324.7h0M224.7 273.2h0M224.2 292.7h0M222.5 317.1h0M223.7 311.4h0M220.9 315.7h0M216.3 328.1h0M223.2 306.3h0M209.5 309.7h0M237.3 296.3h0M231.3 305.5h0M228.4 305.5h0M222.2 278.6h0M224.6 312.7h0M225.2 287.2h0M227.4 280.2h0M221 304.4h0M234.2 296.9h0M229.1 282h0M218.7 312.5h0M218.3 289.8h0M217.1 279.6h0M218.3 328.2h0M215.1 297.2h0M229.9 302.6h0M229.3 303.7h0M227.9 294.5h0M229.5 297.6h0M233.6 306.2h0M222.6 297h0M222.9 317.2h0M243.1 311.4h0M233.5 319.1h0M214.5 321h0M223.6 305h0M209.1 301.1h0M222.1 301.9h0M234.5 313h0M231 309.8h0M220.6 296h0M215.2 325.9h0M223.9 304.3h0M231.1 314.7h0M223.9 290.9h0M221.4 286.8h0M212.6 284.2h0M213.7 294.3h0M223 304.2h0M212.9 301.9h0M211.2 298.3h0M220.3 315.8h0M231.7 305.9h0M207 280.5h0M216.4 310.8h0M215.4 293.5h0M216 303.3h0M215.1 322h0M222 308.1h0M217.3 332.1h0M221.8 281h0M215.3 300.8h0M230.3 304.6h0M212.6 283h0M226.4 294.5h0M233.5 305.2h0M223.8 298.1h0M218.7 290.9h0M205.2 326.8h0M220.2 285h0M237.6 291.8h0M205.1 319.9h0M223.4 298.4h0M225.1 278.9h0M222.8 290.6h0M228 285.4h0M236.3 297.8h0M221.8 279.2h0M234.6 326.3h0M222.4 277.8h0M238.3 318.9h0M205.2 282.4h0M228.3 303.3h0M219.5 287.9h0M227 299.7h0M239.3 286.6h0M221.8 308.8h0M222.1 271.4h0M220.6 306.3h0M232.9 295.9h0M225.9 301.1h0M225.9 293.7h0M214.6 299.1h0M216.7 308.7h0M230.9 324.8h0M218.2 295.9h0M217.8 272.3h0M208.3 285.2h0M220.9 283.7h0M213.8 309.6h0M215.9 290.4h0M221.9 296.3h0M227 290.4h0M227.8 276.6h0M235.1 292.6h0M220.7 291.2h0M219.4 299.1h0M220.9 304.1h0M221.2 299.6h0M226 277h0M228.1 307.3h0M217.7 329.8h0M214 307.8h0M230.9 303.3h0M221.9 296.1h0M220 321.5h0M214.9 321.8h0M228.5 291.6h0M232.8 314.3h0M233.4 286.2h0M225.7 317.6h0M218.6 311.9h0M228.8 293.1h0M228.6 276.8h0M215.9 298.4h0M213.9 317.9h0M218.4 295.3h0M227.4 298.1h0M218.3 303.6h0M231.5 337.2h0M221.3 309.7h0M206.3 323.5h0M230 286.3h0M227.5 286.9h0M207.9 299.1h0M230.3 297.3h0M230 280.2h0M226.8 304.3h0M220.4 294.8h0M228.2 312.8h0M219 307.2h0M217.5 290.9h0M225 306.7h0M219.1 270.4h0M239.6 290h0M233.5 308h0M226.3 313.9h0M222.9 307.2h0M227.8 296h0M239.3 286.2h0M219 288.3h0M236.2 298.2h0M214.8 278h0M230.6 293.7h0M230.1 322.1h0M232 283.2h0M219.5 307.4h0M229.3 310.4h0M226.3 299h0M220.5 305.6h0M211.9 289.3h0M210.4 306.3h0M220.3 289.9h0M219.2 272.3h0M239 287.7h0"/><path stroke="#62c6f0" d="M213.3 289.9h0M229.4 302.5h0M216.2 332.7h0M223.3 300.6h0M233.3 282.3h0M227 303.5h0M226 292.7h0M220.5 311h0M228.1 305.6h0M220.2 310.2h0M221.4 290.7h0M224.4 291.7h0M213.2 318.2h0M223.6 278.6h0M218.2 311h0M238.7 319.2h0M229.9 268.9h0M214.4 314.5h0M222.6 306.6h0M224.8 314h0M210.3 310.8h0M235.2 289.8h0M221 280.1h0M229.8 271.4h0M229.3 323.4h0M225.8 319.7h0M210.7 311.8h0M236.8 289.9h0M212.8 330.9h0M210.1 283.7h0M222.4 312.5h0M223.7 288.3h0M222.4 305.9h0M225.8 297.8h0M230 298.6h0M231.2 322.7h0M224 322.7h0M220.4 301.7h0M224.6 310.1h0M218.7 287.5h0M222.9 297.9h0M225.4 305.3h0M228.9 284.4h0M225.5 299.7h0M222.6 322.1h0M221.5 292.4h0M233 295.9h0M231.8 304.5h0M205.7 311.4h0M240.1 289.7h0M224.8 280.9h0M216.4 307.9h0M232.5 316.5h0M218.2 325.3h0M229.4 289.4h0M221.5 321.3h0M212.4 286.2h0M210.8 306.4h0M214.8 270.3h0M221 302.2h0M212.3 324.8h0M219.6 283.2h0M211.3 321.1h0M214.7 289.2h0M221.3 302.8h0M222.6 318.8h0M218.6 297.9h0M241 289.8h0M225.8 280.7h0M214.2 302h0M224.5 311.8h0M214.4 300.7h0M213.7 308.8h0M223.9 314.2h0M224.1 302.3h0M235.4 317.5h0M229.2 314.9h0M222.2 312h0M219.5 315.4h0M226.2 325.8h0M232.8 290.8h0M228.6 313.9h0M236.1 301.2h0M226.1 306.4h0M231.4 305h0M212.3 293.7h0M229.6 296.5h0M226 288.8h0M228.2 334.4h0M219.1 285.1h0M235.4 309.5h0M225.6 294.2h0M229.9 299.7h0M208 304.4h0M223.4 285.8h0M220.8 337.3h0M213.1 286.4h0M227.1 307.4h0M224 313.7h0M206.1 282.8h0M222.7 315.3h0M225.6 299.7h0M217.3 324.4h0M215.9 304.6h0M223.7 297.1h0M230.8 318.4h0M211.2 294h0M212.7 311h0M223.4 302h0M222.6 313.4h0M218.3 281.6h0M226.4 304.7h0M221.1 294.6h0M220.6 304.8h0M219.2 278h0M221.7 307.5h0M227.9 340.7h0M236.9 327.4h0M216.5 319.7h0M232.8 293.2h0M216 318.9h0M218.6 311.7h0M226.1 300.6h0M221.9 288h0M229.1 284.8h0M217.8 274.7h0M216.7 288.8h0M215 307.4h0M228.4 284.8h0M221.1 322.5h0M227 302.9h0M240.1 300h0M207.9 302.9h0M222.3 318.6h0M226.3 312.8h0M215.9 306.3h0M207.3 283.8h0M211.4 308.5h0M227.5 293.6h0M217.2 306.5h0M228.7 327h0M227.2 309.3h0M227 307.9h0M218.4 304h0M233.7 284.3h0M233.1 304.8h0M237.8 307h0M224.3 303.2h0M214.4 284.8h0M225.3 304.2h0M221.4 305.3h0M224.1 295.3h0M226.7 303.9h0M221.4 311.3h0M226.1 318.2h0M214.4 297.4h0M226.5 305.1h0M223.5 282.3h0M223 337.9h0M218.1 286.7h0M228.8 271.4h0M234.3 308.3h0M224.6 308.2h0M232.9 316.4h0M220.4 285.2h0M231.5 293.8h0M216.5 324.6h0M214.2 305.2h0M210.7 294h0M218.6 297.8h0M216.8 302.4h0M240.1 296.2h0M228.3 288.8h0M219.3 310.5h0M230.2 274.4h0M208.2 291.2h0M218.3 312.1h0M220.1 274.1h0M224 289.6h0M221.7 292.4h0M242.3 294h0M219.4 313h0M221.7 300.6h0M215.5 290.8h0M225.1 308.5h0M221.5 263.8h0M229.5 303.4h0M222.4 296.8h0M232.4 329.5h0M225 292.4h0M227.4 279.8h0M234.6 310.4h0M236.6 306.8h0M227.1 295h0M221.1 298.1h0M210.1 335h0M217 313.3h0M221.8 305.9h0M222.5 300.9h0M224.6 304.7h0M234.2 297.8h0M225.2 271.9h0M226.3 303.3h0M220.2 341.9h0M212.5 283.7h0M220.6 317h0M230.7 306.5h0M210.6 282h0M220.3 304.4h0M222.3 312.1h0M233.6 290.2h0M208 298.6h0M214.6 291.9h0M229.4 307.2h0M227.5 322.5h0M228.7 292.5h0M226.6 299.6h0M234.7 304.4h0M222.7 306.2h0M232.9 286.4h0M226.9 289h0M224.9 304.7h0M224.4 311.6h0M220.8 317.5h0M226.4 313.4h0M210 309.4h0M205.7 292.8h0M233.1 285.5h0M229.4 296.3h0M220.1 293.1h0M225.5 283.9h0M211.5 307.2h0M231.4 289.7h0M211.9 292.9h0M218.4 303.3h0M216.6 305.8h0M220.4 335.4h0M223.6 310.5h0M214.7 290h0M228.3 290h0"/><path stroke="#c87a50" d="M333.4 436.9h0M336.2 380.3h0M336.2 423.6h0M345.7 420h0M329.8 405h0M361.7 390.7h0M326.4 393h0M343.6 380.1h0M323.8 405.8h0M344.7 397.6h0M308.1 428.7h0M329.8 425h0M350.6 439.2h0M339.2 419h0M333.6 414.5h0M326.8 417.5h0M344.5 391.7h0M330 415.9h0M295.8 393h0M353.4 440.7h0M325 400.5h0M360.3 389.1h0M325.6 395.6h0M306.5 397.8h0M296.4 397.2h0M309.2 412.8h0M353.8 433.3h0M339.8 407.6h0M348.5 397h0M322.6 428h0M327.7 416.1h0M355.2 378.5h0M337.3 414.4h0M340.1 375.8h0M345.5 415.1h0M345.7 431.5h0M340.1 401.7h0M349.9 421.3h0M340.6 406.6h0M322.6 411.8h0M334.5 402.5h0M314.8 374.6h0M316.3 418h0M356.6 419.5h0M349.3 411.2h0M364 401h0M326 362.7h0M334.4 423.1h0M348.4 412.2h0M346.5 409.2h0M319.5 418.4h0M335.8 425.3h0M342.4 345h0M349.1 369.7h0M354.6 368.5h0M343.7 338.9h0M361 382.5h0M345.7 349h0M362.2 368.4h0M340.7 351.3h0M354.5 360.7h0M347.9 374.5h0M359.4 354h0M360.3 365.3h0M360.3 353.8h0M363.9 359.5h0M352.3 362.2h0M337.6 381.1h0M350 350.2h0M345.1 347.5h0M339.7 361.7h0M358.6 395.1h0M355.4 344.6h0M362.7 352.3h0M327.8 367.1h0M338.8 369.8h0M345.6 368.4h0M337.8 340h0M351.1 387.5h0M350.3 361.5h0"/><path stroke="#a86038" d="M338.1 421.2h0M311.4 431.5h0M341.4 424.4h0M333.6 412.4h0M343.1 422.9h0M315.5 443.8h0M312.6 407.3h0M354.9 401h0M329.1 412.5h0M328 418.3h0M352 420h0M335.1 398.8h0M310.9 418.9h0M349.3 413h0M322.6 405.3h0M342.8 433.3h0M353.2 416.1h0M355.8 400.3h0M337.7 436.4h0M338.7 403.8h0M328.1 411.2h0M365.7 393h0M314.7 388.6h0M362.1 436h0M321.8 398.5h0M323.1 435.4h0M335.3 389.4h0M344.3 403.4h0M333.6 414.7h0M327.7 411.7h0M352.5 399.9h0M326.8 373.6h0M340.3 377.2h0M339.4 427.4h0M335.5 385.8h0M330.3 426.2h0M296 383.5h0M356.8 412h0M350.3 426.2h0M341.7 408.3h0M356.6 412.2h0M316.8 380.5h0M353.9 388h0M332.1 404.2h0M320.3 410.6h0M318.1 416.3h0M314.2 407h0M341.8 443.6h0M311.7 406.5h0M327.8 423.3h0M340.3 423.3h0M318.3 389.3h0M349.5 408.4h0M353.6 366.2h0M353.1 410.6h0M328.2 386.2h0M349 405h0M343.6 423.9h0M328.2 396h0M337.2 424.9h0M338.1 408h0M333.8 418.2h0M366.1 385.3h0M350.2 390.5h0M360.8 411.2h0M323.5 381.2h0M341.3 388h0M322.4 412.6h0M334.4 403.5h0M354.5 427.5h0M332.3 443.3h0M331.7 393.3h0M353.3 441.5h0M325.9 424.3h0M348.2 432.9h0M362.1 356.7h0M362.1 355.7h0M336.2 350.5h0M355.9 368.9h0M351 347.1h0M350.5 343.8h0M330.2 366.8h0M352.2 365.3h0M358.6 369.2h0M365.2 390.1h0M359.5 366.6h0M345 354.5h0M340.1 378.2h0M345.2 351.3h0M353.9 373.9h0M342.9 383.4h0M343.3 366.2h0M355.5 364.6h0M352.4 360.8h0M348.6 363.2h0M346.5 387.2h0M349 387.9h0"/><path stroke="#a07050" d="M329.3 397.1h0M339.5 440.7h0M334.9 425.5h0M353.8 409.4h0M315.1 435.1h0M344.9 398.4h0M345.8 435.6h0M354.7 361.8h0M336.3 407h0M353.8 383.1h0M354.3 404.1h0M355.6 404.4h0M347.1 411.9h0M350 388.8h0M313 412.7h0M308.2 394h0M347.7 418.9h0M329.1 419.8h0M320.2 419.2h0M335.2 393.8h0M328.6 400h0M334.8 411.2h0M335.3 404.3h0M354.5 400.2h0M343.1 412.1h0M351.1 395.5h0M350.2 409.4h0M353.7 422.7h0M342.4 411.8h0M356.6 387.6h0M365.5 433.3h0M351 417.5h0M334.7 415.8h0M352.8 440.2h0M356.5 425.1h0M343.7 401.9h0M345.7 411h0M337.3 432.5h0M357.3 383.8h0M333.5 380.1h0M300 401.8h0M344.3 406.3h0M356.5 431.2h0M323.2 406.7h0M307.2 406h0M320.7 421.8h0M339.7 439.4h0M345.7 418.3h0M354.7 412h0M334.8 390.1h0M296.3 420.1h0M315.1 421.5h0M329.1 421.7h0M298.6 369.1h0M338.4 388.9h0M350.2 392h0M336.2 374.8h0M347.6 363.7h0M341.2 370.6h0M324.4 406.6h0M363.4 371.8h0M344.9 369.4h0M337.5 419.1h0M322.4 443.2h0M349.1 373.8h0M339.8 401.5h0M328.9 413.3h0M354.1 341.2h0M350.4 370.4h0M360.6 368.4h0M355.9 378h0M341 378.2h0M349.1 367.3h0M361.1 347.3h0M359.7 363.9h0M349.6 362.4h0M339.6 353.7h0M340 366.8h0M338.6 362h0M350.4 368.7h0M354.5 357.6h0M362.3 346.6h0M348.9 369.5h0M348 379.3h0M363.2 382.3h0"/><path stroke="#c06838" d="M351.4 407.5h0M314.4 423.6h0M324.5 374.7h0M326.6 437.2h0M345.9 399h0M328.1 409.7h0M343.1 443.7h0M343.7 431.2h0M336.8 417.6h0M333.5 415.3h0M338.9 399.3h0M344.5 396.7h0M348 390.3h0M330.1 408.7h0M321.1 410.9h0M348.5 404h0M359.6 424.9h0M345 440.6h0M354.5 396.5h0M355.5 426.2h0M346.1 420.1h0M333.1 396.2h0M345.3 379h0M311 422.7h0M334.9 392.2h0M345.3 413.5h0M357.1 403.2h0M343.7 390.3h0M326 437.4h0M319.3 404h0M346.9 402.5h0M298.4 421.1h0M329.6 415h0M336.9 395.9h0M325 396.2h0M338.9 399.7h0M328.3 416h0M343.6 408.6h0M352.6 426.8h0M347.7 408.2h0M355.4 413.7h0M354.1 387.2h0M343.1 432.5h0M354.9 410.6h0M304 406h0M349.3 423.8h0M325.3 411.4h0M322.8 385.6h0M348 399.7h0M363.6 416.2h0M331 424.8h0M355.1 416.1h0M306.3 384.9h0M336.2 414.8h0M323.9 433.7h0M353.5 424.6h0M355.5 384.3h0M343.4 413.3h0M356.8 405.7h0M331.3 402.4h0M351.7 402.7h0M337.4 386.4h0M320.3 416.1h0M353.2 426.5h0M330.2 401.5h0M344.4 363.7h0M359.3 376.9h0M327.9 390.8h0M348.7 335.9h0M353.4 355.6h0M352.1 383.1h0M356.4 363.3h0M344.7 368.4h0M355.4 359h0M344.9 371.5h0M363.7 353.1h0M362.2 344.3h0M360 375.5h0M363.7 353.1h0M363 369.4h0M350.5 358.1h0M352.7 357.5h0"/><path stroke="#d06030" d="M341.6 421.9h0M316.5 443.7h0M303 440.3h0M348.3 398.3h0M315.1 397.8h0M328.5 382.7h0M352 412.4h0M363.1 430.8h0M366.2 420.8h0M351.7 443.4h0M324.7 382.3h0M313.4 422.3h0M347 411.7h0M340.8 389h0M325.4 425h0M301.5 371.3h0M350.1 440.2h0M364.5 394.6h0M346.8 393h0M351.8 434h0M350.1 393.2h0M361.9 412.6h0M316.2 347.9h0M338.4 430.9h0M338.5 435.8h0M356 358.1h0M334.4 415.5h0M320.5 424.2h0M335.6 387.8h0M352.2 403.3h0M338.8 413.5h0M341.4 422.5h0M347 382.1h0M350.7 407.5h0M313.8 420.4h0M327.1 415.1h0M357.2 397.9h0M339.4 393.3h0M355 407.5h0M341.9 417.7h0M344.9 389.9h0M318.5 415.1h0M316.9 410h0M321.7 421.5h0M355.8 414.6h0M354.2 419.7h0M328.3 399.7h0M346.6 390.8h0M328.6 407.3h0M356 413.5h0M351.7 418.7h0M301.1 400h0M313 409h0M335.6 409h0M350.3 423.1h0M325.1 396.5h0M351.9 420.1h0M328.1 409.3h0M357 407.5h0M310.9 379.3h0M310.4 416.5h0M317.3 441.6h0M363.2 396.9h0M348.4 435.1h0M324.6 421.5h0M362.7 420.6h0M316.7 422.1h0M307.4 404.9h0M316 425.9h0M309.2 405.5h0M363.6 382.7h0M341.9 413.5h0M318.1 403.5h0M343.5 399.7h0M323.4 400.1h0M328.3 427.7h0M336.6 406.5h0M318 413.7h0M316.1 400.4h0M345.5 405h0M300.3 420.2h0M324.8 386.8h0M297.8 404.1h0M313.8 410.6h0M346.1 404.5h0M334.3 418.3h0M322.6 361.7h0M329.3 398.9h0M353.9 399.8h0M346.3 412.2h0M363.8 345.7h0M334.8 378.4h0M361.3 358.1h0M349.7 379.9h0M343.2 338.4h0M351.3 336.5h0M351.8 371.7h0M336.6 354.5h0M364.7 378.9h0M358 360h0M356.8 368.9h0M365.8 364.2h0M345.2 358.6h0M355.6 395h0M357.2 346.5h0M363.2 380.1h0M334.4 370.8h0M326.6 376.6h0M357.9 359.4h0M362.7 348.7h0M348.8 357.5h0M350 371.4h0M364.8 359.7h0M358.5 383.9h0"/><path stroke="#c85028" d="M329 406.1h0M338.8 402.4h0M322.2 425.8h0M331.1 416.7h0M317.6 402.2h0M296.3 443.1h0M337.8 403.3h0M316.3 415.7h0M331.9 420.2h0M364.5 437.8h0M335.1 430.8h0M343.2 395.7h0M356.2 400h0M309.1 420.8h0M313.9 386.3h0M360.5 422.3h0M323.9 411.8h0M322.2 401.6h0M334 417.3h0M339.4 409.1h0M332.7 409h0M351.8 427.2h0M327 390.1h0M312.3 390.8h0M344.1 410.6h0M353.8 416.1h0M319 433.9h0M330.9 411.6h0M334 412.9h0M316 395h0M324.8 422.6h0M333.5 427.9h0M331.3 430.8h0M347 397.2h0M330.3 361.3h0M345.7 439.2h0M336.6 412.3h0M317.6 412h0M360.1 355.1h0M320.5 394.7h0M298.9 386.4h0M337.4 407.8h0M345 405.6h0M336.9 392h0M334.2 403.2h0M308 389.5h0M354.5 430.6h0M320.3 382.4h0M348.4 421.9h0M308.5 437.4h0M356.6 441.6h0M353.8 413.4h0M322.1 390.1h0M332.1 402.7h0M330.9 415.2h0M324.1 436.2h0M360.8 443.8h0M348.6 433.8h0M346.7 410.2h0M333.6 402.6h0M341 408.6h0M356.8 400.5h0M361.4 402.4h0M342 422.4h0M334.2 417.3h0M342.7 442.4h0M361.6 367.1h0M344.8 426.9h0M351.1 436.1h0M347.6 410.3h0M342 432.8h0M337.5 401.9h0M352.3 372.8h0M362.7 383.5h0M365.8 352.1h0M339.2 352h0M359.8 375.5h0M349.9 357.3h0M354.9 379.7h0M345 368.2h0M337.5 363.9h0M359.3 399h0M360.6 381.6h0M355.4 362.5h0M349.8 366.4h0M351.5 387.5h0M346.5 389h0M354.3 377h0M351.1 373.6h0M335.4 393h0M339.2 354.5h0"/><path stroke="#48a6f0" d="M439.8 313h0M428.7 299.2h0M446.7 303.3h0M434.9 316.6h0M433.6 299.7h0M437.1 310.4h0M443.6 311.6h0M425.7 323.3h0M431.8 327.5h0M436.8 325.3h0M430.2 310.1h0M423.2 329.7h0M438.3 282.8h0M440.9 291.7h0M437.8 313.1h0M425.2 320.1h0M434.7 300.3h0M431.6 316.9h0M423.1 309.6h0M435 304h0M437.6 295.7h0M419.7 316.1h0M433.9 322.9h0M437.7 302.1h0M440.4 318.5h0M431.6 310h0M427.6 330.3h0M423.1 300.9h0M440.4 309.3h0M428.2 291.9h0M438 308.9h0M429.3 308.4h0M440 291.5h0M437.9 297.7h0M427.4 330.3h0M432.5 312.2h0M436.6 307.5h0M425.7 332.2h0M422.2 298.2h0M420.4 310.9h0M441.1 285.8h0M439.7 312.1h0M417.7 323.5h0M439.3 295.5h0M425 292.3h0M426.3 310.5h0M434.1 302.7h0M425 309.1h0M442.4 321.4h0M423.3 316.2h0M426 338.6h0M424.7 309.2h0M415 304.4h0M431 302.8h0M434.9 332.1h0M447.2 295.3h0M443.7 308.7h0M434.6 303.1h0M456.8 313.7h0M437.1 300h0M441 334.8h0M428.5 325.7h0M448.8 327.2h0M424 310.8h0M438.8 342.8h0M433.7 322.3h0M436.5 314h0M434.3 318.9h0M428.2 338h0M432.9 324.4h0M442.2 295.9h0M427.7 319.2h0M449 345.8h0M418.2 303.4h0M442.1 313.7h0M441 305.5h0M436.1 309.2h0M435.2 318.1h0M431 303.8h0M427.6 310.1h0M443.5 319.8h0M428.2 334.5h0M439.6 300.4h0M420.2 303h0M423.2 314h0M433.9 315.7h0M452.4 313.5h0M430 306.4h0M425.9 325.1h0M438.7 317.5h0M424.7 296.2h0M445.3 316.1h0M443.3 321.7h0M436 298h0M450.3 328.1h0M429.3 296.1h0M438.2 311.5h0M425.1 305.9h0M434.4 296.9h0M451.3 301h0M426.2 323.6h0M424.8 310.7h0M438.5 286.5h0M434.7 299.1h0M425 307.5h0M432.1 325.5h0M433.5 313.6h0M437.7 310.2h0M440.4 321.9h0M442.7 310.4h0M440.9 317.3h0M428.2 319.7h0M451.7 309.6h0M422.1 334h0M440.9 308.2h0M433.7 309h0M440.7 312.4h0M455.4 322h0M421.1 306.2h0M439.7 306.9h0M424.6 276.2h0M431.6 302.2h0M438 340.6h0M435.2 287.6h0M434.8 292.3h0M432.4 311.1h0M441.1 305.8h0M433.5 326.5h0M437.7 304.7h0M417.3 315.9h0M451.9 333.7h0M433.1 317.1h0M427 298.4h0M439.2 313.8h0M419.2 329.8h0M433.9 308.3h0M441.3 322.5h0M427.9 312.9h0M434.3 307.4h0M422.5 315.2h0M416.1 303h0M441.2 313.8h0M422.4 294.8h0M424.7 313.4h0M430.4 298.7h0M442.6 323.8h0M433 318.6h0M434.4 311.1h0M429.5 315.1h0M430.7 298.9h0M431 298.7h0M445.8 322.2h0M446 320.2h0M443.1 314.7h0M419.2 329.1h0M425.8 309.1h0M430.7 333.2h0M425.6 333.4h0M432 304.1h0M439.4 302.4h0M437.1 331.4h0M444.1 324.1h0M430.4 313h0M430.1 323.9h0M437.5 287.3h0M445.2 309.5h0M424.4 313h0M421.6 311.9h0M432.3 299.8h0M433.9 303.6h0M436.3 311.8h0M447.6 298.8h0M434.7 320.7h0M429.5 329.5h0M445.5 309.4h0M431.9 320.4h0M432.4 310.4h0M428.9 318.8h0M429.9 319.7h0M455.4 309.6h0M432.9 338.7h0M432.2 296.2h0M437.2 299.2h0M425.8 335.7h0M445.5 303.5h0M460.3 328.4h0M425.5 315.8h0M440.8 295.8h0M432.8 307.6h0M431 299.7h0M428.2 299.3h0M424 332.3h0M441.1 296.5h0M433.4 297.2h0M424.9 295.7h0M437.8 319.8h0M435.8 333.7h0M441.2 327.8h0M441.4 323.4h0M451.5 300h0M423.5 304.8h0M438.8 321.3h0M434.2 316.1h0M432 302.7h0M428.7 318.6h0M451 309.7h0M441.9 315.3h0M441.6 297h0M423.1 313.9h0M438.8 297.9h0M440.6 313.1h0M424 314h0M449.6 289.9h0M435.6 317h0M438.7 335.3h0M417.3 328.1h0M441.5 312.7h0M421.5 320.1h0M421.6 315.6h0M425.7 321.4h0M440.3 313.6h0M424.6 310.8h0M434.3 304h0M432.7 287.4h0M436.6 313.6h0M432.3 323.5h0M451.4 320.5h0M431.8 326.8h0M427 335.9h0M422.9 297.9h0M439.5 321.2h0M422.4 310h0M420.2 298.3h0M426.3 306h0M433.4 320h0M433.6 324.7h0M427.1 296.9h0M440 319.5h0M425 294.4h0M438 325.9h0M432.3 301.3h0M439.1 314.2h0M432.6 321.2h0M436.3 319h0M434.5 313.3h0M421.1 313.5h0M443.1 304.8h0M427.6 329.7h0M438.7 311.4h0M423.6 307.2h0M432.8 313.7h0M435 313.4h0M434.4 309.4h0M447.8 297.9h0M432.8 300h0M416.3 320h0M437.3 320.6h0M442.1 304.7h0M435.2 321.1h0M437.9 299.4h0M442.8 325.1h0M439.6 306.6h0M424 311.2h0M430.7 305.5h0M427.2 294.7h0M438.8 293.2h0M435.7 332.6h0M435 318.9h0M437.4 300.3h0M432.9 313.7h0M423.4 311.2h0M437.3 316.2h0M437.2 329.9h0M431.2 304.9h0M450.9 315.4h0M441.4 320.5h0M432.7 309.7h0M440.2 302.7h0M424.9 322.9h0M431.7 310.1h0M446.2 314.3h0M440.5 293.5h0M452.9 330.2h0M425 311h0M438.2 301.2h0M433.9 308.6h0M428 323h0M460.2 316.2h0M432 307.6h0M434.8 307.1h0M434.4 328.9h0M436.5 322.7h0M443.2 328.8h0M421.4 327.2h0M424.9 311.9h0M439.9 333.8h0M434.6 331.2h0M417.9 308.3h0M440.1 313.9h0M437.6 307.3h0M429.4 310.8h0M418 289.3h0M429.3 309.8h0M436.5 286.3h0M434.7 305.9h0M436.9 307.3h0M436.8 313.9h0M435.1 314h0M443.8 324.2h0M442.8 313h0M435.4 331h0M440.5 306.8h0M429.5 322.9h0M423.2 315.6h0M432.8 304.8h0M425.2 302.1h0M435.2 309.8h0M454.7 317.8h0M434 301.1h0M434.7 302.2h0M435.1 307.3h0M426 318.1h0M434.6 318h0M439.8 340.3h0M444.4 346.5h0M431.6 309.7h0M439.6 304.4h0M428.5 323.6h0M420.4 322.9h0M435.4 276.2h0M430.8 319.1h0M433.3 295.1h0M432.7 317.3h0M419.3 315.2h0M441.3 298.9h0M433.4 301.2h0M438.8 327.1h0M424.9 321.9h0M420.1 321.4h0M451.9 326.9h0M434.2 300h0M427 312.9h0M440.5 329.2h0M416.3 307.9h0M440.3 317.1h0M421.4 307.8h0M436.5 291.9h0M435.3 346.8h0M429.9 289.4h0M440.8 319.6h0M439.7 313.6h0M456.3 319.8h0M416 335.7h0M432.9 300.7h0M439.7 311.2h0M417.4 340.4h0M443.5 304.5h0M432.5 324h0M425.9 297.1h0M429 297.4h0M442.6 333.3h0M447.2 310.8h0M434.5 300h0M438 303.9h0M424.3 315.7h0M445 315.9h0M453.4 313.9h0M445.7 320.9h0M433 317.5h0M440.6 323.2h0M424.2 277.1h0M435.8 305.8h0M435.9 305.1h0M433.1 319.2h0M426.3 303.9h0M438.6 317.4h0M420.4 316.7h0M437.8 322.9h0M436.7 300.4h0M420.9 300h0M447.2 306.3h0M446 312.8h0M437 318.7h0M440.1 315.9h0M452.6 305.7h0M426.5 298.8h0M438.3 307.5h0M439.3 319.4h0M425.8 319.4h0M423.3 300.2h0M423 274.9h0M434.6 291h0M434.9 305.3h0M440.4 306.9h0M440.9 324h0M431.3 296.2h0M425.7 316.5h0M436.9 320.5h0M435.8 321.9h0M416.1 296.6h0M424.1 327.5h0M429.4 313.2h0M431.1 328.2h0M446 329.8h0M431.3 319.7h0M440 318.5h0M449.6 296.2h0M443.7 297h0M416.1 305h0M458.8 330.3h0M438.9 337.8h0M429.2 320h0M437.9 304.5h0M437 301.7h0M422.9 315.4h0M428.2 320.4h0M443.3 317.8h0M435.5 319.8h0M424.6 319.6h0M428.9 289h0M443.6 311.6h0M429.7 323.1h0M431 320h0M430.2 318.3h0M439.4 306.9h0M444.3 301.4h0M439.7 306.7h0M425.3 305.2h0M441.2 291.5h0M429.6 306.1h0M443.7 315h0M428.7 301.8h0M416 311.4h0M439.5 312h0M442.9 321.5h0M423.6 280.5h0M441.4 299.3h0M427.7 295.3h0M434.6 297h0M446.2 313.7h0M428.9 313.6h0M430.2 317h0M425.6 314.7h0M431 348.4h0M427.1 320.2h0M435 297.7h0M443.5 308.7h0M438.7 316.8h0M437.1 326.7h0M435.1 300.1h0M447.4 326.3h0M433.1 292.4h0M448.1 320.4h0M437.6 303.8h0M442.3 310.9h0M423.7 324.3h0M427.7 329.1h0M431.9 310.1h0M435 339.9h0M442.4 321.7h0M440.5 307.7h0M430.8 306.1h0M421.9 304.9h0M444.4 315.7h0M442.7 307.5h0M435.4 307.9h0M428.6 299.3h0M429 280.3h0M438.8 313.4h0M438.6 303.2h0M440.3 305.8h0M434.7 323.9h0M453.2 323.5h0M434.3 308.2h0M427.1 324.7h0M440.9 274.6h0M424.2 331.1h0M438.6 301.2h0M440.3 305.2h0M428.4 308.5h0M446.9 328.9h0M436.8 302.9h0M426.7 318.8h0M427.4 298.3h0M447 299.8h0M443.1 304.6h0M428.6 300.7h0M444.6 308.4h0M428.3 334.3h0M451.8 290h0M437.1 312.3h0M442.6 325.4h0M431 300.9h0M445.9 308.7h0M423.4 309.4h0M436.4 311.1h0M422.7 299.7h0M448.9 320h0M434.2 313.7h0M437.5 317.6h0M446.1 295.4h0M432.9 306.9h0M443.7 326h0M422.7 333.7h0M440.8 324.4h0M431 317.2h0M426.6 324.6h0M428.5 316.8h0M432.4 319.5h0M441.8 313.1h0M444.4 290h0M432.4 312h0M445.2 301.9h0M435.8 329.2h0M449.4 306h0M433.7 306.1h0M420.2 290.5h0M436.9 327.4h0M438.3 314.7h0M440.9 302.8h0M425.6 316.1h0M423.3 336.7h0M425.6 319.7h0M426 301.4h0M429.9 303.7h0M439 321.7h0M440.7 297.1h0M435.8 324.9h0M445.1 312h0M434.5 317.2h0M447.2 317.8h0M432.7 328.2h0M458.5 301.8h0M423.9 295.6h0M443.4 324.7h0M448.2 312.1h0M432.1 331h0M419.8 320.4h0M421.6 315.3h0M440.7 314h0M424.5 301.8h0M427 303.1h0M429.9 298.7h0M443.4 309.7h0M423.4 307.6h0M429.1 310.8h0M432.6 299.9h0M439.8 303.5h0M434.1 330h0M444.4 317.2h0M424.5 308h0M425.8 317.1h0M436.2 324.6h0M429.1 314.1h0M427.6 315.4h0M433.9 333.1h0M435 318h0M433.7 297h0M428.3 299.9h0M435.3 320.3h0M431.7 317.2h0M431.7 299.1h0M424.9 285.9h0M438.1 312h0M455.7 332.6h0M424.2 314.6h0M426.2 315.1h0M426.5 309.7h0M438.9 329.5h0M443.9 313.7h0M432.8 313.8h0M435.6 313.6h0M432.3 311.6h0M427.2 336.9h0M445.8 331.8h0M418.5 306.9h0M435.7 315.9h0M426.1 299.3h0M429.4 312.3h0M429.8 315.5h0M433.3 302.5h0M441.2 303.6h0M431.8 323.2h0M435.8 330h0M437.6 307h0M424.9 295.5h0M444.7 311.2h0M433 305.4h0M420 304.5h0M442.3 321.5h0"/><path stroke="#52aef2" d="M420 318.2h0M417.8 310.1h0M428 319.5h0M438.2 313.8h0M442.2 320.7h0M449.1 301h0M427.8 312.3h0M431.7 324.6h0M427.4 318.7h0M448.2 313.9h0M443 313.7h0M417.7 309.3h0M441.8 293.6h0M433.3 323.5h0M423.8 331.4h0M439.2 290.9h0M431.4 306.9h0M432.4 317.9h0M441.1 326.1h0M422.9 293.8h0M428 320.6h0M438.4 318.5h0M429.7 326.2h0M427 319.2h0M430.6 314.3h0M439.3 324.2h0M433.4 314.6h0M432.3 298.9h0M444.2 306.7h0M440.1 323.4h0M432.8 300h0M430.2 321.9h0M441.1 326.1h0M420.7 296.6h0M433.1 320.3h0M443.9 294.2h0M421.2 304.3h0M428.5 314.3h0M439.6 311.1h0M447.6 294.6h0M421.3 314.7h0M421.4 308.9h0M435.6 326h0M426.8 334.6h0M429.5 330.8h0M441.7 316.6h0M430 301.3h0M444.8 313.2h0M427.9 301h0M439.7 323.2h0M437.8 310.5h0M437.3 294.7h0M427.3 332.3h0M450.5 309.5h0M436.9 293.8h0M430 312.5h0M446.6 297.9h0M437.3 294.5h0M442.6 287.5h0M423.1 299.2h0M447.3 313.7h0M442.2 314.9h0M449.5 331.5h0M433.6 305.2h0M439.7 335.7h0M440.2 305.8h0M417.4 320.9h0M434.1 313.6h0M422.8 319.5h0M423.4 324.8h0M444.5 302.2h0M426.7 305.6h0M419.7 307h0M444.3 321.1h0M434 297.3h0M445.6 314.7h0M439.1 307.5h0M434.8 307h0M456.6 300.6h0M447.2 325h0M438.2 313.4h0M440 325.4h0M438 311.5h0M425.4 298.5h0M430 301.4h0M418.2 330.2h0M426.5 313.1h0M434.8 295.7h0M427.7 306.5h0M439.6 314.7h0M442 317.7h0M430 328.9h0M434.8 299.2h0M427.4 324.3h0M432.6 319.8h0M434 289.9h0M435.4 306.8h0M425.1 310.1h0M440.3 310.9h0M431.1 315.6h0M430.1 334h0M432.4 301.8h0M434.6 299.6h0M435.1 283.7h0M436.8 319.5h0M430.2 310.8h0M445.3 299.6h0M452.5 305.5h0M426.4 327.8h0M437.5 311.3h0M424.6 304.3h0M431.5 321.5h0M432.3 332.6h0M428.5 335.4h0M434.6 314.4h0M443.2 334.4h0M433.1 321.9h0M437.9 334.2h0M436.1 326.6h0M429.1 325.7h0M436.1 330.5h0M434.4 297h0M423.1 309.8h0M430.7 305.5h0M431 344.9h0M433.8 308.7h0M425.3 329.8h0M423.3 342.3h0M436.6 305.9h0M444.9 309.8h0M428.4 311.9h0M438.6 344h0M441.6 320.9h0M451.2 331.6h0M429.3 319.5h0M421.5 335.7h0M442.2 321.3h0M430.5 301.1h0M426.6 312.1h0M442.8 329.5h0M427.9 312.1h0M429.7 326h0M432.7 299.5h0M434 296.2h0M436.3 298.2h0M442.8 304.4h0M428.5 291.2h0M418 297.3h0M434.1 309.7h0M434.4 305.7h0M432.7 315.2h0M422.3 320h0M425.8 323.8h0M419.8 334.9h0M426.7 298.7h0M432.8 313h0M428.9 315.7h0M433.2 311.9h0M437.8 312h0M424.9 318.9h0M432.3 314.3h0M430.3 311.6h0M427 307.8h0M431.5 309h0M432.6 312.8h0M428.8 324.1h0M433.8 310.5h0M439 314.4h0M439.1 327.5h0M425.2 281.1h0M432.3 320.1h0M431.9 294.6h0M432.8 305.7h0M423.7 299.8h0M429.9 299.4h0M431.7 309.5h0M439.8 314.2h0M423.3 310.1h0M431.5 291h0M439.4 318.1h0M439 323.7h0M425.5 321.9h0M434.4 297.2h0M424.3 304.5h0M429.6 309.8h0M435.5 321.9h0M432.7 286.1h0M429.9 320.7h0M438.5 314.4h0M440.9 310.5h0M439.7 314.6h0M440.7 316.2h0M428.6 309.9h0M431.5 317.8h0M441.7 326.5h0M440.5 310.9h0M421.2 296.2h0M431.5 309.4h0M438.6 320.4h0M426.8 298.7h0M451.4 295.6h0M431.5 328.3h0M437.6 314.4h0M450.9 343.8h0M429.2 318.3h0M426 296.7h0M430.7 325.7h0M430 298.7h0M423.7 292.4h0M441.4 296.5h0M439.1 304.3h0M428.1 310.7h0M427.6 306.6h0M449.3 316h0M436.1 309.9h0M441.5 324.8h0M432.5 319.9h0M426.4 335.5h0M430 306.5h0M431.8 324.9h0M433 330.4h0M426.1 298.8h0M428.6 326h0M432.5 336.8h0M432.3 288.9h0M434.8 311.6h0M429.4 314.2h0M437.9 291.8h0M432.7 319.2h0M423.1 326.7h0M438.5 308.5h0M435.3 305.3h0M437 317.7h0M450.8 314.3h0M428.7 326.3h0M446.6 309.6h0M432.5 324.5h0M430.9 323.6h0M434.3 319.9h0M434.7 336h0M431.3 321.5h0M428.9 306.5h0M435.8 304.9h0M447.4 309.3h0M438.4 314.1h0M433.1 329.4h0M441.1 314.4h0M432.5 312.5h0M430 324.4h0M427.9 285.5h0M445.8 302.2h0M440 306.3h0M429 309.4h0M434.8 318.4h0M433.4 303.7h0M424.7 315.8h0M449.1 324h0M431.5 296.3h0M439.5 301.1h0M440.4 299.4h0M439.1 313.6h0M440 298.2h0M439.9 319.7h0M419 316.1h0M443.5 290.8h0M445.7 312.5h0M441.6 314.1h0M444.7 323.9h0M442.6 311.1h0M436.2 301.2h0M433.5 312.5h0M418.2 311.5h0M424.2 294.4h0M447 292.9h0M427.7 309.7h0M438.7 292.9h0M434.3 286.4h0M430.2 322.5h0M425.8 316h0M429.2 289.4h0M418.1 318.8h0M427.5 294.3h0M418.5 327.1h0M433.9 316.8h0M429.7 313.2h0M423.5 293.8h0M436.2 335.6h0M431.1 317h0M438.7 333.2h0M443 325h0M434.2 302h0M423.6 330h0M428.3 310.9h0M443.5 305.9h0M445.8 275.8h0M433.8 331.3h0M424.4 312.8h0M429.9 288.9h0M429.3 309.4h0M421.5 300h0M431.1 294.6h0M429.8 305.4h0M441 308.2h0M429.9 294.4h0M414.8 317.7h0M433.3 305.1h0M430.4 297.5h0M423.4 295.8h0M434.8 306.5h0M418.9 302.3h0M428.8 307.3h0M428.6 315.2h0M436.3 314.3h0M429.3 321.3h0M446.6 325.4h0M424.5 303.4h0M426.7 315.8h0M425.9 300.3h0M428.5 308.5h0M425.3 322.8h0M429.5 316.5h0M460.3 306.9h0M440.7 302.5h0M422.2 318.4h0M423.4 299.4h0M439.9 322h0M429.5 305.1h0M416.8 323.7h0M437.5 305.4h0M434.2 320h0M440.1 290.8h0M427.4 300.4h0M431.7 324.1h0M444.8 303.6h0M427 313.4h0M434 301.2h0M436.7 320.1h0M435.8 307.8h0M429.6 300.3h0M437.6 338.9h0M438.3 318.4h0M431.8 309.8h0M433.4 307.4h0M440.5 319.3h0M438.6 316.6h0M436.7 314.8h0M419 337.4h0M443.1 312.2h0M415.3 302.5h0M436.8 297.7h0M446.1 305h0M422.3 313.5h0M431.7 314.9h0M421.1 308.8h0M421.3 331.8h0M431.3 334.7h0M435.9 296.8h0M431.1 316.8h0M433 314.5h0M436.1 332.7h0M445.8 326.4h0M435.7 326.1h0M431.5 319.9h0M426.7 294.6h0M447 315.9h0M426.6 310.3h0M437.9 339h0M437.6 323.4h0M437.3 294.3h0M435 309.6h0M443.5 324.6h0M427.1 320.7h0M423.5 317.6h0M450.1 333.4h0M434.1 302.1h0M446.6 321.6h0M448.8 310.2h0M427.3 292.6h0M427.3 314.1h0M435.5 307.7h0M434.6 309.8h0M435.2 314h0M434.1 321.9h0M428.4 294.6h0M425.4 291.7h0M431.6 304.9h0M427.2 315.4h0M432.8 313.9h0M439.6 308.2h0M441.8 327.2h0M435 307.9h0M430.5 324.9h0M439.5 301h0M435.5 313.5h0M453.4 302.6h0M428.3 291.2h0M435.8 315.5h0M432.5 303.4h0M448.4 325.7h0M434.5 325.6h0M439.9 295.4h0M439.7 321h0M443.5 296.3h0M427.5 309.2h0M447.1 316.2h0M423 331.4h0M436.2 316.1h0M446.2 299.4h0M428.6 317h0M419.6 305h0M431.9 329.6h0M422.6 322.5h0M434.5 323.4h0M436.3 310.2h0M420.4 309.1h0M461.2 305.6h0M427.4 285.4h0M443.5 314.3h0M434.1 312.2h0M446.5 321.1h0M425.4 297.2h0M431.8 315.3h0M427 304.4h0M437.6 318.9h0M455.2 316.1h0M435.8 312.3h0M444.5 314.8h0M446 304h0M434.8 331.2h0M431.6 336h0M434.6 306.9h0M447.4 298.9h0M447.9 312.1h0M421.7 325.3h0M431.3 311.9h0M426.3 304.8h0M430.5 317.4h0M429.9 320.1h0M438.2 292.5h0M436.3 309.8h0M440 297.9h0M441 323.8h0M428.6 322h0M427.8 291.7h0M428.7 310h0M439.5 295.5h0M428.9 312.1h0M431.3 313.6h0M432.2 312.6h0M442.2 330.3h0M434.8 317.6h0M437.9 327h0M436.4 315.8h0M441.7 311h0M446.1 295.5h0M441.4 318h0M441.3 322.1h0M432.9 287.5h0M424.2 316.4h0M440.8 316.7h0M436 312.4h0M436.3 323.9h0M451.6 303.8h0M432.8 282.2h0M418.1 300.3h0M417.9 332.5h0M423.3 313.4h0M436 299.6h0M423.7 350.9h0M444.5 313.6h0M438.5 298.9h0M431.2 300.2h0M424.8 305.6h0M439.1 303.2h0M433.9 293.6h0M435.3 302.6h0M424.8 306.1h0M429 331.4h0M432 302.6h0M426 314.7h0M424.1 299.2h0M428.1 328.3h0M455.3 306.3h0M439.3 337.5h0M439.2 335.2h0M445.2 314h0M428.5 313.8h0M424 294.2h0M449.8 309.2h0M434.9 299.5h0M434.2 321.5h0M440.9 325.6h0M445.6 327.7h0M449.9 325.8h0M432.1 300.6h0M436.2 308.4h0M433.4 318.6h0M441.9 319.8h0M436.8 316.7h0M432.4 306.7h0M428.4 306.3h0M437.4 317.8h0M426.1 322h0M427.5 321.7h0M437.8 318.3h0M445 305.8h0M440.3 315.7h0M417.4 310h0M440.3 325.2h0M435.1 330h0M436.8 315.5h0M451.7 331.6h0M427.4 316.5h0M442.2 302.3h0M443.1 317.1h0M455.6 297.1h0M441.7 313.5h0M426.7 335.6h0M427.4 289.8h0M448.1 311.1h0M432.1 288.6h0M428.5 309.3h0M439 322.5h0M438.7 320.6h0M443.8 327.5h0M430.7 313.4h0M438.8 295.4h0M443.5 322.2h0M438.2 309.8h0M439.9 322.6h0M443.9 293.8h0M442.4 298h0M447.6 285.2h0M437 315.6h0M425.1 300h0M433.6 308.6h0M443 310.5h0M438 297.2h0M421 308h0M440.1 309h0M426.6 322.2h0M435.8 327.5h0M434.9 319.8h0M425.4 328.6h0M430.1 310.3h0M437.5 309.5h0M435.7 302.3h0M431.2 300h0M442.2 292.5h0M433.7 314.9h0M437 321.5h0M440.6 328.7h0M430.8 308.7h0M423 307h0M417.5 322h0M442.4 298.6h0M424.5 310h0M444.1 322.1h0M424.2 289.8h0M420.3 314.7h0M429 328.2h0M428.5 316.9h0M438.1 316.3h0M434.8 302.7h0M449.2 329.1h0M439.7 315.9h0M424.6 333.8h0M430.9 317.5h0M425.7 270.3h0M443.9 314.7h0M455 331.2h0M437.7 308.2h0M436.9 304.8h0M435.4 331.7h0M447.3 317.2h0M443.8 324.4h0M435.8 313.4h0M443.7 308.5h0M430.8 317.8h0M430.6 307h0M440.1 304.6h0M430.3 311.8h0M431.4 288.5h0M447.7 316.4h0M432.9 339.2h0M434.1 301.1h0M433 286h0M430.4 303.9h0M440.6 316.1h0M433.6 319h0M427.5 307.2h0M438.4 310.4h0M455.2 308.2h0M427.8 309.7h0M449 311.5h0M430.5 325.2h0"/><path stroke="#3e9ee8" d="M432.1 323.6h0M440.3 323.8h0M433.1 325.1h0M436.1 300.3h0M438.6 318.3h0M449.8 296.7h0M460 304.2h0M437.7 339.1h0M426.8 326.4h0M429.1 291.9h0M440.8 323.8h0M441.9 324h0M441.8 306.2h0M434 316.5h0M430.9 302.7h0M416.8 314.6h0M423.8 314.8h0M421 301.1h0M429.9 309.3h0M451.4 325.9h0M425.7 335.1h0M440.7 332.3h0M438 323h0M432.8 325.3h0M440.7 334.8h0M424.4 311h0M426.4 312.1h0M446.3 321.9h0M425 312h0M440.2 322.4h0M438.7 314.4h0M437 300.4h0M434.7 309h0M435.1 335.5h0M443.6 331.2h0M439.7 309h0M445.8 316.2h0M422.8 308.7h0M431.9 308.5h0M439.1 316.1h0M430.6 317h0M427.4 312h0M434.4 325.7h0M426.1 312.8h0M441.5 326.9h0M435 306.9h0M417.7 316.8h0M439.1 308.3h0M443.6 315h0M423.4 316.3h0M429.5 317.1h0M460.9 328.5h0M442.5 320h0M443 324.2h0M433.4 293.8h0M431.4 300.9h0M440.5 310h0M427.3 302.6h0M432.3 301.9h0M441.4 314.1h0M427 308.6h0M438 309.6h0M431.4 321.3h0M425.6 302.8h0M424.4 292.7h0M427.3 317.5h0M430.6 319.1h0M424.9 308.2h0M450.1 301h0M423.7 328.5h0M421.5 297.8h0M453.6 308.6h0M422.9 312.6h0M423 309.9h0M430.7 304.7h0M432.2 328.2h0M429.8 304.4h0M433.5 303.9h0M440.1 309.2h0M429.5 296.2h0M429.9 294.2h0M439.3 315.4h0M428.7 302.2h0M428.9 316.3h0M428.2 319.7h0M434.8 332.3h0M420.7 315.5h0M431.3 289h0M430.3 321.2h0M436.5 325.1h0M433.7 314.7h0M440.9 294.7h0M430.3 325.1h0M434.4 304.1h0M418.9 298.5h0M434.9 310.3h0M432.6 316.3h0M417.3 316.2h0M439.5 322.7h0M430.1 297.2h0M431.9 294.1h0M437.7 294.4h0M440 326.7h0M427.8 314.6h0M448.4 317.3h0M434.4 324.4h0M447.3 307.3h0M433.1 332h0M435.9 334h0M426.5 319.8h0M426.3 303.9h0M429.9 302.8h0M447.5 315.5h0M432.2 315.5h0M421 310.5h0M439.1 305.7h0M422.3 282.1h0M425.5 318.1h0M440.2 309.7h0M432.1 322.7h0M438.1 292.7h0M432 328.9h0M422.2 302h0M435.8 309.2h0M434.7 324.8h0M421.5 316.5h0M439.4 299h0M442.2 312.6h0M429.3 316.1h0M419.1 292.9h0M431 326h0M439.1 347.3h0M432.4 311.3h0M426.8 299.1h0M433.9 294.7h0M435 296.3h0M420.7 296.1h0M436.3 311.7h0M438.3 312.6h0M423.8 313.1h0M452.3 315h0M437.4 334.4h0M436.2 319.1h0M434.4 289.5h0M430 334.2h0M456.6 310.7h0M423.8 303.9h0M422.5 332.7h0M441.2 297.1h0M420.1 297.8h0M429.5 311.9h0M438.4 323.3h0M428.2 304.2h0M450.2 299.2h0M432.7 287.8h0M441.6 304h0M431.9 302.2h0M439.7 332.8h0M449.5 298.3h0M441.4 321h0M426.8 309.4h0M421.3 305.9h0M442.2 295.1h0M421.2 299.5h0M442.7 312h0M427.8 324.6h0M444.3 310.5h0M428.7 282.2h0M446.6 296.7h0M431.5 289.9h0M432.1 308.8h0M432.7 321.8h0M435.7 304.1h0M415.8 306.9h0M427.4 336.5h0M421.5 284.8h0M428.6 311.6h0M425.5 314.4h0M434.9 321.4h0M446 302.8h0M425.3 286.9h0M437.1 313.4h0M432.7 336h0M429.1 322.9h0M424.8 305.5h0M428.9 310h0M430.6 318.1h0M431.6 315.9h0M429.6 323.4h0M424.1 290.1h0M450.3 309.9h0M434.2 312.4h0M450.4 317.3h0M443.9 313.5h0M428.7 306.5h0M437.5 316.8h0M430 309.4h0M425.1 309.5h0M423.8 305.6h0M439.3 288.8h0M424.9 317.7h0M420.7 314.7h0M452.2 316.4h0M434.3 320.2h0M427.8 348.3h0M435.4 303.6h0M433.5 311.7h0M428 303.4h0M419.5 317.8h0M444.1 310.1h0M438.2 291h0M439.7 290.4h0M440.8 323.9h0M426.1 319.8h0M440.4 319.4h0M438 290.5h0M431.7 310.9h0M422.3 292h0M427.5 321.3h0M428.6 311.1h0M434.7 350.7h0M444.6 286.5h0M431.7 312.2h0M437.1 314.5h0M437.8 340.7h0M432.5 313.6h0M432.4 308.4h0M424.6 316.4h0M444.8 294.2h0M431.4 310.6h0M435.4 301.9h0M440.5 288h0M448.4 332h0M427.6 318h0M430.5 314.9h0M441.6 308.4h0M424 323.9h0M429.5 320.9h0M451.4 333.9h0M443.2 301.9h0M431.6 317.9h0M435.9 318h0M435.3 325.8h0M440.7 294.9h0M435.3 316.7h0M450.8 308.9h0M444.3 310.3h0M443.5 301.2h0M420.7 327.8h0M445.9 319.6h0M426.7 317.6h0M436.8 295.6h0M439.3 291.8h0M430.6 320.5h0M428.8 304.3h0M435.4 321.6h0M437.5 315h0M430.6 327.4h0M425.3 318.6h0M432.1 324.6h0M434.7 312.4h0M427.7 331.8h0M426.7 302.8h0M432.9 316.4h0M428.6 305h0M415.6 303.6h0M443.8 305.9h0M423.2 317.2h0M432 309.4h0M439.8 330.4h0M445.1 302.6h0M424 301h0M429.9 317.5h0M442 318.5h0M427.9 290.5h0M430.7 327.7h0M457.6 300h0M422.6 320h0M441.2 300h0M435.6 297.2h0M445 319.5h0M440.5 321.5h0M439.6 324.7h0M438.5 296.7h0M437.9 312.4h0M428.4 331.2h0M428.9 327.1h0M435.6 314.7h0M419.1 308h0M432.9 300.2h0M428.2 328.8h0M433.2 315.3h0M450.2 288h0M443.1 309.4h0M440 322.8h0M429.8 347.5h0M451.3 283.3h0M447.3 313.8h0M443.2 299.8h0M442.8 312.6h0M421.3 325.8h0M443.5 302.1h0M422.9 310.6h0M431 302.6h0M431.6 295h0M427.3 300.7h0M424.4 306.7h0M443.6 299.7h0M421.5 299.9h0M430.4 310.4h0M440.3 337.1h0M427.1 295.1h0M424.4 329.8h0M430.3 316.1h0M431.5 313.9h0M450.2 309.6h0M426.2 297.4h0M429.7 295.6h0M425.3 307.4h0M428.7 297.9h0M431.1 313.5h0M448.6 310.5h0M437.1 325.1h0M430.9 294.1h0M442.7 338.4h0M438.2 305.9h0M415.8 309.1h0M441.5 335.6h0M432.9 311.4h0M429.7 326.6h0M425.4 315.7h0M424.8 302.6h0M441.5 298.1h0M442.9 312.6h0M439.9 292.3h0M440.4 315.8h0M432.3 297h0M438.8 308.1h0M445.7 274.4h0M438 313.1h0M425.5 329h0M431.9 344h0M434.6 311.5h0M425.9 293.5h0M429.3 322.7h0M431.8 308.8h0M429.5 290.1h0M438.9 311.2h0M431.6 333h0M431.2 326.6h0M436.3 278.7h0M438.3 300.1h0M433.9 321.4h0M445.8 305.1h0M457.7 324h0M429 301.2h0M437 309.2h0M430.4 312.8h0M441.6 322.4h0M440.3 285.3h0M435.6 303.5h0M438.9 329.9h0M426.1 326.8h0M426 311.9h0M435.5 304.3h0M437.2 320.8h0M436 295.9h0M440.1 292.5h0M437.6 316.6h0M431.7 287.3h0M427.3 330.3h0M436.8 318.2h0M427.8 294.9h0M447.6 344.6h0M454.3 311.8h0M417.8 316.1h0M425 303.9h0M434.7 324.3h0M419 323.2h0M428.6 313.1h0M439.6 292.9h0M439.1 322.9h0M435.6 321.6h0M428.5 317.4h0M431.5 305.7h0M439.7 335.4h0M442.5 303.9h0M447.9 311h0M431.5 299.2h0M424.5 309.7h0M430.9 320.8h0M442.4 298.5h0M450.5 322.5h0M446 307h0M443.1 299.3h0M428.2 302.4h0M435.1 327.7h0M442.6 324h0M439.9 266.3h0M445.8 322.9h0M436.5 337.1h0M424 322.9h0M430.3 308.8h0M427.9 316.8h0M421.5 310h0M450 311.8h0M443.2 297.6h0M424.2 295.9h0M432.7 316.3h0M433 326.3h0M417.3 315.8h0M425.1 323.4h0M442.4 305.8h0M442.3 314.5h0M440.9 304.9h0M430.4 300.5h0M436.4 324.6h0M418.4 338.7h0M450.6 310.3h0M430.1 328.7h0M439.4 311.4h0M422.7 321.4h0M430.9 312.2h0M436.7 308.7h0M441.7 318.4h0M447.6 325.7h0M439.6 334.7h0M425.2 315.5h0M426.4 287.9h0M432.8 326.6h0M427.3 312.5h0M441.5 326.5h0M421.5 332.3h0M431.5 293.4h0M439.4 324.2h0M444.9 323.1h0M441 314.2h0M432.7 315.2h0M443.1 297.7h0M431.4 308.2h0M428.7 307.8h0M430.4 333h0M436.7 310.2h0M437.7 313.1h0M439.3 337.2h0M447.1 333.7h0M429 307.4h0M430.7 322.6h0M422 308.3h0M444.6 330.7h0M416.4 329.1h0M440.5 294.1h0M439.9 308.1h0M437.6 316.9h0M428.1 307.5h0M441.2 316.8h0M433.1 339.6h0M427.7 315.7h0M434.4 298h0M447.2 314.7h0M450.8 314.1h0M446.8 330.1h0M435 307.8h0M439.5 328.3h0M428.4 307.4h0M434.4 319.2h0M448.2 315.1h0M442 310.9h0M431.8 323.8h0M427.4 310.6h0M432.7 314.8h0M445.5 311.9h0M430.8 330.2h0M417.7 301.9h0M442.4 310.6h0M433.4 321.9h0M431.9 293.4h0M424 312.8h0M443.9 327.3h0M429.1 312.3h0M442.9 311.2h0M426.7 310.3h0M431.4 311.9h0M439 334.2h0M438.1 310.7h0M441.7 309.2h0M434.8 312.8h0M434.6 306.4h0M433.3 309.5h0M435.1 318.4h0M431.4 324.8h0M443.1 321h0M444.5 322.1h0M433.8 301h0M442.7 309.1h0M429 307.7h0M443 323.8h0M431.1 318.1h0M426.7 323h0M445.9 316.1h0M424.9 310.9h0M437.9 304.7h0M438.1 318.1h0M429.2 303.7h0M440.5 295.6h0M435.2 342.8h0M448.7 303h0M444.3 303.5h0M427.9 324.1h0M440.6 329.7h0M434.3 319.8h0M425.7 322.9h0M439.4 304.5h0M431 332.3h0M420.9 316.2h0M432.9 320.6h0M433.8 310.2h0M439.8 294.1h0M437.7 333.7h0M427.7 315.3h0M439.2 308.8h0M435.8 312.1h0M443.2 320.1h0M441.1 335h0M436.2 329.5h0M427.6 294.5h0M429.3 296.2h0M420.1 320h0M435.9 328.8h0M423.8 296h0M416.1 306.5h0M415.5 311.1h0M429.4 293.8h0M430.6 300.6h0M426.5 302.6h0M442.6 310.3h0M430 297.1h0M442.6 321.8h0M434 320.2h0M441.3 337.7h0M448 307.8h0M440.3 325.1h0M443.4 322.3h0M423.3 317.7h0M437.1 321.7h0M416.5 285.2h0M420.1 315.2h0M425.6 305.4h0M426.7 314.6h0M438.5 307.5h0M435.4 313.9h0M430.6 325.8h0M436.1 300h0M438.1 321.4h0M441.8 313.3h0M439.3 310.6h0M422.7 304.8h0M443.3 316.3h0M447.4 313.7h0M430.8 310.7h0M437 304.7h0M421.1 323.1h0M437 301.7h0M439.9 308.7h0M439.1 307h0M432.4 314.8h0M429.8 300.4h0M435 318.6h0M431.2 303h0M435.3 298.3h0M433.9 311.1h0M441.8 314.7h0M445.2 291h0M442.7 294.7h0M431.5 299.4h0M440.8 296.8h0M420.9 294.9h0M424 310.6h0M424.6 323.2h0M432.5 329h0M439.7 326.4h0M436.1 325.9h0M423 295.1h0M434.6 328.9h0M440.2 298.6h0M427 325.8h0M435 297.2h0M440.5 313.9h0M452.5 306.4h0M448.6 314.9h0M438.7 306.5h0M442.3 311.3h0M445.3 319.1h0M431.7 280.9h0M431.8 301.9h0M435.3 317.4h0M439.1 315.8h0M433.1 316.8h0M430.7 319.1h0M438.2 324.5h0M426.8 289.7h0M436.6 323.8h0M429.8 305.4h0M444.2 305.1h0M427.7 302.6h0M430.6 311h0M441.2 321.1h0M445 352.6h0M432.2 306.4h0M426.5 316.8h0M436.3 308.8h0M421.7 290.1h0M427.4 304.9h0M444.9 303.9h0M440 329.5h0M434 315.9h0M421.5 306.3h0M441.9 291.4h0"/><path stroke="#64b8f2" d="M444.9 328.9h0M445.2 309.5h0M432.3 309.3h0M439.7 326.7h0M448.6 297.3h0M448.7 316.3h0M454.8 325.4h0M439 305.7h0M439.9 325h0M436.3 317.4h0M433.5 317.5h0M433 319.1h0M433.4 324.1h0M442.7 302.1h0M426.9 299.2h0M428.2 296.2h0M436.2 330h0M430.4 337.9h0M430 332h0M423.6 299.5h0M447.9 300.2h0M431.1 319.5h0M427.2 314.3h0M438.2 296.5h0M434.7 322.6h0M438 294.7h0M451.4 303h0M448.5 330.2h0M434.3 311.7h0M445.3 301.3h0M427.5 298.2h0M436.2 307.2h0M441.2 317.8h0M435.2 309.9h0M433.8 289.1h0M417.1 303.9h0M424 302.7h0M439.1 309.2h0M442.6 321.4h0M431.5 317.6h0M434.5 324.8h0M443.8 323h0M438 294.7h0M426.1 339.4h0M439.2 293h0M434.6 313.2h0M436.7 324h0M423.1 306.7h0M433 328.3h0M436.2 310.4h0M436.6 317.1h0M440.3 314.7h0M449.7 306h0M426 323.5h0M437.4 323.7h0M432.5 301.2h0M422.1 305.4h0M420.1 314.5h0M434.7 315.9h0M447.8 323.8h0M440.9 320.8h0M438.7 313.3h0M435.7 332h0M432.6 284.6h0M442.3 301.7h0M441.7 306.3h0M446.1 302.6h0M450.1 316.9h0M458.7 310.2h0M417.9 340.4h0M435.5 313h0M433.6 335.6h0M427.5 305.5h0M438.5 318.5h0M437.2 302.3h0M437.4 310.4h0M445 335.2h0M431.3 299.4h0M433.9 306.7h0M450.3 313.2h0M441.5 306.9h0M426.6 314.8h0M436.7 316.4h0M431.4 320.7h0M421.7 311.2h0M423.7 310h0M420.5 304h0M430.8 322.9h0M431.6 320.2h0M432 323.7h0M441.2 325h0M441.9 321.3h0M428.4 298.1h0M432.7 320h0M426.5 333.8h0M437.2 337.3h0M430.9 303.6h0M431.4 323.4h0M435 331.9h0M437 327.3h0M430.1 303.5h0M443 313.3h0M439.4 313h0M438.9 311h0M430.6 294.2h0M419.4 312.9h0M451.5 306.1h0M427.2 293.6h0M423.2 299.5h0M442.4 326.7h0M433.7 328.9h0M433.4 300.3h0M431 305.1h0M428.2 324.6h0M432.8 296.1h0M436 330.2h0M433.4 305.9h0M426.2 324.9h0M432.8 315.2h0M442.5 324.1h0M429.4 332.2h0M445.1 316.8h0M437.7 337.9h0M432.6 303.7h0M424.5 323.7h0M446.5 319.7h0M457.1 298.5h0M430.6 311.2h0M446.4 302.4h0M440.2 330.4h0M432.8 300.9h0M426.9 317.2h0M454.5 308.2h0M424.9 335.7h0M432.9 310.2h0M438.8 293.8h0M436.8 308.2h0M419 312.1h0M441.8 299.4h0M420.1 329h0M441.3 311.7h0M419.9 319.3h0M444.8 322.8h0M423.9 294.1h0M437.2 327.9h0M429.7 306.4h0M446.8 311.5h0M440.9 297.5h0M437 302.4h0M416.3 312.6h0M425.5 308.6h0M431.1 306.2h0M444 319.1h0M437.7 315.6h0M425.6 300.3h0M426.3 330.8h0M427.5 329.6h0M435.5 301.8h0M434.7 300.9h0M453.2 311.3h0M428.1 309.3h0M440 317.3h0M425 316h0M429.2 292.5h0M431.3 308h0M431.7 316.5h0M441.8 313.9h0M427.2 320.8h0M423.3 327.1h0M452 310.5h0M430.5 288.8h0M429.6 332.5h0M426 309.3h0M418.9 329.8h0M437.1 329.5h0M441.9 309h0M444.6 314.3h0M434.8 336.9h0M429.4 324.4h0M432.8 326.6h0M447.3 311.4h0M432.1 319.6h0M445.7 323.6h0M419.3 304.9h0M438.4 334.6h0M441.1 327h0M433.7 310.5h0M416.8 321.9h0M425.4 311.8h0M432.1 299.2h0M431.2 319.4h0M426.9 321.9h0M438.8 303.5h0M430.1 314.4h0M443.3 303.1h0M415.1 324.6h0M431.8 315.3h0M424.1 316.3h0M426.2 290.4h0M425.3 340.2h0M427.7 333.4h0M444 292.1h0M435.4 317h0M436 325.5h0M439.8 304.4h0M439.3 329.9h0M427.4 308.3h0M431.3 317.3h0M436.1 300.8h0M429.3 323h0M450.7 300.9h0M443.9 344.9h0M431.8 287.4h0M425.7 299.6h0M424.7 296.1h0M433.4 340.7h0M420.2 323.9h0M435.3 313.4h0M438.3 316.8h0M420.9 297.6h0M423.8 315.9h0M421.9 321.4h0M421.6 301.2h0M433.4 323h0M424.2 311.3h0M443.7 295.5h0M436.9 308.7h0M431.7 316.8h0M428.9 317h0M437.4 332.4h0M429.6 303.6h0M435.7 301.3h0M428.3 324.6h0M446 324.1h0M416.8 294.6h0M433.5 309.5h0M442 300.6h0M439.5 322h0M423.1 297.3h0M448.4 307.1h0M451.3 320.2h0M442.9 297.3h0M440.9 329.7h0M417.7 315.4h0M420.1 310.5h0M424 317.1h0M431.6 318.7h0M439.4 319.7h0M423.9 328.1h0M421.3 322.3h0M415.5 315h0M443 300.1h0M428.1 324.6h0M446.4 319.1h0M434 317.5h0M443.4 305.8h0M437.1 330h0M426.3 312h0M426.3 300.4h0M439 310.8h0M422.7 321.5h0M431.4 307h0M444.2 308h0M441.1 293.2h0M432 323.7h0M434.5 307.7h0M435.5 308h0M425.6 302.1h0M429.2 321.2h0M441.4 311.6h0M443.5 306.3h0M418 308.1h0M436.6 314.8h0M437.7 324.9h0M446 318h0M424.4 308.4h0M434 308.4h0M424.8 316.7h0M430.1 317.2h0M436.3 304.8h0M428.4 293.5h0M414.6 294.8h0M430.8 307.7h0M447 335h0M442.8 297.3h0M427.3 328.6h0M435.3 310.4h0M430.6 300.2h0M418.9 327.3h0M440.7 305h0M440.5 315.6h0M441 285h0M427.8 303.8h0M433.3 314.9h0M438.6 307.9h0M433.1 321.7h0M428.5 303.3h0M429.1 286.1h0M445.9 328.8h0M424.5 307.5h0M443.3 326.2h0M438.3 305.8h0M437.9 304.3h0M428.9 318.3h0M430.4 299.4h0M434.9 303.7h0M440.3 300.8h0M429 305.6h0M420.7 316.1h0M416.6 285.6h0M434.4 309.4h0M426.5 303.6h0M431.7 289h0M423.5 330.8h0M435.4 326.6h0M449.7 317.3h0M435 312.9h0M438 312.5h0M434.5 288h0M433.1 304.2h0M434.5 311.8h0M434.4 309.3h0M443.7 315.6h0M438.7 293h0M434.4 314.5h0M441.8 305.8h0M434.9 328.7h0M432.3 326.2h0M427.9 320.7h0M425.9 299h0M418.3 303.2h0M436.2 301.7h0M430.5 320.5h0M427.9 323h0M422.7 309.3h0M426.4 308.9h0M442 334.5h0M439.6 307.4h0M443.6 301h0M432.7 316.5h0M435.9 332h0M436.5 323.1h0M461.2 330.8h0M434.3 339.5h0M438.4 322.4h0M417.3 294h0M438.3 298.5h0M424.1 296.1h0M438.9 309h0M431.3 308.1h0M429.5 305.5h0M435.8 297.9h0M434.4 304.9h0M422.9 312.4h0M423.5 303.2h0M425.2 315.2h0M431.9 308.2h0M438.1 308.3h0M433.9 330.9h0M431.1 322.5h0M446.5 298.7h0M432.8 317.6h0M442.3 284h0M431.3 297h0M431.7 329.1h0M438 292.9h0M429.3 326.3h0M432.9 321.1h0M432.3 289.4h0M438.3 296.7h0M426.5 314.9h0M424.1 306.6h0M437 293.6h0M442.3 326h0M430.4 309.6h0M452.3 313.3h0M430 309.9h0M444.4 310.9h0M434.1 308h0M424.4 313.7h0M434.3 294.4h0M423.5 319.4h0M437.6 303.6h0M435.2 321.9h0M420 304.6h0M423.5 324.7h0M436.5 299.5h0M417.3 313h0M430.2 310.8h0M423.7 300.7h0M438.7 305.7h0M436.7 309.7h0M442.9 308.4h0M430.9 281.6h0M427.9 312.1h0M438.3 323.6h0M423.9 332h0M429.2 320h0M428 317.3h0M432.7 320.4h0M427.9 300.6h0M423.1 317.4h0M421.3 313.4h0M440 302.3h0M434.6 302.4h0M448.8 310h0M442.7 312.1h0M436.5 323h0M430.8 314.1h0M438.4 333.6h0M436.8 305.7h0M420.4 324.6h0M443.1 307.1h0M427.7 332.4h0M434.9 306.8h0M433.5 320.1h0M427.8 295.2h0M430.5 315.2h0M434.8 291.8h0M422.6 318.2h0M424.7 329.2h0M428.1 307.9h0M426.6 307.6h0M435.9 335.2h0M435.6 307h0M421.8 315.5h0M433.9 299.3h0M428.2 321.1h0M447.1 286.2h0M435.6 310h0M434.4 320.4h0M439.1 321h0M432.9 322.5h0M439.8 311.2h0M431.2 307.8h0M418.2 287.2h0M442.6 303.2h0M427.4 297.4h0M440.5 310.6h0M427.8 309.7h0M422.5 303.3h0M436.4 297.6h0M439.9 330h0M442 312.9h0M442.6 327.1h0M454.6 333.1h0M435.6 298.7h0M430.2 316.2h0M435.7 319.1h0M455.6 332h0M420.7 309h0M440.7 307.2h0M431.9 318.4h0M436 303.8h0M454.5 337.9h0M417 305.3h0M433.9 308.1h0M426.5 308.4h0M446.6 321.4h0M440.3 331.8h0M439.6 317.5h0M438.9 315.3h0M434 297.1h0M430.1 297.6h0M433.5 304.8h0M427.4 314.5h0M432 315.6h0M426.5 323.9h0M435.7 323.3h0M420.4 302.5h0M421.4 321.5h0M439.5 322.7h0M452 318.5h0M436.3 322.7h0M429.8 297.1h0M444.8 306.2h0M440.8 317h0M440.4 326.9h0M434.3 322.3h0M437.2 287.8h0M434.9 306.2h0M430.9 320.9h0M436.7 322.5h0M433.4 329.7h0M437.4 315.5h0M437.7 306.4h0M436.7 299.7h0M435.2 312.7h0M443.1 340h0M436.6 347.6h0M439.9 298.8h0M439 291h0M428.3 306.2h0M440 311.5h0M445.3 308.9h0M435.6 310.4h0M443.2 288.1h0M433.7 313.2h0M441.5 336.8h0M438.7 338.7h0M428.6 304.2h0M440.6 320.5h0M447.2 293.1h0M432.9 319.1h0M442.5 312.6h0M445.3 304.8h0M424.8 294.5h0M440.2 295.4h0M419.9 325.6h0M432.6 282.1h0M436.4 314h0M434.4 320.2h0M436.9 314.9h0M435.3 300.4h0M433.9 317.4h0M436.3 326.3h0M429.8 307.3h0M452 323.6h0M420.6 330h0M430.4 323.2h0M442.3 302.5h0M436.3 302.8h0M448.5 310.1h0M427.6 304h0M432 314.2h0M432.7 334.3h0M438.9 309.3h0M444.6 307.8h0M431 285.4h0M431.9 311.3h0M431.3 323.3h0M436.7 311.8h0M457 314.2h0M431.1 303.1h0M433.5 292.1h0M443.3 311.2h0M430.8 309.1h0M429.9 309.3h0M440.4 318.7h0M448.1 315.4h0M427.9 308.8h0M425.6 318.7h0M425.7 320.4h0M430.7 293.6h0M448.1 315.7h0M430.5 294.8h0M444.2 319.8h0M440.7 320.1h0M422.6 333h0M439.2 317.6h0M425.8 315.5h0M428.7 334.5h0M435.4 303.2h0M426 333.2h0M435.6 318.6h0M436.7 313.9h0M434.2 306h0M429.6 293.5h0M418.1 323h0M442.6 311.2h0M439.5 298.2h0M430 317.4h0M441.2 311.1h0M421.4 310.7h0M437.6 302.3h0M435.9 334.1h0M444.3 321.9h0M419.8 310.1h0M438.6 315.9h0M428.5 304h0M439.5 317.2h0M426.2 296.4h0M449.7 328.4h0M435 311.5h0M427.2 334.2h0M438.8 300.7h0"/></g>
<text x="2.62" y="22" font-size="24.27" textLength="19.81" lengthAdjust="spacingAndGlyphs" stroke="#000" stroke-width="0.6">A</text>
<text x="153.41" y="49" font-size="26.02" textLength="46.87" lengthAdjust="spacingAndGlyphs" stroke="#000" stroke-width="0.6">BSA</text>
<text x="337.57" y="49" font-size="24.42" textLength="107.49" lengthAdjust="spacingAndGlyphs" stroke="#000" stroke-width="0.6">5d G-CSF</text>
<text x="4.28" y="131.1" font-size="25" textLength="34.36" lengthAdjust="spacingAndGlyphs" stroke="#000" stroke-width="0.6">WT</text>
<text x="4.24" y="342.9" font-size="24.13" textLength="34.94" lengthAdjust="spacingAndGlyphs" stroke="#000" stroke-width="0.6">KO</text>
<text transform="translate(51.75 295.15) rotate(-90)" x="-0.84" y="0" font-size="18.9" textLength="99.55" lengthAdjust="spacingAndGlyphs" stroke="#000" stroke-width="0.5">CD11b-PE</text>
<text x="239.45" y="505.55" font-size="19.33" textLength="89.83" lengthAdjust="spacingAndGlyphs" stroke="#000" stroke-width="0.5">Gr-1-FITC</text>
<line x1="56.7" y1="443.5" x2="56.7" y2="84" stroke="#222" stroke-width="1.3"/>
<path d="M54.5 85.5 L56.7 76.5 L58.9 85.5 Z" fill="#111"/>
<line x1="88.3" y1="484.5" x2="444" y2="484.5" stroke="#222" stroke-width="1.3"/>
<path d="M443 482 L452.5 484.5 L443 487 Z" fill="#111"/>
<line x1="87.3" y1="233.8" x2="269" y2="233.8" stroke="#111" stroke-width="1.3"/>
<path d="M87.5 233.8v5M93.5 233.8v5M97.5 233.8v5M101.5 233.8v5M104.5 233.8v5M107.5 233.8v5M109.5 233.8v5M112.5 233.8v9M126.5 233.8v5M134.5 233.8v5M140.5 233.8v5M144.5 233.8v5M148.5 233.8v5M151.5 233.8v5M154.5 233.8v5M156.5 233.8v5M158.5 233.8v9M172.5 233.8v5M180.5 233.8v5M185.5 233.8v5M189.5 233.8v5M193.5 233.8v5M196.5 233.8v5M199.5 233.8v5M201.5 233.8v5M203.5 233.8v9M217.5 233.8v5M225.5 233.8v5M231.5 233.8v5M235.5 233.8v5M239.5 233.8v5M242.5 233.8v5M245.5 233.8v5M247.5 233.8v5M249.5 233.8v9M263.5 233.8v5" stroke="#111" stroke-width="1.2" fill="none"/>
<path d="M83.4 230.5h3.3M83.4 225.5h3.3M83.4 220.5h3.3M83.4 217.5h3.3M83.4 214.5h3.3M83.4 211.5h3.3M83.4 209.5h3.3M79.2 207.5h7.6M83.4 193.5h3.3M83.4 185.5h3.3M83.4 180.5h3.3M83.4 175.5h3.3M83.4 172.5h3.3M83.4 169.5h3.3M83.4 166.5h3.3M83.4 164.5h3.3M79.2 162.5h7.6M83.4 149.5h3.3M83.4 141.5h3.3M83.4 135.5h3.3M83.4 131.5h3.3M83.4 127.5h3.3M83.4 125.5h3.3M83.4 122.5h3.3M83.4 120.5h3.3M79.2 118.5h7.6M83.4 104.5h3.3M83.4 96.5h3.3M83.4 90.5h3.3M83.4 85.5h3.3M83.4 82.5h3.3M83.4 79.5h3.3M83.4 76.5h3.3M83.4 74.5h3.3M79.2 72.5h7.6M83.4 58.5h3.3" stroke="#111" stroke-width="1.3" fill="none"/>
<text x="106.18" y="254.6" font-size="10.61" textLength="7.5" lengthAdjust="spacingAndGlyphs" stroke="#000" stroke-width="0.4">10</text>
<text x="114.2" y="248.33" font-size="7.49" textLength="4.33" lengthAdjust="spacingAndGlyphs" stroke="#000" stroke-width="0.15">2</text>
<text x="152.88" y="254.6" font-size="10.61" textLength="7.5" lengthAdjust="spacingAndGlyphs" stroke="#000" stroke-width="0.4">10</text>
<text x="161" y="248.33" font-size="7.49" textLength="4.2" lengthAdjust="spacingAndGlyphs" stroke="#000" stroke-width="0.15">3</text>
<text x="197.58" y="254.6" font-size="10.61" textLength="7.5" lengthAdjust="spacingAndGlyphs" stroke="#000" stroke-width="0.4">10</text>
<text x="205.77" y="248.33" font-size="7.49" textLength="3.89" lengthAdjust="spacingAndGlyphs" stroke="#000" stroke-width="0.15">4</text>
<text x="243.98" y="254.6" font-size="10.61" textLength="7.5" lengthAdjust="spacingAndGlyphs" stroke="#000" stroke-width="0.4">10</text>
<text x="252.04" y="248.33" font-size="7.49" textLength="4.19" lengthAdjust="spacingAndGlyphs" stroke="#000" stroke-width="0.15">5</text>
<text transform="translate(77.4 212.1) rotate(-90)" x="-0.45" y="0" font-size="9.01" textLength="7.94" lengthAdjust="spacingAndGlyphs" stroke="#000" stroke-width="0.4">10</text>
<text transform="translate(72.1 203.3) rotate(-90)" x="-0.27" y="0" font-size="8.72" textLength="4.39" lengthAdjust="spacingAndGlyphs" stroke="#000" stroke-width="0.2">2</text>
<text transform="translate(77.4 167.1) rotate(-90)" x="-0.45" y="0" font-size="9.01" textLength="7.94" lengthAdjust="spacingAndGlyphs" stroke="#000" stroke-width="0.4">10</text>
<text transform="translate(72.1 158.3) rotate(-90)" x="-0.18" y="0" font-size="8.72" textLength="4.25" lengthAdjust="spacingAndGlyphs" stroke="#000" stroke-width="0.2">3</text>
<text transform="translate(77.4 123) rotate(-90)" x="-0.45" y="0" font-size="9.01" textLength="7.94" lengthAdjust="spacingAndGlyphs" stroke="#000" stroke-width="0.4">10</text>
<text transform="translate(72.1 114.2) rotate(-90)" x="-0.11" y="0" font-size="8.72" textLength="3.95" lengthAdjust="spacingAndGlyphs" stroke="#000" stroke-width="0.2">4</text>
<text transform="translate(77.4 76.9) rotate(-90)" x="-0.45" y="0" font-size="9.01" textLength="7.94" lengthAdjust="spacingAndGlyphs" stroke="#000" stroke-width="0.4">10</text>
<text transform="translate(72.1 68.1) rotate(-90)" x="-0.23" y="0" font-size="8.72" textLength="4.25" lengthAdjust="spacingAndGlyphs" stroke="#000" stroke-width="0.2">5</text>
<line x1="158.7" y1="55" x2="158.7" y2="233.8" stroke="#111" stroke-width="1.3"/>
<line x1="82" y1="172.6" x2="269" y2="172.6" stroke="#111" stroke-width="1.3"/>
<rect x="163.8" y="64.8" width="82.9" height="82.5" fill="none" stroke="#111" stroke-width="1.8"/>
<line x1="204.7" y1="64.8" x2="204.7" y2="147.3" stroke="#111" stroke-width="1.8"/>
<text x="171.44" y="144" font-size="13.81" textLength="22.04" lengthAdjust="spacingAndGlyphs" stroke="#000" stroke-width="0.5">3.3</text>
<text x="210.63" y="144" font-size="13.81" textLength="29.99" lengthAdjust="spacingAndGlyphs" stroke="#000" stroke-width="0.5">10.2</text>
<text x="160.8" y="169.1" font-size="15.12" textLength="27.78" lengthAdjust="spacingAndGlyphs" stroke="#000" stroke-width="0.5">15.4</text>
<line x1="295.6" y1="233.8" x2="477.3" y2="233.8" stroke="#111" stroke-width="1.3"/>
<path d="M295.5 233.8v5M301.5 233.8v5M306.5 233.8v5M309.5 233.8v5M313.5 233.8v5M315.5 233.8v5M318.5 233.8v5M320.5 233.8v9M334.5 233.8v5M342.5 233.8v5M348.5 233.8v5M352.5 233.8v5M356.5 233.8v5M359.5 233.8v5M362.5 233.8v5M364.5 233.8v5M367.5 233.8v9M380.5 233.8v5M388.5 233.8v5M393.5 233.8v5M398.5 233.8v5M401.5 233.8v5M404.5 233.8v5M407.5 233.8v5M409.5 233.8v5M411.5 233.8v9M425.5 233.8v5M433.5 233.8v5M439.5 233.8v5M444.5 233.8v5M447.5 233.8v5M450.5 233.8v5M453.5 233.8v5M455.5 233.8v5M458.5 233.8v9M472.5 233.8v5" stroke="#111" stroke-width="1.2" fill="none"/>
<path d="M291.7 230.5h3.3M291.7 225.5h3.3M291.7 220.5h3.3M291.7 217.5h3.3M291.7 214.5h3.3M291.7 211.5h3.3M291.7 209.5h3.3M287.5 207.5h7.6M291.7 193.5h3.3M291.7 185.5h3.3M291.7 180.5h3.3M291.7 175.5h3.3M291.7 172.5h3.3M291.7 169.5h3.3M291.7 166.5h3.3M291.7 164.5h3.3M287.5 162.5h7.6M291.7 149.5h3.3M291.7 141.5h3.3M291.7 135.5h3.3M291.7 131.5h3.3M291.7 127.5h3.3M291.7 125.5h3.3M291.7 122.5h3.3M291.7 120.5h3.3M287.5 118.5h7.6M291.7 104.5h3.3M291.7 96.5h3.3M291.7 90.5h3.3M291.7 85.5h3.3M291.7 82.5h3.3M291.7 79.5h3.3M291.7 76.5h3.3M291.7 74.5h3.3M287.5 72.5h7.6M291.7 58.5h3.3" stroke="#111" stroke-width="1.3" fill="none"/>
<text x="314.48" y="254.6" font-size="10.61" textLength="7.5" lengthAdjust="spacingAndGlyphs" stroke="#000" stroke-width="0.4">10</text>
<text x="322.5" y="248.33" font-size="7.49" textLength="4.33" lengthAdjust="spacingAndGlyphs" stroke="#000" stroke-width="0.15">2</text>
<text x="361.18" y="254.6" font-size="10.61" textLength="7.5" lengthAdjust="spacingAndGlyphs" stroke="#000" stroke-width="0.4">10</text>
<text x="369.3" y="248.33" font-size="7.49" textLength="4.2" lengthAdjust="spacingAndGlyphs" stroke="#000" stroke-width="0.15">3</text>
<text x="405.88" y="254.6" font-size="10.61" textLength="7.5" lengthAdjust="spacingAndGlyphs" stroke="#000" stroke-width="0.4">10</text>
<text x="414.07" y="248.33" font-size="7.49" textLength="3.89" lengthAdjust="spacingAndGlyphs" stroke="#000" stroke-width="0.15">4</text>
<text x="452.28" y="254.6" font-size="10.61" textLength="7.5" lengthAdjust="spacingAndGlyphs" stroke="#000" stroke-width="0.4">10</text>
<text x="460.34" y="248.33" font-size="7.49" textLength="4.19" lengthAdjust="spacingAndGlyphs" stroke="#000" stroke-width="0.15">5</text>
<text transform="translate(285.7 212.1) rotate(-90)" x="-0.45" y="0" font-size="9.01" textLength="7.94" lengthAdjust="spacingAndGlyphs" stroke="#000" stroke-width="0.4">10</text>
<text transform="translate(280.4 203.3) rotate(-90)" x="-0.27" y="0" font-size="8.72" textLength="4.39" lengthAdjust="spacingAndGlyphs" stroke="#000" stroke-width="0.2">2</text>
<text transform="translate(285.7 167.1) rotate(-90)" x="-0.45" y="0" font-size="9.01" textLength="7.94" lengthAdjust="spacingAndGlyphs" stroke="#000" stroke-width="0.4">10</text>
<text transform="translate(280.4 158.3) rotate(-90)" x="-0.18" y="0" font-size="8.72" textLength="4.25" lengthAdjust="spacingAndGlyphs" stroke="#000" stroke-width="0.2">3</text>
<text transform="translate(285.7 123) rotate(-90)" x="-0.45" y="0" font-size="9.01" textLength="7.94" lengthAdjust="spacingAndGlyphs" stroke="#000" stroke-width="0.4">10</text>
<text transform="translate(280.4 114.2) rotate(-90)" x="-0.11" y="0" font-size="8.72" textLength="3.95" lengthAdjust="spacingAndGlyphs" stroke="#000" stroke-width="0.2">4</text>
<text transform="translate(285.7 76.9) rotate(-90)" x="-0.45" y="0" font-size="9.01" textLength="7.94" lengthAdjust="spacingAndGlyphs" stroke="#000" stroke-width="0.4">10</text>
<text transform="translate(280.4 68.1) rotate(-90)" x="-0.23" y="0" font-size="8.72" textLength="4.25" lengthAdjust="spacingAndGlyphs" stroke="#000" stroke-width="0.2">5</text>
<line x1="366.6" y1="55" x2="366.6" y2="233.8" stroke="#111" stroke-width="1.3"/>
<line x1="290.3" y1="172.6" x2="477.3" y2="172.6" stroke="#111" stroke-width="1.3"/>
<rect x="372.6" y="64.6" width="82.4" height="83.2" fill="none" stroke="#111" stroke-width="1.8"/>
<line x1="414.2" y1="64.6" x2="414.2" y2="147.8" stroke="#111" stroke-width="1.8"/>
<text x="378.97" y="144.2" font-size="14.68" textLength="28.13" lengthAdjust="spacingAndGlyphs" stroke="#000" stroke-width="0.5">35.1</text>
<text x="421.44" y="144.2" font-size="14.68" textLength="22.34" lengthAdjust="spacingAndGlyphs" stroke="#000" stroke-width="0.5">9.3</text>
<text x="369.37" y="169.2" font-size="15.12" textLength="29.99" lengthAdjust="spacingAndGlyphs" stroke="#000" stroke-width="0.5">46.6</text>
<line x1="87.3" y1="444.5" x2="269" y2="444.5" stroke="#111" stroke-width="1.3"/>
<path d="M87.5 444.5v5M93.5 444.5v5M97.5 444.5v5M101.5 444.5v5M104.5 444.5v5M107.5 444.5v5M109.5 444.5v5M112.5 444.5v9M126.5 444.5v5M134.5 444.5v5M140.5 444.5v5M144.5 444.5v5M148.5 444.5v5M151.5 444.5v5M154.5 444.5v5M156.5 444.5v5M158.5 444.5v9M172.5 444.5v5M180.5 444.5v5M185.5 444.5v5M189.5 444.5v5M193.5 444.5v5M196.5 444.5v5M199.5 444.5v5M201.5 444.5v5M203.5 444.5v9M217.5 444.5v5M225.5 444.5v5M231.5 444.5v5M235.5 444.5v5M239.5 444.5v5M242.5 444.5v5M245.5 444.5v5M247.5 444.5v5M249.5 444.5v9M263.5 444.5v5" stroke="#111" stroke-width="1.2" fill="none"/>
<path d="M83.4 441.5h3.3M83.4 435.5h3.3M83.4 431.5h3.3M83.4 427.5h3.3M83.4 424.5h3.3M83.4 422.5h3.3M83.4 420.5h3.3M79.2 418.5h7.6M83.4 404.5h3.3M83.4 396.5h3.3M83.4 390.5h3.3M83.4 386.5h3.3M83.4 382.5h3.3M83.4 379.5h3.3M83.4 377.5h3.3M83.4 375.5h3.3M79.2 373.5h7.6M83.4 359.5h3.3M83.4 351.5h3.3M83.4 346.5h3.3M83.4 342.5h3.3M83.4 338.5h3.3M83.4 335.5h3.3M83.4 333.5h3.3M83.4 330.5h3.3M79.2 328.5h7.6M83.4 315.5h3.3M83.4 306.5h3.3M83.4 301.5h3.3M83.4 296.5h3.3M83.4 293.5h3.3M83.4 289.5h3.3M83.4 287.5h3.3M83.4 284.5h3.3M79.2 282.5h7.6M83.4 268.5h3.3" stroke="#111" stroke-width="1.3" fill="none"/>
<text x="106.18" y="465.3" font-size="10.61" textLength="7.5" lengthAdjust="spacingAndGlyphs" stroke="#000" stroke-width="0.4">10</text>
<text x="114.2" y="459.03" font-size="7.49" textLength="4.33" lengthAdjust="spacingAndGlyphs" stroke="#000" stroke-width="0.15">2</text>
<text x="152.88" y="465.3" font-size="10.61" textLength="7.5" lengthAdjust="spacingAndGlyphs" stroke="#000" stroke-width="0.4">10</text>
<text x="161" y="459.03" font-size="7.49" textLength="4.2" lengthAdjust="spacingAndGlyphs" stroke="#000" stroke-width="0.15">3</text>
<text x="197.58" y="465.3" font-size="10.61" textLength="7.5" lengthAdjust="spacingAndGlyphs" stroke="#000" stroke-width="0.4">10</text>
<text x="205.77" y="459.03" font-size="7.49" textLength="3.89" lengthAdjust="spacingAndGlyphs" stroke="#000" stroke-width="0.15">4</text>
<text x="243.98" y="465.3" font-size="10.61" textLength="7.5" lengthAdjust="spacingAndGlyphs" stroke="#000" stroke-width="0.4">10</text>
<text x="252.04" y="459.03" font-size="7.49" textLength="4.19" lengthAdjust="spacingAndGlyphs" stroke="#000" stroke-width="0.15">5</text>
<text transform="translate(77.4 422.8) rotate(-90)" x="-0.45" y="0" font-size="9.01" textLength="7.94" lengthAdjust="spacingAndGlyphs" stroke="#000" stroke-width="0.4">10</text>
<text transform="translate(72.1 414) rotate(-90)" x="-0.27" y="0" font-size="8.72" textLength="4.39" lengthAdjust="spacingAndGlyphs" stroke="#000" stroke-width="0.2">2</text>
<text transform="translate(77.4 377.8) rotate(-90)" x="-0.45" y="0" font-size="9.01" textLength="7.94" lengthAdjust="spacingAndGlyphs" stroke="#000" stroke-width="0.4">10</text>
<text transform="translate(72.1 369) rotate(-90)" x="-0.18" y="0" font-size="8.72" textLength="4.25" lengthAdjust="spacingAndGlyphs" stroke="#000" stroke-width="0.2">3</text>
<text transform="translate(77.4 333.7) rotate(-90)" x="-0.45" y="0" font-size="9.01" textLength="7.94" lengthAdjust="spacingAndGlyphs" stroke="#000" stroke-width="0.4">10</text>
<text transform="translate(72.1 324.9) rotate(-90)" x="-0.11" y="0" font-size="8.72" textLength="3.95" lengthAdjust="spacingAndGlyphs" stroke="#000" stroke-width="0.2">4</text>
<text transform="translate(77.4 287.6) rotate(-90)" x="-0.45" y="0" font-size="9.01" textLength="7.94" lengthAdjust="spacingAndGlyphs" stroke="#000" stroke-width="0.4">10</text>
<text transform="translate(72.1 278.8) rotate(-90)" x="-0.23" y="0" font-size="8.72" textLength="4.25" lengthAdjust="spacingAndGlyphs" stroke="#000" stroke-width="0.2">5</text>
<line x1="158.7" y1="265.7" x2="158.7" y2="444.5" stroke="#111" stroke-width="1.3"/>
<line x1="82" y1="383.3" x2="269" y2="383.3" stroke="#111" stroke-width="1.3"/>
<rect x="164.1" y="276" width="82.4" height="82.2" fill="none" stroke="#111" stroke-width="1.8"/>
<line x1="204.8" y1="276" x2="204.8" y2="358.2" stroke="#111" stroke-width="1.8"/>
<text x="168.3" y="355.1" font-size="14.68" textLength="30.85" lengthAdjust="spacingAndGlyphs" stroke="#000" stroke-width="0.5">10.0</text>
<text x="207.9" y="355.1" font-size="14.68" textLength="30.87" lengthAdjust="spacingAndGlyphs" stroke="#000" stroke-width="0.5">18.3</text>
<text x="161.05" y="380.2" font-size="15.26" textLength="29.66" lengthAdjust="spacingAndGlyphs" stroke="#000" stroke-width="0.5">31.2</text>
<line x1="295.6" y1="444.5" x2="477.3" y2="444.5" stroke="#111" stroke-width="1.3"/>
<path d="M295.5 444.5v5M301.5 444.5v5M306.5 444.5v5M309.5 444.5v5M313.5 444.5v5M315.5 444.5v5M318.5 444.5v5M320.5 444.5v9M334.5 444.5v5M342.5 444.5v5M348.5 444.5v5M352.5 444.5v5M356.5 444.5v5M359.5 444.5v5M362.5 444.5v5M364.5 444.5v5M367.5 444.5v9M380.5 444.5v5M388.5 444.5v5M393.5 444.5v5M398.5 444.5v5M401.5 444.5v5M404.5 444.5v5M407.5 444.5v5M409.5 444.5v5M411.5 444.5v9M425.5 444.5v5M433.5 444.5v5M439.5 444.5v5M444.5 444.5v5M447.5 444.5v5M450.5 444.5v5M453.5 444.5v5M455.5 444.5v5M458.5 444.5v9M472.5 444.5v5" stroke="#111" stroke-width="1.2" fill="none"/>
<path d="M291.7 441.5h3.3M291.7 435.5h3.3M291.7 431.5h3.3M291.7 427.5h3.3M291.7 424.5h3.3M291.7 422.5h3.3M291.7 420.5h3.3M287.5 418.5h7.6M291.7 404.5h3.3M291.7 396.5h3.3M291.7 390.5h3.3M291.7 386.5h3.3M291.7 382.5h3.3M291.7 379.5h3.3M291.7 377.5h3.3M291.7 375.5h3.3M287.5 373.5h7.6M291.7 359.5h3.3M291.7 351.5h3.3M291.7 346.5h3.3M291.7 342.5h3.3M291.7 338.5h3.3M291.7 335.5h3.3M291.7 333.5h3.3M291.7 330.5h3.3M287.5 328.5h7.6M291.7 315.5h3.3M291.7 306.5h3.3M291.7 301.5h3.3M291.7 296.5h3.3M291.7 293.5h3.3M291.7 289.5h3.3M291.7 287.5h3.3M291.7 284.5h3.3M287.5 282.5h7.6M291.7 268.5h3.3" stroke="#111" stroke-width="1.3" fill="none"/>
<text x="314.48" y="465.3" font-size="10.61" textLength="7.5" lengthAdjust="spacingAndGlyphs" stroke="#000" stroke-width="0.4">10</text>
<text x="322.5" y="459.03" font-size="7.49" textLength="4.33" lengthAdjust="spacingAndGlyphs" stroke="#000" stroke-width="0.15">2</text>
<text x="361.18" y="465.3" font-size="10.61" textLength="7.5" lengthAdjust="spacingAndGlyphs" stroke="#000" stroke-width="0.4">10</text>
<text x="369.3" y="459.03" font-size="7.49" textLength="4.2" lengthAdjust="spacingAndGlyphs" stroke="#000" stroke-width="0.15">3</text>
<text x="405.88" y="465.3" font-size="10.61" textLength="7.5" lengthAdjust="spacingAndGlyphs" stroke="#000" stroke-width="0.4">10</text>
<text x="414.07" y="459.03" font-size="7.49" textLength="3.89" lengthAdjust="spacingAndGlyphs" stroke="#000" stroke-width="0.15">4</text>
<text x="452.28" y="465.3" font-size="10.61" textLength="7.5" lengthAdjust="spacingAndGlyphs" stroke="#000" stroke-width="0.4">10</text>
<text x="460.34" y="459.03" font-size="7.49" textLength="4.19" lengthAdjust="spacingAndGlyphs" stroke="#000" stroke-width="0.15">5</text>
<text transform="translate(285.7 422.8) rotate(-90)" x="-0.45" y="0" font-size="9.01" textLength="7.94" lengthAdjust="spacingAndGlyphs" stroke="#000" stroke-width="0.4">10</text>
<text transform="translate(280.4 414) rotate(-90)" x="-0.27" y="0" font-size="8.72" textLength="4.39" lengthAdjust="spacingAndGlyphs" stroke="#000" stroke-width="0.2">2</text>
<text transform="translate(285.7 377.8) rotate(-90)" x="-0.45" y="0" font-size="9.01" textLength="7.94" lengthAdjust="spacingAndGlyphs" stroke="#000" stroke-width="0.4">10</text>
<text transform="translate(280.4 369) rotate(-90)" x="-0.18" y="0" font-size="8.72" textLength="4.25" lengthAdjust="spacingAndGlyphs" stroke="#000" stroke-width="0.2">3</text>
<text transform="translate(285.7 333.7) rotate(-90)" x="-0.45" y="0" font-size="9.01" textLength="7.94" lengthAdjust="spacingAndGlyphs" stroke="#000" stroke-width="0.4">10</text>
<text transform="translate(280.4 324.9) rotate(-90)" x="-0.11" y="0" font-size="8.72" textLength="3.95" lengthAdjust="spacingAndGlyphs" stroke="#000" stroke-width="0.2">4</text>
<text transform="translate(285.7 287.6) rotate(-90)" x="-0.45" y="0" font-size="9.01" textLength="7.94" lengthAdjust="spacingAndGlyphs" stroke="#000" stroke-width="0.4">10</text>
<text transform="translate(280.4 278.8) rotate(-90)" x="-0.23" y="0" font-size="8.72" textLength="4.25" lengthAdjust="spacingAndGlyphs" stroke="#000" stroke-width="0.2">5</text>
<line x1="366.6" y1="265.7" x2="366.6" y2="444.5" stroke="#111" stroke-width="1.3"/>
<line x1="290.3" y1="383.3" x2="477.3" y2="383.3" stroke="#111" stroke-width="1.3"/>
<rect x="373.8" y="276" width="82.1" height="82.1" fill="none" stroke="#111" stroke-width="1.8"/>
<line x1="414.6" y1="276" x2="414.6" y2="358.1" stroke="#111" stroke-width="1.8"/>
<text x="382.35" y="355.1" font-size="14.68" textLength="21.88" lengthAdjust="spacingAndGlyphs" stroke="#000" stroke-width="0.5">9.5</text>
<text x="419.71" y="355.1" font-size="14.68" textLength="30.94" lengthAdjust="spacingAndGlyphs" stroke="#000" stroke-width="0.5">58.0</text>
<text x="370.34" y="380.2" font-size="15.26" textLength="29.83" lengthAdjust="spacingAndGlyphs" stroke="#000" stroke-width="0.5">69.8</text>
<path d="M88.5 443.6H158.5M296 443.6H366.5" stroke="#b03c20" stroke-width="1.5"/>
<path d="M88.5 233.6H150" stroke="#802818" stroke-width="1.4" opacity="0.8"/>
<path d="M296 233.6H366" stroke="#a04020" stroke-width="1.4" opacity="0.8"/>
<path d="M160 443.6H200M368 443.6H408" stroke="#78c040" stroke-width="1.3" opacity="0.7"/>
<path d="M210 443.6H240M418 443.6H445" stroke="#4098d0" stroke-width="1.3" opacity="0.7"/>
<rect x="54.2" y="682.6" width="10.7" height="0.4" fill="#6aec1e"/>
<rect x="64.9" y="680.4" width="10.7" height="2.6" fill="#4cc8f4"/>
<line x1="70.25" y1="680.4" x2="70.25" y2="679.4" stroke="#111" stroke-width="1.3"/>
<path d="M68.05 678.8h4.4l-2.2 2.4z" fill="#111"/>
<rect x="75.9" y="679.8" width="11" height="3.2" fill="#000"/>
<line x1="81.4" y1="679.8" x2="81.4" y2="678.9" stroke="#111" stroke-width="1.3"/>
<path d="M79.2 678.3h4.4l-2.2 2.4z" fill="#111"/>
<rect x="102.8" y="682.6" width="10.7" height="0.4" fill="#6aec1e"/>
<rect x="113.5" y="675.2" width="10.7" height="7.8" fill="#4cc8f4"/>
<line x1="118.85" y1="675.2" x2="118.85" y2="673.3" stroke="#111" stroke-width="1.3"/>
<path d="M116.65 672.7h4.4l-2.2 2.4z" fill="#111"/>
<rect x="124.5" y="674.6" width="11" height="8.4" fill="#000"/>
<line x1="130" y1="674.6" x2="130" y2="672.8" stroke="#111" stroke-width="1.3"/>
<path d="M127.8 672.2h4.4l-2.2 2.4z" fill="#111"/>
<rect x="151.9" y="660.4" width="10.7" height="22.6" fill="#6aec1e"/>
<line x1="157.25" y1="660.4" x2="157.25" y2="657.3" stroke="#111" stroke-width="1.3"/>
<path d="M155.05 656.7h4.4l-2.2 2.4z" fill="#111"/>
<rect x="162.6" y="670.9" width="10.7" height="12.1" fill="#4cc8f4"/>
<line x1="167.95" y1="670.9" x2="167.95" y2="667.8" stroke="#111" stroke-width="1.3"/>
<path d="M165.75 667.2h4.4l-2.2 2.4z" fill="#111"/>
<rect x="173.6" y="645.3" width="11" height="37.7" fill="#000"/>
<line x1="179.1" y1="645.3" x2="179.1" y2="639.6" stroke="#111" stroke-width="1.3"/>
<path d="M176.9 639h4.4l-2.2 2.4z" fill="#111"/>
<rect x="201.3" y="676.5" width="10.7" height="6.5" fill="#6aec1e"/>
<line x1="206.65" y1="676.5" x2="206.65" y2="674.6" stroke="#111" stroke-width="1.3"/>
<path d="M204.45 674h4.4l-2.2 2.4z" fill="#111"/>
<rect x="212" y="613.3" width="10.7" height="69.7" fill="#4cc8f4"/>
<line x1="217.35" y1="613.3" x2="217.35" y2="597.8" stroke="#111" stroke-width="1.3"/>
<path d="M215.15 597.2h4.4l-2.2 2.4z" fill="#111"/>
<rect x="223" y="605.8" width="11" height="77.2" fill="#000"/>
<line x1="228.5" y1="605.8" x2="228.5" y2="590" stroke="#111" stroke-width="1.3"/>
<path d="M226.3 589.4h4.4l-2.2 2.4z" fill="#111"/>
<path d="M45.5 683V570.9H241.8V683" fill="none" stroke="#4a4a4a" stroke-width="1.2"/>
<line x1="44.9" y1="683" x2="242.4" y2="683" stroke="#333" stroke-width="1.5"/>
<text x="34.48" y="685.43" font-size="7.05" textLength="4.58" lengthAdjust="spacingAndGlyphs" stroke="#000" stroke-width="0.35">0</text>
<text x="29.41" y="666.74" font-size="7.05" textLength="9.67" lengthAdjust="spacingAndGlyphs" stroke="#000" stroke-width="0.35">10</text>
<text x="29.66" y="648.06" font-size="7.05" textLength="9.41" lengthAdjust="spacingAndGlyphs" stroke="#000" stroke-width="0.35">20</text>
<text x="29.77" y="629.38" font-size="7.05" textLength="9.3" lengthAdjust="spacingAndGlyphs" stroke="#000" stroke-width="0.35">30</text>
<text x="29.83" y="610.69" font-size="7.05" textLength="9.23" lengthAdjust="spacingAndGlyphs" stroke="#000" stroke-width="0.35">40</text>
<text x="29.7" y="592.01" font-size="7.05" textLength="9.37" lengthAdjust="spacingAndGlyphs" stroke="#000" stroke-width="0.35">50</text>
<text x="29.65" y="573.33" font-size="7.05" textLength="9.43" lengthAdjust="spacingAndGlyphs" stroke="#000" stroke-width="0.35">60</text>
<text x="65.57" y="692.73" font-size="8.36" textLength="11.23" lengthAdjust="spacingAndGlyphs" stroke="#000" stroke-width="0.35">WT</text>
<text x="113.66" y="692.73" font-size="8.36" textLength="11.48" lengthAdjust="spacingAndGlyphs" stroke="#000" stroke-width="0.35">KO</text>
<text x="162.07" y="692.73" font-size="8.36" textLength="10.73" lengthAdjust="spacingAndGlyphs" stroke="#000" stroke-width="0.35">WT</text>
<text x="212.36" y="692.73" font-size="8.36" textLength="11.59" lengthAdjust="spacingAndGlyphs" stroke="#000" stroke-width="0.35">KO</text>
<text x="86.18" y="704.83" font-size="7.92" textLength="15.75" lengthAdjust="spacingAndGlyphs" stroke="#000" stroke-width="0.35">BSA</text>
<text x="175.34" y="704.83" font-size="7.92" textLength="34.16" lengthAdjust="spacingAndGlyphs" stroke="#000" stroke-width="0.35">5d G-CSF</text>
<line x1="57.3" y1="696.3" x2="130.8" y2="696.3" stroke="#444" stroke-width="1.2"/>
<line x1="157.5" y1="696.3" x2="228.1" y2="696.3" stroke="#444" stroke-width="1.2"/>
<text transform="translate(10.6 682.5) rotate(-90)" x="-0.24" y="0" font-size="9.6" textLength="113.21" lengthAdjust="spacingAndGlyphs" stroke="#000" stroke-width="0.3">Absolute neutrophil level</text>
<text transform="translate(21.3 662.5) rotate(-90)" x="-0.67" y="0" font-size="9.6" textLength="73.14" lengthAdjust="spacingAndGlyphs" stroke="#000" stroke-width="0.3">in blood (x10<tspan font-size="5.4" dy="-3.5">9</tspan><tspan dy="3.5">/L)</tspan></text>
<rect x="332.9" y="684.4" width="10.6" height="0.8" fill="#6aec1e"/>
<rect x="343.5" y="684.4" width="10.6" height="0.8" fill="#4cc8f4"/>
<rect x="354.4" y="682.7" width="10.9" height="2.5" fill="#000"/>
<rect x="380.6" y="681.7" width="10.6" height="3.5" fill="#6aec1e"/>
<rect x="391.2" y="680.4" width="10.6" height="4.8" fill="#4cc8f4"/>
<rect x="402.1" y="677.9" width="10.9" height="7.3" fill="#000"/>
<rect x="428.1" y="655" width="10.6" height="30.2" fill="#6aec1e"/>
<line x1="433.4" y1="655" x2="433.4" y2="646" stroke="#111" stroke-width="1.3"/>
<path d="M431.2 645.4h4.4l-2.2 2.4z" fill="#111"/>
<rect x="438.7" y="674.2" width="10.6" height="11" fill="#4cc8f4"/>
<line x1="444" y1="674.2" x2="444" y2="672" stroke="#111" stroke-width="1.3"/>
<path d="M441.8 671.4h4.4l-2.2 2.4z" fill="#111"/>
<rect x="449.6" y="639.2" width="10.9" height="46" fill="#000"/>
<line x1="455.05" y1="639.2" x2="455.05" y2="627.5" stroke="#111" stroke-width="1.3"/>
<path d="M452.85 626.9h4.4l-2.2 2.4z" fill="#111"/>
<rect x="475.8" y="671.3" width="10.6" height="13.9" fill="#6aec1e"/>
<line x1="481.1" y1="671.3" x2="481.1" y2="665.6" stroke="#111" stroke-width="1.3"/>
<path d="M478.9 665h4.4l-2.2 2.4z" fill="#111"/>
<rect x="486.4" y="632.9" width="10.6" height="52.3" fill="#4cc8f4"/>
<line x1="491.7" y1="632.9" x2="491.7" y2="613.3" stroke="#111" stroke-width="1.3"/>
<path d="M489.5 612.7h4.4l-2.2 2.4z" fill="#111"/>
<rect x="497.3" y="617.1" width="10.9" height="68.1" fill="#000"/>
<line x1="502.75" y1="617.1" x2="502.75" y2="592.7" stroke="#111" stroke-width="1.3"/>
<path d="M500.55 592.1h4.4l-2.2 2.4z" fill="#111"/>
<path d="M324.5 685.2V573.3H515.8V685.2" fill="none" stroke="#4a4a4a" stroke-width="1.2"/>
<line x1="323.9" y1="685.2" x2="516.4" y2="685.2" stroke="#333" stroke-width="1.5"/>
<text x="313.73" y="687.63" font-size="7.05" textLength="4.63" lengthAdjust="spacingAndGlyphs" stroke="#000" stroke-width="0.35">0</text>
<text x="308.87" y="671.63" font-size="7.05" textLength="9.51" lengthAdjust="spacingAndGlyphs" stroke="#000" stroke-width="0.35">20</text>
<text x="309.04" y="655.63" font-size="7.05" textLength="9.33" lengthAdjust="spacingAndGlyphs" stroke="#000" stroke-width="0.35">40</text>
<text x="308.85" y="639.63" font-size="7.05" textLength="9.53" lengthAdjust="spacingAndGlyphs" stroke="#000" stroke-width="0.35">60</text>
<text x="308.89" y="623.63" font-size="7.05" textLength="9.48" lengthAdjust="spacingAndGlyphs" stroke="#000" stroke-width="0.35">80</text>
<text x="303.71" y="607.63" font-size="7.05" textLength="14.68" lengthAdjust="spacingAndGlyphs" stroke="#000" stroke-width="0.35">100</text>
<text x="303.71" y="591.63" font-size="7.05" textLength="14.68" lengthAdjust="spacingAndGlyphs" stroke="#000" stroke-width="0.35">120</text>
<text x="303.71" y="575.63" font-size="7.05" textLength="14.68" lengthAdjust="spacingAndGlyphs" stroke="#000" stroke-width="0.35">140</text>
<text x="341.47" y="696.03" font-size="8.36" textLength="11.34" lengthAdjust="spacingAndGlyphs" stroke="#000" stroke-width="0.35">WT</text>
<text x="389.03" y="696.03" font-size="8.36" textLength="12.13" lengthAdjust="spacingAndGlyphs" stroke="#000" stroke-width="0.35">KO</text>
<text x="437.07" y="696.03" font-size="8.36" textLength="11.34" lengthAdjust="spacingAndGlyphs" stroke="#000" stroke-width="0.35">WT</text>
<text x="487.36" y="696.03" font-size="8.36" textLength="11.59" lengthAdjust="spacingAndGlyphs" stroke="#000" stroke-width="0.35">KO</text>
<text x="361.16" y="708.33" font-size="7.92" textLength="16.16" lengthAdjust="spacingAndGlyphs" stroke="#000" stroke-width="0.35">BSA</text>
<text x="450.34" y="708.33" font-size="7.92" textLength="34.16" lengthAdjust="spacingAndGlyphs" stroke="#000" stroke-width="0.35">5d G-CSF</text>
<line x1="332.3" y1="699.2" x2="405.8" y2="699.2" stroke="#444" stroke-width="1.2"/>
<line x1="432.5" y1="699.2" x2="503.7" y2="699.2" stroke="#444" stroke-width="1.2"/>
<text transform="translate(285.2 671.3) rotate(-90)" x="-0.24" y="0" font-size="9.6" textLength="90.11" lengthAdjust="spacingAndGlyphs" stroke="#000" stroke-width="0.3">Absolute neutrophil</text>
<text transform="translate(295.9 667.2) rotate(-90)" x="-0.68" y="0" font-size="9.6" textLength="83.47" lengthAdjust="spacingAndGlyphs" stroke="#000" stroke-width="0.3">level/spleen (x10<tspan font-size="5.4" dy="-3.5">6</tspan><tspan dy="3.5">)</tspan></text>
<rect x="77" y="855.4" width="18.8" height="21.7" fill="#fff" stroke="#111" stroke-width="1.2"/>
<line x1="86.4" y1="854.8" x2="86.4" y2="849.9" stroke="#111" stroke-width="1.3"/>
<path d="M84.1 849.3h4.6l-2.3 2.4z" fill="#111"/>
<rect x="115.7" y="844" width="20.3" height="33.1" fill="#000"/>
<line x1="125.85" y1="844" x2="125.85" y2="837.8" stroke="#111" stroke-width="1.3"/>
<path d="M123.55 837.2h4.6l-2.3 2.4z" fill="#111"/>
<rect x="155.8" y="804.1" width="19" height="73" fill="#fff" stroke="#111" stroke-width="1.2"/>
<line x1="165.3" y1="803.5" x2="165.3" y2="790.4" stroke="#111" stroke-width="1.3"/>
<path d="M163 789.8h4.6l-2.3 2.4z" fill="#111"/>
<rect x="194.4" y="792.7" width="20.3" height="84.4" fill="#000"/>
<line x1="204.55" y1="792.7" x2="204.55" y2="776.3" stroke="#111" stroke-width="1.3"/>
<path d="M202.25 775.7h4.6l-2.3 2.4z" fill="#111"/>
<path d="M62.3 877.1V766.4H223.4V877.1" fill="none" stroke="#4a4a4a" stroke-width="1.2"/>
<line x1="61.7" y1="877.1" x2="224" y2="877.1" stroke="#333" stroke-width="1.5"/>
<text x="54.13" y="878.93" font-size="5.31" textLength="3.55" lengthAdjust="spacingAndGlyphs" stroke="#000" stroke-width="0.35">0</text>
<text x="50.33" y="860.48" font-size="5.31" textLength="7.36" lengthAdjust="spacingAndGlyphs" stroke="#000" stroke-width="0.35">50</text>
<text x="46.25" y="842.03" font-size="5.31" textLength="11.45" lengthAdjust="spacingAndGlyphs" stroke="#000" stroke-width="0.35">100</text>
<text x="46.25" y="823.58" font-size="5.31" textLength="11.45" lengthAdjust="spacingAndGlyphs" stroke="#000" stroke-width="0.35">150</text>
<text x="46.45" y="805.13" font-size="5.31" textLength="11.25" lengthAdjust="spacingAndGlyphs" stroke="#000" stroke-width="0.35">200</text>
<text x="46.45" y="786.68" font-size="5.31" textLength="11.25" lengthAdjust="spacingAndGlyphs" stroke="#000" stroke-width="0.35">250</text>
<text x="46.53" y="768.23" font-size="5.31" textLength="11.17" lengthAdjust="spacingAndGlyphs" stroke="#000" stroke-width="0.35">300</text>
<text x="80.17" y="888.33" font-size="8.94" textLength="14.06" lengthAdjust="spacingAndGlyphs" stroke="#000" stroke-width="0.35">WT</text>
<text x="118.03" y="888.33" font-size="8.94" textLength="14.5" lengthAdjust="spacingAndGlyphs" stroke="#000" stroke-width="0.35">KO</text>
<text x="159.07" y="888.33" font-size="8.94" textLength="13.96" lengthAdjust="spacingAndGlyphs" stroke="#000" stroke-width="0.35">WT</text>
<text x="196.42" y="888.33" font-size="8.94" textLength="14.61" lengthAdjust="spacingAndGlyphs" stroke="#000" stroke-width="0.35">KO</text>
<text x="94.15" y="901.12" font-size="9.23" textLength="19.72" lengthAdjust="spacingAndGlyphs" stroke="#000" stroke-width="0.35">BSA</text>
<text x="164.09" y="901.12" font-size="9.23" textLength="42.28" lengthAdjust="spacingAndGlyphs" stroke="#000" stroke-width="0.35">5d G-CSF</text>
<line x1="80.8" y1="892.3" x2="131.5" y2="892.3" stroke="#444" stroke-width="1.2"/>
<line x1="160.8" y1="892.3" x2="210" y2="892.3" stroke="#444" stroke-width="1.2"/>
<text transform="translate(30.2 847.1) rotate(-90)" x="-0.39" y="0" font-size="10.5" textLength="57.58" lengthAdjust="spacingAndGlyphs" stroke="#000" stroke-width="0.3">Cell number/</text>
<text transform="translate(40.7 847.9) rotate(-90)" x="-0.33" y="0" font-size="10.5" textLength="57.3" lengthAdjust="spacingAndGlyphs" stroke="#000" stroke-width="0.3">spleen (x10<tspan font-size="5.6" dy="-3.8">6</tspan><tspan dy="3.8">)</tspan></text>
<rect x="346.9" y="856.3" width="19" height="21.6" fill="#fff" stroke="#111" stroke-width="1.2"/>
<line x1="356.4" y1="855.7" x2="356.4" y2="851.3" stroke="#111" stroke-width="1.3"/>
<path d="M354.1 850.7h4.6l-2.3 2.4z" fill="#111"/>
<rect x="385.9" y="845.9" width="20.3" height="32" fill="#000"/>
<line x1="396.05" y1="845.9" x2="396.05" y2="838.6" stroke="#111" stroke-width="1.3"/>
<path d="M393.75 838h4.6l-2.3 2.4z" fill="#111"/>
<rect x="426.1" y="798.7" width="19" height="79.2" fill="#fff" stroke="#111" stroke-width="1.2"/>
<line x1="435.6" y1="798.1" x2="435.6" y2="790.7" stroke="#111" stroke-width="1.3"/>
<path d="M433.3 790.1h4.6l-2.3 2.4z" fill="#111"/>
<rect x="465" y="795.8" width="20.1" height="82.1" fill="#000"/>
<line x1="475.05" y1="795.8" x2="475.05" y2="783.1" stroke="#111" stroke-width="1.3"/>
<path d="M472.75 782.5h4.6l-2.3 2.4z" fill="#111"/>
<path d="M332.3 877.9V769.3H500.4V877.9" fill="none" stroke="#4a4a4a" stroke-width="1.2"/>
<line x1="331.7" y1="877.9" x2="501" y2="877.9" stroke="#333" stroke-width="1.5"/>
<text x="323.38" y="879.73" font-size="5.31" textLength="3.5" lengthAdjust="spacingAndGlyphs" stroke="#000" stroke-width="0.35">0</text>
<text x="315.6" y="858" font-size="5.31" textLength="11.3" lengthAdjust="spacingAndGlyphs" stroke="#000" stroke-width="0.35">100</text>
<text x="315.8" y="836.29" font-size="5.31" textLength="11.1" lengthAdjust="spacingAndGlyphs" stroke="#000" stroke-width="0.35">200</text>
<text x="315.88" y="814.57" font-size="5.31" textLength="11.02" lengthAdjust="spacingAndGlyphs" stroke="#000" stroke-width="0.35">300</text>
<text x="315.93" y="792.85" font-size="5.31" textLength="10.96" lengthAdjust="spacingAndGlyphs" stroke="#000" stroke-width="0.35">400</text>
<text x="315.83" y="771.12" font-size="5.31" textLength="11.07" lengthAdjust="spacingAndGlyphs" stroke="#000" stroke-width="0.35">500</text>
<text x="350.97" y="891.33" font-size="8.79" textLength="13.85" lengthAdjust="spacingAndGlyphs" stroke="#000" stroke-width="0.35">WT</text>
<text x="389.04" y="891.33" font-size="8.79" textLength="14.29" lengthAdjust="spacingAndGlyphs" stroke="#000" stroke-width="0.35">KO</text>
<text x="430.17" y="891.33" font-size="8.79" textLength="14.06" lengthAdjust="spacingAndGlyphs" stroke="#000" stroke-width="0.35">WT</text>
<text x="467.53" y="891.33" font-size="8.79" textLength="14.5" lengthAdjust="spacingAndGlyphs" stroke="#000" stroke-width="0.35">KO</text>
<text x="365.75" y="904.03" font-size="9.38" textLength="19.72" lengthAdjust="spacingAndGlyphs" stroke="#000" stroke-width="0.35">BSA</text>
<text x="435.28" y="904.03" font-size="9.08" textLength="43.39" lengthAdjust="spacingAndGlyphs" stroke="#000" stroke-width="0.35">5d G-CSF</text>
<line x1="352.6" y1="895.1" x2="402.3" y2="895.1" stroke="#444" stroke-width="1.2"/>
<line x1="431.5" y1="895.1" x2="480.8" y2="895.1" stroke="#444" stroke-width="1.2"/>
<text transform="translate(298.7 867) rotate(-90)" x="-0.1" y="0" font-size="10" textLength="86.77" lengthAdjust="spacingAndGlyphs" stroke="#000" stroke-width="0.3">Total hematopoietic</text>
<text transform="translate(309.6 871.8) rotate(-90)" x="-0.63" y="0" font-size="10" textLength="97.8" lengthAdjust="spacingAndGlyphs" stroke="#000" stroke-width="0.3">neutrophil level (x10<tspan font-size="5.6" dy="-3.8">6</tspan><tspan dy="3.8">)</tspan></text>
<text x="0.89" y="553.35" font-size="26.02" textLength="20.13" lengthAdjust="spacingAndGlyphs" stroke="#000" stroke-width="0.5">B</text>
<text x="274.11" y="553.75" font-size="25.44" textLength="19.99" lengthAdjust="spacingAndGlyphs" stroke="#000" stroke-width="0.5">C</text>
<text x="0.03" y="753.35" font-size="26.02" textLength="19.67" lengthAdjust="spacingAndGlyphs" stroke="#000" stroke-width="0.5">D</text>
<text x="288.6" y="753.75" font-size="26.6" textLength="18.43" lengthAdjust="spacingAndGlyphs" stroke="#000" stroke-width="0.5">E</text>
</svg>
</body></html>
